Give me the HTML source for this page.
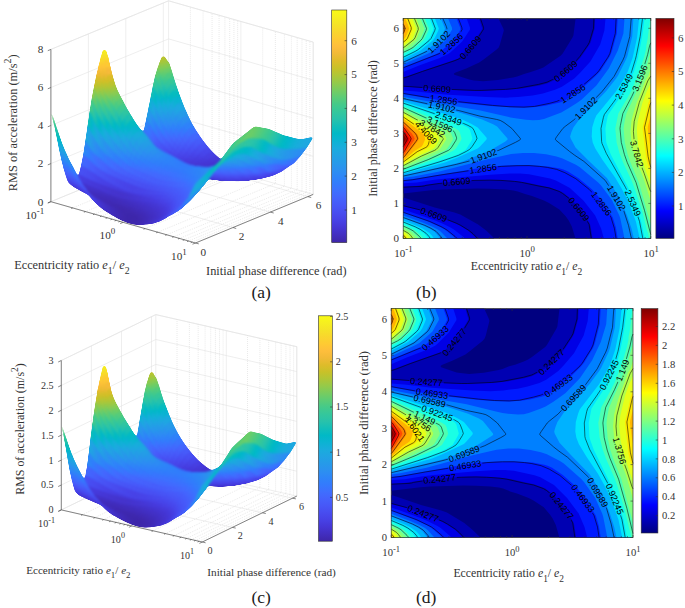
<!DOCTYPE html><html><head><meta charset="utf-8"><title>figure</title><style>html,body{margin:0;padding:0;background:#fff}svg{display:block}</style></head><body>
<svg width="685" height="608" viewBox="0 0 685 608" font-family="Liberation Serif">
<rect width="685" height="608" fill="#fff"/>
<defs><linearGradient id="gj" x1="0" y1="1" x2="0" y2="0"><stop offset="0.0000" stop-color="#000080"/><stop offset="0.0250" stop-color="#000099"/><stop offset="0.0500" stop-color="#0000b2"/><stop offset="0.0750" stop-color="#0000cc"/><stop offset="0.1000" stop-color="#0000e6"/><stop offset="0.1250" stop-color="#0000ff"/><stop offset="0.1500" stop-color="#001aff"/><stop offset="0.1750" stop-color="#0033ff"/><stop offset="0.2000" stop-color="#004dff"/><stop offset="0.2250" stop-color="#0066ff"/><stop offset="0.2500" stop-color="#0080ff"/><stop offset="0.2750" stop-color="#0099ff"/><stop offset="0.3000" stop-color="#00b2ff"/><stop offset="0.3250" stop-color="#00ccff"/><stop offset="0.3500" stop-color="#00e5ff"/><stop offset="0.3750" stop-color="#00ffff"/><stop offset="0.4000" stop-color="#1affe5"/><stop offset="0.4250" stop-color="#33ffcc"/><stop offset="0.4500" stop-color="#4dffb2"/><stop offset="0.4750" stop-color="#66ff99"/><stop offset="0.5000" stop-color="#80ff80"/><stop offset="0.5250" stop-color="#99ff66"/><stop offset="0.5500" stop-color="#b3ff4c"/><stop offset="0.5750" stop-color="#ccff33"/><stop offset="0.6000" stop-color="#e5ff1a"/><stop offset="0.6250" stop-color="#ffff00"/><stop offset="0.6500" stop-color="#ffe500"/><stop offset="0.6750" stop-color="#ffcc00"/><stop offset="0.7000" stop-color="#ffb300"/><stop offset="0.7250" stop-color="#ff9900"/><stop offset="0.7500" stop-color="#ff8000"/><stop offset="0.7750" stop-color="#ff6600"/><stop offset="0.8000" stop-color="#ff4c00"/><stop offset="0.8250" stop-color="#ff3300"/><stop offset="0.8500" stop-color="#ff1a00"/><stop offset="0.8750" stop-color="#ff0000"/><stop offset="0.9000" stop-color="#e50000"/><stop offset="0.9250" stop-color="#cc0000"/><stop offset="0.9500" stop-color="#b30000"/><stop offset="0.9750" stop-color="#990000"/><stop offset="1.0000" stop-color="#800000"/></linearGradient><linearGradient id="gp" x1="0" y1="1" x2="0" y2="0"><stop offset="0.0000" stop-color="#3e26a8"/><stop offset="0.0312" stop-color="#422ebf"/><stop offset="0.0625" stop-color="#4536d5"/><stop offset="0.0938" stop-color="#4741e5"/><stop offset="0.1250" stop-color="#484cef"/><stop offset="0.1562" stop-color="#4757f7"/><stop offset="0.1875" stop-color="#4562fc"/><stop offset="0.2188" stop-color="#3f6efe"/><stop offset="0.2500" stop-color="#347afd"/><stop offset="0.2812" stop-color="#2e85f8"/><stop offset="0.3125" stop-color="#2c90f0"/><stop offset="0.3438" stop-color="#269ae9"/><stop offset="0.3750" stop-color="#21a3e3"/><stop offset="0.4062" stop-color="#1aacdd"/><stop offset="0.4375" stop-color="#0cb3d3"/><stop offset="0.4688" stop-color="#01b9c6"/><stop offset="0.5000" stop-color="#12beb9"/><stop offset="0.5312" stop-color="#28c2ab"/><stop offset="0.5625" stop-color="#34c79c"/><stop offset="0.5938" stop-color="#44ca8a"/><stop offset="0.6250" stop-color="#5ccc76"/><stop offset="0.6562" stop-color="#77cc60"/><stop offset="0.6875" stop-color="#94ca4a"/><stop offset="0.7188" stop-color="#afc637"/><stop offset="0.7500" stop-color="#c8c129"/><stop offset="0.7812" stop-color="#debc2a"/><stop offset="0.8125" stop-color="#f1ba37"/><stop offset="0.8438" stop-color="#febe3c"/><stop offset="0.8750" stop-color="#feca33"/><stop offset="0.9062" stop-color="#f9d62d"/><stop offset="0.9375" stop-color="#f5e327"/><stop offset="0.9688" stop-color="#f6ef20"/><stop offset="1.0000" stop-color="#f9fb15"/></linearGradient><filter id="sm" x="-5%" y="-5%" width="110%" height="110%" color-interpolation-filters="sRGB"><feGaussianBlur stdDeviation="0.9"/><feComponentTransfer><feFuncA type="linear" slope="5" intercept="-2"/></feComponentTransfer></filter></defs>
<path d="M50.9,201.7L168.6,153.1L313.2,194.4M50.9,163.6L168.6,115L313.2,156.3M50.9,125.5L168.6,76.9L313.2,118.2M50.9,87.5L168.6,38.9L313.2,80.2M50.9,49.4L168.6,0.8L313.2,42.1M195.5,243L50.9,201.7L50.9,49.4M233,227.5L88.4,186.2L88.4,33.9M270.4,212.1L125.8,170.8L125.8,18.4M307.9,196.6L163.3,155.3L163.3,3M50.9,201.7L168.6,153.1L168.6,0.8M123.2,222.3L240.9,173.8L240.9,21.4M195.5,243L313.2,194.4L313.2,42.1M50.9,49.4L168.6,0.8L313.2,42.1M313.2,194.4L313.2,42.1" fill="none" stroke="#e2e2e2" stroke-width="0.6"/>
<path d="M72.7,207.9L190.4,159.3L190.4,7M85.4,211.6L203.1,163L203.1,10.6M94.4,214.1L212.1,165.5L212.1,13.2M101.4,216.1L219.1,167.5L219.1,15.2M107.2,217.8L224.9,169.2L224.9,16.8M112,219.2L229.7,170.6L229.7,18.2M116.2,220.3L233.9,171.7L233.9,19.4M119.9,221.4L237.6,172.8L237.6,20.5M145,228.6L262.7,180L262.7,27.6M157.7,232.2L275.4,183.6L275.4,31.3M166.7,234.8L284.4,186.2L284.4,33.9M173.7,236.8L291.4,188.2L291.4,35.9M179.5,238.4L297.2,189.8L297.2,37.5M184.3,239.8L302,191.2L302,38.9M188.5,241L306.2,192.4L306.2,40.1M192.2,242.1L309.9,193.5L309.9,41.1" fill="none" stroke="#d4d4d4" stroke-width="0.6" stroke-dasharray="0.8,1.2"/>
<g stroke-width="0.7" stroke-linejoin="round" fill="currentColor" stroke="currentColor" filter="url(#sm)">
<path d="M166.4,60l0.3,0.8l2.2,2.5l-0.3,-0.7Z" color="#9cc944"/>
<path d="M164.2,56.4l0.3,1.1l2.2,3.3l-0.3,-0.8Z" color="#b6c532"/>
<path d="M162.1,56.9l0.3,1.2l2.1,-0.6l-0.3,-1.1Z" color="#c5c22a"/>
<path d="M159.9,62.4l0.3,0.8l2.2,-5.1l-0.3,-1.2Z" color="#b8c431"/>
<path d="M157.7,68.7l0.3,0.6l2.2,-6.1l-0.3,-0.8Z" color="#98c947"/>
<path d="M155.5,75.8l0.3,0.7l2.2,-7.2l-0.3,-0.6Z" color="#70cd65"/>
<path d="M153.3,85.6l0.3,0.6l2.2,-9.7l-0.3,-0.7Z" color="#41ca8c"/>
<path d="M151.2,96.5l0.3,0.6l2.1,-10.9l-0.3,-0.6Z" color="#20c1b1"/>
<path d="M149,107.5l0.3,0.5l2.2,-10.9l-0.3,-0.6Z" color="#09b4d1"/>
<path d="M146.8,118.2l0.3,0.5l2.2,-10.7l-0.3,-0.5Z" color="#23a0e5"/>
<path d="M144.6,128.7l0.3,0.5l2.2,-10.5l-0.3,-0.5Z" color="#2d89f5"/>
<path d="M142.4,138.6l0.3,0.4l2.2,-9.8l-0.3,-0.5Z" color="#3f6fff"/>
<path d="M140.3,144.8l0.3,0.2l2.1,-6l-0.3,-0.4Z" color="#475bf9"/>
<path d="M138.1,150.3l0.3,0.3l2.2,-5.6l-0.3,-0.2Z" color="#484ef1"/>
<path d="M135.9,155.6l0.3,0.2l2.2,-5.2l-0.3,-0.3Z" color="#4741e5"/>
<path d="M133.7,157.9l0.3,0.1l2.2,-2.2l-0.3,-0.2Z" color="#463adb"/>
<path d="M131.5,153.6l0.3,0.1l2.2,4.3l-0.3,-0.1Z" color="#473fe2"/>
<path d="M129.4,147.7l0.3,0.1l2.1,5.9l-0.3,-0.1Z" color="#484ff2"/>
<path d="M127.2,140.4l0.3,0.3l2.2,7.1l-0.3,-0.1Z" color="#4563fd"/>
<path d="M125,131.4l0.3,0.3l2.2,9l-0.3,-0.3Z" color="#317efb"/>
<path d="M122.8,121.4l0.3,0.5l2.2,9.8l-0.3,-0.3Z" color="#2798ea"/>
<path d="M120.6,111.4l0.3,0.6l2.2,9.9l-0.3,-0.5Z" color="#15afd8"/>
<path d="M118.5,101.9l0.3,0.6l2.1,9.5l-0.3,-0.6Z" color="#14beb8"/>
<path d="M116.3,92.5l0.3,0.7l2.2,9.3l-0.3,-0.6Z" color="#3cc991"/>
<path d="M114.1,84.1l0.3,0.7l2.2,8.4l-0.3,-0.7Z" color="#77cc60"/>
<path d="M111.9,75.9l0.3,0.9l2.2,8l-0.3,-0.7Z" color="#b5c533"/>
<path d="M109.8,66.5l0.2,1.4l2.2,8.9l-0.3,-0.9Z" color="#e9bb30"/>
<path d="M107.6,56.7l0.3,1.7l2.1,9.5l-0.2,-1.4Z" color="#fdcb33"/>
<path d="M105.4,50.1l0.3,1.2l2.2,7.1l-0.3,-1.7Z" color="#f5e725"/>
<path d="M103.2,50.3l0.3,1.2l2.2,-0.2l-0.3,-1.2Z" color="#f7f31c"/>
<path d="M101,57.8l0.3,1.4l2.2,-7.7l-0.3,-1.2Z" color="#f5eb23"/>
<path d="M98.9,66.1l0.3,1.5l2.1,-8.4l-0.3,-1.4Z" color="#fad52d"/>
<path d="M96.7,75.2l0.3,1.6l2.2,-9.2l-0.3,-1.5Z" color="#febe3c"/>
<path d="M94.5,85.9l0.3,1.2l2.2,-10.3l-0.3,-1.6Z" color="#dabd28"/>
<path d="M92.3,97.4l0.3,0.9l2.2,-11.2l-0.3,-1.2Z" color="#9dc943"/>
<path d="M90.1,111.1l0.3,0.7l2.2,-13.5l-0.3,-0.9Z" color="#4fcc80"/>
<path d="M88,125.6l0.3,0.6l2.1,-14.4l-0.3,-0.7Z" color="#19bfb5"/>
<path d="M85.8,140.7l0.3,0.5l2.2,-15l-0.3,-0.6Z" color="#1babde"/>
<path d="M83.6,155.1l0.3,0.2l2.2,-14.1l-0.3,-0.5Z" color="#2d8bf4"/>
<path d="M81.4,166l0.3,0.1l2.2,-10.8l-0.3,-0.2Z" color="#426afe"/>
<path d="M79.2,174.8l0.3,0.1l2.2,-8.8l-0.3,-0.1Z" color="#4852f4"/>
<path d="M77.1,180.6l0.3,0.1l2.1,-5.8l-0.3,-0.1Z" color="#4740e4"/>
<path d="M74.9,185l0.3,0.1l2.2,-4.4l-0.3,-0.1Z" color="#4536d3"/>
<path d="M72.7,185.7l0.3,0.2l2.2,-0.8l-0.3,-0.1Z" color="#4332cb"/>
<path d="M70.5,183.9l0.3,0.2l2.2,1.8l-0.3,-0.2Z" color="#4535d2"/>
<path d="M68.3,181.8l0.3,0.2l2.2,2.1l-0.3,-0.2Z" color="#463cde"/>
<path d="M66.2,175.6l0.3,0.3l2.1,6.1l-0.3,-0.2Z" color="#484aed"/>
<path d="M64,168.2l0.3,0.4l2.2,7.3l-0.3,-0.3Z" color="#465efb"/>
<path d="M61.8,159.5l0.3,0.5l2.2,8.6l-0.3,-0.4Z" color="#3678fd"/>
<path d="M59.6,149.4l0.3,0.6l2.2,10l-0.3,-0.5Z" color="#2a93ed"/>
<path d="M57.4,138.2l0.3,0.6l2.2,11.2l-0.3,-0.6Z" color="#19addc"/>
<path d="M55.3,128.1l0.3,0.6l2.1,10.1l-0.3,-0.6Z" color="#11beb9"/>
<path d="M53.1,118.3l0.3,0.7l2.2,9.7l-0.3,-0.6Z" color="#3cc991"/>
<path d="M50.9,112.3l0.3,0.9l2.2,5.8l-0.3,-0.7Z" color="#70cd65"/>
<path d="M166.7,60.8l0.7,2l2.2,2.2l-0.7,-1.7Z" color="#95ca4a"/>
<path d="M164.5,57.5l0.7,2.7l2.2,2.6l-0.7,-2Z" color="#acc738"/>
<path d="M162.4,58.1l0.6,2.8l2.2,-0.7l-0.7,-2.7Z" color="#bac430"/>
<path d="M160.2,63.2l0.7,2.1l2.1,-4.4l-0.6,-2.8Z" color="#aec637"/>
<path d="M158,69.3l0.7,1.5l2.2,-5.5l-0.7,-2.1Z" color="#91ca4d"/>
<path d="M155.8,76.5l0.7,2l2.2,-7.7l-0.7,-1.5Z" color="#68cd6b"/>
<path d="M153.6,86.2l0.7,1.7l2.2,-9.4l-0.7,-2Z" color="#3cc991"/>
<path d="M151.5,97.1l0.6,1.5l2.2,-10.7l-0.7,-1.7Z" color="#1bc0b4"/>
<path d="M149.3,108l0.7,1.5l2.1,-10.9l-0.6,-1.5Z" color="#0db3d4"/>
<path d="M147.1,118.7l0.7,1.5l2.2,-10.7l-0.7,-1.5Z" color="#249ee6"/>
<path d="M144.9,129.2l0.7,1.3l2.2,-10.3l-0.7,-1.5Z" color="#2e87f7"/>
<path d="M142.7,139l0.7,0.9l2.2,-9.4l-0.7,-1.3Z" color="#406dfe"/>
<path d="M140.6,145l0.6,0.7l2.2,-5.8l-0.7,-0.9Z" color="#475af9"/>
<path d="M138.4,150.6l0.7,0.6l2.1,-5.5l-0.6,-0.7Z" color="#484df0"/>
<path d="M136.2,155.8l0.7,0.2l2.2,-4.8l-0.7,-0.6Z" color="#4741e5"/>
<path d="M134,158l0.7,0.2l2.2,-2.2l-0.7,-0.2Z" color="#463adb"/>
<path d="M131.8,153.7l0.7,0.3l2.2,4.2l-0.7,-0.2Z" color="#473fe2"/>
<path d="M129.7,147.8l0.6,0.4l2.2,5.8l-0.7,-0.3Z" color="#484ff2"/>
<path d="M127.5,140.7l0.7,0.6l2.1,6.9l-0.6,-0.4Z" color="#4563fc"/>
<path d="M125.3,131.7l0.7,0.8l2.2,8.8l-0.7,-0.6Z" color="#317dfc"/>
<path d="M123.1,121.9l0.7,1.1l2.2,9.5l-0.7,-0.8Z" color="#2797eb"/>
<path d="M120.9,112l0.7,1.3l2.2,9.7l-0.7,-1.1Z" color="#17aeda"/>
<path d="M118.8,102.5l0.6,1.6l2.2,9.2l-0.7,-1.3Z" color="#0ebebb"/>
<path d="M116.6,93.2l0.7,1.7l2.1,9.2l-0.6,-1.6Z" color="#38c896"/>
<path d="M114.4,84.8l0.7,1.9l2.2,8.2l-0.7,-1.7Z" color="#6fcd66"/>
<path d="M112.2,76.8l0.7,2.4l2.2,7.5l-0.7,-1.9Z" color="#adc638"/>
<path d="M110,67.9l0.7,3.3l2.2,8l-0.7,-2.4Z" color="#e1bc2b"/>
<path d="M107.9,58.4l0.6,4.3l2.2,8.5l-0.7,-3.3Z" color="#fec438"/>
<path d="M105.7,51.3l0.7,3.2l2.1,8.2l-0.6,-4.3Z" color="#f6df29"/>
<path d="M103.5,51.5l0.7,3.3l2.2,-0.3l-0.7,-3.2Z" color="#f5ed21"/>
<path d="M101.3,59.2l0.7,3.6l2.2,-8l-0.7,-3.3Z" color="#f5e427"/>
<path d="M99.2,67.6l0.6,3.7l2.2,-8.5l-0.7,-3.6Z" color="#fdce31"/>
<path d="M97,76.8l0.6,3.8l2.2,-9.3l-0.6,-3.7Z" color="#f7ba3c"/>
<path d="M94.8,87.1l0.7,2.8l2.1,-9.3l-0.6,-3.8Z" color="#cec028"/>
<path d="M92.6,98.3l0.7,2.4l2.2,-10.8l-0.7,-2.8Z" color="#92ca4c"/>
<path d="M90.4,111.8l0.7,1.9l2.2,-13l-0.7,-2.4Z" color="#47cb87"/>
<path d="M88.3,126.2l0.6,1.4l2.2,-13.9l-0.7,-1.9Z" color="#13beb8"/>
<path d="M86.1,141.2l0.6,1.4l2.2,-15l-0.6,-1.4Z" color="#1ca9df"/>
<path d="M83.9,155.3l0.7,0.5l2.1,-13.2l-0.6,-1.4Z" color="#2d8af5"/>
<path d="M81.7,166.1l0.7,0.3l2.2,-10.6l-0.7,-0.5Z" color="#426afe"/>
<path d="M79.5,174.9l0.7,0.3l2.2,-8.8l-0.7,-0.3Z" color="#4851f4"/>
<path d="M77.4,180.7l0.6,0.3l2.2,-5.8l-0.7,-0.3Z" color="#4740e4"/>
<path d="M75.2,185.1l0.6,0.3l2.2,-4.4l-0.6,-0.3Z" color="#4536d3"/>
<path d="M73,185.9l0.7,0.4l2.1,-0.9l-0.6,-0.3Z" color="#4332ca"/>
<path d="M70.8,184.1l0.7,0.4l2.2,1.8l-0.7,-0.4Z" color="#4435d1"/>
<path d="M68.6,182l0.7,0.5l2.2,2l-0.7,-0.4Z" color="#463bde"/>
<path d="M66.5,175.9l0.6,0.7l2.2,5.9l-0.7,-0.5Z" color="#4849ed"/>
<path d="M64.3,168.6l0.6,1l2.2,7l-0.6,-0.7Z" color="#465dfa"/>
<path d="M62.1,160l0.7,1.2l2.1,8.4l-0.6,-1Z" color="#3776fe"/>
<path d="M59.9,150l0.7,1.3l2.2,9.9l-0.7,-1.2Z" color="#2b91ef"/>
<path d="M57.7,138.8l0.7,1.6l2.2,10.9l-0.7,-1.3Z" color="#1aabdd"/>
<path d="M55.6,128.7l0.6,1.6l2.2,10.1l-0.7,-1.6Z" color="#0bbdbd"/>
<path d="M53.4,119l0.6,2l2.2,9.3l-0.6,-1.6Z" color="#38c896"/>
<path d="M51.2,113.2l0.7,2.2l2.1,5.6l-0.6,-2Z" color="#67cd6c"/>
<path d="M167.4,62.8l1,3.1l2.1,1.8l-0.9,-2.7Z" color="#86cb55"/>
<path d="M165.2,60.2l1,3.6l2.2,2.1l-1,-3.1Z" color="#9bc945"/>
<path d="M163,60.9l1,3.8l2.2,-0.9l-1,-3.6Z" color="#a6c73c"/>
<path d="M160.9,65.3l0.9,3.4l2.2,-4l-1,-3.8Z" color="#9bc944"/>
<path d="M158.7,70.8l0.9,2.5l2.2,-4.6l-0.9,-3.4Z" color="#81cc58"/>
<path d="M156.5,78.5l1,3.1l2.1,-8.3l-0.9,-2.5Z" color="#5bcc76"/>
<path d="M154.3,87.9l1,2.5l2.2,-8.8l-1,-3.1Z" color="#35c79a"/>
<path d="M152.1,98.6l1,2.3l2.2,-10.5l-1,-2.5Z" color="#10beba"/>
<path d="M150,109.5l0.9,2.3l2.2,-10.9l-1,-2.3Z" color="#14b0d8"/>
<path d="M147.8,120.2l0.9,2.1l2.2,-10.5l-0.9,-2.3Z" color="#259be8"/>
<path d="M145.6,130.5l1,1.9l2.1,-10.1l-0.9,-2.1Z" color="#2e83f9"/>
<path d="M143.4,139.9l1,1.2l2.2,-8.7l-1,-1.9Z" color="#426afe"/>
<path d="M141.2,145.7l1,1.1l2.2,-5.7l-1,-1.2Z" color="#4758f8"/>
<path d="M139.1,151.2l0.9,1l2.2,-5.4l-1,-1.1Z" color="#484bef"/>
<path d="M136.9,156l0.9,0.4l2.2,-4.2l-0.9,-1Z" color="#4740e3"/>
<path d="M134.7,158.2l1,0.3l2.1,-2.1l-0.9,-0.4Z" color="#463ada"/>
<path d="M132.5,154l1,0.5l2.2,4l-1,-0.3Z" color="#473ee1"/>
<path d="M130.3,148.2l1,0.5l2.2,5.8l-1,-0.5Z" color="#484ef1"/>
<path d="M128.2,141.3l0.9,1l2.2,6.4l-1,-0.5Z" color="#4562fc"/>
<path d="M126,132.5l0.9,1.2l2.2,8.6l-0.9,-1Z" color="#337bfd"/>
<path d="M123.8,123l1,1.6l2.1,9.1l-0.9,-1.2Z" color="#2995ec"/>
<path d="M121.6,113.3l1,2.1l2.2,9.2l-1,-1.6Z" color="#1aacdd"/>
<path d="M119.4,104.1l1,2.4l2.2,8.9l-1,-2.1Z" color="#06bcc0"/>
<path d="M117.3,94.9l0.9,2.7l2.2,8.9l-1,-2.4Z" color="#33c69d"/>
<path d="M115.1,86.7l0.9,2.8l2.2,8.1l-0.9,-2.7Z" color="#61cd71"/>
<path d="M112.9,79.2l1,3.3l2.1,7l-0.9,-2.8Z" color="#9dc943"/>
<path d="M110.7,71.2l1,4.4l2.2,6.9l-1,-3.3Z" color="#d0bf27"/>
<path d="M108.5,62.7l1,6.2l2.2,6.7l-1,-4.4Z" color="#f8ba3d"/>
<path d="M106.4,54.5l0.9,5.6l2.2,8.8l-1,-6.2Z" color="#fbd12f"/>
<path d="M104.2,54.8l0.9,5.3l2.2,0l-0.9,-5.6Z" color="#f5e128"/>
<path d="M102,62.8l1,5.7l2.1,-8.4l-0.9,-5.3Z" color="#f9d72c"/>
<path d="M99.8,71.3l1,5.7l2.2,-8.5l-1,-5.7Z" color="#fec13a"/>
<path d="M97.6,80.6l1,5.1l2.2,-8.7l-1,-5.7Z" color="#e4bb2c"/>
<path d="M95.5,89.9l0.9,3.9l2.2,-8.1l-1,-5.1Z" color="#b8c431"/>
<path d="M93.3,100.7l0.9,3.4l2.2,-10.3l-0.9,-3.9Z" color="#7dcc5b"/>
<path d="M91.1,113.7l1,2.8l2.1,-12.4l-0.9,-3.4Z" color="#3cc992"/>
<path d="M88.9,127.6l1,2.1l2.2,-13.2l-1,-2.8Z" color="#08bcbf"/>
<path d="M86.7,142.6l1,1.9l2.2,-14.8l-1,-2.1Z" color="#1fa6e2"/>
<path d="M84.6,155.8l0.9,0.8l2.2,-12.1l-1,-1.9Z" color="#2d87f6"/>
<path d="M82.4,166.4l0.9,0.5l2.2,-10.3l-0.9,-0.8Z" color="#4269fe"/>
<path d="M80.2,175.2l1,0.5l2.1,-8.8l-0.9,-0.5Z" color="#4851f3"/>
<path d="M78,181l1,0.4l2.2,-5.7l-1,-0.5Z" color="#4740e3"/>
<path d="M75.8,185.4l1,0.3l2.2,-4.3l-1,-0.4Z" color="#4535d2"/>
<path d="M73.7,186.3l0.9,0.5l2.2,-1.1l-1,-0.3Z" color="#4332c9"/>
<path d="M71.5,184.5l0.9,0.6l2.2,1.7l-0.9,-0.5Z" color="#4434d0"/>
<path d="M69.3,182.5l1,0.7l2.1,1.9l-0.9,-0.6Z" color="#463bdc"/>
<path d="M67.1,176.6l1,1.1l2.2,5.5l-1,-0.7Z" color="#4747eb"/>
<path d="M64.9,169.6l1,1.5l2.2,6.6l-1,-1.1Z" color="#475bf9"/>
<path d="M62.8,161.2l0.9,1.7l2.2,8.2l-1,-1.5Z" color="#3b73fe"/>
<path d="M60.6,151.3l0.9,2.1l2.2,9.5l-0.9,-1.7Z" color="#2c8ef1"/>
<path d="M58.4,140.4l1,2.4l2.1,10.6l-0.9,-2.1Z" color="#1da8e0"/>
<path d="M56.2,130.3l1,2.5l2.2,10l-1,-2.4Z" color="#03bbc2"/>
<path d="M54,121l1,3.1l2.2,8.7l-1,-2.5Z" color="#32c69e"/>
<path d="M51.9,115.4l0.9,3.3l2.2,5.4l-1,-3.1Z" color="#58cc79"/>
<path d="M168.4,65.9l1.2,3.9l2.1,1.7l-1.2,-3.8Z" color="#70cd65"/>
<path d="M166.2,63.8l1.2,4.1l2.2,1.9l-1.2,-3.9Z" color="#83cc57"/>
<path d="M164,64.7l1.2,4.2l2.2,-1l-1.2,-4.1Z" color="#8ecb4f"/>
<path d="M161.8,68.7l1.2,4l2.2,-3.8l-1.2,-4.2Z" color="#83cc57"/>
<path d="M159.6,73.3l1.2,3.5l2.2,-4.1l-1.2,-4Z" color="#6ccd68"/>
<path d="M157.5,81.6l1.2,3.8l2.1,-8.6l-1.2,-3.5Z" color="#4acb85"/>
<path d="M155.3,90.4l1.2,3.1l2.2,-8.1l-1.2,-3.8Z" color="#2ec4a5"/>
<path d="M153.1,100.9l1.2,2.9l2.2,-10.3l-1.2,-3.1Z" color="#04bbc2"/>
<path d="M150.9,111.8l1.2,2.8l2.2,-10.8l-1.2,-2.9Z" color="#1aabdd"/>
<path d="M148.7,122.3l1.3,2.6l2.1,-10.3l-1.2,-2.8Z" color="#2896ec"/>
<path d="M146.6,132.4l1.2,2.4l2.2,-9.9l-1.3,-2.6Z" color="#317efb"/>
<path d="M144.4,141.1l1.2,1.5l2.2,-7.8l-1.2,-2.4Z" color="#4466fd"/>
<path d="M142.2,146.8l1.2,1.3l2.2,-5.5l-1.2,-1.5Z" color="#4755f6"/>
<path d="M140,152.2l1.2,1.1l2.2,-5.2l-1.2,-1.3Z" color="#4849ed"/>
<path d="M137.8,156.4l1.3,0.5l2.1,-3.6l-1.2,-1.1Z" color="#473fe2"/>
<path d="M135.7,158.5l1.2,0.4l2.2,-2l-1.3,-0.5Z" color="#4639da"/>
<path d="M133.5,154.5l1.2,0.6l2.2,3.8l-1.2,-0.4Z" color="#463ee1"/>
<path d="M131.3,148.7l1.2,0.7l2.2,5.7l-1.2,-0.6Z" color="#484ef1"/>
<path d="M129.1,142.3l1.2,1.3l2.2,5.8l-1.2,-0.7Z" color="#4660fc"/>
<path d="M126.9,133.7l1.3,1.4l2.1,8.5l-1.2,-1.3Z" color="#3678fd"/>
<path d="M124.8,124.6l1.2,2l2.2,8.5l-1.3,-1.4Z" color="#2b92ef"/>
<path d="M122.6,115.4l1.2,2.4l2.2,8.8l-1.2,-2Z" color="#1da8e0"/>
<path d="M120.4,106.5l1.2,2.9l2.2,8.4l-1.2,-2.4Z" color="#01b9c7"/>
<path d="M118.2,97.6l1.2,3.2l2.2,8.6l-1.2,-2.9Z" color="#2cc4a7"/>
<path d="M116,89.5l1.3,3.3l2.1,8l-1.2,-3.2Z" color="#51cc7f"/>
<path d="M113.9,82.5l1.2,3.6l2.2,6.7l-1.3,-3.3Z" color="#89cb53"/>
<path d="M111.7,75.6l1.2,4.5l2.2,6l-1.2,-3.6Z" color="#bbc42f"/>
<path d="M109.5,68.9l1.2,5.8l2.2,5.4l-1.2,-4.5Z" color="#e3bc2c"/>
<path d="M107.3,60.1l1.2,7.6l2.2,7l-1.2,-5.8Z" color="#fec03b"/>
<path d="M105.1,60.1l1.3,7.3l2.1,0.3l-1.2,-7.6Z" color="#fdce31"/>
<path d="M103,68.5l1.2,6.9l2.2,-8l-1.3,-7.3Z" color="#fec537"/>
<path d="M100.8,77l1.2,6.2l2.2,-7.8l-1.2,-6.9Z" color="#eeba34"/>
<path d="M98.6,85.7l1.2,4.8l2.2,-7.3l-1.2,-6.2Z" color="#c9c129"/>
<path d="M96.4,93.8l1.2,4.3l2.2,-7.6l-1.2,-4.8Z" color="#9dc943"/>
<path d="M94.2,104.1l1.3,4l2.1,-10l-1.2,-4.3Z" color="#64cd6f"/>
<path d="M92.1,116.5l1.2,3.3l2.2,-11.7l-1.3,-4Z" color="#32c69e"/>
<path d="M89.9,129.7l1.2,2.6l2.2,-12.5l-1.2,-3.3Z" color="#01b9c6"/>
<path d="M87.7,144.5l1.2,2.3l2.2,-14.5l-1.2,-2.6Z" color="#22a2e4"/>
<path d="M85.5,156.6l1.2,1l2.2,-10.8l-1.2,-2.3Z" color="#2e84f8"/>
<path d="M83.3,166.9l1.3,0.7l2.1,-10l-1.2,-1Z" color="#4368fd"/>
<path d="M81.2,175.7l1.2,0.6l2.2,-8.7l-1.3,-0.7Z" color="#4850f3"/>
<path d="M79,181.4l1.2,0.6l2.2,-5.7l-1.2,-0.6Z" color="#473fe2"/>
<path d="M76.8,185.7l1.2,0.5l2.2,-4.2l-1.2,-0.6Z" color="#4435d1"/>
<path d="M74.6,186.8l1.2,0.7l2.2,-1.3l-1.2,-0.5Z" color="#4331c8"/>
<path d="M72.4,185.1l1.3,0.9l2.1,1.5l-1.2,-0.7Z" color="#4434ce"/>
<path d="M70.3,183.2l1.2,1l2.2,1.8l-1.3,-0.9Z" color="#4639da"/>
<path d="M68.1,177.7l1.2,1.3l2.2,5.2l-1.2,-1Z" color="#4745e9"/>
<path d="M65.9,171.1l1.2,1.9l2.2,6l-1.2,-1.3Z" color="#4758f8"/>
<path d="M63.7,162.9l1.2,2.2l2.2,7.9l-1.2,-1.9Z" color="#3f6eff"/>
<path d="M61.5,153.4l1.3,2.4l2.1,9.3l-1.2,-2.2Z" color="#2d89f5"/>
<path d="M59.4,142.8l1.2,3l2.2,10l-1.3,-2.4Z" color="#21a3e3"/>
<path d="M57.2,132.8l1.2,3.1l2.2,9.9l-1.2,-3Z" color="#01b8ca"/>
<path d="M55,124.1l1.2,3.8l2.2,8l-1.2,-3.1Z" color="#2ac3a9"/>
<path d="M52.8,118.7l1.2,4.3l2.2,4.9l-1.2,-3.8Z" color="#44cb89"/>
<path d="M169.6,69.8l1.4,4.8l2.2,1.9l-1.5,-5Z" color="#56cc7b"/>
<path d="M167.4,67.9l1.4,4.8l2.2,1.9l-1.4,-4.8Z" color="#67cd6c"/>
<path d="M165.2,68.9l1.5,4.7l2.1,-0.9l-1.4,-4.8Z" color="#71cd64"/>
<path d="M163,72.7l1.5,4.7l2.2,-3.8l-1.5,-4.7Z" color="#67cd6d"/>
<path d="M160.8,76.8l1.5,4.5l2.2,-3.9l-1.5,-4.7Z" color="#54cc7d"/>
<path d="M158.7,85.4l1.4,4.2l2.2,-8.3l-1.5,-4.5Z" color="#39c895"/>
<path d="M156.5,93.5l1.4,3.6l2.2,-7.5l-1.4,-4.2Z" color="#21c1b0"/>
<path d="M154.3,103.8l1.5,3.6l2.1,-10.3l-1.4,-3.6Z" color="#02b7cb"/>
<path d="M152.1,114.6l1.5,3.3l2.2,-10.5l-1.5,-3.6Z" color="#1fa6e2"/>
<path d="M150,124.9l1.4,2.9l2.2,-9.9l-1.5,-3.3Z" color="#2c8ff0"/>
<path d="M147.8,134.8l1.4,2.5l2.2,-9.5l-1.4,-2.9Z" color="#3677fe"/>
<path d="M145.6,142.6l1.4,1.6l2.2,-6.9l-1.4,-2.5Z" color="#4561fc"/>
<path d="M143.4,148.1l1.5,1.5l2.1,-5.4l-1.4,-1.6Z" color="#4852f4"/>
<path d="M141.2,153.3l1.5,1.1l2.2,-4.8l-1.5,-1.5Z" color="#4746eb"/>
<path d="M139.1,156.9l1.4,0.6l2.2,-3.1l-1.5,-1.1Z" color="#463ee0"/>
<path d="M136.9,158.9l1.4,0.4l2.2,-1.8l-1.4,-0.6Z" color="#4639da"/>
<path d="M134.7,155.1l1.4,0.8l2.2,3.4l-1.4,-0.4Z" color="#463ee1"/>
<path d="M132.5,149.4l1.5,0.8l2.1,5.7l-1.4,-0.8Z" color="#484df0"/>
<path d="M130.3,143.6l1.5,1.4l2.2,5.2l-1.5,-0.8Z" color="#465efb"/>
<path d="M128.2,135.1l1.4,1.7l2.2,8.2l-1.5,-1.4Z" color="#3975fe"/>
<path d="M126,126.6l1.4,2.1l2.2,8.1l-1.4,-1.7Z" color="#2c8ef1"/>
<path d="M123.8,117.8l1.4,2.7l2.2,8.2l-1.4,-2.1Z" color="#20a4e3"/>
<path d="M121.6,109.4l1.5,3.1l2.1,8l-1.4,-2.7Z" color="#06b5ce"/>
<path d="M119.4,100.8l1.5,3.6l2.2,8.1l-1.5,-3.1Z" color="#20c1b1"/>
<path d="M117.3,92.8l1.4,3.8l2.2,7.8l-1.5,-3.6Z" color="#3fca8e"/>
<path d="M115.1,86.1l1.4,3.8l2.2,6.7l-1.4,-3.8Z" color="#71cd64"/>
<path d="M112.9,80.1l1.5,4.3l2.1,5.5l-1.4,-3.8Z" color="#a3c83e"/>
<path d="M110.7,74.7l1.5,4.7l2.2,5l-1.5,-4.3Z" color="#cbc029"/>
<path d="M108.5,67.7l1.5,7.3l2.2,4.4l-1.5,-4.7Z" color="#ebba32"/>
<path d="M106.4,67.4l1.4,7.8l2.2,-0.2l-1.5,-7.3Z" color="#fabb3d"/>
<path d="M104.2,75.4l1.4,6.7l2.2,-6.9l-1.4,-7.8Z" color="#f0ba36"/>
<path d="M102,83.2l1.5,5.3l2.1,-6.4l-1.4,-6.7Z" color="#d0bf27"/>
<path d="M99.8,90.5l1.5,4.4l2.2,-6.4l-1.5,-5.3Z" color="#acc739"/>
<path d="M97.6,98.1l1.5,4.3l2.2,-7.5l-1.5,-4.4Z" color="#80cc59"/>
<path d="M95.5,108.1l1.4,4.2l2.2,-9.9l-1.5,-4.3Z" color="#4dcb82"/>
<path d="M93.3,119.8l1.4,3.4l2.2,-10.9l-1.4,-4.2Z" color="#28c3ab"/>
<path d="M91.1,132.3l1.5,2.8l2.1,-11.9l-1.4,-3.4Z" color="#06b6ce"/>
<path d="M88.9,146.8l1.5,2.3l2.2,-14l-1.5,-2.8Z" color="#249de7"/>
<path d="M86.7,157.6l1.5,1.2l2.2,-9.7l-1.5,-2.3Z" color="#2f81fa"/>
<path d="M84.6,167.6l1.4,0.8l2.2,-9.6l-1.5,-1.2Z" color="#4466fd"/>
<path d="M82.4,176.3l1.4,0.8l2.2,-8.7l-1.4,-0.8Z" color="#484ff2"/>
<path d="M80.2,182l1.5,0.6l2.1,-5.5l-1.4,-0.8Z" color="#473ee2"/>
<path d="M78,186.2l1.5,0.6l2.2,-4.2l-1.5,-0.6Z" color="#4435d1"/>
<path d="M75.8,187.5l1.5,0.8l2.2,-1.5l-1.5,-0.6Z" color="#4331c7"/>
<path d="M73.7,186l1.4,0.9l2.2,1.4l-1.5,-0.8Z" color="#4433cc"/>
<path d="M71.5,184.2l1.4,1l2.2,1.7l-1.4,-0.9Z" color="#4538d8"/>
<path d="M69.3,179l1.5,1.6l2.1,4.6l-1.4,-1Z" color="#4743e7"/>
<path d="M67.1,173l1.5,2l2.2,5.6l-1.5,-1.6Z" color="#4854f5"/>
<path d="M64.9,165.1l1.5,2.4l2.2,7.5l-1.5,-2Z" color="#4269fe"/>
<path d="M62.8,155.8l1.4,2.8l2.2,8.9l-1.5,-2.4Z" color="#2e84f8"/>
<path d="M60.6,145.8l1.4,3.4l2.2,9.4l-1.4,-2.8Z" color="#249de6"/>
<path d="M58.4,135.9l1.5,3.6l2.1,9.7l-1.4,-3.4Z" color="#0cb3d3"/>
<path d="M56.2,127.9l1.5,4.6l2.2,7l-1.5,-3.6Z" color="#1ac0b4"/>
<path d="M54,123l1.5,5l2.2,4.5l-1.5,-4.6Z" color="#34c79b"/>
<path d="M171,74.6l1.7,5.6l2.2,1.9l-1.7,-5.6Z" color="#3cc991"/>
<path d="M168.8,72.7l1.7,5.5l2.2,2l-1.7,-5.6Z" color="#4acb84"/>
<path d="M166.7,73.6l1.6,5.4l2.2,-0.8l-1.7,-5.5Z" color="#53cc7d"/>
<path d="M164.5,77.4l1.7,5.2l2.1,-3.6l-1.6,-5.4Z" color="#4acb84"/>
<path d="M162.3,81.3l1.7,5.2l2.2,-3.9l-1.7,-5.2Z" color="#3cc991"/>
<path d="M160.1,89.6l1.7,4.6l2.2,-7.7l-1.7,-5.2Z" color="#2dc4a6"/>
<path d="M157.9,97.1l1.7,4.3l2.2,-7.2l-1.7,-4.6Z" color="#0abdbd"/>
<path d="M155.8,107.4l1.6,4l2.2,-10l-1.7,-4.3Z" color="#10b2d5"/>
<path d="M153.6,117.9l1.7,3.6l2.1,-10.1l-1.6,-4Z" color="#249ee6"/>
<path d="M151.4,127.8l1.7,3.2l2.2,-9.5l-1.7,-3.6Z" color="#2d88f6"/>
<path d="M149.2,137.3l1.7,2.5l2.2,-8.8l-1.7,-3.2Z" color="#3d70ff"/>
<path d="M147,144.2l1.7,1.8l2.2,-6.2l-1.7,-2.5Z" color="#475dfa"/>
<path d="M144.9,149.6l1.6,1.7l2.2,-5.3l-1.7,-1.8Z" color="#484ff2"/>
<path d="M142.7,154.4l1.7,1.1l2.1,-4.2l-1.6,-1.7Z" color="#4744e8"/>
<path d="M140.5,157.5l1.7,0.6l2.2,-2.6l-1.7,-1.1Z" color="#463cdf"/>
<path d="M138.3,159.3l1.7,0.5l2.2,-1.7l-1.7,-0.6Z" color="#4639d9"/>
<path d="M136.1,155.9l1.7,0.8l2.2,3.1l-1.7,-0.5Z" color="#463de0"/>
<path d="M134,150.2l1.6,0.8l2.2,5.7l-1.7,-0.8Z" color="#484cef"/>
<path d="M131.8,145l1.7,1.5l2.1,4.5l-1.6,-0.8Z" color="#475cfa"/>
<path d="M129.6,136.8l1.7,1.7l2.2,8l-1.7,-1.5Z" color="#3c71ff"/>
<path d="M127.4,128.7l1.7,2.2l2.2,7.6l-1.7,-1.7Z" color="#2d8af4"/>
<path d="M125.2,120.5l1.7,2.8l2.2,7.6l-1.7,-2.2Z" color="#249fe5"/>
<path d="M123.1,112.5l1.6,3.3l2.2,7.5l-1.7,-2.8Z" color="#11b1d6"/>
<path d="M120.9,104.4l1.7,3.8l2.1,7.6l-1.6,-3.3Z" color="#0ebebb"/>
<path d="M118.7,96.6l1.7,4.1l2.2,7.5l-1.7,-3.8Z" color="#34c79c"/>
<path d="M116.5,89.9l1.7,4l2.2,6.8l-1.7,-4.1Z" color="#5bcc77"/>
<path d="M114.4,84.4l1.6,4.1l2.2,5.4l-1.7,-4Z" color="#8acb51"/>
<path d="M112.2,79.4l1.6,4.3l2.2,4.8l-1.6,-4.1Z" color="#b3c534"/>
<path d="M110,75l1.7,5.6l2.1,3.1l-1.6,-4.3Z" color="#d2bf27"/>
<path d="M107.8,75.2l1.7,6.6l2.2,-1.2l-1.7,-5.6Z" color="#dfbc2a"/>
<path d="M105.6,82.1l1.7,5.4l2.2,-5.7l-1.7,-6.6Z" color="#d2bf27"/>
<path d="M103.5,88.5l1.6,3.9l2.2,-4.9l-1.7,-5.4Z" color="#b3c534"/>
<path d="M101.3,94.9l1.6,4l2.2,-6.5l-1.6,-3.9Z" color="#91ca4c"/>
<path d="M99.1,102.4l1.7,4.4l2.1,-7.9l-1.6,-4Z" color="#66cd6d"/>
<path d="M96.9,112.3l1.7,4.1l2.2,-9.6l-1.7,-4.4Z" color="#3ac994"/>
<path d="M94.7,123.2l1.7,3.5l2.2,-10.3l-1.7,-4.1Z" color="#17bfb6"/>
<path d="M92.6,135.1l1.6,3.2l2.2,-11.6l-1.7,-3.5Z" color="#12b1d6"/>
<path d="M90.4,149.1l1.6,2.3l2.2,-13.1l-1.6,-3.2Z" color="#2798ea"/>
<path d="M88.2,158.8l1.7,1.6l2.1,-9l-1.6,-2.3Z" color="#317dfc"/>
<path d="M86,168.4l1.7,1l2.2,-9l-1.7,-1.6Z" color="#4464fd"/>
<path d="M83.8,177.1l1.7,0.8l2.2,-8.5l-1.7,-1Z" color="#484ef1"/>
<path d="M81.7,182.6l1.6,0.8l2.2,-5.5l-1.7,-0.8Z" color="#463ee0"/>
<path d="M79.5,186.8l1.6,0.6l2.2,-4l-1.6,-0.8Z" color="#4434d0"/>
<path d="M77.3,188.3l1.7,0.9l2.1,-1.8l-1.6,-0.6Z" color="#4330c5"/>
<path d="M75.1,186.9l1.7,1l2.2,1.3l-1.7,-0.9Z" color="#4332c9"/>
<path d="M72.9,185.2l1.7,1.2l2.2,1.5l-1.7,-1Z" color="#4537d5"/>
<path d="M70.8,180.6l1.6,1.7l2.2,4.1l-1.7,-1.2Z" color="#4741e4"/>
<path d="M68.6,175l1.6,2.2l2.2,5.1l-1.6,-1.7Z" color="#4850f3"/>
<path d="M66.4,167.5l1.7,2.8l2.1,6.9l-1.6,-2.2Z" color="#4564fd"/>
<path d="M64.2,158.6l1.7,3.1l2.2,8.6l-1.7,-2.8Z" color="#317efb"/>
<path d="M62,149.2l1.7,3.6l2.2,8.9l-1.7,-3.1Z" color="#2797eb"/>
<path d="M59.9,139.5l1.6,4.3l2.2,9l-1.7,-3.6Z" color="#18addb"/>
<path d="M57.7,132.5l1.7,5.2l2.1,6.1l-1.6,-4.3Z" color="#04bbc2"/>
<path d="M55.5,128l1.7,5.2l2.2,4.5l-1.7,-5.2Z" color="#27c2ac"/>
<path d="M172.7,80.2l1.9,5.9l2.2,1.6l-1.9,-5.6Z" color="#2dc4a6"/>
<path d="M170.5,78.2l1.9,6l2.2,1.9l-1.9,-5.9Z" color="#34c79c"/>
<path d="M168.3,79l1.9,5.9l2.2,-0.7l-1.9,-6Z" color="#39c895"/>
<path d="M166.2,82.6l1.8,5.7l2.2,-3.4l-1.9,-5.9Z" color="#35c79a"/>
<path d="M164,86.5l1.9,5.6l2.1,-3.8l-1.8,-5.7Z" color="#2dc4a5"/>
<path d="M161.8,94.2l1.9,5l2.2,-7.1l-1.9,-5.6Z" color="#18bfb6"/>
<path d="M159.6,101.4l1.9,5.5l2.2,-7.7l-1.9,-5Z" color="#02b7cb"/>
<path d="M157.4,111.4l1.9,4.4l2.2,-8.9l-1.9,-5.5Z" color="#1caadf"/>
<path d="M155.3,121.5l1.8,3.9l2.2,-9.6l-1.9,-4.4Z" color="#2796eb"/>
<path d="M153.1,131l1.9,3.3l2.1,-8.9l-1.8,-3.9Z" color="#2f80fa"/>
<path d="M150.9,139.8l1.9,2.4l2.2,-7.9l-1.9,-3.3Z" color="#4269fe"/>
<path d="M148.7,146l1.9,2l2.2,-5.8l-1.9,-2.4Z" color="#4758f8"/>
<path d="M146.5,151.3l1.9,1.7l2.2,-5l-1.9,-2Z" color="#484bef"/>
<path d="M144.4,155.5l1.8,1.1l2.2,-3.6l-1.9,-1.7Z" color="#4741e5"/>
<path d="M142.2,158.1l1.9,0.8l2.1,-2.3l-1.8,-1.1Z" color="#463bdd"/>
<path d="M140,159.8l1.9,0.5l2.2,-1.4l-1.9,-0.8Z" color="#4539d9"/>
<path d="M137.8,156.7l1.9,0.8l2.2,2.8l-1.9,-0.5Z" color="#463ddf"/>
<path d="M135.6,151l1.9,1l2.2,5.5l-1.9,-0.8Z" color="#484bee"/>
<path d="M133.5,146.5l1.8,1.4l2.2,4.1l-1.9,-1Z" color="#475bf9"/>
<path d="M131.3,138.5l1.9,1.9l2.1,7.5l-1.8,-1.4Z" color="#3f6eff"/>
<path d="M129.1,130.9l1.9,2.3l2.2,7.2l-1.9,-1.9Z" color="#2e86f7"/>
<path d="M126.9,123.3l1.9,3l2.2,6.9l-1.9,-2.3Z" color="#269be8"/>
<path d="M124.7,115.8l1.9,3.3l2.2,7.2l-1.9,-3Z" color="#19acdc"/>
<path d="M122.6,108.2l1.8,4l2.2,6.9l-1.9,-3.3Z" color="#02bac5"/>
<path d="M120.4,100.7l1.9,4.3l2.1,7.2l-1.8,-4Z" color="#29c3a9"/>
<path d="M118.2,93.9l1.9,4.4l2.2,6.7l-1.9,-4.3Z" color="#45cb89"/>
<path d="M116,88.5l1.9,4.1l2.2,5.7l-1.9,-4.4Z" color="#71cd64"/>
<path d="M113.8,83.7l1.9,4.4l2.2,4.5l-1.9,-4.1Z" color="#9bc945"/>
<path d="M111.7,80.6l1.8,5.2l2.2,2.3l-1.9,-4.4Z" color="#b9c431"/>
<path d="M109.5,81.8l1.9,5.5l2.1,-1.5l-1.8,-5.2Z" color="#c2c22c"/>
<path d="M107.3,87.5l1.9,3.8l2.2,-4l-1.9,-5.5Z" color="#b5c533"/>
<path d="M105.1,92.4l1.9,3.4l2.2,-4.5l-1.9,-3.8Z" color="#9bc944"/>
<path d="M102.9,98.9l1.9,4.1l2.2,-7.2l-1.9,-3.4Z" color="#79cc5e"/>
<path d="M100.8,106.8l1.8,4.5l2.2,-8.3l-1.9,-4.1Z" color="#4ecc81"/>
<path d="M98.6,116.4l1.9,3.9l2.1,-9l-1.8,-4.5Z" color="#2fc5a3"/>
<path d="M96.4,126.7l1.9,3.5l2.2,-9.9l-1.9,-3.9Z" color="#05bbc1"/>
<path d="M94.2,138.3l1.9,3.4l2.2,-11.5l-1.9,-3.5Z" color="#1aabdd"/>
<path d="M92,151.4l1.9,2.1l2.2,-11.8l-1.9,-3.4Z" color="#2a93ee"/>
<path d="M89.9,160.4l1.8,1.9l2.2,-8.8l-1.9,-2.1Z" color="#3579fd"/>
<path d="M87.7,169.4l1.9,1.1l2.1,-8.2l-1.8,-1.9Z" color="#4562fc"/>
<path d="M85.5,177.9l1.9,0.9l2.2,-8.3l-1.9,-1.1Z" color="#484df0"/>
<path d="M83.3,183.4l1.9,0.8l2.2,-5.4l-1.9,-0.9Z" color="#463ddf"/>
<path d="M81.1,187.4l1.9,0.7l2.2,-3.9l-1.9,-0.8Z" color="#4434cf"/>
<path d="M79,189.2l1.8,0.9l2.2,-2l-1.9,-0.7Z" color="#4230c4"/>
<path d="M76.8,187.9l1.9,1.1l2.1,1.1l-1.8,-0.9Z" color="#4331c7"/>
<path d="M74.6,186.4l1.9,1.3l2.2,1.3l-1.9,-1.1Z" color="#4535d2"/>
<path d="M72.4,182.3l1.9,1.7l2.2,3.7l-1.9,-1.3Z" color="#463ee1"/>
<path d="M70.2,177.2l1.9,2.3l2.2,4.5l-1.9,-1.7Z" color="#484cf0"/>
<path d="M68.1,170.3l1.8,2.8l2.2,6.4l-1.9,-2.3Z" color="#465efb"/>
<path d="M65.9,161.7l1.9,3.3l2.1,8.1l-1.8,-2.8Z" color="#3776fe"/>
<path d="M63.7,152.8l1.9,3.7l2.2,8.5l-1.9,-3.3Z" color="#2c90f0"/>
<path d="M61.5,143.8l1.9,4.7l2.2,8l-1.9,-3.7Z" color="#1fa6e2"/>
<path d="M59.4,137.7l1.8,5.3l2.2,5.5l-1.9,-4.7Z" color="#07b5cf"/>
<path d="M57.2,133.2l1.9,5.3l2.1,4.5l-1.8,-5.3Z" color="#0cbdbc"/>
<path d="M174.6,86.1l2,5.9l2.2,1.5l-2,-5.8Z" color="#13beb8"/>
<path d="M172.4,84.2l2.1,6l2.1,1.8l-2,-5.9Z" color="#22c1af"/>
<path d="M170.2,84.9l2.1,6.1l2.2,-0.8l-2.1,-6Z" color="#28c3aa"/>
<path d="M168,88.3l2.1,6.1l2.2,-3.4l-2.1,-6.1Z" color="#24c1ae"/>
<path d="M165.9,92.1l2,6.1l2.2,-3.8l-2.1,-6.1Z" color="#15bfb8"/>
<path d="M163.7,99.2l2.1,5.8l2.1,-6.8l-2,-6.1Z" color="#01b9c6"/>
<path d="M161.5,106.9l2.1,6l2.2,-7.9l-2.1,-5.8Z" color="#15afd9"/>
<path d="M159.3,115.8l2.1,4.5l2.2,-7.4l-2.1,-6Z" color="#23a0e5"/>
<path d="M157.1,125.4l2.1,3.8l2.2,-8.9l-2.1,-4.5Z" color="#2c8ef2"/>
<path d="M155,134.3l2,3.3l2.2,-8.4l-2.1,-3.8Z" color="#3678fd"/>
<path d="M152.8,142.2l2.1,2.3l2.1,-6.9l-2,-3.3Z" color="#4563fd"/>
<path d="M150.6,148l2.1,2l2.2,-5.5l-2.1,-2.3Z" color="#4854f5"/>
<path d="M148.4,153l2.1,1.6l2.2,-4.6l-2.1,-2Z" color="#4848ec"/>
<path d="M146.2,156.6l2.1,1.2l2.2,-3.2l-2.1,-1.6Z" color="#473fe3"/>
<path d="M144.1,158.9l2,0.8l2.2,-1.9l-2.1,-1.2Z" color="#463adc"/>
<path d="M141.9,160.3l2.1,0.6l2.1,-1.2l-2,-0.8Z" color="#4539d8"/>
<path d="M139.7,157.5l2.1,1l2.2,2.4l-2.1,-0.6Z" color="#463cdf"/>
<path d="M137.5,152l2.1,0.9l2.2,5.6l-2.1,-1Z" color="#484aee"/>
<path d="M135.3,147.9l2.1,1.4l2.2,3.6l-2.1,-0.9Z" color="#4759f8"/>
<path d="M133.2,140.4l2,2l2.2,6.9l-2.1,-1.4Z" color="#416bfe"/>
<path d="M131,133.2l2.1,2.3l2.1,6.9l-2,-2Z" color="#2f82f9"/>
<path d="M128.8,126.3l2.1,2.9l2.2,6.3l-2.1,-2.3Z" color="#2896eb"/>
<path d="M126.6,119.1l2.1,3.4l2.2,6.7l-2.1,-2.9Z" color="#1ea7e1"/>
<path d="M124.4,112.2l2.1,3.9l2.2,6.4l-2.1,-3.4Z" color="#06b5ce"/>
<path d="M122.3,105l2,4.3l2.2,6.8l-2.1,-3.9Z" color="#19bfb6"/>
<path d="M120.1,98.3l2.1,4.5l2.1,6.5l-2,-4.3Z" color="#35c799"/>
<path d="M117.9,92.6l2.1,4.3l2.2,5.9l-2.1,-4.5Z" color="#59cc79"/>
<path d="M115.7,88.1l2.1,4.2l2.2,4.6l-2.1,-4.3Z" color="#81cc58"/>
<path d="M113.5,85.8l2.1,4.7l2.2,1.8l-2.1,-4.2Z" color="#9ec942"/>
<path d="M111.4,87.3l2,4.4l2.2,-1.2l-2.1,-4.7Z" color="#a7c73c"/>
<path d="M109.2,91.3l2.1,3.3l2.1,-2.9l-2,-4.4Z" color="#9cc943"/>
<path d="M107,95.8l2.1,3.2l2.2,-4.4l-2.1,-3.3Z" color="#88cb54"/>
<path d="M104.8,103l2.1,4l2.2,-8l-2.1,-3.2Z" color="#64cd6f"/>
<path d="M102.6,111.3l2.1,4.2l2.2,-8.5l-2.1,-4Z" color="#3cc992"/>
<path d="M100.5,120.3l2,3.8l2.2,-8.6l-2.1,-4.2Z" color="#23c1af"/>
<path d="M98.3,130.2l2.1,3.6l2.1,-9.7l-2,-3.8Z" color="#02b7cb"/>
<path d="M96.1,141.7l2.1,3.6l2.2,-11.5l-2.1,-3.6Z" color="#1fa5e2"/>
<path d="M93.9,153.5l2.1,1.9l2.2,-10.1l-2.1,-3.6Z" color="#2d8df2"/>
<path d="M91.7,162.3l2.1,2.2l2.2,-9.1l-2.1,-1.9Z" color="#3974fe"/>
<path d="M89.6,170.5l2,1.4l2.2,-7.4l-2.1,-2.2Z" color="#465ffb"/>
<path d="M87.4,178.8l2.1,1l2.1,-7.9l-2,-1.4Z" color="#484cef"/>
<path d="M85.2,184.2l2.1,0.9l2.2,-5.3l-2.1,-1Z" color="#463cde"/>
<path d="M83,188.1l2.1,0.7l2.2,-3.7l-2.1,-0.9Z" color="#4433cd"/>
<path d="M80.8,190.1l2.1,0.9l2.2,-2.2l-2.1,-0.7Z" color="#422fc2"/>
<path d="M78.7,189l2,1.1l2.2,0.9l-2.1,-0.9Z" color="#4230c4"/>
<path d="M76.5,187.7l2.1,1.3l2.1,1.1l-2,-1.1Z" color="#4434cf"/>
<path d="M74.3,184l2.1,1.8l2.2,3.2l-2.1,-1.3Z" color="#463bdd"/>
<path d="M72.1,179.5l2.1,2.5l2.2,3.8l-2.1,-1.8Z" color="#4848ec"/>
<path d="M69.9,173.1l2.1,3l2.2,5.9l-2.1,-2.5Z" color="#4759f8"/>
<path d="M67.8,165l2,3.6l2.2,7.5l-2.1,-3Z" color="#3f6fff"/>
<path d="M65.6,156.5l2.1,3.8l2.1,8.3l-2,-3.6Z" color="#2d88f6"/>
<path d="M63.4,148.5l2.1,5l2.2,6.8l-2.1,-3.8Z" color="#249ee6"/>
<path d="M61.2,143l2.1,5.1l2.2,5.4l-2.1,-5Z" color="#18addb"/>
<path d="M59.1,138.5l2,5.4l2.2,4.2l-2.1,-5.1Z" color="#02b7cb"/>
<path d="M176.6,92l2.3,6.1l2.2,1.5l-2.3,-6.1Z" color="#01b8ca"/>
<path d="M174.5,90.2l2.2,6.2l2.2,1.7l-2.3,-6.1Z" color="#04bbc2"/>
<path d="M172.3,91l2.3,6.2l2.1,-0.8l-2.2,-6.2Z" color="#0abdbd"/>
<path d="M170.1,94.4l2.3,6.3l2.2,-3.5l-2.3,-6.2Z" color="#05bbc1"/>
<path d="M167.9,98.2l2.3,6.3l2.2,-3.8l-2.3,-6.3Z" color="#01b8ca"/>
<path d="M165.8,105l2.2,6.4l2.2,-6.9l-2.3,-6.3Z" color="#12b1d7"/>
<path d="M163.6,112.9l2.2,5.6l2.2,-7.1l-2.2,-6.4Z" color="#20a4e3"/>
<path d="M161.4,120.3l2.3,4.7l2.1,-6.5l-2.2,-5.6Z" color="#2896ec"/>
<path d="M159.2,129.2l2.3,3.7l2.2,-7.9l-2.3,-4.7Z" color="#2e84f8"/>
<path d="M157,137.6l2.3,3.1l2.2,-7.8l-2.3,-3.7Z" color="#3e6fff"/>
<path d="M154.9,144.5l2.2,2.4l2.2,-6.2l-2.3,-3.1Z" color="#465dfa"/>
<path d="M152.7,150l2.2,2l2.2,-5.1l-2.2,-2.4Z" color="#484ff2"/>
<path d="M150.5,154.6l2.3,1.6l2.1,-4.2l-2.2,-2Z" color="#4745e9"/>
<path d="M148.3,157.8l2.3,1.2l2.2,-2.8l-2.3,-1.6Z" color="#463de0"/>
<path d="M146.1,159.7l2.3,0.8l2.2,-1.5l-2.3,-1.2Z" color="#4639da"/>
<path d="M144,160.9l2.2,0.6l2.2,-1l-2.3,-0.8Z" color="#4538d8"/>
<path d="M141.8,158.5l2.2,1l2.2,2l-2.2,-0.6Z" color="#463cde"/>
<path d="M139.6,152.9l2.3,1.1l2.1,5.5l-2.2,-1Z" color="#4849ed"/>
<path d="M137.4,149.3l2.3,1.4l2.2,3.3l-2.3,-1.1Z" color="#4757f7"/>
<path d="M135.2,142.4l2.3,2.2l2.2,6.1l-2.3,-1.4Z" color="#4368fd"/>
<path d="M133.1,135.5l2.2,2.3l2.2,6.8l-2.3,-2.2Z" color="#317efb"/>
<path d="M130.9,129.2l2.2,2.7l2.2,5.9l-2.2,-2.3Z" color="#2b91ef"/>
<path d="M128.7,122.5l2.3,3.3l2.1,6.1l-2.2,-2.7Z" color="#22a2e4"/>
<path d="M126.5,116.1l2.3,3.7l2.2,6l-2.3,-3.3Z" color="#13b1d7"/>
<path d="M124.3,109.3l2.3,4.3l2.2,6.2l-2.3,-3.7Z" color="#05bbc1"/>
<path d="M122.2,102.8l2.2,4.5l2.2,6.3l-2.3,-4.3Z" color="#2bc3a8"/>
<path d="M120,96.9l2.2,4.6l2.2,5.8l-2.2,-4.5Z" color="#42ca8b"/>
<path d="M117.8,92.3l2.3,4.3l2.1,4.9l-2.2,-4.6Z" color="#67cd6c"/>
<path d="M115.6,90.5l2.3,4.5l2.2,1.6l-2.3,-4.3Z" color="#84cc56"/>
<path d="M113.4,91.7l2.3,4l2.2,-0.7l-2.3,-4.5Z" color="#8dcb4f"/>
<path d="M111.3,94.6l2.2,3.2l2.2,-2.1l-2.3,-4Z" color="#87cb54"/>
<path d="M109.1,99l2.2,3.7l2.2,-4.9l-2.2,-3.2Z" color="#74cc62"/>
<path d="M106.9,107l2.3,3.9l2.1,-8.2l-2.2,-3.7Z" color="#51cc7f"/>
<path d="M104.7,115.5l2.3,4.2l2.2,-8.8l-2.3,-3.9Z" color="#31c6a0"/>
<path d="M102.5,124.1l2.3,3.8l2.2,-8.2l-2.3,-4.2Z" color="#0fbebb"/>
<path d="M100.4,133.8l2.2,3.6l2.2,-9.5l-2.3,-3.8Z" color="#0eb2d4"/>
<path d="M98.2,145.3l2.2,3.4l2.2,-11.3l-2.2,-3.6Z" color="#249fe6"/>
<path d="M96,155.4l2.3,1.8l2.1,-8.5l-2.2,-3.4Z" color="#2d88f6"/>
<path d="M93.8,164.5l2.3,2.1l2.2,-9.4l-2.3,-1.8Z" color="#3d70ff"/>
<path d="M91.6,171.9l2.3,1.5l2.2,-6.8l-2.3,-2.1Z" color="#475cfa"/>
<path d="M89.5,179.8l2.2,1.1l2.2,-7.5l-2.3,-1.5Z" color="#484aee"/>
<path d="M87.3,185.1l2.3,1l2.1,-5.2l-2.2,-1.1Z" color="#463bdd"/>
<path d="M85.1,188.8l2.3,0.8l2.2,-3.5l-2.3,-1Z" color="#4433cc"/>
<path d="M82.9,191l2.3,1l2.2,-2.4l-2.3,-0.8Z" color="#422fc1"/>
<path d="M80.7,190.1l2.3,1.2l2.2,0.7l-2.3,-1Z" color="#422fc2"/>
<path d="M78.6,189l2.2,1.4l2.2,0.9l-2.3,-1.2Z" color="#4433cc"/>
<path d="M76.4,185.8l2.3,1.9l2.1,2.7l-2.2,-1.4Z" color="#4639d9"/>
<path d="M74.2,182l2.3,2.4l2.2,3.3l-2.3,-1.9Z" color="#4744e8"/>
<path d="M72,176.1l2.3,3l2.2,5.3l-2.3,-2.4Z" color="#4853f5"/>
<path d="M69.8,168.6l2.3,3.7l2.2,6.8l-2.3,-3Z" color="#4367fd"/>
<path d="M67.7,160.3l2.2,4l2.2,8l-2.3,-3.7Z" color="#3080fa"/>
<path d="M65.5,153.5l2.3,4.7l2.1,6.1l-2.2,-4Z" color="#2895ec"/>
<path d="M63.3,148.1l2.3,5.2l2.2,4.9l-2.3,-4.7Z" color="#20a4e3"/>
<path d="M61.1,143.9l2.3,5.9l2.2,3.5l-2.3,-5.2Z" color="#15afd9"/>
<path d="M178.9,98.1l2.5,6.5l2.1,1.2l-2.4,-6.2Z" color="#16afd9"/>
<path d="M176.7,96.4l2.5,6.6l2.2,1.6l-2.5,-6.5Z" color="#0cb3d3"/>
<path d="M174.6,97.2l2.4,6.7l2.2,-0.9l-2.5,-6.6Z" color="#07b5cf"/>
<path d="M172.4,100.7l2.4,6.7l2.2,-3.5l-2.4,-6.7Z" color="#0cb3d3"/>
<path d="M170.2,104.5l2.4,6.5l2.2,-3.6l-2.4,-6.7Z" color="#17aeda"/>
<path d="M168,111.4l2.5,6l2.1,-6.4l-2.4,-6.5Z" color="#1fa5e2"/>
<path d="M165.8,118.5l2.5,5.3l2.2,-6.4l-2.5,-6Z" color="#2698ea"/>
<path d="M163.7,125l2.4,4.5l2.2,-5.7l-2.5,-5.3Z" color="#2d8bf4"/>
<path d="M161.5,132.9l2.4,3.7l2.2,-7.1l-2.4,-4.5Z" color="#337bfc"/>
<path d="M159.3,140.7l2.5,2.9l2.1,-7l-2.4,-3.7Z" color="#4368fd"/>
<path d="M157.1,146.9l2.5,2.3l2.2,-5.6l-2.5,-2.9Z" color="#4758f8"/>
<path d="M154.9,152l2.5,2l2.2,-4.8l-2.5,-2.3Z" color="#484bef"/>
<path d="M152.8,156.2l2.4,1.6l2.2,-3.8l-2.5,-2Z" color="#4742e6"/>
<path d="M150.6,159l2.4,1.3l2.2,-2.5l-2.4,-1.6Z" color="#463bdd"/>
<path d="M148.4,160.5l2.5,1l2.1,-1.2l-2.4,-1.3Z" color="#4539d8"/>
<path d="M146.2,161.5l2.5,0.7l2.2,-0.7l-2.5,-1Z" color="#4538d8"/>
<path d="M144,159.5l2.5,1l2.2,1.7l-2.5,-0.7Z" color="#463bdd"/>
<path d="M141.9,154l2.4,1l2.2,5.5l-2.5,-1Z" color="#4848ec"/>
<path d="M139.7,150.7l2.4,1.3l2.2,3l-2.4,-1Z" color="#4756f7"/>
<path d="M137.5,144.6l2.5,2.3l2.1,5.1l-2.4,-1.3Z" color="#4464fd"/>
<path d="M135.3,137.8l2.5,2.3l2.2,6.8l-2.5,-2.3Z" color="#3479fd"/>
<path d="M133.1,131.9l2.5,2.6l2.2,5.6l-2.5,-2.3Z" color="#2d8df2"/>
<path d="M131,125.8l2.4,3.2l2.2,5.5l-2.5,-2.6Z" color="#259de7"/>
<path d="M128.8,119.8l2.4,3.6l2.2,5.6l-2.4,-3.2Z" color="#1aabdd"/>
<path d="M126.6,113.6l2.5,4.3l2.1,5.5l-2.4,-3.6Z" color="#03b7cb"/>
<path d="M124.4,107.3l2.5,4.6l2.2,6l-2.5,-4.3Z" color="#19bfb5"/>
<path d="M122.2,101.5l2.5,4.7l2.2,5.7l-2.5,-4.6Z" color="#33c79c"/>
<path d="M120.1,96.6l2.4,4.6l2.2,5l-2.5,-4.7Z" color="#4fcc80"/>
<path d="M117.9,95l2.4,4.5l2.2,1.7l-2.4,-4.6Z" color="#69cd6b"/>
<path d="M115.7,95.7l2.5,4.1l2.1,-0.3l-2.4,-4.5Z" color="#73cd62"/>
<path d="M113.5,97.8l2.5,4l2.2,-2l-2.5,-4.1Z" color="#71cd64"/>
<path d="M111.3,102.7l2.5,4.2l2.2,-5.1l-2.5,-4Z" color="#5fcd73"/>
<path d="M109.2,110.9l2.4,4.2l2.2,-8.2l-2.5,-4.2Z" color="#3eca8f"/>
<path d="M107,119.7l2.4,4.1l2.2,-8.7l-2.4,-4.2Z" color="#26c2ac"/>
<path d="M104.8,127.9l2.5,3.9l2.1,-8l-2.4,-4.1Z" color="#01bac6"/>
<path d="M102.6,137.4l2.5,3.7l2.2,-9.3l-2.5,-3.9Z" color="#19addc"/>
<path d="M100.4,148.7l2.5,3.1l2.2,-10.7l-2.5,-3.7Z" color="#2698ea"/>
<path d="M98.3,157.2l2.4,2.1l2.2,-7.5l-2.5,-3.1Z" color="#2e83f9"/>
<path d="M96.1,166.6l2.4,2l2.2,-9.3l-2.4,-2.1Z" color="#406cfe"/>
<path d="M93.9,173.4l2.5,1.7l2.1,-6.5l-2.4,-2Z" color="#4758f8"/>
<path d="M91.7,180.9l2.5,1l2.2,-6.8l-2.5,-1.7Z" color="#4848ec"/>
<path d="M89.6,186.1l2.4,1.1l2.2,-5.3l-2.5,-1Z" color="#463adb"/>
<path d="M87.4,189.6l2.4,0.9l2.2,-3.3l-2.4,-1.1Z" color="#4332cb"/>
<path d="M85.2,192l2.4,0.9l2.2,-2.4l-2.4,-0.9Z" color="#422ec0"/>
<path d="M83,191.3l2.5,1.2l2.1,0.4l-2.4,-0.9Z" color="#422ec0"/>
<path d="M80.8,190.4l2.5,1.3l2.2,0.8l-2.5,-1.2Z" color="#4332c8"/>
<path d="M78.7,187.7l2.4,1.9l2.2,2.1l-2.5,-1.3Z" color="#4537d5"/>
<path d="M76.5,184.4l2.4,2.4l2.2,2.8l-2.4,-1.9Z" color="#4740e3"/>
<path d="M74.3,179.1l2.4,3.2l2.2,4.5l-2.4,-2.4Z" color="#484df0"/>
<path d="M72.1,172.3l2.5,3.9l2.1,6.1l-2.4,-3.2Z" color="#465ffb"/>
<path d="M69.9,164.3l2.5,4.5l2.2,7.4l-2.5,-3.9Z" color="#3876fe"/>
<path d="M67.8,158.2l2.4,4.6l2.2,6l-2.5,-4.5Z" color="#2d8bf3"/>
<path d="M65.6,153.3l2.4,5.3l2.2,4.2l-2.4,-4.6Z" color="#269be8"/>
<path d="M63.4,149.8l2.4,6.1l2.2,2.7l-2.4,-5.3Z" color="#1fa5e2"/>
<path d="M181.4,104.6l2.6,6.5l2.2,0.9l-2.7,-6.2Z" color="#21a3e3"/>
<path d="M179.2,103l2.6,6.9l2.2,1.2l-2.6,-6.5Z" color="#1da8e0"/>
<path d="M177,103.9l2.6,6.9l2.2,-0.9l-2.6,-6.9Z" color="#1baadf"/>
<path d="M174.8,107.4l2.7,6.6l2.1,-3.2l-2.6,-6.9Z" color="#1ea8e1"/>
<path d="M172.6,111l2.7,6.3l2.2,-3.3l-2.7,-6.6Z" color="#22a2e4"/>
<path d="M170.5,117.4l2.6,5.7l2.2,-5.8l-2.7,-6.3Z" color="#2699e9"/>
<path d="M168.3,123.8l2.6,5l2.2,-5.7l-2.6,-5.7Z" color="#2d8df2"/>
<path d="M166.1,129.5l2.6,4.5l2.2,-5.2l-2.6,-5Z" color="#3080fa"/>
<path d="M163.9,136.6l2.7,3.5l2.1,-6.1l-2.6,-4.5Z" color="#3d71ff"/>
<path d="M161.8,143.6l2.6,2.7l2.2,-6.2l-2.7,-3.5Z" color="#4661fc"/>
<path d="M159.6,149.2l2.6,2.4l2.2,-5.3l-2.6,-2.7Z" color="#4853f5"/>
<path d="M157.4,154l2.6,2l2.2,-4.4l-2.6,-2.4Z" color="#4747ec"/>
<path d="M155.2,157.8l2.6,1.5l2.2,-3.3l-2.6,-2Z" color="#473fe2"/>
<path d="M153,160.3l2.7,1.2l2.1,-2.2l-2.6,-1.5Z" color="#463ada"/>
<path d="M150.9,161.5l2.6,1l2.2,-1l-2.7,-1.2Z" color="#4538d7"/>
<path d="M148.7,162.2l2.6,0.7l2.2,-0.4l-2.6,-1Z" color="#4538d7"/>
<path d="M146.5,160.5l2.6,1.2l2.2,1.2l-2.6,-0.7Z" color="#463bdd"/>
<path d="M144.3,155l2.6,1.2l2.2,5.5l-2.6,-1.2Z" color="#4747eb"/>
<path d="M142.1,152l2.7,1.2l2.1,3l-2.6,-1.2Z" color="#4755f6"/>
<path d="M140,146.9l2.6,2.2l2.2,4.1l-2.7,-1.2Z" color="#4562fc"/>
<path d="M137.8,140.1l2.6,2.3l2.2,6.7l-2.6,-2.2Z" color="#3975fe"/>
<path d="M135.6,134.5l2.6,2.5l2.2,5.4l-2.6,-2.3Z" color="#2d88f6"/>
<path d="M133.4,129l2.6,3.1l2.2,4.9l-2.6,-2.5Z" color="#2798ea"/>
<path d="M131.2,123.4l2.7,3.5l2.1,5.2l-2.6,-3.1Z" color="#1fa6e2"/>
<path d="M129.1,117.9l2.6,3.9l2.2,5.1l-2.7,-3.5Z" color="#0fb2d4"/>
<path d="M126.9,111.9l2.6,4.6l2.2,5.3l-2.6,-3.9Z" color="#05bbc1"/>
<path d="M124.7,106.2l2.6,4.7l2.2,5.6l-2.6,-4.6Z" color="#28c2ab"/>
<path d="M122.5,101.2l2.6,4.8l2.2,4.9l-2.6,-4.7Z" color="#3bc993"/>
<path d="M120.3,99.5l2.7,4.8l2.1,1.7l-2.6,-4.8Z" color="#50cc7f"/>
<path d="M118.2,99.8l2.6,4.9l2.2,-0.4l-2.7,-4.8Z" color="#5acc77"/>
<path d="M116,101.8l2.6,5.3l2.2,-2.4l-2.6,-4.9Z" color="#58cc79"/>
<path d="M113.8,106.9l2.6,4.7l2.2,-4.5l-2.6,-5.3Z" color="#48cb86"/>
<path d="M111.6,115.1l2.6,4.5l2.2,-8l-2.6,-4.7Z" color="#32c69e"/>
<path d="M109.4,123.8l2.7,4l2.1,-8.2l-2.6,-4.5Z" color="#13beb8"/>
<path d="M107.3,131.8l2.6,3.9l2.2,-7.9l-2.7,-4Z" color="#07b5d0"/>
<path d="M105.1,141.1l2.6,3.8l2.2,-9.2l-2.6,-3.9Z" color="#1fa6e1"/>
<path d="M102.9,151.8l2.6,2.6l2.2,-9.5l-2.6,-3.8Z" color="#2a92ee"/>
<path d="M100.7,159.3l2.6,2.4l2.2,-7.3l-2.6,-2.6Z" color="#317efb"/>
<path d="M98.5,168.6l2.7,1.8l2.1,-8.7l-2.6,-2.4Z" color="#4368fe"/>
<path d="M96.4,175.1l2.6,1.8l2.2,-6.5l-2.7,-1.8Z" color="#4755f6"/>
<path d="M94.2,181.9l2.6,1.2l2.2,-6.2l-2.6,-1.8Z" color="#4746ea"/>
<path d="M92,187.2l2.6,1.1l2.2,-5.2l-2.6,-1.2Z" color="#4639d9"/>
<path d="M89.8,190.5l2.7,1l2.1,-3.2l-2.6,-1.1Z" color="#4332c9"/>
<path d="M87.6,192.9l2.7,1l2.2,-2.4l-2.7,-1Z" color="#422ebf"/>
<path d="M85.5,192.5l2.6,1.4l2.2,0l-2.7,-1Z" color="#412ebe"/>
<path d="M83.3,191.7l2.6,1.4l2.2,0.8l-2.6,-1.4Z" color="#4330c5"/>
<path d="M81.1,189.6l2.6,1.9l2.2,1.6l-2.6,-1.4Z" color="#4435d1"/>
<path d="M78.9,186.8l2.7,2.3l2.1,2.4l-2.6,-1.9Z" color="#463cdf"/>
<path d="M76.7,182.3l2.7,3.1l2.2,3.7l-2.7,-2.3Z" color="#4848ec"/>
<path d="M74.6,176.2l2.6,3.8l2.2,5.4l-2.7,-3.1Z" color="#4758f8"/>
<path d="M72.4,168.8l2.6,5l2.2,6.2l-2.6,-3.8Z" color="#416cfe"/>
<path d="M70.2,162.8l2.6,4.7l2.2,6.3l-2.6,-5Z" color="#2f81fa"/>
<path d="M68,158.6l2.7,5.4l2.1,3.5l-2.6,-4.7Z" color="#2b90f0"/>
<path d="M65.8,155.9l2.7,5.8l2.2,2.3l-2.7,-5.4Z" color="#269ae8"/>
<path d="M184,111.1l2.8,6.1l2.2,0.8l-2.8,-6Z" color="#2797eb"/>
<path d="M181.8,109.9l2.8,6.3l2.2,1l-2.8,-6.1Z" color="#259be8"/>
<path d="M179.6,110.8l2.8,6.4l2.2,-1l-2.8,-6.3Z" color="#249de6"/>
<path d="M177.5,114l2.8,6.3l2.1,-3.1l-2.8,-6.4Z" color="#269be8"/>
<path d="M175.3,117.3l2.8,6.2l2.2,-3.2l-2.8,-6.3Z" color="#2895ec"/>
<path d="M173.1,123.1l2.8,5.4l2.2,-5l-2.8,-6.2Z" color="#2d8df2"/>
<path d="M170.9,128.8l2.8,4.9l2.2,-5.2l-2.8,-5.4Z" color="#2f81fa"/>
<path d="M168.7,134l2.8,4.4l2.2,-4.7l-2.8,-4.9Z" color="#3974fe"/>
<path d="M166.6,140.1l2.8,3.5l2.1,-5.2l-2.8,-4.4Z" color="#4368fd"/>
<path d="M164.4,146.3l2.8,2.7l2.2,-5.4l-2.8,-3.5Z" color="#475af9"/>
<path d="M162.2,151.6l2.8,2.2l2.2,-4.8l-2.8,-2.7Z" color="#484ef1"/>
<path d="M160,156l2.8,1.8l2.2,-4l-2.8,-2.2Z" color="#4744e8"/>
<path d="M157.8,159.3l2.8,1.5l2.2,-3l-2.8,-1.8Z" color="#463cdf"/>
<path d="M155.7,161.5l2.8,1.3l2.1,-2l-2.8,-1.5Z" color="#4538d8"/>
<path d="M153.5,162.5l2.8,1.1l2.2,-0.8l-2.8,-1.3Z" color="#4537d5"/>
<path d="M151.3,162.9l2.8,0.8l2.2,-0.1l-2.8,-1.1Z" color="#4537d7"/>
<path d="M149.1,161.7l2.8,1.1l2.2,0.9l-2.8,-0.8Z" color="#463bdc"/>
<path d="M146.9,156.2l2.8,1.2l2.2,5.4l-2.8,-1.1Z" color="#4746ea"/>
<path d="M144.8,153.2l2.8,1.3l2.1,2.9l-2.8,-1.2Z" color="#4854f5"/>
<path d="M142.6,149.1l2.8,2.1l2.2,3.3l-2.8,-1.3Z" color="#465ffb"/>
<path d="M140.4,142.4l2.8,2.4l2.2,6.4l-2.8,-2.1Z" color="#3d70ff"/>
<path d="M138.2,137l2.8,2.4l2.2,5.4l-2.8,-2.4Z" color="#2e84f8"/>
<path d="M136,132.1l2.8,3l2.2,4.3l-2.8,-2.4Z" color="#2a93ee"/>
<path d="M133.9,126.9l2.8,3.3l2.1,4.9l-2.8,-3Z" color="#23a0e5"/>
<path d="M131.7,121.8l2.8,3.6l2.2,4.8l-2.8,-3.3Z" color="#19addc"/>
<path d="M129.5,116.5l2.8,4.3l2.2,4.6l-2.8,-3.6Z" color="#03b7cc"/>
<path d="M127.3,110.9l2.8,4.7l2.2,5.2l-2.8,-4.3Z" color="#14beb8"/>
<path d="M125.1,106l2.8,4.9l2.2,4.7l-2.8,-4.7Z" color="#2fc5a3"/>
<path d="M123,104.3l2.8,4.9l2.1,1.7l-2.8,-4.9Z" color="#3bc992"/>
<path d="M120.8,104.7l2.8,5.2l2.2,-0.7l-2.8,-4.9Z" color="#42ca8c"/>
<path d="M118.6,107.1l2.8,6l2.2,-3.2l-2.8,-5.2Z" color="#3eca8f"/>
<path d="M116.4,111.6l2.8,5.1l2.2,-3.6l-2.8,-6Z" color="#35c79a"/>
<path d="M114.2,119.6l2.8,4.8l2.2,-7.7l-2.8,-5.1Z" color="#26c2ad"/>
<path d="M112.1,127.8l2.8,3.9l2.1,-7.3l-2.8,-4.8Z" color="#02bac4"/>
<path d="M109.9,135.7l2.8,3.8l2.2,-7.8l-2.8,-3.9Z" color="#14b0d8"/>
<path d="M107.7,144.9l2.8,3.7l2.2,-9.1l-2.8,-3.8Z" color="#23a0e5"/>
<path d="M105.5,154.4l2.8,2.4l2.2,-8.2l-2.8,-3.7Z" color="#2d8cf3"/>
<path d="M103.3,161.7l2.9,2.6l2.1,-7.5l-2.8,-2.4Z" color="#3579fd"/>
<path d="M101.2,170.4l2.8,1.7l2.2,-7.8l-2.9,-2.6Z" color="#4465fd"/>
<path d="M99,176.9l2.8,1.9l2.2,-6.7l-2.8,-1.7Z" color="#4853f4"/>
<path d="M96.8,183.1l2.8,1.1l2.2,-5.4l-2.8,-1.9Z" color="#4744e8"/>
<path d="M94.6,188.3l2.8,1.2l2.2,-5.3l-2.8,-1.1Z" color="#4538d8"/>
<path d="M92.5,191.5l2.8,1l2.1,-3l-2.8,-1.2Z" color="#4331c8"/>
<path d="M90.3,193.9l2.8,0.9l2.2,-2.3l-2.8,-1Z" color="#412ebe"/>
<path d="M88.1,193.9l2.8,1.3l2.2,-0.4l-2.8,-0.9Z" color="#412dbc"/>
<path d="M85.9,193.1l2.8,1.4l2.2,0.7l-2.8,-1.3Z" color="#422fc2"/>
<path d="M83.7,191.5l2.8,1.8l2.2,1.2l-2.8,-1.4Z" color="#4433cd"/>
<path d="M81.6,189.1l2.8,2.1l2.1,2.1l-2.8,-1.8Z" color="#4639da"/>
<path d="M79.4,185.4l2.8,3l2.2,2.8l-2.8,-2.1Z" color="#4743e7"/>
<path d="M77.2,180l2.8,3.7l2.2,4.7l-2.8,-3Z" color="#4850f3"/>
<path d="M75,173.8l2.8,5l2.2,4.9l-2.8,-3.7Z" color="#4561fc"/>
<path d="M72.8,167.5l2.8,5.4l2.2,5.9l-2.8,-5Z" color="#3975fe"/>
<path d="M70.7,164l2.8,5.5l2.1,3.4l-2.8,-5.4Z" color="#2e85f8"/>
<path d="M68.5,161.7l2.8,5.7l2.2,2.1l-2.8,-5.5Z" color="#2c8ef1"/>
<path d="M186.8,117.2l3,5.9l2.1,0.7l-2.9,-5.8Z" color="#2d8af4"/>
<path d="M184.6,116.2l3,6.1l2.2,0.8l-3,-5.9Z" color="#2c8ef1"/>
<path d="M182.4,117.2l3,6.1l2.2,-1l-3,-6.1Z" color="#2b90ef"/>
<path d="M180.3,120.3l2.9,6l2.2,-3l-3,-6.1Z" color="#2c8ef2"/>
<path d="M178.1,123.5l2.9,5.8l2.2,-3l-2.9,-6Z" color="#2d88f6"/>
<path d="M175.9,128.5l3,5.2l2.1,-4.4l-2.9,-5.8Z" color="#2f80fa"/>
<path d="M173.7,133.7l3,4.7l2.2,-4.7l-3,-5.2Z" color="#3975fe"/>
<path d="M171.5,138.4l3,4.2l2.2,-4.2l-3,-4.7Z" color="#426afe"/>
<path d="M169.4,143.6l2.9,3.4l2.2,-4.4l-3,-4.2Z" color="#465ffb"/>
<path d="M167.2,149l3,2.6l2.1,-4.6l-2.9,-3.4Z" color="#4854f5"/>
<path d="M165,153.8l3,2.3l2.2,-4.5l-3,-2.6Z" color="#484aed"/>
<path d="M162.8,157.8l3,1.8l2.2,-3.5l-3,-2.3Z" color="#4740e4"/>
<path d="M160.6,160.8l3,1.5l2.2,-2.7l-3,-1.8Z" color="#463adb"/>
<path d="M158.5,162.8l2.9,1.3l2.2,-1.8l-3,-1.5Z" color="#4537d5"/>
<path d="M156.3,163.6l3,1.1l2.1,-0.6l-2.9,-1.3Z" color="#4536d3"/>
<path d="M154.1,163.7l3,0.8l2.2,0.2l-3,-1.1Z" color="#4537d6"/>
<path d="M151.9,162.8l3,1.3l2.2,0.4l-3,-0.8Z" color="#463adb"/>
<path d="M149.7,157.4l3,1.2l2.2,5.5l-3,-1.3Z" color="#4745e9"/>
<path d="M147.6,154.5l2.9,1.3l2.2,2.8l-3,-1.2Z" color="#4852f4"/>
<path d="M145.4,151.2l3,1.8l2.1,2.8l-2.9,-1.3Z" color="#465dfa"/>
<path d="M143.2,144.8l3,2.4l2.2,5.8l-3,-1.8Z" color="#406cfe"/>
<path d="M141,139.4l3,2.5l2.2,5.3l-3,-2.4Z" color="#3080fb"/>
<path d="M138.8,135.1l3,2.7l2.2,4.1l-3,-2.5Z" color="#2c8ef1"/>
<path d="M136.7,130.2l2.9,3.3l2.2,4.3l-3,-2.7Z" color="#259be8"/>
<path d="M134.5,125.4l3,3.5l2.1,4.6l-2.9,-3.3Z" color="#1ea8e1"/>
<path d="M132.3,120.8l3,3.9l2.2,4.2l-3,-3.5Z" color="#0fb2d4"/>
<path d="M130.1,115.6l3,4.5l2.2,4.6l-3,-3.9Z" color="#02bac4"/>
<path d="M127.9,110.9l3,5l2.2,4.2l-3,-4.5Z" color="#20c1b1"/>
<path d="M125.8,109.2l2.9,5.2l2.2,1.5l-3,-5Z" color="#2fc5a3"/>
<path d="M123.6,109.9l3,5.4l2.1,-0.9l-2.9,-5.2Z" color="#32c69e"/>
<path d="M121.4,113.1l3,5.7l2.2,-3.5l-3,-5.4Z" color="#2fc5a3"/>
<path d="M119.2,116.7l3,5.6l2.2,-3.5l-3,-5.7Z" color="#27c2ac"/>
<path d="M117,124.4l3,4.7l2.2,-6.8l-3,-5.6Z" color="#0dbdbb"/>
<path d="M114.9,131.7l2.9,3.6l2.2,-6.2l-3,-4.7Z" color="#06b5cf"/>
<path d="M112.7,139.5l3,4l2.1,-8.2l-2.9,-3.6Z" color="#1caadf"/>
<path d="M110.5,148.6l3,3.3l2.2,-8.4l-3,-4Z" color="#2699e9"/>
<path d="M108.3,156.8l3,2.6l2.2,-7.5l-3,-3.3Z" color="#2e87f7"/>
<path d="M106.2,164.3l2.9,2.8l2.2,-7.7l-3,-2.6Z" color="#3a73fe"/>
<path d="M104,172.1l2.9,1.6l2.2,-6.6l-2.9,-2.8Z" color="#4561fc"/>
<path d="M101.8,178.8l3,1.9l2.1,-7l-2.9,-1.6Z" color="#4850f3"/>
<path d="M99.6,184.2l3,1.2l2.2,-4.7l-3,-1.9Z" color="#4742e6"/>
<path d="M97.4,189.5l3,1.3l2.2,-5.4l-3,-1.2Z" color="#4537d6"/>
<path d="M95.3,192.5l2.9,1l2.2,-2.7l-3,-1.3Z" color="#4331c6"/>
<path d="M93.1,194.8l2.9,0.9l2.2,-2.2l-2.9,-1Z" color="#412dbd"/>
<path d="M90.9,195.2l3,1.4l2.1,-0.9l-2.9,-0.9Z" color="#412cba"/>
<path d="M88.7,194.5l3,1.5l2.2,0.6l-3,-1.4Z" color="#422ebf"/>
<path d="M86.5,193.3l3,1.7l2.2,1l-3,-1.5Z" color="#4332c8"/>
<path d="M84.4,191.2l2.9,2l2.2,1.8l-3,-1.7Z" color="#4537d5"/>
<path d="M82.2,188.4l2.9,2.8l2.2,2l-2.9,-2Z" color="#473ee1"/>
<path d="M80,183.7l3,3.7l2.1,3.8l-2.9,-2.8Z" color="#484aed"/>
<path d="M77.8,178.8l3,4.4l2.2,4.2l-3,-3.7Z" color="#4758f8"/>
<path d="M75.6,172.9l3,5.8l2.2,4.5l-3,-4.4Z" color="#4368fe"/>
<path d="M73.5,169.5l2.9,5.7l2.2,3.5l-3,-5.8Z" color="#3677fe"/>
<path d="M71.3,167.4l2.9,5.5l2.2,2.3l-2.9,-5.7Z" color="#2f82f9"/>
<path d="M189.8,123.1l3.1,5.6l2.2,0.5l-3.2,-5.4Z" color="#317dfc"/>
<path d="M187.6,122.3l3.1,5.7l2.2,0.7l-3.1,-5.6Z" color="#2f82fa"/>
<path d="M185.4,123.3l3.1,5.8l2.2,-1.1l-3.1,-5.7Z" color="#2e84f9"/>
<path d="M183.2,126.3l3.2,5.6l2.1,-2.8l-3.1,-5.8Z" color="#2f81fa"/>
<path d="M181,129.3l3.2,5.5l2.2,-2.9l-3.2,-5.6Z" color="#337bfc"/>
<path d="M178.9,133.7l3.1,5l2.2,-3.9l-3.2,-5.5Z" color="#3b73fe"/>
<path d="M176.7,138.4l3.1,4.5l2.2,-4.2l-3.1,-5Z" color="#4269fe"/>
<path d="M174.5,142.6l3.1,4.1l2.2,-3.8l-3.1,-4.5Z" color="#4660fb"/>
<path d="M172.3,147l3.2,3.4l2.1,-3.7l-3.1,-4.1Z" color="#4757f7"/>
<path d="M170.2,151.6l3.1,2.6l2.2,-3.8l-3.2,-3.4Z" color="#484ef1"/>
<path d="M168,156.1l3.1,2.2l2.2,-4.1l-3.1,-2.6Z" color="#4745e9"/>
<path d="M165.8,159.6l3.1,1.8l2.2,-3.1l-3.1,-2.2Z" color="#463de0"/>
<path d="M163.6,162.3l3.1,1.6l2.2,-2.5l-3.1,-1.8Z" color="#4538d8"/>
<path d="M161.4,164.1l3.2,1.4l2.1,-1.6l-3.1,-1.6Z" color="#4535d2"/>
<path d="M159.3,164.7l3.1,1.2l2.2,-0.4l-3.2,-1.4Z" color="#4435d1"/>
<path d="M157.1,164.5l3.1,0.9l2.2,0.5l-3.1,-1.2Z" color="#4537d5"/>
<path d="M154.9,164.1l3.1,1.2l2.2,0.1l-3.1,-0.9Z" color="#463adb"/>
<path d="M152.7,158.6l3.1,1.3l2.2,5.4l-3.1,-1.2Z" color="#4744e8"/>
<path d="M150.5,155.8l3.2,1.3l2.1,2.8l-3.1,-1.3Z" color="#4851f4"/>
<path d="M148.4,153l3.1,1.6l2.2,2.5l-3.2,-1.3Z" color="#475bf9"/>
<path d="M146.2,147.2l3.1,2.4l2.2,5l-3.1,-1.6Z" color="#4369fe"/>
<path d="M144,141.9l3.1,2.6l2.2,5.1l-3.1,-2.4Z" color="#337bfc"/>
<path d="M141.8,137.8l3.2,2.6l2.1,4.1l-3.1,-2.6Z" color="#2d8af4"/>
<path d="M139.6,133.5l3.2,3.1l2.2,3.8l-3.2,-2.6Z" color="#2796eb"/>
<path d="M137.5,128.9l3.1,3.4l2.2,4.3l-3.2,-3.1Z" color="#22a2e4"/>
<path d="M135.3,124.7l3.1,3.4l2.2,4.2l-3.1,-3.4Z" color="#18addb"/>
<path d="M133.1,120.1l3.1,4.4l2.2,3.6l-3.1,-3.4Z" color="#05b6ce"/>
<path d="M130.9,115.9l3.2,5.3l2.1,3.3l-3.1,-4.4Z" color="#09bcbe"/>
<path d="M128.7,114.4l3.2,5.8l2.2,1l-3.2,-5.3Z" color="#1dc0b3"/>
<path d="M126.6,115.3l3.1,6l2.2,-1.1l-3.2,-5.8Z" color="#22c1af"/>
<path d="M124.4,118.8l3.1,5.9l2.2,-3.4l-3.1,-6Z" color="#1bc0b4"/>
<path d="M122.2,122.3l3.1,5.6l2.2,-3.2l-3.1,-5.9Z" color="#0cbdbc"/>
<path d="M120,129.1l3.2,4.2l2.1,-5.4l-3.1,-5.6Z" color="#01b8c9"/>
<path d="M117.8,135.3l3.2,3.7l2.2,-5.7l-3.2,-4.2Z" color="#13b0d7"/>
<path d="M115.7,143.5l3.1,4.1l2.2,-8.6l-3.2,-3.7Z" color="#21a3e3"/>
<path d="M113.5,151.9l3.1,3.1l2.2,-7.4l-3.1,-4.1Z" color="#2a92ee"/>
<path d="M111.3,159.4l3.1,2.7l2.2,-7.1l-3.1,-3.1Z" color="#2f81fa"/>
<path d="M109.1,167.1l3.2,2.5l2.1,-7.5l-3.1,-2.7Z" color="#3f6eff"/>
<path d="M106.9,173.7l3.2,1.5l2.2,-5.6l-3.2,-2.5Z" color="#465dfb"/>
<path d="M104.8,180.7l3.1,1.9l2.2,-7.4l-3.2,-1.5Z" color="#484ef1"/>
<path d="M102.6,185.4l3.1,1.2l2.2,-4l-3.1,-1.9Z" color="#4740e4"/>
<path d="M100.4,190.8l3.1,1.4l2.2,-5.6l-3.1,-1.2Z" color="#4536d4"/>
<path d="M98.2,193.5l3.2,1l2.1,-2.3l-3.1,-1.4Z" color="#4230c4"/>
<path d="M96,195.7l3.2,0.8l2.2,-2l-3.2,-1Z" color="#412dbd"/>
<path d="M93.9,196.6l3.1,1.4l2.2,-1.5l-3.2,-0.8Z" color="#412cb9"/>
<path d="M91.7,196l3.1,1.6l2.2,0.4l-3.1,-1.4Z" color="#412dbc"/>
<path d="M89.5,195l3.1,1.7l2.2,0.9l-3.1,-1.6Z" color="#4330c4"/>
<path d="M87.3,193.2l3.2,2l2.1,1.5l-3.1,-1.7Z" color="#4435d0"/>
<path d="M85.1,191.2l3.2,2.6l2.2,1.4l-3.2,-2Z" color="#463adc"/>
<path d="M83,187.4l3.1,3.5l2.2,2.9l-3.2,-2.6Z" color="#4743e7"/>
<path d="M80.8,183.2l3.1,4.2l2.2,3.5l-3.1,-3.5Z" color="#4850f2"/>
<path d="M78.6,178.7l3.1,5.2l2.2,3.5l-3.1,-4.2Z" color="#465dfa"/>
<path d="M76.4,175.2l3.2,5.7l2.1,3l-3.1,-5.2Z" color="#4269fe"/>
<path d="M74.2,172.9l3.2,5.5l2.2,2.5l-3.2,-5.7Z" color="#3974fe"/>
<path d="M192.9,128.7l3.3,5.4l2.2,0.2l-3.3,-5.1Z" color="#3e70ff"/>
<path d="M190.7,128l3.3,5.7l2.2,0.4l-3.3,-5.4Z" color="#3a74fe"/>
<path d="M188.5,129.1l3.3,5.5l2.2,-0.9l-3.3,-5.7Z" color="#3876fe"/>
<path d="M186.4,131.9l3.3,5.4l2.1,-2.7l-3.3,-5.5Z" color="#3b73fe"/>
<path d="M184.2,134.8l3.3,5.3l2.2,-2.8l-3.3,-5.4Z" color="#3f6dfe"/>
<path d="M182,138.7l3.3,4.7l2.2,-3.3l-3.3,-5.3Z" color="#4367fd"/>
<path d="M179.8,142.9l3.3,4.4l2.2,-3.9l-3.3,-4.7Z" color="#465ffb"/>
<path d="M177.6,146.7l3.3,4l2.2,-3.4l-3.3,-4.4Z" color="#4757f7"/>
<path d="M175.5,150.4l3.3,3.4l2.1,-3.1l-3.3,-4Z" color="#4850f2"/>
<path d="M173.3,154.2l3.3,2.6l2.2,-3l-3.3,-3.4Z" color="#4849ed"/>
<path d="M171.1,158.3l3.3,2.1l2.2,-3.6l-3.3,-2.6Z" color="#4741e5"/>
<path d="M168.9,161.4l3.3,1.8l2.2,-2.8l-3.3,-2.1Z" color="#463bdc"/>
<path d="M166.7,163.9l3.3,1.8l2.2,-2.5l-3.3,-1.8Z" color="#4536d5"/>
<path d="M164.6,165.5l3.3,1.6l2.1,-1.4l-3.3,-1.8Z" color="#4434cf"/>
<path d="M162.4,165.9l3.3,1.3l2.2,-0.1l-3.3,-1.6Z" color="#4434cf"/>
<path d="M160.2,165.4l3.3,0.9l2.2,0.9l-3.3,-1.3Z" color="#4537d5"/>
<path d="M158,165.3l3.3,1.3l2.2,-0.3l-3.3,-0.9Z" color="#4639da"/>
<path d="M155.8,159.9l3.3,1.4l2.2,5.3l-3.3,-1.3Z" color="#4742e7"/>
<path d="M153.7,157.1l3.3,1.3l2.1,2.9l-3.3,-1.4Z" color="#4850f3"/>
<path d="M151.5,154.6l3.3,1.5l2.2,2.3l-3.3,-1.3Z" color="#475af9"/>
<path d="M149.3,149.6l3.3,2.3l2.2,4.2l-3.3,-1.5Z" color="#4466fd"/>
<path d="M147.1,144.5l3.3,2.5l2.2,4.9l-3.3,-2.3Z" color="#3777fe"/>
<path d="M145,140.4l3.2,2.6l2.2,4l-3.3,-2.5Z" color="#2e86f7"/>
<path d="M142.8,136.6l3.3,3l2.1,3.4l-3.2,-2.6Z" color="#2b92ee"/>
<path d="M140.6,132.3l3.3,3.4l2.2,3.9l-3.3,-3Z" color="#249de7"/>
<path d="M138.4,128.1l3.3,3.3l2.2,4.3l-3.3,-3.4Z" color="#1da8e0"/>
<path d="M136.2,124.5l3.3,4l2.2,2.9l-3.3,-3.3Z" color="#11b1d6"/>
<path d="M134.1,121.2l3.2,5.1l2.2,2.2l-3.3,-4Z" color="#01b7ca"/>
<path d="M131.9,120.2l3.3,5.8l2.1,0.3l-3.2,-5.1Z" color="#03bbc2"/>
<path d="M129.7,121.3l3.3,5.9l2.2,-1.2l-3.3,-5.8Z" color="#06bcc0"/>
<path d="M127.5,124.7l3.3,5.3l2.2,-2.8l-3.3,-5.9Z" color="#02bac4"/>
<path d="M125.3,127.9l3.3,4.9l2.2,-2.8l-3.3,-5.3Z" color="#02b7cb"/>
<path d="M123.2,133.3l3.2,3.8l2.2,-4.3l-3.3,-4.9Z" color="#0db3d4"/>
<path d="M121,139l3.3,4.8l2.1,-6.7l-3.2,-3.8Z" color="#1caadf"/>
<path d="M118.8,147.6l3.3,3.8l2.2,-7.6l-3.3,-4.8Z" color="#259ce7"/>
<path d="M116.6,155l3.3,3l2.2,-6.6l-3.3,-3.8Z" color="#2d8cf3"/>
<path d="M114.4,162.1l3.3,2.7l2.2,-6.8l-3.3,-3Z" color="#327cfc"/>
<path d="M112.3,169.6l3.3,2l2.1,-6.8l-3.3,-2.7Z" color="#426afe"/>
<path d="M110.1,175.2l3.3,1.6l2.2,-5.2l-3.3,-2Z" color="#475bf9"/>
<path d="M107.9,182.6l3.3,1.8l2.2,-7.6l-3.3,-1.6Z" color="#484cef"/>
<path d="M105.7,186.6l3.3,1.3l2.2,-3.5l-3.3,-1.8Z" color="#473fe2"/>
<path d="M103.5,192.2l3.3,1.5l2.2,-5.8l-3.3,-1.3Z" color="#4535d2"/>
<path d="M101.4,194.5l3.3,1.1l2.1,-1.9l-3.3,-1.5Z" color="#422fc3"/>
<path d="M99.2,196.5l3.3,0.9l2.2,-1.8l-3.3,-1.1Z" color="#412dbc"/>
<path d="M97,198l3.3,1.3l2.2,-1.9l-3.3,-0.9Z" color="#402bb8"/>
<path d="M94.8,197.6l3.3,1.5l2.2,0.2l-3.3,-1.3Z" color="#412cb9"/>
<path d="M92.6,196.7l3.3,1.7l2.2,0.7l-3.3,-1.5Z" color="#422fc1"/>
<path d="M90.5,195.2l3.3,1.9l2.1,1.3l-3.3,-1.7Z" color="#4433cb"/>
<path d="M88.3,193.8l3.3,2.4l2.2,0.9l-3.3,-1.9Z" color="#4537d6"/>
<path d="M86.1,190.9l3.3,3.3l2.2,2l-3.3,-2.4Z" color="#463ee1"/>
<path d="M83.9,187.4l3.3,4l2.2,2.8l-3.3,-3.3Z" color="#4848ec"/>
<path d="M81.7,183.9l3.3,4.6l2.2,2.9l-3.3,-4Z" color="#4853f5"/>
<path d="M79.6,180.9l3.3,5.2l2.1,2.4l-3.3,-4.6Z" color="#465efb"/>
<path d="M77.4,178.4l3.3,5.3l2.2,2.4l-3.3,-5.2Z" color="#4367fd"/>
<path d="M196.2,134.1l3.5,5.1l2.1,0l-3.4,-4.9Z" color="#4564fd"/>
<path d="M194,133.7l3.5,5.3l2.2,0.2l-3.5,-5.1Z" color="#4367fd"/>
<path d="M191.8,134.6l3.5,5.2l2.2,-0.8l-3.5,-5.3Z" color="#4269fe"/>
<path d="M189.7,137.3l3.4,5.1l2.2,-2.6l-3.5,-5.2Z" color="#4466fd"/>
<path d="M187.5,140.1l3.4,5l2.2,-2.7l-3.4,-5.1Z" color="#4561fc"/>
<path d="M185.3,143.4l3.5,4.8l2.1,-3.1l-3.4,-5Z" color="#475cfa"/>
<path d="M183.1,147.3l3.5,4.4l2.2,-3.5l-3.5,-4.8Z" color="#4755f6"/>
<path d="M180.9,150.7l3.5,3.8l2.2,-2.8l-3.5,-4.4Z" color="#484ef1"/>
<path d="M178.8,153.8l3.4,3.2l2.2,-2.5l-3.5,-3.8Z" color="#4848ec"/>
<path d="M176.6,156.8l3.4,2.6l2.2,-2.4l-3.4,-3.2Z" color="#4743e7"/>
<path d="M174.4,160.4l3.5,2.1l2.1,-3.1l-3.4,-2.6Z" color="#463ee1"/>
<path d="M172.2,163.2l3.5,1.8l2.2,-2.5l-3.5,-2.1Z" color="#4538d8"/>
<path d="M170,165.7l3.5,1.9l2.2,-2.6l-3.5,-1.8Z" color="#4435d0"/>
<path d="M167.9,167.1l3.4,1.6l2.2,-1.1l-3.5,-1.9Z" color="#4433cb"/>
<path d="M165.7,167.2l3.4,1.3l2.2,0.2l-3.4,-1.6Z" color="#4433cd"/>
<path d="M163.5,166.3l3.5,0.9l2.1,1.3l-3.4,-1.3Z" color="#4536d4"/>
<path d="M161.3,166.6l3.5,1.3l2.2,-0.7l-3.5,-0.9Z" color="#4639d9"/>
<path d="M159.1,161.3l3.5,1.4l2.2,5.2l-3.5,-1.3Z" color="#4742e6"/>
<path d="M157,158.4l3.4,1.5l2.2,2.8l-3.5,-1.4Z" color="#484ff2"/>
<path d="M154.8,156.1l3.4,1.5l2.2,2.3l-3.4,-1.5Z" color="#4758f8"/>
<path d="M152.6,151.9l3.5,2.2l2.1,3.5l-3.4,-1.5Z" color="#4563fd"/>
<path d="M150.4,147l3.5,2.5l2.2,4.6l-3.5,-2.2Z" color="#3b72fe"/>
<path d="M148.2,143l3.5,2.6l2.2,3.9l-3.5,-2.5Z" color="#2f82fa"/>
<path d="M146.1,139.6l3.4,2.9l2.2,3.1l-3.5,-2.6Z" color="#2d8df2"/>
<path d="M143.9,135.7l3.4,3.6l2.2,3.2l-3.4,-2.9Z" color="#2798ea"/>
<path d="M141.7,131.4l3.5,3.5l2.1,4.4l-3.4,-3.6Z" color="#21a3e3"/>
<path d="M139.5,128.5l3.5,3.7l2.2,2.7l-3.5,-3.5Z" color="#19acdc"/>
<path d="M137.3,126.3l3.5,4.8l2.2,1.1l-3.5,-3.7Z" color="#0fb2d4"/>
<path d="M135.2,126l3.4,5.2l2.2,-0.1l-3.5,-4.8Z" color="#07b5cf"/>
<path d="M133,127.2l3.4,5.2l2.2,-1.2l-3.4,-5.2Z" color="#06b5ce"/>
<path d="M130.8,130l3.5,4.9l2.1,-2.5l-3.4,-5.2Z" color="#0ab4d1"/>
<path d="M128.6,132.8l3.5,4.4l2.2,-2.3l-3.5,-4.9Z" color="#12b1d6"/>
<path d="M126.4,137.1l3.5,4.4l2.2,-4.3l-3.5,-4.4Z" color="#19acdc"/>
<path d="M124.3,143.8l3.4,5.8l2.2,-8.1l-3.5,-4.4Z" color="#22a2e4"/>
<path d="M122.1,151.4l3.4,3.4l2.2,-5.2l-3.4,-5.8Z" color="#2994ed"/>
<path d="M119.9,158l3.5,3.5l2.1,-6.7l-3.4,-3.4Z" color="#2e86f8"/>
<path d="M117.7,164.8l3.5,2.8l2.2,-6.1l-3.5,-3.5Z" color="#3876fe"/>
<path d="M115.6,171.6l3.4,1.8l2.2,-5.8l-3.5,-2.8Z" color="#4466fd"/>
<path d="M113.4,176.8l3.4,1.5l2.2,-4.9l-3.4,-1.8Z" color="#4759f8"/>
<path d="M111.2,184.4l3.4,1.7l2.2,-7.8l-3.4,-1.5Z" color="#484aee"/>
<path d="M109,187.9l3.5,1.3l2.1,-3.1l-3.4,-1.7Z" color="#463de0"/>
<path d="M106.8,193.7l3.5,1.5l2.2,-6l-3.5,-1.3Z" color="#4435d0"/>
<path d="M104.7,195.6l3.4,1l2.2,-1.4l-3.5,-1.5Z" color="#422fc1"/>
<path d="M102.5,197.4l3.4,0.9l2.2,-1.7l-3.4,-1Z" color="#412dbc"/>
<path d="M100.3,199.3l3.4,1.2l2.2,-2.2l-3.4,-0.9Z" color="#402bb7"/>
<path d="M98.1,199.1l3.5,1.6l2.1,-0.2l-3.4,-1.2Z" color="#402bb7"/>
<path d="M95.9,198.4l3.5,1.8l2.2,0.5l-3.5,-1.6Z" color="#412dbd"/>
<path d="M93.8,197.1l3.4,1.9l2.2,1.2l-3.5,-1.8Z" color="#4331c7"/>
<path d="M91.6,196.2l3.4,2.3l2.2,0.5l-3.4,-1.9Z" color="#4435d0"/>
<path d="M89.4,194.2l3.4,3l2.2,1.3l-3.4,-2.3Z" color="#4639da"/>
<path d="M87.2,191.4l3.5,3.7l2.1,2.1l-3.4,-3Z" color="#4741e5"/>
<path d="M85,188.5l3.5,4.3l2.2,2.3l-3.5,-3.7Z" color="#484aee"/>
<path d="M82.9,186.1l3.4,4.7l2.2,2l-3.5,-4.3Z" color="#4853f5"/>
<path d="M80.7,183.7l3.4,5.1l2.2,2l-3.4,-4.7Z" color="#475cfa"/>
<path d="M199.7,139.2l3.6,4.9l2.1,-0.1l-3.6,-4.8Z" color="#4759f8"/>
<path d="M197.5,139l3.6,5l2.2,0.1l-3.6,-4.9Z" color="#475cfa"/>
<path d="M195.3,139.8l3.6,5.1l2.2,-0.9l-3.6,-5Z" color="#465dfa"/>
<path d="M193.1,142.4l3.6,5.1l2.2,-2.6l-3.6,-5.1Z" color="#475bf9"/>
<path d="M190.9,145.1l3.6,5l2.2,-2.6l-3.6,-5.1Z" color="#4756f7"/>
<path d="M188.8,148.2l3.6,4.7l2.1,-2.8l-3.6,-5Z" color="#4851f3"/>
<path d="M186.6,151.7l3.6,4l2.2,-2.8l-3.6,-4.7Z" color="#484bef"/>
<path d="M184.4,154.5l3.6,3.4l2.2,-2.2l-3.6,-4Z" color="#4746ea"/>
<path d="M182.2,157l3.6,2.8l2.2,-1.9l-3.6,-3.4Z" color="#4742e6"/>
<path d="M180,159.4l3.6,2.5l2.2,-2.1l-3.6,-2.8Z" color="#473fe2"/>
<path d="M177.9,162.5l3.6,2l2.1,-2.6l-3.6,-2.5Z" color="#463adc"/>
<path d="M175.7,165l3.6,2l2.2,-2.5l-3.6,-2Z" color="#4536d4"/>
<path d="M173.5,167.6l3.6,2.2l2.2,-2.8l-3.6,-2Z" color="#4433cb"/>
<path d="M171.3,168.7l3.6,1.7l2.2,-0.6l-3.6,-2.2Z" color="#4331c6"/>
<path d="M169.1,168.5l3.6,1.5l2.2,0.4l-3.6,-1.7Z" color="#4332ca"/>
<path d="M167,167.2l3.6,0.9l2.1,1.9l-3.6,-1.5Z" color="#4536d3"/>
<path d="M164.8,167.9l3.6,1.2l2.2,-1l-3.6,-0.9Z" color="#4539d9"/>
<path d="M162.6,162.7l3.6,1.4l2.2,5l-3.6,-1.2Z" color="#4741e5"/>
<path d="M160.4,159.9l3.6,1.5l2.2,2.7l-3.6,-1.4Z" color="#484ef1"/>
<path d="M158.2,157.6l3.6,1.4l2.2,2.4l-3.6,-1.5Z" color="#4757f7"/>
<path d="M156.1,154.1l3.6,2.1l2.1,2.8l-3.6,-1.4Z" color="#4561fc"/>
<path d="M153.9,149.5l3.6,2.2l2.2,4.5l-3.6,-2.1Z" color="#3f6fff"/>
<path d="M151.7,145.6l3.6,2.6l2.2,3.5l-3.6,-2.2Z" color="#317dfb"/>
<path d="M149.5,142.5l3.6,3l2.2,2.7l-3.6,-2.6Z" color="#2d89f5"/>
<path d="M147.3,139.3l3.6,3.5l2.2,2.7l-3.6,-3Z" color="#2a92ee"/>
<path d="M145.2,134.9l3.6,4.2l2.1,3.7l-3.6,-3.5Z" color="#259de7"/>
<path d="M143,132.2l3.6,3.9l2.2,3l-3.6,-4.2Z" color="#1ea7e1"/>
<path d="M140.8,131.1l3.6,4.7l2.2,0.3l-3.6,-3.9Z" color="#1aacdd"/>
<path d="M138.6,131.2l3.6,4.8l2.2,-0.2l-3.6,-4.7Z" color="#16aeda"/>
<path d="M136.4,132.4l3.6,4.8l2.2,-1.2l-3.6,-4.8Z" color="#16afd9"/>
<path d="M134.3,134.9l3.6,4.6l2.1,-2.3l-3.6,-4.8Z" color="#19addc"/>
<path d="M132.1,137.2l3.6,4.6l2.2,-2.3l-3.6,-4.6Z" color="#1baade"/>
<path d="M129.9,141.5l3.6,6l2.2,-5.7l-3.6,-4.6Z" color="#20a4e3"/>
<path d="M127.7,149.6l3.6,4.2l2.2,-6.3l-3.6,-6Z" color="#2698ea"/>
<path d="M125.5,154.8l3.7,3l2.1,-4l-3.6,-4.2Z" color="#2d8cf3"/>
<path d="M123.4,161.5l3.6,3.2l2.2,-6.9l-3.7,-3Z" color="#3080fb"/>
<path d="M121.2,167.6l3.6,2.6l2.2,-5.5l-3.6,-3.2Z" color="#3e70ff"/>
<path d="M119,173.4l3.6,1.7l2.2,-4.9l-3.6,-2.6Z" color="#4562fc"/>
<path d="M116.8,178.3l3.6,1.6l2.2,-4.8l-3.6,-1.7Z" color="#4757f7"/>
<path d="M114.6,186.1l3.7,1.8l2.1,-8l-3.6,-1.6Z" color="#4848ec"/>
<path d="M112.5,189.2l3.6,1.2l2.2,-2.5l-3.7,-1.8Z" color="#463cde"/>
<path d="M110.3,195.2l3.6,1.5l2.2,-6.3l-3.6,-1.2Z" color="#4434ce"/>
<path d="M108.1,196.6l3.6,1.1l2.2,-1l-3.6,-1.5Z" color="#422ebf"/>
<path d="M105.9,198.3l3.6,1l2.2,-1.6l-3.6,-1.1Z" color="#412dbd"/>
<path d="M103.7,200.5l3.7,1.1l2.1,-2.3l-3.6,-1Z" color="#402bb7"/>
<path d="M101.6,200.7l3.6,1.5l2.2,-0.6l-3.7,-1.1Z" color="#402ab5"/>
<path d="M99.4,200.2l3.6,1.7l2.2,0.3l-3.6,-1.5Z" color="#412cb9"/>
<path d="M97.2,199l3.6,2l2.2,0.9l-3.6,-1.7Z" color="#422fc2"/>
<path d="M95,198.5l3.6,2.2l2.2,0.3l-3.6,-2Z" color="#4433cb"/>
<path d="M92.8,197.2l3.7,2.8l2.1,0.7l-3.6,-2.2Z" color="#4536d3"/>
<path d="M90.7,195.1l3.6,3.4l2.2,1.5l-3.7,-2.8Z" color="#463bdd"/>
<path d="M88.5,192.8l3.6,4l2.2,1.7l-3.6,-3.4Z" color="#4743e7"/>
<path d="M86.3,190.8l3.6,4.5l2.2,1.5l-3.6,-4Z" color="#484aee"/>
<path d="M84.1,188.8l3.6,4.9l2.2,1.6l-3.6,-4.5Z" color="#4852f4"/>
<path d="M203.3,144.1l3.7,4.7l2.2,-0.2l-3.8,-4.6Z" color="#484ff2"/>
<path d="M201.1,144l3.7,4.9l2.2,-0.1l-3.7,-4.7Z" color="#4851f4"/>
<path d="M198.9,144.9l3.8,5.1l2.1,-1.1l-3.7,-4.9Z" color="#4852f4"/>
<path d="M196.7,147.5l3.8,4.9l2.2,-2.4l-3.8,-5.1Z" color="#4850f3"/>
<path d="M194.5,150.1l3.8,4.6l2.2,-2.3l-3.8,-4.9Z" color="#484cef"/>
<path d="M192.4,152.9l3.7,4l2.2,-2.2l-3.8,-4.6Z" color="#4848ec"/>
<path d="M190.2,155.7l3.7,3.2l2.2,-2l-3.7,-4Z" color="#4743e7"/>
<path d="M188,157.9l3.8,2.8l2.1,-1.8l-3.7,-3.2Z" color="#4740e3"/>
<path d="M185.8,159.8l3.8,2.7l2.2,-1.8l-3.8,-2.8Z" color="#463de0"/>
<path d="M183.6,161.9l3.8,2.5l2.2,-1.9l-3.8,-2.7Z" color="#463adc"/>
<path d="M181.5,164.5l3.7,2.2l2.2,-2.3l-3.8,-2.5Z" color="#4537d6"/>
<path d="M179.3,167l3.7,2.5l2.2,-2.8l-3.7,-2.2Z" color="#4434ce"/>
<path d="M177.1,169.8l3.8,1.8l2.1,-2.1l-3.7,-2.5Z" color="#4330c5"/>
<path d="M174.9,170.4l3.8,1.8l2.2,-0.6l-3.8,-1.8Z" color="#422fc2"/>
<path d="M172.7,170l3.8,1.6l2.2,0.6l-3.8,-1.8Z" color="#4331c7"/>
<path d="M170.6,168.1l3.7,1l2.2,2.5l-3.8,-1.6Z" color="#4536d2"/>
<path d="M168.4,169.1l3.7,1.2l2.2,-1.2l-3.7,-1Z" color="#4539d9"/>
<path d="M166.2,164.1l3.8,1.3l2.1,4.9l-3.7,-1.2Z" color="#4740e4"/>
<path d="M164,161.4l3.8,1.5l2.2,2.5l-3.8,-1.3Z" color="#484df0"/>
<path d="M161.8,159l3.8,1.5l2.2,2.4l-3.8,-1.5Z" color="#4756f7"/>
<path d="M159.7,156.2l3.7,2.1l2.2,2.2l-3.8,-1.5Z" color="#465ffb"/>
<path d="M157.5,151.7l3.7,2.1l2.2,4.5l-3.7,-2.1Z" color="#416bfe"/>
<path d="M155.3,148.2l3.8,2.6l2.1,3l-3.7,-2.1Z" color="#347afd"/>
<path d="M153.1,145.5l3.8,2.8l2.2,2.5l-3.8,-2.6Z" color="#2e84f8"/>
<path d="M150.9,142.8l3.8,3.4l2.2,2.1l-3.8,-2.8Z" color="#2d8df2"/>
<path d="M148.8,139.1l3.7,5l2.2,2.1l-3.8,-3.4Z" color="#2896ec"/>
<path d="M146.6,136.1l3.7,4.5l2.2,3.5l-3.7,-5Z" color="#249fe5"/>
<path d="M144.4,135.8l3.8,4.6l2.1,0.2l-3.7,-4.5Z" color="#20a5e2"/>
<path d="M142.2,136l3.8,4.6l2.2,-0.2l-3.8,-4.6Z" color="#1ea7e1"/>
<path d="M140,137.2l3.8,4.6l2.2,-1.2l-3.8,-4.6Z" color="#1ea7e1"/>
<path d="M137.9,139.5l3.7,4.5l2.2,-2.2l-3.8,-4.6Z" color="#1fa6e2"/>
<path d="M135.7,141.8l3.7,5l2.2,-2.8l-3.7,-4.5Z" color="#22a2e4"/>
<path d="M133.5,147.5l3.8,5.1l2.1,-5.8l-3.7,-5Z" color="#259be8"/>
<path d="M131.3,153.8l3.8,3.1l2.2,-4.3l-3.8,-5.1Z" color="#2c90f0"/>
<path d="M129.2,157.8l3.7,3.7l2.2,-4.6l-3.8,-3.1Z" color="#2e86f7"/>
<path d="M127,164.7l3.7,2.3l2.2,-5.5l-3.7,-3.7Z" color="#347afd"/>
<path d="M124.8,170.2l3.8,2.3l2.1,-5.5l-3.7,-2.3Z" color="#416bfe"/>
<path d="M122.6,175.1l3.8,1.7l2.2,-4.3l-3.8,-2.3Z" color="#4660fb"/>
<path d="M120.4,179.9l3.8,1.7l2.2,-4.8l-3.8,-1.7Z" color="#4755f6"/>
<path d="M118.3,187.9l3.7,1.8l2.2,-8.1l-3.8,-1.7Z" color="#4746ea"/>
<path d="M116.1,190.4l3.7,1.3l2.2,-2l-3.7,-1.8Z" color="#463bdc"/>
<path d="M113.9,196.7l3.8,1.3l2.1,-6.3l-3.7,-1.3Z" color="#4433cd"/>
<path d="M111.7,197.7l3.8,1l2.2,-0.7l-3.8,-1.3Z" color="#422ebf"/>
<path d="M109.5,199.3l3.8,0.9l2.2,-1.5l-3.8,-1Z" color="#412dbd"/>
<path d="M107.4,201.6l3.7,1.1l2.2,-2.5l-3.8,-0.9Z" color="#402bb7"/>
<path d="M105.2,202.2l3.7,1.5l2.2,-1l-3.7,-1.1Z" color="#402ab3"/>
<path d="M103,201.9l3.8,1.8l2.1,0l-3.7,-1.5Z" color="#402bb6"/>
<path d="M100.8,201l3.8,2l2.2,0.7l-3.8,-1.8Z" color="#412ebe"/>
<path d="M98.6,200.7l3.8,2.1l2.2,0.2l-3.8,-2Z" color="#4331c6"/>
<path d="M96.5,200l3.7,2.5l2.2,0.3l-3.8,-2.1Z" color="#4433cc"/>
<path d="M94.3,198.5l3.7,3.3l2.2,0.7l-3.7,-2.5Z" color="#4537d5"/>
<path d="M92.1,196.8l3.8,3.7l2.1,1.3l-3.7,-3.3Z" color="#463cde"/>
<path d="M89.9,195.3l3.8,4.1l2.2,1.1l-3.8,-3.7Z" color="#4742e6"/>
<path d="M87.7,193.7l3.8,4.7l2.2,1l-3.8,-4.1Z" color="#4848ec"/>
<path d="M207,148.8l3.9,4.4l2.2,-0.4l-3.9,-4.2Z" color="#4746ea"/>
<path d="M204.8,148.9l3.9,4.5l2.2,-0.2l-3.9,-4.4Z" color="#4848ec"/>
<path d="M202.7,150l3.9,4.6l2.1,-1.2l-3.9,-4.5Z" color="#4848ec"/>
<path d="M200.5,152.4l3.9,4.2l2.2,-2l-3.9,-4.6Z" color="#4746eb"/>
<path d="M198.3,154.7l3.9,3.7l2.2,-1.8l-3.9,-4.2Z" color="#4743e7"/>
<path d="M196.1,156.9l3.9,3.2l2.2,-1.7l-3.9,-3.7Z" color="#4740e4"/>
<path d="M193.9,158.9l3.9,2.8l2.2,-1.6l-3.9,-3.2Z" color="#463de0"/>
<path d="M191.8,160.7l3.9,2.6l2.1,-1.6l-3.9,-2.8Z" color="#463bdd"/>
<path d="M189.6,162.5l3.9,2.5l2.2,-1.7l-3.9,-2.6Z" color="#4639da"/>
<path d="M187.4,164.4l3.9,2.5l2.2,-1.9l-3.9,-2.5Z" color="#4537d6"/>
<path d="M185.2,166.7l3.9,2.5l2.2,-2.3l-3.9,-2.5Z" color="#4434d0"/>
<path d="M183,169.5l4,2.8l2.1,-3.1l-3.9,-2.5Z" color="#4331c7"/>
<path d="M180.9,171.6l3.9,1.2l2.2,-0.5l-4,-2.8Z" color="#422fc0"/>
<path d="M178.7,172.2l3.9,1.8l2.2,-1.2l-3.9,-1.2Z" color="#422ebf"/>
<path d="M176.5,171.6l3.9,2l2.2,0.4l-3.9,-1.8Z" color="#4230c3"/>
<path d="M174.3,169.1l3.9,1l2.2,3.5l-3.9,-2Z" color="#4435d1"/>
<path d="M172.1,170.3l4,1l2.1,-1.2l-3.9,-1Z" color="#4639d9"/>
<path d="M170,165.4l3.9,1.3l2.2,4.6l-4,-1Z" color="#4740e3"/>
<path d="M167.8,162.9l3.9,1.7l2.2,2.1l-3.9,-1.3Z" color="#484cef"/>
<path d="M165.6,160.5l3.9,1.4l2.2,2.7l-3.9,-1.7Z" color="#4755f6"/>
<path d="M163.4,158.3l3.9,2l2.2,1.6l-3.9,-1.4Z" color="#465dfb"/>
<path d="M161.2,153.8l4,1.9l2.1,4.6l-3.9,-2Z" color="#4269fe"/>
<path d="M159.1,150.8l3.9,2.5l2.2,2.4l-4,-1.9Z" color="#3776fe"/>
<path d="M156.9,148.3l3.9,2.6l2.2,2.4l-3.9,-2.5Z" color="#2f80fa"/>
<path d="M154.7,146.2l3.9,3.1l2.2,1.6l-3.9,-2.6Z" color="#2d88f6"/>
<path d="M152.5,144.1l3.9,3.7l2.2,1.5l-3.9,-3.1Z" color="#2c8ff0"/>
<path d="M150.3,140.6l4,5.5l2.1,1.7l-3.9,-3.7Z" color="#2797eb"/>
<path d="M148.2,140.4l3.9,4.9l2.2,0.8l-4,-5.5Z" color="#259ce7"/>
<path d="M146,140.6l3.9,4.4l2.2,0.3l-3.9,-4.9Z" color="#249fe5"/>
<path d="M143.8,141.8l3.9,4.3l2.2,-1.1l-3.9,-4.4Z" color="#23a0e5"/>
<path d="M141.6,144l3.9,4.5l2.2,-2.4l-3.9,-4.3Z" color="#249ee6"/>
<path d="M139.4,146.8l4,4.7l2.1,-3l-3.9,-4.5Z" color="#269ae8"/>
<path d="M137.3,152.6l3.9,3.5l2.2,-4.6l-4,-4.7Z" color="#2a93ee"/>
<path d="M135.1,156.9l3.9,2.8l2.2,-3.6l-3.9,-3.5Z" color="#2d8af5"/>
<path d="M132.9,161.5l3.9,3.8l2.2,-5.6l-3.9,-2.8Z" color="#3080fa"/>
<path d="M130.7,167l3.9,2.1l2.2,-3.8l-3.9,-3.8Z" color="#3974fe"/>
<path d="M128.6,172.5l3.9,2.1l2.1,-5.5l-3.9,-2.1Z" color="#4368fe"/>
<path d="M126.4,176.8l3.9,1.6l2.2,-3.8l-3.9,-2.1Z" color="#465dfa"/>
<path d="M124.2,181.6l3.9,1.7l2.2,-4.9l-3.9,-1.6Z" color="#4854f5"/>
<path d="M122,189.7l3.9,1.7l2.2,-8.1l-3.9,-1.7Z" color="#4744e9"/>
<path d="M119.8,191.7l3.9,1.1l2.2,-1.4l-3.9,-1.7Z" color="#463adb"/>
<path d="M117.7,198l3.9,1l2.1,-6.2l-3.9,-1.1Z" color="#4433cc"/>
<path d="M115.5,198.7l3.9,1l2.2,-0.7l-3.9,-1Z" color="#422ebf"/>
<path d="M113.3,200.2l3.9,0.9l2.2,-1.4l-3.9,-1Z" color="#412ebe"/>
<path d="M111.1,202.7l3.9,1l2.2,-2.6l-3.9,-0.9Z" color="#402bb8"/>
<path d="M108.9,203.7l3.9,1.5l2.2,-1.5l-3.9,-1Z" color="#3f29b2"/>
<path d="M106.8,203.7l3.9,1.8l2.1,-0.3l-3.9,-1.5Z" color="#402ab3"/>
<path d="M104.6,203l3.9,2l2.2,0.5l-3.9,-1.8Z" color="#412cb9"/>
<path d="M102.4,202.8l3.9,2.1l2.2,0.1l-3.9,-2Z" color="#422fc0"/>
<path d="M100.2,202.5l3.9,2.3l2.2,0.1l-3.9,-2.1Z" color="#4331c6"/>
<path d="M98,201.8l3.9,2.8l2.2,0.2l-3.9,-2.3Z" color="#4433cd"/>
<path d="M95.9,200.5l3.9,3.6l2.1,0.5l-3.9,-2.8Z" color="#4536d5"/>
<path d="M93.7,199.4l3.9,3.9l2.2,0.8l-3.9,-3.6Z" color="#463bdc"/>
<path d="M91.5,198.4l3.9,4.2l2.2,0.7l-3.9,-3.9Z" color="#473fe3"/>
<path d="M210.9,153.2l4.1,3.8l2.2,-0.4l-4.1,-3.8Z" color="#463ee1"/>
<path d="M208.7,153.4l4.1,3.9l2.2,-0.3l-4.1,-3.8Z" color="#4740e3"/>
<path d="M206.6,154.6l4,3.7l2.2,-1l-4.1,-3.9Z" color="#4740e4"/>
<path d="M204.4,156.6l4,3.3l2.2,-1.6l-4,-3.7Z" color="#473fe2"/>
<path d="M202.2,158.4l4.1,3l2.1,-1.5l-4,-3.3Z" color="#463ddf"/>
<path d="M200,160.1l4.1,2.7l2.2,-1.4l-4.1,-3Z" color="#463bdc"/>
<path d="M197.8,161.7l4.1,2.4l2.2,-1.3l-4.1,-2.7Z" color="#4639da"/>
<path d="M195.7,163.3l4,2.4l2.2,-1.6l-4.1,-2.4Z" color="#4538d7"/>
<path d="M193.5,165l4,2.6l2.2,-1.9l-4,-2.4Z" color="#4536d3"/>
<path d="M191.3,166.9l4.1,2.7l2.1,-2l-4,-2.6Z" color="#4434cf"/>
<path d="M189.1,169.2l4.1,3.2l2.2,-2.8l-4.1,-2.7Z" color="#4331c7"/>
<path d="M187,172.3l4,1.8l2.2,-1.7l-4.1,-3.2Z" color="#422ebf"/>
<path d="M184.8,172.8l4,1l2.2,0.3l-4,-1.8Z" color="#412dbd"/>
<path d="M182.6,174l4,1.5l2.2,-1.7l-4,-1Z" color="#412ebe"/>
<path d="M180.4,173.6l4.1,1.7l2.1,0.2l-4,-1.5Z" color="#422ebf"/>
<path d="M178.2,170.1l4.1,1l2.2,4.2l-4.1,-1.7Z" color="#4434cf"/>
<path d="M176.1,171.3l4,1l2.2,-1.2l-4.1,-1Z" color="#4639da"/>
<path d="M173.9,166.7l4,1.1l2.2,4.5l-4,-1Z" color="#4740e3"/>
<path d="M171.7,164.6l4,1.8l2.2,1.4l-4,-1.1Z" color="#484bef"/>
<path d="M169.5,161.9l4.1,1.4l2.1,3.1l-4,-1.8Z" color="#4854f5"/>
<path d="M167.3,160.3l4.1,1.9l2.2,1.1l-4.1,-1.4Z" color="#475cfa"/>
<path d="M165.2,155.7l4,1.9l2.2,4.6l-4.1,-1.9Z" color="#4367fd"/>
<path d="M163,153.3l4,2.3l2.2,2l-4,-1.9Z" color="#3a73fe"/>
<path d="M160.8,150.9l4,2.5l2.2,2.2l-4,-2.3Z" color="#327cfc"/>
<path d="M158.6,149.3l4.1,2.4l2.1,1.7l-4,-2.5Z" color="#2e84f8"/>
<path d="M156.4,147.8l4.1,3.1l2.2,0.8l-4.1,-2.4Z" color="#2d8af4"/>
<path d="M154.3,146.1l4,3.9l2.2,0.9l-4.1,-3.1Z" color="#2c90f0"/>
<path d="M152.1,145.3l4,4.2l2.2,0.5l-4,-3.9Z" color="#2994ed"/>
<path d="M149.9,145l4.1,4l2.1,0.5l-4,-4.2Z" color="#2798ea"/>
<path d="M147.7,146.1l4.1,3.9l2.2,-1l-4.1,-4Z" color="#2699e9"/>
<path d="M145.5,148.5l4.1,4l2.2,-2.5l-4.1,-3.9Z" color="#2797eb"/>
<path d="M143.4,151.5l4,4.1l2.2,-3.1l-4.1,-4Z" color="#2a93ee"/>
<path d="M141.2,156.1l4,3l2.2,-3.5l-4,-4.1Z" color="#2d8cf3"/>
<path d="M139,159.7l4.1,3.3l2.1,-3.9l-4,-3Z" color="#2e84f8"/>
<path d="M136.8,165.3l4.1,2.3l2.2,-4.6l-4.1,-3.3Z" color="#337afd"/>
<path d="M134.6,169.1l4.1,1.9l2.2,-3.4l-4.1,-2.3Z" color="#3d70ff"/>
<path d="M132.5,174.6l4,2l2.2,-5.6l-4.1,-1.9Z" color="#4465fd"/>
<path d="M130.3,178.4l4,1.7l2.2,-3.5l-4,-2Z" color="#475bfa"/>
<path d="M128.1,183.3l4.1,1.7l2.1,-4.9l-4,-1.7Z" color="#4852f4"/>
<path d="M125.9,191.4l4.1,1.4l2.2,-7.8l-4.1,-1.7Z" color="#4743e7"/>
<path d="M123.7,192.8l4.1,1.2l2.2,-1.2l-4.1,-1.4Z" color="#4639da"/>
<path d="M121.6,199l4,0.8l2.2,-5.8l-4.1,-1.2Z" color="#4433cd"/>
<path d="M119.4,199.7l4,0.9l2.2,-0.8l-4,-0.8Z" color="#422ec0"/>
<path d="M117.2,201.1l4.1,1l2.1,-1.5l-4,-0.9Z" color="#422ebf"/>
<path d="M115,203.7l4.1,1l2.2,-2.6l-4.1,-1Z" color="#412cb9"/>
<path d="M112.8,205.2l4.1,1.3l2.2,-1.8l-4.1,-1Z" color="#3f29b2"/>
<path d="M110.7,205.5l4,1.7l2.2,-0.7l-4.1,-1.3Z" color="#3f29b1"/>
<path d="M108.5,205l4,2.1l2.2,0.1l-4,-1.7Z" color="#402ab5"/>
<path d="M106.3,204.9l4.1,2.2l2.1,0l-4,-2.1Z" color="#412dbb"/>
<path d="M104.1,204.8l4.1,2.2l2.2,0.1l-4.1,-2.2Z" color="#422fc0"/>
<path d="M101.9,204.6l4.1,2.4l2.2,0l-4.1,-2.2Z" color="#4331c6"/>
<path d="M99.8,204.1l4,2.9l2.2,0l-4.1,-2.4Z" color="#4433cc"/>
<path d="M97.6,203.3l4,3.5l2.2,0.2l-4,-2.9Z" color="#4535d2"/>
<path d="M95.4,202.6l4.1,3.8l2.1,0.4l-4,-3.5Z" color="#4539d9"/>
<path d="M215,157l4.2,3.5l2.2,-0.4l-4.2,-3.5Z" color="#4538d7"/>
<path d="M212.8,157.3l4.2,3.6l2.2,-0.4l-4.2,-3.5Z" color="#4639da"/>
<path d="M210.6,158.3l4.2,3.3l2.2,-0.7l-4.2,-3.6Z" color="#463adb"/>
<path d="M208.4,159.9l4.2,3.1l2.2,-1.4l-4.2,-3.3Z" color="#4639da"/>
<path d="M206.3,161.4l4.2,2.8l2.1,-1.2l-4.2,-3.1Z" color="#4538d7"/>
<path d="M204.1,162.8l4.2,2.6l2.2,-1.2l-4.2,-2.8Z" color="#4537d6"/>
<path d="M201.9,164.1l4.2,2.5l2.2,-1.2l-4.2,-2.6Z" color="#4536d4"/>
<path d="M199.7,165.7l4.2,2.6l2.2,-1.7l-4.2,-2.5Z" color="#4435d1"/>
<path d="M197.5,167.6l4.2,2.8l2.2,-2.1l-4.2,-2.6Z" color="#4433cc"/>
<path d="M195.4,169.6l4.2,3.3l2.1,-2.5l-4.2,-2.8Z" color="#4331c6"/>
<path d="M193.2,172.4l4.2,2.7l2.2,-2.2l-4.2,-3.3Z" color="#412ebe"/>
<path d="M191,174.1l4.2,1.2l2.2,-0.2l-4.2,-2.7Z" color="#412cb9"/>
<path d="M188.8,173.8l4.2,1.1l2.2,0.4l-4.2,-1.2Z" color="#412dbd"/>
<path d="M186.6,175.5l4.2,1.1l2.2,-1.7l-4.2,-1.1Z" color="#412ebe"/>
<path d="M184.5,175.3l4.2,0.6l2.1,0.7l-4.2,-1.1Z" color="#422ebf"/>
<path d="M182.3,171.1l4.2,0.9l2.2,3.9l-4.2,-0.6Z" color="#4435d0"/>
<path d="M180.1,172.3l4.2,0.8l2.2,-1.1l-4.2,-0.9Z" color="#463adb"/>
<path d="M177.9,167.8l4.2,0.9l2.2,4.4l-4.2,-0.8Z" color="#4740e4"/>
<path d="M175.7,166.4l4.2,1.7l2.2,0.6l-4.2,-0.9Z" color="#484aee"/>
<path d="M173.6,163.3l4.2,1.4l2.1,3.4l-4.2,-1.7Z" color="#4853f4"/>
<path d="M171.4,162.2l4.2,2l2.2,0.5l-4.2,-1.4Z" color="#475af9"/>
<path d="M169.2,157.6l4.2,2l2.2,4.6l-4.2,-2Z" color="#4464fd"/>
<path d="M167,155.6l4.2,2.1l2.2,1.9l-4.2,-2Z" color="#3d70ff"/>
<path d="M164.8,153.4l4.2,2.5l2.2,1.8l-4.2,-2.1Z" color="#3579fd"/>
<path d="M162.7,151.7l4.2,2l2.1,2.2l-4.2,-2.5Z" color="#2f81fa"/>
<path d="M160.5,150.9l4.2,2.6l2.2,0.2l-4.2,-2Z" color="#2e87f7"/>
<path d="M158.3,150l4.2,3.2l2.2,0.3l-4.2,-2.6Z" color="#2d8bf4"/>
<path d="M156.1,149.5l4.2,3.6l2.2,0.1l-4.2,-3.2Z" color="#2c8ef1"/>
<path d="M154,149l4.2,3.8l2.1,0.3l-4.2,-3.6Z" color="#2b91ef"/>
<path d="M151.8,150l4.2,3.7l2.2,-0.9l-4.2,-3.8Z" color="#2a93ee"/>
<path d="M149.6,152.5l4.2,3.8l2.2,-2.6l-4.2,-3.7Z" color="#2b91ef"/>
<path d="M147.4,155.6l4.2,3.4l2.2,-2.7l-4.2,-3.8Z" color="#2d8cf3"/>
<path d="M145.2,159.1l4.2,2.8l2.2,-2.9l-4.2,-3.4Z" color="#2e86f7"/>
<path d="M143.1,163l4.2,3.2l2.1,-4.3l-4.2,-2.8Z" color="#307ffb"/>
<path d="M140.9,167.6l4.2,2l2.2,-3.4l-4.2,-3.2Z" color="#3876fe"/>
<path d="M138.7,171l4.2,1.9l2.2,-3.3l-4.2,-2Z" color="#3f6efe"/>
<path d="M136.5,176.6l4.2,2l2.2,-5.7l-4.2,-1.9Z" color="#4563fd"/>
<path d="M134.3,180.1l4.2,1.6l2.2,-3.1l-4.2,-2Z" color="#475af9"/>
<path d="M132.2,185l4.2,1.6l2.1,-4.9l-4.2,-1.6Z" color="#4851f3"/>
<path d="M130,192.8l4.2,1l2.2,-7.2l-4.2,-1.6Z" color="#4742e6"/>
<path d="M127.8,194l4.2,1l2.2,-1.2l-4.2,-1Z" color="#4639da"/>
<path d="M125.6,199.8l4.2,0.5l2.2,-5.3l-4.2,-1Z" color="#4434cf"/>
<path d="M123.4,200.6l4.2,0.9l2.2,-1.2l-4.2,-0.5Z" color="#422fc2"/>
<path d="M121.3,202.1l4.2,0.9l2.1,-1.5l-4.2,-0.9Z" color="#422ec0"/>
<path d="M119.1,204.7l4.2,0.9l2.2,-2.6l-4.2,-0.9Z" color="#412cba"/>
<path d="M116.9,206.5l4.2,1.1l2.2,-2l-4.2,-0.9Z" color="#4029b2"/>
<path d="M114.7,207.2l4.2,1.6l2.2,-1.2l-4.2,-1.1Z" color="#3f29af"/>
<path d="M112.5,207.1l4.2,2l2.2,-0.3l-4.2,-1.6Z" color="#3f29b2"/>
<path d="M110.4,207.1l4.2,2.1l2.1,-0.1l-4.2,-2Z" color="#402bb6"/>
<path d="M108.2,207l4.2,2.3l2.2,-0.1l-4.2,-2.1Z" color="#412dbb"/>
<path d="M106,207l4.2,2.4l2.2,-0.1l-4.2,-2.3Z" color="#422ebf"/>
<path d="M103.8,207l4.2,2.5l2.2,-0.1l-4.2,-2.4Z" color="#4230c4"/>
<path d="M101.6,206.8l4.2,2.8l2.2,-0.1l-4.2,-2.5Z" color="#4332c9"/>
<path d="M99.5,206.4l4.2,3.3l2.1,-0.1l-4.2,-2.8Z" color="#4434ce"/>
<path d="M219.2,160.5l4.3,3l2.2,-0.5l-4.3,-2.9Z" color="#4434cd"/>
<path d="M217,160.9l4.3,3.1l2.2,-0.5l-4.3,-3Z" color="#4434d0"/>
<path d="M214.8,161.6l4.4,3l2.1,-0.6l-4.3,-3.1Z" color="#4435d2"/>
<path d="M212.6,163l4.4,2.7l2.2,-1.1l-4.4,-3Z" color="#4435d1"/>
<path d="M210.5,164.2l4.3,2.7l2.2,-1.2l-4.4,-2.7Z" color="#4434d0"/>
<path d="M208.3,165.4l4.3,2.6l2.2,-1.1l-4.3,-2.7Z" color="#4434ce"/>
<path d="M206.1,166.6l4.3,2.6l2.2,-1.2l-4.3,-2.6Z" color="#4433cd"/>
<path d="M203.9,168.3l4.4,2.9l2.1,-2l-4.3,-2.6Z" color="#4332ca"/>
<path d="M201.7,170.4l4.4,3.2l2.2,-2.4l-4.4,-2.9Z" color="#4230c4"/>
<path d="M199.6,172.9l4.3,2.9l2.2,-2.2l-4.4,-3.2Z" color="#412dbc"/>
<path d="M197.4,175.1l4.3,1.5l2.2,-0.8l-4.3,-2.9Z" color="#402bb6"/>
<path d="M195.2,175.3l4.3,1l2.2,0.3l-4.3,-1.5Z" color="#402bb7"/>
<path d="M193,174.9l4.4,1l2.1,0.4l-4.3,-1Z" color="#412ebe"/>
<path d="M190.8,176.6l4.4,0.7l2.2,-1.4l-4.4,-1Z" color="#422ebf"/>
<path d="M188.7,175.9l4.3,0.3l2.2,1.1l-4.4,-0.7Z" color="#422fc2"/>
<path d="M186.5,172l4.3,1.1l2.2,3.1l-4.3,-0.3Z" color="#4536d2"/>
<path d="M184.3,173.1l4.3,0.7l2.2,-0.7l-4.3,-1.1Z" color="#463bdc"/>
<path d="M182.1,168.7l4.4,1l2.1,4.1l-4.3,-0.7Z" color="#4741e5"/>
<path d="M179.9,168.1l4.4,1.5l2.2,0.1l-4.4,-1Z" color="#484aee"/>
<path d="M177.8,164.7l4.3,1.4l2.2,3.5l-4.4,-1.5Z" color="#4852f4"/>
<path d="M175.6,164.2l4.3,2l2.2,-0.1l-4.3,-1.4Z" color="#4759f8"/>
<path d="M173.4,159.6l4.4,1.9l2.1,4.7l-4.3,-2Z" color="#4562fc"/>
<path d="M171.2,157.7l4.4,2.1l2.2,1.7l-4.4,-1.9Z" color="#3f6eff"/>
<path d="M169,155.9l4.4,2.6l2.2,1.3l-4.4,-2.1Z" color="#3876fe"/>
<path d="M166.9,153.7l4.3,2l2.2,2.8l-4.4,-2.6Z" color="#317efb"/>
<path d="M164.7,153.5l4.3,2.3l2.2,-0.1l-4.3,-2Z" color="#2e84f8"/>
<path d="M162.5,153.2l4.4,2.8l2.1,-0.2l-4.3,-2.3Z" color="#2e87f7"/>
<path d="M160.3,153.1l4.4,3.1l2.2,-0.2l-4.4,-2.8Z" color="#2d89f5"/>
<path d="M158.2,152.8l4.3,3.5l2.2,-0.1l-4.4,-3.1Z" color="#2d8bf3"/>
<path d="M156,153.7l4.3,3.4l2.2,-0.8l-4.3,-3.5Z" color="#2d8df2"/>
<path d="M153.8,156.3l4.3,3.2l2.2,-2.4l-4.3,-3.4Z" color="#2d8bf4"/>
<path d="M151.6,159l4.4,2.6l2.1,-2.1l-4.3,-3.2Z" color="#2e87f7"/>
<path d="M149.4,161.9l4.4,2.5l2.2,-2.8l-4.4,-2.6Z" color="#2f82f9"/>
<path d="M147.3,166.2l4.3,2.6l2.2,-4.4l-4.4,-2.5Z" color="#337bfd"/>
<path d="M145.1,169.6l4.3,1.8l2.2,-2.6l-4.3,-2.6Z" color="#3b72fe"/>
<path d="M142.9,172.9l4.3,1.9l2.2,-3.4l-4.3,-1.8Z" color="#416cfe"/>
<path d="M140.7,178.6l4.4,1.9l2.1,-5.7l-4.3,-1.9Z" color="#4561fc"/>
<path d="M138.5,181.7l4.4,1.7l2.2,-2.9l-4.4,-1.9Z" color="#4758f8"/>
<path d="M136.4,186.6l4.3,1.5l2.2,-4.7l-4.4,-1.7Z" color="#4850f2"/>
<path d="M134.2,193.8l4.3,0.6l2.2,-6.3l-4.3,-1.5Z" color="#4743e7"/>
<path d="M132,195l4.3,1l2.2,-1.6l-4.3,-0.6Z" color="#463adb"/>
<path d="M129.8,200.3l4.4,0.5l2.1,-4.8l-4.3,-1Z" color="#4435d1"/>
<path d="M127.6,201.5l4.4,0.9l2.2,-1.6l-4.4,-0.5Z" color="#4330c5"/>
<path d="M125.5,203l4.3,1l2.2,-1.6l-4.4,-0.9Z" color="#422fc1"/>
<path d="M123.3,205.6l4.3,0.9l2.2,-2.5l-4.3,-1Z" color="#412dbb"/>
<path d="M121.1,207.6l4.3,1.1l2.2,-2.2l-4.3,-0.9Z" color="#402ab4"/>
<path d="M118.9,208.8l4.4,1.4l2.1,-1.5l-4.3,-1.1Z" color="#3f28af"/>
<path d="M116.7,209.1l4.4,1.8l2.2,-0.7l-4.4,-1.4Z" color="#3f28af"/>
<path d="M114.6,209.2l4.3,2.1l2.2,-0.4l-4.4,-1.8Z" color="#3f29b2"/>
<path d="M112.4,209.3l4.3,2.2l2.2,-0.2l-4.3,-2.1Z" color="#402bb6"/>
<path d="M110.2,209.4l4.3,2.4l2.2,-0.3l-4.3,-2.2Z" color="#412cba"/>
<path d="M108,209.5l4.4,2.6l2.1,-0.3l-4.3,-2.4Z" color="#412ebd"/>
<path d="M105.8,209.6l4.4,2.7l2.2,-0.2l-4.4,-2.6Z" color="#422fc1"/>
<path d="M103.7,209.7l4.3,2.7l2.2,-0.1l-4.4,-2.7Z" color="#4331c5"/>
<path d="M223.5,163.5l4.5,2.8l2.2,-0.6l-4.5,-2.7Z" color="#4330c5"/>
<path d="M221.3,164l4.5,2.8l2.2,-0.5l-4.5,-2.8Z" color="#4331c7"/>
<path d="M219.2,164.6l4.4,2.8l2.2,-0.6l-4.5,-2.8Z" color="#4332c9"/>
<path d="M217,165.7l4.5,2.9l2.1,-1.2l-4.4,-2.8Z" color="#4332c9"/>
<path d="M214.8,166.9l4.5,2.8l2.2,-1.1l-4.5,-2.9Z" color="#4331c8"/>
<path d="M212.6,168l4.5,2.9l2.2,-1.2l-4.5,-2.8Z" color="#4331c7"/>
<path d="M210.4,169.2l4.5,3l2.2,-1.3l-4.5,-2.9Z" color="#4330c5"/>
<path d="M208.3,171.2l4.4,3.2l2.2,-2.2l-4.5,-3Z" color="#422fc1"/>
<path d="M206.1,173.6l4.5,2.9l2.1,-2.1l-4.4,-3.2Z" color="#412cba"/>
<path d="M203.9,175.8l4.5,1.8l2.2,-1.1l-4.5,-2.9Z" color="#402ab4"/>
<path d="M201.7,176.6l4.5,1.1l2.2,-0.1l-4.5,-1.8Z" color="#402ab3"/>
<path d="M199.5,176.3l4.5,0.9l2.2,0.5l-4.5,-1.1Z" color="#402bb8"/>
<path d="M197.4,175.9l4.4,0.9l2.2,0.4l-4.5,-0.9Z" color="#422ebf"/>
<path d="M195.2,177.3l4.5,0.4l2.1,-0.9l-4.4,-0.9Z" color="#422fc2"/>
<path d="M193,176.2l4.5,0.4l2.2,1.1l-4.5,-0.4Z" color="#4331c7"/>
<path d="M190.8,173.1l4.5,1l2.2,2.5l-4.5,-0.4Z" color="#4537d5"/>
<path d="M188.6,173.8l4.5,0.7l2.2,-0.4l-4.5,-1Z" color="#463cde"/>
<path d="M186.5,169.7l4.5,0.9l2.1,3.9l-4.5,-0.7Z" color="#4743e7"/>
<path d="M184.3,169.6l4.5,1l2.2,0l-4.5,-0.9Z" color="#484bee"/>
<path d="M182.1,166.1l4.5,1.2l2.2,3.3l-4.5,-1Z" color="#4852f4"/>
<path d="M179.9,166.2l4.5,1.7l2.2,-0.6l-4.5,-1.2Z" color="#4758f8"/>
<path d="M177.8,161.5l4.4,1.8l2.2,4.6l-4.5,-1.7Z" color="#4661fc"/>
<path d="M175.6,159.8l4.5,2l2.1,1.5l-4.4,-1.8Z" color="#406cfe"/>
<path d="M173.4,158.5l4.5,2.5l2.2,0.8l-4.5,-2Z" color="#3b73fe"/>
<path d="M171.2,155.7l4.5,2.5l2.2,2.8l-4.5,-2.5Z" color="#337bfc"/>
<path d="M169,155.8l4.5,2.2l2.2,0.2l-4.5,-2.5Z" color="#2f82fa"/>
<path d="M166.9,156l4.4,2.2l2.2,-0.2l-4.5,-2.2Z" color="#2e84f9"/>
<path d="M164.7,156.2l4.5,2.5l2.1,-0.5l-4.4,-2.2Z" color="#2e85f8"/>
<path d="M162.5,156.3l4.5,2.8l2.2,-0.4l-4.5,-2.5Z" color="#2e87f7"/>
<path d="M160.3,157.1l4.5,2.9l2.2,-0.9l-4.5,-2.8Z" color="#2d88f6"/>
<path d="M158.1,159.5l4.5,2.4l2.2,-1.9l-4.5,-2.9Z" color="#2e86f7"/>
<path d="M156,161.6l4.4,2.4l2.2,-2.1l-4.5,-2.4Z" color="#2e83f9"/>
<path d="M153.8,164.4l4.5,2.5l2.1,-2.9l-4.4,-2.4Z" color="#307ffb"/>
<path d="M151.6,168.8l4.5,2.3l2.2,-4.2l-4.5,-2.5Z" color="#3777fe"/>
<path d="M149.4,171.4l4.5,1.7l2.2,-2l-4.5,-2.3Z" color="#3d70ff"/>
<path d="M147.2,174.8l4.5,1.9l2.2,-3.6l-4.5,-1.7Z" color="#426afe"/>
<path d="M145.1,180.5l4.4,1.8l2.2,-5.6l-4.5,-1.9Z" color="#4660fb"/>
<path d="M142.9,183.4l4.5,1.6l2.1,-2.7l-4.4,-1.8Z" color="#4757f7"/>
<path d="M140.7,188.1l4.5,1.2l2.2,-4.3l-4.5,-1.6Z" color="#484ff2"/>
<path d="M138.5,194.4l4.5,0.4l2.2,-5.5l-4.5,-1.2Z" color="#4743e8"/>
<path d="M136.3,196l4.5,1l2.2,-2.2l-4.5,-0.4Z" color="#463bde"/>
<path d="M134.2,200.8l4.4,0.5l2.2,-4.3l-4.5,-1Z" color="#4536d3"/>
<path d="M132,202.4l4.5,0.9l2.1,-2l-4.4,-0.5Z" color="#4331c8"/>
<path d="M129.8,204l4.5,0.9l2.2,-1.6l-4.5,-0.9Z" color="#4230c3"/>
<path d="M127.6,206.5l4.5,0.9l2.2,-2.5l-4.5,-0.9Z" color="#412dbd"/>
<path d="M125.4,208.7l4.5,0.9l2.2,-2.2l-4.5,-0.9Z" color="#402ab5"/>
<path d="M123.3,210.2l4.4,1.3l2.2,-1.9l-4.5,-0.9Z" color="#3f29af"/>
<path d="M121.1,210.9l4.5,1.6l2.1,-1l-4.4,-1.3Z" color="#3f28ad"/>
<path d="M118.9,211.3l4.5,1.9l2.2,-0.7l-4.5,-1.6Z" color="#3f28ae"/>
<path d="M116.7,211.5l4.5,2.1l2.2,-0.4l-4.5,-1.9Z" color="#3f29b1"/>
<path d="M114.5,211.8l4.5,2.3l2.2,-0.5l-4.5,-2.1Z" color="#402ab4"/>
<path d="M112.4,212.1l4.4,2.4l2.2,-0.4l-4.5,-2.3Z" color="#402bb7"/>
<path d="M110.2,212.3l4.5,2.6l2.1,-0.4l-4.4,-2.4Z" color="#412cba"/>
<path d="M108,212.4l4.5,2.8l2.2,-0.3l-4.5,-2.6Z" color="#412ebe"/>
<path d="M228,166.3l4.6,2.8l2.2,-0.7l-4.6,-2.7Z" color="#412dbd"/>
<path d="M225.8,166.8l4.6,2.9l2.2,-0.6l-4.6,-2.8Z" color="#422ebf"/>
<path d="M223.6,167.4l4.7,3l2.1,-0.7l-4.6,-2.9Z" color="#422fc0"/>
<path d="M221.5,168.6l4.6,2.9l2.2,-1.1l-4.7,-3Z" color="#422fc1"/>
<path d="M219.3,169.7l4.6,3l2.2,-1.2l-4.6,-2.9Z" color="#422ebf"/>
<path d="M217.1,170.9l4.6,3l2.2,-1.2l-4.6,-3Z" color="#412ebe"/>
<path d="M214.9,172.2l4.6,3.1l2.2,-1.4l-4.6,-3Z" color="#412dbc"/>
<path d="M212.7,174.4l4.7,2.8l2.1,-1.9l-4.6,-3.1Z" color="#402bb8"/>
<path d="M210.6,176.5l4.6,1.8l2.2,-1.1l-4.7,-2.8Z" color="#4029b3"/>
<path d="M208.4,177.6l4.6,1l2.2,-0.3l-4.6,-1.8Z" color="#3f29b1"/>
<path d="M206.2,177.7l4.6,0.8l2.2,0.1l-4.6,-1Z" color="#402ab4"/>
<path d="M204,177.2l4.7,0.9l2.1,0.4l-4.6,-0.8Z" color="#412cba"/>
<path d="M201.8,176.8l4.7,1l2.2,0.3l-4.7,-0.9Z" color="#422fc1"/>
<path d="M199.7,177.7l4.6,0.4l2.2,-0.3l-4.7,-1Z" color="#4330c5"/>
<path d="M197.5,176.6l4.6,0.5l2.2,1l-4.6,-0.4Z" color="#4433cb"/>
<path d="M195.3,174.1l4.6,1l2.2,2l-4.6,-0.5Z" color="#4538d8"/>
<path d="M193.1,174.5l4.7,0.6l2.1,0l-4.6,-1Z" color="#463de0"/>
<path d="M191,170.6l4.6,0.8l2.2,3.7l-4.7,-0.6Z" color="#4744e8"/>
<path d="M188.8,170.6l4.6,0.5l2.2,0.3l-4.6,-0.8Z" color="#484cf0"/>
<path d="M186.6,167.3l4.6,1.2l2.2,2.6l-4.6,-0.5Z" color="#4853f5"/>
<path d="M184.4,167.9l4.6,1.5l2.2,-0.9l-4.6,-1.2Z" color="#4758f8"/>
<path d="M182.2,163.3l4.7,1.8l2.1,4.3l-4.6,-1.5Z" color="#465ffb"/>
<path d="M180.1,161.8l4.6,1.9l2.2,1.4l-4.7,-1.8Z" color="#426afe"/>
<path d="M177.9,161l4.6,2.5l2.2,0.2l-4.6,-1.9Z" color="#3e70ff"/>
<path d="M175.7,158.2l4.6,2.6l2.2,2.7l-4.6,-2.5Z" color="#3677fe"/>
<path d="M173.5,158l4.6,2.3l2.2,0.5l-4.6,-2.6Z" color="#307ffb"/>
<path d="M171.3,158.2l4.7,2.4l2.1,-0.3l-4.6,-2.3Z" color="#2f81fa"/>
<path d="M169.2,158.7l4.6,2.3l2.2,-0.4l-4.7,-2.4Z" color="#2e83f9"/>
<path d="M167,159.1l4.6,2.4l2.2,-0.5l-4.6,-2.3Z" color="#2e84f9"/>
<path d="M164.8,160l4.6,2.4l2.2,-0.9l-4.6,-2.4Z" color="#2e84f8"/>
<path d="M162.6,161.9l4.6,2.5l2.2,-2l-4.6,-2.4Z" color="#2e83f9"/>
<path d="M160.4,164l4.7,2.3l2.1,-1.9l-4.6,-2.5Z" color="#2f80fa"/>
<path d="M158.3,166.9l4.6,2.3l2.2,-2.9l-4.7,-2.3Z" color="#327cfc"/>
<path d="M156.1,171.1l4.6,2.2l2.2,-4.1l-4.6,-2.3Z" color="#3a74fe"/>
<path d="M153.9,173.1l4.6,1.5l2.2,-1.3l-4.6,-2.2Z" color="#3f6eff"/>
<path d="M151.7,176.7l4.6,1.9l2.2,-4l-4.6,-1.5Z" color="#4369fe"/>
<path d="M149.5,182.3l4.7,1.6l2.1,-5.3l-4.6,-1.9Z" color="#465efb"/>
<path d="M147.4,185l4.6,1.5l2.2,-2.6l-4.7,-1.6Z" color="#4756f6"/>
<path d="M145.2,189.3l4.6,1l2.2,-3.8l-4.6,-1.5Z" color="#484ff2"/>
<path d="M143,194.8l4.6,0.4l2.2,-4.9l-4.6,-1Z" color="#4745e9"/>
<path d="M140.8,197l4.6,0.8l2.2,-2.6l-4.6,-0.4Z" color="#463de0"/>
<path d="M138.6,201.3l4.7,0.6l2.1,-4.1l-4.6,-0.8Z" color="#4537d6"/>
<path d="M136.5,203.3l4.6,0.9l2.2,-2.3l-4.7,-0.6Z" color="#4332cb"/>
<path d="M134.3,204.9l4.6,0.9l2.2,-1.6l-4.6,-0.9Z" color="#4331c5"/>
<path d="M132.1,207.4l4.6,0.8l2.2,-2.4l-4.6,-0.9Z" color="#422ebf"/>
<path d="M129.9,209.6l4.6,0.8l2.2,-2.2l-4.6,-0.8Z" color="#402bb8"/>
<path d="M127.7,211.5l4.7,1l2.1,-2.1l-4.6,-0.8Z" color="#3f29b1"/>
<path d="M125.6,212.5l4.6,1.4l2.2,-1.4l-4.7,-1Z" color="#3f28ad"/>
<path d="M123.4,213.2l4.6,1.7l2.2,-1l-4.6,-1.4Z" color="#3e28ac"/>
<path d="M121.2,213.6l4.6,2l2.2,-0.7l-4.6,-1.7Z" color="#3f28ad"/>
<path d="M119,214.1l4.6,2.1l2.2,-0.6l-4.6,-2Z" color="#3f29af"/>
<path d="M116.8,214.5l4.7,2.3l2.1,-0.6l-4.6,-2.1Z" color="#3f29b2"/>
<path d="M114.7,214.9l4.6,2.4l2.2,-0.5l-4.7,-2.3Z" color="#402ab4"/>
<path d="M112.5,215.2l4.6,2.6l2.2,-0.5l-4.6,-2.4Z" color="#402bb7"/>
<path d="M232.6,169.1l4.8,2.6l2.2,-0.7l-4.8,-2.6Z" color="#402bb6"/>
<path d="M230.4,169.7l4.8,2.8l2.2,-0.8l-4.8,-2.6Z" color="#402bb7"/>
<path d="M228.3,170.4l4.7,2.8l2.2,-0.7l-4.8,-2.8Z" color="#412cb8"/>
<path d="M226.1,171.5l4.7,2.9l2.2,-1.2l-4.7,-2.8Z" color="#412cb8"/>
<path d="M223.9,172.7l4.8,2.8l2.1,-1.1l-4.7,-2.9Z" color="#402bb7"/>
<path d="M221.7,173.9l4.8,2.8l2.2,-1.2l-4.8,-2.8Z" color="#402ab5"/>
<path d="M219.5,175.3l4.8,2.7l2.2,-1.3l-4.8,-2.8Z" color="#402ab3"/>
<path d="M217.4,177.2l4.7,1.8l2.2,-1l-4.8,-2.7Z" color="#3f29b0"/>
<path d="M215.2,178.3l4.7,1l2.2,-0.3l-4.7,-1.8Z" color="#3f29af"/>
<path d="M213,178.6l4.8,0.8l2.1,-0.1l-4.7,-1Z" color="#3f29b2"/>
<path d="M210.8,178.5l4.8,0.7l2.2,0.2l-4.8,-0.8Z" color="#402bb7"/>
<path d="M208.7,178.1l4.7,0.8l2.2,0.3l-4.8,-0.7Z" color="#412dbd"/>
<path d="M206.5,177.8l4.7,0.9l2.2,0.2l-4.7,-0.8Z" color="#4230c4"/>
<path d="M204.3,178.1l4.7,0.5l2.2,0.1l-4.7,-0.9Z" color="#4332c9"/>
<path d="M202.1,177.1l4.8,0.7l2.1,0.8l-4.7,-0.5Z" color="#4434cf"/>
<path d="M199.9,175.1l4.8,1l2.2,1.7l-4.8,-0.7Z" color="#4639da"/>
<path d="M197.8,175.1l4.7,0.6l2.2,0.4l-4.8,-1Z" color="#473ee1"/>
<path d="M195.6,171.4l4.7,0.9l2.2,3.4l-4.7,-0.6Z" color="#4746ea"/>
<path d="M193.4,171.1l4.8,0.4l2.1,0.8l-4.7,-0.9Z" color="#484ef1"/>
<path d="M191.2,168.5l4.8,1l2.2,2l-4.8,-0.4Z" color="#4854f5"/>
<path d="M189,169.4l4.8,0.9l2.2,-0.8l-4.8,-1Z" color="#4759f8"/>
<path d="M186.9,165.1l4.7,1.6l2.2,3.6l-4.8,-0.9Z" color="#465ffb"/>
<path d="M184.7,163.7l4.7,1.6l2.2,1.4l-4.7,-1.6Z" color="#4269fe"/>
<path d="M182.5,163.5l4.8,2.2l2.1,-0.4l-4.7,-1.6Z" color="#3f6efe"/>
<path d="M180.3,160.8l4.8,2.6l2.2,2.3l-4.8,-2.2Z" color="#3a74fe"/>
<path d="M178.1,160.3l4.8,2.4l2.2,0.7l-4.8,-2.6Z" color="#327bfc"/>
<path d="M176,160.6l4.7,2.6l2.2,-0.5l-4.8,-2.4Z" color="#317efb"/>
<path d="M173.8,161l4.7,2.6l2.2,-0.4l-4.7,-2.6Z" color="#3080fb"/>
<path d="M171.6,161.5l4.8,2.4l2.1,-0.3l-4.7,-2.6Z" color="#2f81fa"/>
<path d="M169.4,162.4l4.8,2.3l2.2,-0.8l-4.8,-2.4Z" color="#2f82fa"/>
<path d="M167.2,164.4l4.8,2.6l2.2,-2.3l-4.8,-2.3Z" color="#3080fa"/>
<path d="M165.1,166.3l4.7,2.1l2.2,-1.4l-4.8,-2.6Z" color="#317dfc"/>
<path d="M162.9,169.2l4.7,2.1l2.2,-2.9l-4.7,-2.1Z" color="#3479fd"/>
<path d="M160.7,173.3l4.8,1.8l2.1,-3.8l-4.7,-2.1Z" color="#3c72ff"/>
<path d="M158.5,174.6l4.8,1.5l2.2,-1l-4.8,-1.8Z" color="#406dfe"/>
<path d="M156.3,178.6l4.8,1.6l2.2,-4.1l-4.8,-1.5Z" color="#4368fe"/>
<path d="M154.2,183.9l4.7,1.2l2.2,-4.9l-4.8,-1.6Z" color="#465efb"/>
<path d="M152,186.5l4.7,1.1l2.2,-2.5l-4.7,-1.2Z" color="#4756f6"/>
<path d="M149.8,190.3l4.8,0.7l2.1,-3.4l-4.7,-1.1Z" color="#4850f2"/>
<path d="M147.6,195.2l4.8,0.3l2.2,-4.5l-4.8,-0.7Z" color="#4747eb"/>
<path d="M145.4,197.8l4.8,0.8l2.2,-3.1l-4.8,-0.3Z" color="#473fe2"/>
<path d="M143.3,201.9l4.7,0.7l2.2,-4l-4.8,-0.8Z" color="#4539d9"/>
<path d="M141.1,204.2l4.7,0.9l2.2,-2.5l-4.7,-0.7Z" color="#4434ce"/>
<path d="M138.9,205.8l4.8,1l2.1,-1.7l-4.7,-0.9Z" color="#4331c8"/>
<path d="M136.7,208.2l4.8,0.7l2.2,-2.1l-4.8,-1Z" color="#422fc2"/>
<path d="M134.5,210.4l4.8,0.7l2.2,-2.2l-4.8,-0.7Z" color="#412dbb"/>
<path d="M132.4,212.5l4.7,0.8l2.2,-2.2l-4.8,-0.7Z" color="#402ab4"/>
<path d="M130.2,213.9l4.7,1l2.2,-1.6l-4.7,-0.8Z" color="#3f28af"/>
<path d="M128,214.9l4.8,1.4l2.1,-1.4l-4.7,-1Z" color="#3e28ac"/>
<path d="M125.8,215.6l4.8,1.7l2.2,-1l-4.8,-1.4Z" color="#3e27ab"/>
<path d="M123.6,216.2l4.8,1.9l2.2,-0.8l-4.8,-1.7Z" color="#3e27ac"/>
<path d="M121.5,216.8l4.7,2.1l2.2,-0.8l-4.8,-1.9Z" color="#3f28ad"/>
<path d="M119.3,217.3l4.7,2.2l2.2,-0.6l-4.7,-2.1Z" color="#3f28af"/>
<path d="M117.1,217.8l4.8,2.4l2.1,-0.7l-4.7,-2.2Z" color="#3f29b1"/>
<path d="M237.4,171.7l4.9,2.4l2.2,-0.8l-4.9,-2.3Z" color="#3f29b0"/>
<path d="M235.2,172.5l4.9,2.5l2.2,-0.9l-4.9,-2.4Z" color="#3f29b1"/>
<path d="M233,173.2l4.9,2.6l2.2,-0.8l-4.9,-2.5Z" color="#3f29b1"/>
<path d="M230.8,174.4l4.9,2.5l2.2,-1.1l-4.9,-2.6Z" color="#3f29b1"/>
<path d="M228.7,175.5l4.9,2.4l2.1,-1l-4.9,-2.5Z" color="#3f29b0"/>
<path d="M226.5,176.7l4.9,2.3l2.2,-1.1l-4.9,-2.4Z" color="#3f28ae"/>
<path d="M224.3,178l4.9,1.7l2.2,-0.7l-4.9,-2.3Z" color="#3f28ae"/>
<path d="M222.1,179l4.9,0.9l2.2,-0.2l-4.9,-1.7Z" color="#3f28ae"/>
<path d="M219.9,179.3l4.9,0.7l2.2,-0.1l-4.9,-0.9Z" color="#3f29b1"/>
<path d="M217.8,179.4l4.9,0.5l2.1,0.1l-4.9,-0.7Z" color="#402ab5"/>
<path d="M215.6,179.2l4.9,0.6l2.2,0.1l-4.9,-0.5Z" color="#412cbb"/>
<path d="M213.4,178.9l4.9,0.7l2.2,0.2l-4.9,-0.6Z" color="#422fc1"/>
<path d="M211.2,178.7l4.9,0.8l2.2,0.1l-4.9,-0.7Z" color="#4331c7"/>
<path d="M209,178.6l4.9,0.4l2.2,0.5l-4.9,-0.8Z" color="#4433cd"/>
<path d="M206.9,177.8l4.9,0.6l2.1,0.6l-4.9,-0.4Z" color="#4536d4"/>
<path d="M204.7,176.1l4.9,1l2.2,1.3l-4.9,-0.6Z" color="#463bdc"/>
<path d="M202.5,175.7l4.9,0.4l2.2,1l-4.9,-1Z" color="#4740e4"/>
<path d="M200.3,172.3l4.9,0.7l2.2,3.1l-4.9,-0.4Z" color="#4848ec"/>
<path d="M198.2,171.5l4.8,0.6l2.2,0.9l-4.9,-0.7Z" color="#4850f2"/>
<path d="M196,169.5l4.9,1l2.1,1.6l-4.8,-0.6Z" color="#4756f6"/>
<path d="M193.8,170.3l4.9,0.6l2.2,-0.4l-4.9,-1Z" color="#475af9"/>
<path d="M191.6,166.7l4.9,0.8l2.2,3.4l-4.9,-0.6Z" color="#4660fc"/>
<path d="M189.4,165.3l4.9,1.2l2.2,1l-4.9,-0.8Z" color="#426afe"/>
<path d="M187.3,165.7l4.8,1.3l2.2,-0.5l-4.9,-1.2Z" color="#406dfe"/>
<path d="M185.1,163.4l4.9,2l2.1,1.6l-4.8,-1.3Z" color="#3b72ff"/>
<path d="M182.9,162.7l4.9,2l2.2,0.7l-4.9,-2Z" color="#3579fd"/>
<path d="M180.7,163.2l4.9,2.4l2.2,-0.9l-4.9,-2Z" color="#327bfc"/>
<path d="M178.5,163.6l4.9,2.5l2.2,-0.5l-4.9,-2.4Z" color="#327cfc"/>
<path d="M176.4,163.9l4.8,2.5l2.2,-0.3l-4.9,-2.5Z" color="#317efb"/>
<path d="M174.2,164.7l4.9,2.1l2.1,-0.4l-4.8,-2.5Z" color="#307ffb"/>
<path d="M172,167l4.9,2.2l2.2,-2.4l-4.9,-2.1Z" color="#317efb"/>
<path d="M169.8,168.4l4.9,1.8l2.2,-1l-4.9,-2.2Z" color="#337bfc"/>
<path d="M167.6,171.3l4.9,1.4l2.2,-2.5l-4.9,-1.8Z" color="#3678fd"/>
<path d="M165.5,175.1l4.8,1.3l2.2,-3.7l-4.9,-1.4Z" color="#3d71ff"/>
<path d="M163.3,176.1l4.9,1.2l2.1,-0.9l-4.8,-1.3Z" color="#406dfe"/>
<path d="M161.1,180.2l4.9,0.9l2.2,-3.8l-4.9,-1.2Z" color="#4368fe"/>
<path d="M158.9,185.1l4.9,0.9l2.2,-4.9l-4.9,-0.9Z" color="#465efb"/>
<path d="M156.7,187.6l4.9,0.8l2.2,-2.4l-4.9,-0.9Z" color="#4757f7"/>
<path d="M154.6,191l4.9,0.6l2.1,-3.2l-4.9,-0.8Z" color="#4852f4"/>
<path d="M152.4,195.5l4.9,0.3l2.2,-4.2l-4.9,-0.6Z" color="#4849ed"/>
<path d="M150.2,198.6l4.9,0.8l2.2,-3.6l-4.9,-0.3Z" color="#4741e5"/>
<path d="M148,202.6l4.9,0.5l2.2,-3.7l-4.9,-0.8Z" color="#463adc"/>
<path d="M145.8,205.1l4.9,0.8l2.2,-2.8l-4.9,-0.5Z" color="#4435d1"/>
<path d="M143.7,206.8l4.9,0.9l2.1,-1.8l-4.9,-0.8Z" color="#4332ca"/>
<path d="M141.5,208.9l4.9,0.7l2.2,-1.9l-4.9,-0.9Z" color="#4330c5"/>
<path d="M139.3,211.1l4.9,0.6l2.2,-2.1l-4.9,-0.7Z" color="#422ebf"/>
<path d="M137.1,213.3l4.9,0.6l2.2,-2.2l-4.9,-0.6Z" color="#402bb8"/>
<path d="M134.9,214.9l4.9,0.7l2.2,-1.7l-4.9,-0.6Z" color="#4029b2"/>
<path d="M132.8,216.3l4.9,0.9l2.1,-1.6l-4.9,-0.7Z" color="#3f28ae"/>
<path d="M130.6,217.3l4.9,1.4l2.2,-1.5l-4.9,-0.9Z" color="#3e27ab"/>
<path d="M128.4,218.1l4.9,1.6l2.2,-1l-4.9,-1.4Z" color="#3e27aa"/>
<path d="M126.2,218.9l4.9,1.7l2.2,-0.9l-4.9,-1.6Z" color="#3e27ab"/>
<path d="M124,219.5l4.9,1.9l2.2,-0.8l-4.9,-1.7Z" color="#3e27ab"/>
<path d="M121.9,220.2l4.9,2l2.1,-0.8l-4.9,-1.9Z" color="#3e28ac"/>
<path d="M242.3,174.1l5,2l2.2,-0.9l-5,-1.9Z" color="#3e27ac"/>
<path d="M240.1,175l5,2l2.2,-0.9l-5,-2Z" color="#3e27ac"/>
<path d="M237.9,175.8l5,2.1l2.2,-0.9l-5,-2Z" color="#3e27ac"/>
<path d="M235.7,176.9l5.1,1.9l2.1,-0.9l-5,-2.1Z" color="#3e27ac"/>
<path d="M233.6,177.9l5,1.7l2.2,-0.8l-5.1,-1.9Z" color="#3e27ac"/>
<path d="M231.4,179l5,1.2l2.2,-0.6l-5,-1.7Z" color="#3e27ac"/>
<path d="M229.2,179.7l5,0.8l2.2,-0.3l-5,-1.2Z" color="#3f28ad"/>
<path d="M227,179.9l5,0.5l2.2,0.1l-5,-0.8Z" color="#3f29b1"/>
<path d="M224.8,180l5.1,0.4l2.1,0l-5,-0.5Z" color="#402ab5"/>
<path d="M222.7,179.9l5,0.4l2.2,0.1l-5.1,-0.4Z" color="#412cba"/>
<path d="M220.5,179.8l5,0.4l2.2,0.1l-5,-0.4Z" color="#422ec0"/>
<path d="M218.3,179.6l5,0.7l2.2,-0.1l-5,-0.4Z" color="#4330c5"/>
<path d="M216.1,179.5l5,0.6l2.2,0.2l-5,-0.7Z" color="#4332ca"/>
<path d="M213.9,179l5.1,0.4l2.1,0.7l-5,-0.6Z" color="#4435d1"/>
<path d="M211.8,178.4l5,0.4l2.2,0.6l-5.1,-0.4Z" color="#4538d8"/>
<path d="M209.6,177.1l5,0.9l2.2,0.8l-5,-0.4Z" color="#463cdf"/>
<path d="M207.4,176.1l5,0l2.2,1.9l-5,-0.9Z" color="#4742e6"/>
<path d="M205.2,173l5,0.7l2.2,2.4l-5,0Z" color="#484aee"/>
<path d="M203,172.1l5.1,0.6l2.1,1l-5,-0.7Z" color="#4852f4"/>
<path d="M200.9,170.5l5,0.9l2.2,1.3l-5.1,-0.6Z" color="#4758f8"/>
<path d="M198.7,170.9l5,0.4l2.2,0.1l-5,-0.9Z" color="#475cfa"/>
<path d="M196.5,167.5l5,0.6l2.2,3.2l-5,-0.4Z" color="#4563fc"/>
<path d="M194.3,166.5l5.1,0.8l2.1,0.8l-5,-0.6Z" color="#416bfe"/>
<path d="M192.1,167l5.1,0.4l2.2,-0.1l-5.1,-0.8Z" color="#3f6fff"/>
<path d="M190,165.4l5,1.1l2.2,0.9l-5.1,-0.4Z" color="#3b73fe"/>
<path d="M187.8,164.7l5,1.5l2.2,0.3l-5,-1.1Z" color="#3678fd"/>
<path d="M185.6,165.6l5,1.4l2.2,-0.8l-5,-1.5Z" color="#337afd"/>
<path d="M183.4,166.1l5.1,1.5l2.1,-0.6l-5,-1.4Z" color="#337bfc"/>
<path d="M181.2,166.4l5.1,1.6l2.2,-0.4l-5.1,-1.5Z" color="#327cfc"/>
<path d="M179.1,166.8l5,1.4l2.2,-0.2l-5.1,-1.6Z" color="#317efb"/>
<path d="M176.9,169.2l5,1.2l2.2,-2.2l-5,-1.4Z" color="#327dfc"/>
<path d="M174.7,170.2l5,1.2l2.2,-1l-5,-1.2Z" color="#337afd"/>
<path d="M172.5,172.7l5.1,0.7l2.1,-2l-5,-1.2Z" color="#3578fd"/>
<path d="M170.3,176.4l5.1,0.7l2.2,-3.7l-5.1,-0.7Z" color="#3b72ff"/>
<path d="M168.2,177.3l5,1l2.2,-1.2l-5.1,-0.7Z" color="#3f6efe"/>
<path d="M166,181.1l5,0.6l2.2,-3.4l-5,-1Z" color="#426afe"/>
<path d="M163.8,186l5,0.6l2.2,-4.9l-5,-0.6Z" color="#4660fc"/>
<path d="M161.6,188.4l5.1,0.7l2.1,-2.5l-5,-0.6Z" color="#4759f8"/>
<path d="M159.5,191.6l5,0.5l2.2,-3l-5.1,-0.7Z" color="#4854f5"/>
<path d="M157.3,195.8l5,0l2.2,-3.7l-5,-0.5Z" color="#484cf0"/>
<path d="M155.1,199.4l5,0.5l2.2,-4.1l-5,0Z" color="#4744e8"/>
<path d="M152.9,203.1l5,0.4l2.2,-3.6l-5,-0.5Z" color="#463cdf"/>
<path d="M150.7,205.9l5.1,0.5l2.1,-2.9l-5,-0.4Z" color="#4537d5"/>
<path d="M148.6,207.7l5,0.8l2.2,-2.1l-5.1,-0.5Z" color="#4434ce"/>
<path d="M146.4,209.6l5,0.7l2.2,-1.8l-5,-0.8Z" color="#4332c9"/>
<path d="M144.2,211.7l5,0.5l2.2,-1.9l-5,-0.7Z" color="#4230c3"/>
<path d="M142,213.9l5,0.4l2.2,-2.1l-5,-0.5Z" color="#412dbd"/>
<path d="M139.8,215.6l5.1,0.4l2.1,-1.7l-5,-0.4Z" color="#402bb7"/>
<path d="M137.7,217.2l5,0.5l2.2,-1.7l-5.1,-0.4Z" color="#402ab3"/>
<path d="M135.5,218.7l5,0.7l2.2,-1.7l-5,-0.5Z" color="#3f28af"/>
<path d="M133.3,219.7l5,1l2.2,-1.3l-5,-0.7Z" color="#3e27ac"/>
<path d="M131.1,220.6l5,1.2l2.2,-1.1l-5,-1Z" color="#3e27ab"/>
<path d="M128.9,221.4l5.1,1.4l2.1,-1l-5,-1.2Z" color="#3e27ab"/>
<path d="M126.8,222.2l5,1.6l2.2,-1l-5.1,-1.4Z" color="#3e27aa"/>
<path d="M247.3,176.1l5.2,1.2l2.1,-0.9l-5.1,-1.2Z" color="#3e27ab"/>
<path d="M245.1,177l5.2,1.2l2.2,-0.9l-5.2,-1.2Z" color="#3e27ab"/>
<path d="M242.9,177.9l5.2,1.1l2.2,-0.8l-5.2,-1.2Z" color="#3e27ab"/>
<path d="M240.8,178.8l5.1,0.8l2.2,-0.6l-5.2,-1.1Z" color="#3e27ac"/>
<path d="M238.6,179.6l5.1,0.4l2.2,-0.4l-5.1,-0.8Z" color="#3f28ad"/>
<path d="M236.4,180.2l5.2,0.2l2.1,-0.4l-5.1,-0.4Z" color="#3f28af"/>
<path d="M234.2,180.5l5.2,0l2.2,-0.1l-5.2,-0.2Z" color="#3f29b2"/>
<path d="M232,180.4l5.2,0.1l2.2,0l-5.2,0Z" color="#402bb7"/>
<path d="M229.9,180.4l5.1,0.2l2.2,-0.1l-5.2,-0.1Z" color="#412dbc"/>
<path d="M227.7,180.3l5.1,0.2l2.2,0.1l-5.1,-0.2Z" color="#422fc1"/>
<path d="M225.5,180.2l5.2,0.3l2.1,0l-5.1,-0.2Z" color="#4331c6"/>
<path d="M223.3,180.3l5.2,0.3l2.2,-0.1l-5.2,-0.3Z" color="#4332cb"/>
<path d="M221.1,180.1l5.2,0.1l2.2,0.4l-5.2,-0.3Z" color="#4434d0"/>
<path d="M219,179.4l5.1,0.1l2.2,0.7l-5.2,-0.1Z" color="#4538d7"/>
<path d="M216.8,178.8l5.1,0.2l2.2,0.5l-5.1,-0.1Z" color="#463bdd"/>
<path d="M214.6,178l5.2,0l2.1,1l-5.1,-0.2Z" color="#473fe3"/>
<path d="M212.4,176.1l5.2,-0.3l2.2,2.2l-5.2,0Z" color="#4746ea"/>
<path d="M210.2,173.7l5.2,0.6l2.2,1.5l-5.2,0.3Z" color="#484ef1"/>
<path d="M208.1,172.7l5.1,0.6l2.2,1l-5.2,-0.6Z" color="#4854f5"/>
<path d="M205.9,171.4l5.1,0.8l2.2,1.1l-5.1,-0.6Z" color="#475af9"/>
<path d="M203.7,171.3l5.2,0.2l2.1,0.7l-5.1,-0.8Z" color="#465efb"/>
<path d="M201.5,168.1l5.2,0.4l2.2,3l-5.2,-0.2Z" color="#4466fd"/>
<path d="M199.4,167.3l5.1,0.6l2.2,0.6l-5.2,-0.4Z" color="#3f6efe"/>
<path d="M197.2,167.4l5.1,0.2l2.2,0.3l-5.1,-0.6Z" color="#3c71ff"/>
<path d="M195,166.5l5.2,0.7l2.1,0.4l-5.1,-0.2Z" color="#3875fe"/>
<path d="M192.8,166.2l5.2,0.8l2.2,0.2l-5.2,-0.7Z" color="#3479fd"/>
<path d="M190.6,167l5.2,0.5l2.2,-0.5l-5.2,-0.8Z" color="#327bfc"/>
<path d="M188.5,167.6l5.1,0.3l2.2,-0.4l-5.2,-0.5Z" color="#327cfc"/>
<path d="M186.3,168l5.1,0.3l2.2,-0.4l-5.1,-0.3Z" color="#317efb"/>
<path d="M184.1,168.2l5.2,0.7l2.1,-0.6l-5.1,-0.3Z" color="#307ffb"/>
<path d="M181.9,170.4l5.2,0.4l2.2,-1.9l-5.2,-0.7Z" color="#317efb"/>
<path d="M179.7,171.4l5.2,0.7l2.2,-1.3l-5.2,-0.4Z" color="#327cfc"/>
<path d="M177.6,173.4l5.1,0.5l2.2,-1.8l-5.2,-0.7Z" color="#337afd"/>
<path d="M175.4,177.1l5.1,0.4l2.2,-3.6l-5.1,-0.5Z" color="#3975fe"/>
<path d="M173.2,178.3l5.2,0.9l2.1,-1.7l-5.1,-0.4Z" color="#3e70ff"/>
<path d="M171,181.7l5.2,0.5l2.2,-3l-5.2,-0.9Z" color="#416cfe"/>
<path d="M168.8,186.6l5.2,0.5l2.2,-4.9l-5.2,-0.5Z" color="#4563fc"/>
<path d="M166.7,189.1l5.1,0.5l2.2,-2.5l-5.2,-0.5Z" color="#475bf9"/>
<path d="M164.5,192.1l5.1,0.5l2.2,-3l-5.1,-0.5Z" color="#4756f7"/>
<path d="M162.3,195.8l5.2,-0.1l2.1,-3.1l-5.1,-0.5Z" color="#4850f2"/>
<path d="M160.1,199.9l5.2,-0.4l2.2,-3.8l-5.2,0.1Z" color="#4848ec"/>
<path d="M157.9,203.5l5.2,0.1l2.2,-4.1l-5.2,0.4Z" color="#4740e4"/>
<path d="M155.8,206.4l5.1,0.1l2.2,-2.9l-5.2,-0.1Z" color="#463ada"/>
<path d="M153.6,208.5l5.1,0.2l2.2,-2.2l-5.1,-0.1Z" color="#4536d3"/>
<path d="M151.4,210.3l5.2,0.5l2.1,-2.1l-5.1,-0.2Z" color="#4433cd"/>
<path d="M149.2,212.2l5.2,0.4l2.2,-1.8l-5.2,-0.5Z" color="#4331c8"/>
<path d="M147,214.3l5.2,0.2l2.2,-1.9l-5.2,-0.4Z" color="#422fc3"/>
<path d="M144.9,216l5.1,0.2l2.2,-1.7l-5.2,-0.2Z" color="#412ebd"/>
<path d="M142.7,217.7l5.1,0.2l2.2,-1.7l-5.1,-0.2Z" color="#412cb9"/>
<path d="M140.5,219.4l5.2,0.2l2.1,-1.7l-5.1,-0.2Z" color="#402ab5"/>
<path d="M138.3,220.7l5.2,0.3l2.2,-1.4l-5.2,-0.2Z" color="#3f29b1"/>
<path d="M136.1,221.8l5.2,0.4l2.2,-1.2l-5.2,-0.3Z" color="#3f29af"/>
<path d="M134,222.8l5.1,0.6l2.2,-1.2l-5.2,-0.4Z" color="#3f28ae"/>
<path d="M131.8,223.8l5.1,0.8l2.2,-1.2l-5.1,-0.6Z" color="#3f28ad"/>
<path d="M252.5,177.3l5.3,-0.1l2.1,-0.9l-5.3,0.1Z" color="#3f29b0"/>
<path d="M250.3,178.2l5.3,-0.2l2.2,-0.8l-5.3,0.1Z" color="#3f29b1"/>
<path d="M248.1,179l5.3,-0.2l2.2,-0.8l-5.3,0.2Z" color="#3f29b1"/>
<path d="M245.9,179.6l5.3,-0.3l2.2,-0.5l-5.3,0.2Z" color="#3f29b2"/>
<path d="M243.7,180l5.3,-0.3l2.2,-0.4l-5.3,0.3Z" color="#402ab5"/>
<path d="M241.6,180.4l5.3,-0.5l2.1,-0.2l-5.3,0.3Z" color="#402bb8"/>
<path d="M239.4,180.5l5.3,-0.4l2.2,-0.2l-5.3,0.5Z" color="#412dbb"/>
<path d="M237.2,180.5l5.3,-0.2l2.2,-0.2l-5.3,0.4Z" color="#422ebf"/>
<path d="M235,180.6l5.3,0l2.2,-0.3l-5.3,0.2Z" color="#4230c3"/>
<path d="M232.8,180.5l5.3,0.1l2.2,0l-5.3,0Z" color="#4331c8"/>
<path d="M230.7,180.5l5.3,-0.1l2.1,0.2l-5.3,-0.1Z" color="#4433cd"/>
<path d="M228.5,180.6l5.3,-0.4l2.2,0.2l-5.3,0.1Z" color="#4535d2"/>
<path d="M226.3,180.2l5.3,-0.4l2.2,0.4l-5.3,0.4Z" color="#4538d7"/>
<path d="M224.1,179.5l5.3,-0.4l2.2,0.7l-5.3,0.4Z" color="#463bde"/>
<path d="M221.9,179l5.3,-0.8l2.2,0.9l-5.3,0.4Z" color="#4740e3"/>
<path d="M219.8,178l5.3,-1.5l2.1,1.7l-5.3,0.8Z" color="#4745e9"/>
<path d="M217.6,175.8l5.3,-0.5l2.2,1.2l-5.3,1.5Z" color="#484cef"/>
<path d="M215.4,174.3l5.3,0.2l2.2,0.8l-5.3,0.5Z" color="#4852f4"/>
<path d="M213.2,173.3l5.3,0.2l2.2,1l-5.3,-0.2Z" color="#4757f7"/>
<path d="M211,172.2l5.3,0.6l2.2,0.7l-5.3,-0.2Z" color="#475cfa"/>
<path d="M208.9,171.5l5.3,-0.5l2.1,1.8l-5.3,-0.6Z" color="#4562fc"/>
<path d="M206.7,168.5l5.3,0.2l2.2,2.3l-5.3,0.5Z" color="#426afe"/>
<path d="M204.5,167.9l5.3,0.4l2.2,0.4l-5.3,-0.2Z" color="#3d71ff"/>
<path d="M202.3,167.6l5.3,0.3l2.2,0.4l-5.3,-0.4Z" color="#3975fe"/>
<path d="M200.2,167.2l5.2,0.5l2.2,0.2l-5.3,-0.3Z" color="#3579fd"/>
<path d="M198,167l5.3,0.4l2.1,0.3l-5.2,-0.5Z" color="#327cfc"/>
<path d="M195.8,167.5l5.3,0.1l2.2,-0.2l-5.3,-0.4Z" color="#317efb"/>
<path d="M193.6,167.9l5.3,0.1l2.2,-0.4l-5.3,-0.1Z" color="#3080fb"/>
<path d="M191.4,168.3l5.3,0.3l2.2,-0.6l-5.3,-0.1Z" color="#2f81fa"/>
<path d="M189.3,168.9l5.2,0.6l2.2,-0.9l-5.3,-0.3Z" color="#2f82fa"/>
<path d="M187.1,170.8l5.3,0.1l2.1,-1.4l-5.2,-0.6Z" color="#2f81fa"/>
<path d="M184.9,172.1l5.3,0.4l2.2,-1.6l-5.3,-0.1Z" color="#307ffb"/>
<path d="M182.7,173.9l5.3,0.3l2.2,-1.7l-5.3,-0.4Z" color="#317dfc"/>
<path d="M180.5,177.5l5.3,0.2l2.2,-3.5l-5.3,-0.3Z" color="#3678fd"/>
<path d="M178.4,179.2l5.2,0.6l2.2,-2.1l-5.3,-0.2Z" color="#3b73fe"/>
<path d="M176.2,182.2l5.3,0.4l2.1,-2.8l-5.2,-0.6Z" color="#3f6eff"/>
<path d="M174,187.1l5.3,0.3l2.2,-4.8l-5.3,-0.4Z" color="#4466fd"/>
<path d="M171.8,189.6l5.3,0.3l2.2,-2.5l-5.3,-0.3Z" color="#465efb"/>
<path d="M169.6,192.6l5.3,0.2l2.2,-2.9l-5.3,-0.3Z" color="#4759f8"/>
<path d="M167.5,195.7l5.2,-0.3l2.2,-2.6l-5.3,-0.2Z" color="#4854f5"/>
<path d="M165.3,199.5l5.3,-1.1l2.1,-3l-5.2,0.3Z" color="#484ef1"/>
<path d="M163.1,203.6l5.3,-0.9l2.2,-4.3l-5.3,1.1Z" color="#4746ea"/>
<path d="M160.9,206.5l5.3,-0.4l2.2,-3.4l-5.3,0.9Z" color="#473ee1"/>
<path d="M158.7,208.7l5.3,-0.2l2.2,-2.4l-5.3,0.4Z" color="#4639da"/>
<path d="M156.6,210.8l5.2,-0.1l2.2,-2.2l-5.3,0.2Z" color="#4536d4"/>
<path d="M154.4,212.6l5.3,0.1l2.1,-2l-5.2,0.1Z" color="#4434cf"/>
<path d="M152.2,214.5l5.3,0.1l2.2,-1.9l-5.3,-0.1Z" color="#4332c9"/>
<path d="M150,216.2l5.3,0l2.2,-1.6l-5.3,-0.1Z" color="#4330c5"/>
<path d="M147.8,217.9l5.3,-0.1l2.2,-1.6l-5.3,0Z" color="#422fc1"/>
<path d="M145.7,219.6l5.2,-0.2l2.2,-1.6l-5.3,0.1Z" color="#412dbd"/>
<path d="M143.5,221l5.3,-0.2l2.1,-1.4l-5.2,0.2Z" color="#412cb9"/>
<path d="M141.3,222.2l5.3,-0.2l2.2,-1.2l-5.3,0.2Z" color="#402bb7"/>
<path d="M139.1,223.4l5.3,-0.1l2.2,-1.3l-5.3,0.2Z" color="#402ab5"/>
<path d="M136.9,224.6l5.3,-0.1l2.2,-1.2l-5.3,0.1Z" color="#402ab4"/>
<path d="M257.8,177.2l5.4,-0.9l2.1,-0.8l-5.4,0.8Z" color="#412dbb"/>
<path d="M255.6,178l5.4,-0.9l2.2,-0.8l-5.4,0.9Z" color="#412dbc"/>
<path d="M253.4,178.8l5.4,-0.9l2.2,-0.8l-5.4,0.9Z" color="#412dbd"/>
<path d="M251.2,179.3l5.4,-0.7l2.2,-0.7l-5.4,0.9Z" color="#412ebe"/>
<path d="M249,179.7l5.4,-0.7l2.2,-0.4l-5.4,0.7Z" color="#422ec0"/>
<path d="M246.9,179.9l5.4,-0.6l2.1,-0.3l-5.4,0.7Z" color="#4230c3"/>
<path d="M244.7,180.1l5.4,-0.5l2.2,-0.3l-5.4,0.6Z" color="#4331c6"/>
<path d="M242.5,180.3l5.4,-0.3l2.2,-0.4l-5.4,0.5Z" color="#4332ca"/>
<path d="M240.3,180.6l5.4,-0.4l2.2,-0.2l-5.4,0.3Z" color="#4433cd"/>
<path d="M238.1,180.6l5.5,-0.7l2.1,0.3l-5.4,0.4Z" color="#4435d1"/>
<path d="M236,180.4l5.4,-0.9l2.2,0.4l-5.5,0.7Z" color="#4537d7"/>
<path d="M233.8,180.2l5.4,-1l2.2,0.3l-5.4,0.9Z" color="#463adc"/>
<path d="M231.6,179.8l5.4,-1.1l2.2,0.5l-5.4,1Z" color="#463ee0"/>
<path d="M229.4,179.1l5.4,-1.7l2.2,1.3l-5.4,1.1Z" color="#4742e6"/>
<path d="M227.2,178.2l5.5,-2l2.1,1.2l-5.4,1.7Z" color="#4747eb"/>
<path d="M225.1,176.5l5.4,-1.3l2.2,1l-5.5,2Z" color="#484df0"/>
<path d="M222.9,175.3l5.4,-0.5l2.2,0.4l-5.4,1.3Z" color="#4852f4"/>
<path d="M220.7,174.5l5.4,-0.3l2.2,0.6l-5.4,0.5Z" color="#4757f7"/>
<path d="M218.5,173.5l5.4,-0.2l2.2,0.9l-5.4,0.3Z" color="#475bfa"/>
<path d="M216.3,172.8l5.5,-0.8l2.1,1.3l-5.4,0.2Z" color="#4660fc"/>
<path d="M214.2,171l5.4,-1.2l2.2,2.2l-5.5,0.8Z" color="#4367fd"/>
<path d="M212,168.7l5.4,0l2.2,1.1l-5.4,1.2Z" color="#3e6fff"/>
<path d="M209.8,168.3l5.4,0.2l2.2,0.2l-5.4,0Z" color="#3975fe"/>
<path d="M207.6,167.9l5.4,0.1l2.2,0.5l-5.4,-0.2Z" color="#3579fd"/>
<path d="M205.4,167.7l5.5,0.1l2.1,0.2l-5.4,-0.1Z" color="#327cfc"/>
<path d="M203.3,167.4l5.4,0.2l2.2,0.2l-5.5,-0.1Z" color="#307ffb"/>
<path d="M201.1,167.6l5.4,0.1l2.2,-0.1l-5.4,-0.2Z" color="#2f82fa"/>
<path d="M198.9,168l5.4,0.3l2.2,-0.6l-5.4,-0.1Z" color="#2e83f9"/>
<path d="M196.7,168.6l5.4,0.4l2.2,-0.7l-5.4,-0.3Z" color="#2e84f8"/>
<path d="M194.5,169.5l5.5,0.6l2.1,-1.1l-5.4,-0.4Z" color="#2e85f8"/>
<path d="M192.4,170.9l5.4,0.4l2.2,-1.2l-5.5,-0.6Z" color="#2e84f8"/>
<path d="M190.2,172.5l5.4,0.3l2.2,-1.5l-5.4,-0.4Z" color="#2f83f9"/>
<path d="M188,174.2l5.4,0.3l2.2,-1.7l-5.4,-0.3Z" color="#2f81fa"/>
<path d="M185.8,177.7l5.4,-0.5l2.2,-2.7l-5.4,-0.3Z" color="#327cfc"/>
<path d="M183.6,179.8l5.5,0.4l2.1,-3l-5.4,0.5Z" color="#3777fe"/>
<path d="M181.5,182.6l5.4,0.2l2.2,-2.6l-5.5,-0.4Z" color="#3c71ff"/>
<path d="M179.3,187.4l5.4,-0.6l2.2,-4l-5.4,-0.2Z" color="#426afe"/>
<path d="M177.1,189.9l5.4,-0.1l2.2,-3l-5.4,0.6Z" color="#4562fc"/>
<path d="M174.9,192.8l5.4,-0.3l2.2,-2.7l-5.4,0.1Z" color="#465dfa"/>
<path d="M172.7,195.4l5.5,-0.4l2.1,-2.5l-5.4,0.3Z" color="#4758f8"/>
<path d="M170.6,198.4l5.4,-1l2.2,-2.4l-5.5,0.4Z" color="#4854f5"/>
<path d="M168.4,202.7l5.4,-2.4l2.2,-2.9l-5.4,1Z" color="#484ef1"/>
<path d="M166.2,206.1l5.4,-2.1l2.2,-3.7l-5.4,2.4Z" color="#4746ea"/>
<path d="M164,208.5l5.4,-1l2.2,-3.5l-5.4,2.1Z" color="#4740e3"/>
<path d="M161.8,210.7l5.5,-0.9l2.1,-2.3l-5.4,1Z" color="#463bdd"/>
<path d="M159.7,212.7l5.4,-0.7l2.2,-2.2l-5.5,0.9Z" color="#4538d8"/>
<path d="M157.5,214.6l5.4,-0.4l2.2,-2.2l-5.4,0.7Z" color="#4536d2"/>
<path d="M155.3,216.2l5.4,-0.3l2.2,-1.7l-5.4,0.4Z" color="#4434ce"/>
<path d="M153.1,217.8l5.4,-0.2l2.2,-1.7l-5.4,0.3Z" color="#4332ca"/>
<path d="M150.9,219.4l5.5,-0.4l2.1,-1.4l-5.4,0.2Z" color="#4331c6"/>
<path d="M148.8,220.8l5.4,-0.5l2.2,-1.3l-5.5,0.4Z" color="#4230c3"/>
<path d="M146.6,222l5.4,-0.4l2.2,-1.3l-5.4,0.5Z" color="#422fc1"/>
<path d="M144.4,223.3l5.4,-0.5l2.2,-1.2l-5.4,0.4Z" color="#422ebf"/>
<path d="M142.2,224.5l5.4,-0.5l2.2,-1.2l-5.4,0.5Z" color="#412ebd"/>
<path d="M263.2,176.3l5.5,-0.8l2.2,-0.8l-5.6,0.8Z" color="#4332c8"/>
<path d="M261,177.1l5.5,-0.8l2.2,-0.8l-5.5,0.8Z" color="#4332c9"/>
<path d="M258.8,177.9l5.6,-0.9l2.1,-0.7l-5.5,0.8Z" color="#4332ca"/>
<path d="M256.6,178.6l5.6,-0.8l2.2,-0.8l-5.6,0.9Z" color="#4332ca"/>
<path d="M254.4,179l5.6,-0.8l2.2,-0.4l-5.6,0.8Z" color="#4433cc"/>
<path d="M252.3,179.3l5.5,-0.7l2.2,-0.4l-5.6,0.8Z" color="#4434cf"/>
<path d="M250.1,179.6l5.5,-0.8l2.2,-0.2l-5.5,0.7Z" color="#4435d2"/>
<path d="M247.9,180l5.6,-1.1l2.1,-0.1l-5.5,0.8Z" color="#4537d5"/>
<path d="M245.7,180.2l5.6,-1.4l2.2,0.1l-5.6,1.1Z" color="#4538d8"/>
<path d="M243.6,179.9l5.5,-1.4l2.2,0.3l-5.6,1.4Z" color="#463bdd"/>
<path d="M241.4,179.5l5.5,-1.8l2.2,0.8l-5.5,1.4Z" color="#473ee2"/>
<path d="M239.2,179.2l5.5,-2.4l2.2,0.9l-5.5,1.8Z" color="#4742e6"/>
<path d="M237,178.7l5.6,-2.9l2.1,1l-5.5,2.4Z" color="#4747eb"/>
<path d="M234.8,177.4l5.6,-2.2l2.2,0.6l-5.6,2.9Z" color="#484bef"/>
<path d="M232.7,176.2l5.5,-1.3l2.2,0.3l-5.6,2.2Z" color="#4850f3"/>
<path d="M230.5,175.2l5.5,-0.8l2.2,0.5l-5.5,1.3Z" color="#4755f6"/>
<path d="M228.3,174.8l5.5,-1l2.2,0.6l-5.5,0.8Z" color="#4759f8"/>
<path d="M226.1,174.2l5.6,-1.3l2.1,0.9l-5.5,1Z" color="#465dfa"/>
<path d="M223.9,173.3l5.6,-2.3l2.2,1.9l-5.6,1.3Z" color="#4563fc"/>
<path d="M221.8,172l5.5,-2.4l2.2,1.4l-5.6,2.3Z" color="#4269fe"/>
<path d="M219.6,169.8l5.5,-1.3l2.2,1.1l-5.5,2.4Z" color="#3e70ff"/>
<path d="M217.4,168.7l5.5,-0.6l2.2,0.4l-5.5,1.3Z" color="#3876fe"/>
<path d="M215.2,168.5l5.6,-0.8l2.1,0.4l-5.5,0.6Z" color="#337afd"/>
<path d="M213,168l5.6,-0.7l2.2,0.4l-5.6,0.8Z" color="#317efb"/>
<path d="M210.9,167.8l5.5,-0.9l2.2,0.4l-5.6,0.7Z" color="#2f82fa"/>
<path d="M208.7,167.6l5.5,-0.8l2.2,0.1l-5.5,0.9Z" color="#2e85f8"/>
<path d="M206.5,167.7l5.5,-0.6l2.2,-0.3l-5.5,0.8Z" color="#2e87f7"/>
<path d="M204.3,168.3l5.6,-0.5l2.1,-0.7l-5.5,0.6Z" color="#2d88f6"/>
<path d="M202.1,169l5.6,-0.5l2.2,-0.7l-5.6,0.5Z" color="#2d89f5"/>
<path d="M200,170.1l5.5,-0.2l2.2,-1.4l-5.6,0.5Z" color="#2d89f6"/>
<path d="M197.8,171.3l5.5,-0.2l2.2,-1.2l-5.5,0.2Z" color="#2d88f6"/>
<path d="M195.6,172.8l5.5,-0.1l2.2,-1.6l-5.5,0.2Z" color="#2e86f7"/>
<path d="M193.4,174.5l5.6,0l2.1,-1.8l-5.5,0.1Z" color="#2e84f8"/>
<path d="M191.2,177.2l5.6,-0.9l2.2,-1.8l-5.6,0Z" color="#2f82fa"/>
<path d="M189.1,180.2l5.5,-1.1l2.2,-2.8l-5.6,0.9Z" color="#317dfc"/>
<path d="M186.9,182.8l5.5,-0.5l2.2,-3.2l-5.5,1.1Z" color="#3777fe"/>
<path d="M184.7,186.8l5.5,-1.5l2.2,-3l-5.5,0.5Z" color="#3d70ff"/>
<path d="M182.5,189.8l5.6,-1.5l2.1,-3l-5.5,1.5Z" color="#4269fe"/>
<path d="M180.3,192.5l5.6,-1.1l2.2,-3.1l-5.6,1.5Z" color="#4563fd"/>
<path d="M178.2,195l5.5,-0.9l2.2,-2.7l-5.6,1.1Z" color="#465efb"/>
<path d="M176,197.4l5.5,-0.9l2.2,-2.4l-5.5,0.9Z" color="#475af9"/>
<path d="M173.8,200.3l5.5,-1.5l2.2,-2.3l-5.5,0.9Z" color="#4756f6"/>
<path d="M171.6,204l5.6,-3.1l2.1,-2.1l-5.5,1.5Z" color="#4851f3"/>
<path d="M169.4,207.5l5.6,-3.9l2.2,-2.7l-5.6,3.1Z" color="#484bef"/>
<path d="M167.3,209.8l5.5,-2.9l2.2,-3.3l-5.6,3.9Z" color="#4745e9"/>
<path d="M165.1,212l5.5,-2l2.2,-3.1l-5.5,2.9Z" color="#4740e4"/>
<path d="M162.9,214.2l5.6,-1.6l2.1,-2.6l-5.5,2Z" color="#463cdf"/>
<path d="M160.7,215.9l5.6,-1.3l2.2,-2l-5.6,1.6Z" color="#4639d9"/>
<path d="M158.5,217.6l5.6,-1.1l2.2,-1.9l-5.6,1.3Z" color="#4537d5"/>
<path d="M156.4,219l5.5,-0.8l2.2,-1.7l-5.6,1.1Z" color="#4435d2"/>
<path d="M154.2,220.3l5.5,-0.7l2.2,-1.4l-5.5,0.8Z" color="#4434cf"/>
<path d="M152,221.6l5.6,-0.8l2.1,-1.2l-5.5,0.7Z" color="#4433cd"/>
<path d="M149.8,222.8l5.6,-0.8l2.2,-1.2l-5.6,0.8Z" color="#4433cb"/>
<path d="M147.6,224l5.6,-0.8l2.2,-1.2l-5.6,0.8Z" color="#4332c9"/>
<path d="M268.7,175.5l5.7,-1.1l2.2,-0.9l-5.7,1.2Z" color="#4537d6"/>
<path d="M266.5,176.3l5.7,-1.1l2.2,-0.8l-5.7,1.1Z" color="#4537d6"/>
<path d="M264.4,177l5.6,-1.1l2.2,-0.7l-5.7,1.1Z" color="#4537d7"/>
<path d="M262.2,177.8l5.6,-1.4l2.2,-0.5l-5.6,1.1Z" color="#4538d7"/>
<path d="M260,178.2l5.7,-1.4l2.1,-0.4l-5.6,1.4Z" color="#4539d9"/>
<path d="M257.8,178.6l5.7,-1.4l2.2,-0.4l-5.7,1.4Z" color="#463adb"/>
<path d="M255.6,178.8l5.7,-1.8l2.2,0.2l-5.7,1.4Z" color="#463cde"/>
<path d="M253.5,178.9l5.6,-2.5l2.2,0.6l-5.7,1.8Z" color="#473ee2"/>
<path d="M251.3,178.8l5.7,-3l2.1,0.6l-5.6,2.5Z" color="#4742e6"/>
<path d="M249.1,178.5l5.7,-3.2l2.2,0.5l-5.7,3Z" color="#4745e9"/>
<path d="M246.9,177.7l5.7,-2.9l2.2,0.5l-5.7,3.2Z" color="#4849ed"/>
<path d="M244.7,176.8l5.7,-2.4l2.2,0.4l-5.7,2.9Z" color="#484df1"/>
<path d="M242.6,175.8l5.6,-1.4l2.2,0l-5.7,2.4Z" color="#4851f4"/>
<path d="M240.4,175.2l5.7,-0.9l2.1,0.1l-5.6,1.4Z" color="#4755f6"/>
<path d="M238.2,174.9l5.7,-1.3l2.2,0.7l-5.7,0.9Z" color="#4758f8"/>
<path d="M236,174.4l5.7,-2l2.2,1.2l-5.7,1.3Z" color="#475dfa"/>
<path d="M233.8,173.8l5.7,-3l2.2,1.6l-5.7,2Z" color="#4562fc"/>
<path d="M231.7,172.9l5.6,-3.7l2.2,1.6l-5.7,3Z" color="#4368fe"/>
<path d="M229.5,171l5.7,-2.7l2.1,0.9l-5.6,3.7Z" color="#3f6eff"/>
<path d="M227.3,169.6l5.7,-1.9l2.2,0.6l-5.7,2.7Z" color="#3974fe"/>
<path d="M225.1,168.5l5.7,-1.4l2.2,0.6l-5.7,1.9Z" color="#347afd"/>
<path d="M222.9,168.1l5.7,-1.6l2.2,0.6l-5.7,1.4Z" color="#307efb"/>
<path d="M220.8,167.7l5.6,-2.1l2.2,0.9l-5.7,1.6Z" color="#2f82f9"/>
<path d="M218.6,167.3l5.7,-2.5l2.1,0.8l-5.6,2.1Z" color="#2e87f7"/>
<path d="M216.4,166.9l5.7,-2.1l2.2,0l-5.7,2.5Z" color="#2d8af5"/>
<path d="M214.2,166.8l5.7,-1.7l2.2,-0.3l-5.7,2.1Z" color="#2d8cf3"/>
<path d="M212,167.1l5.7,-1.6l2.2,-0.4l-5.7,1.7Z" color="#2c8ef1"/>
<path d="M209.9,167.8l5.6,-1.6l2.2,-0.7l-5.7,1.6Z" color="#2c8ff1"/>
<path d="M207.7,168.5l5.7,-1.4l2.1,-0.9l-5.6,1.6Z" color="#2c8ff0"/>
<path d="M205.5,169.9l5.7,-1.6l2.2,-1.2l-5.7,1.4Z" color="#2c8ff1"/>
<path d="M203.3,171.1l5.7,-1.4l2.2,-1.4l-5.7,1.6Z" color="#2c8ef1"/>
<path d="M201.1,172.7l5.7,-1.3l2.2,-1.7l-5.7,1.4Z" color="#2d8cf3"/>
<path d="M199,174.5l5.6,-1.1l2.2,-2l-5.7,1.3Z" color="#2d8af4"/>
<path d="M196.8,176.3l5.7,-0.8l2.1,-2.1l-5.6,1.1Z" color="#2d88f6"/>
<path d="M194.6,179.1l5.7,-1.4l2.2,-2.2l-5.7,0.8Z" color="#2e84f8"/>
<path d="M192.4,182.3l5.7,-2.3l2.2,-2.3l-5.7,1.4Z" color="#307ffb"/>
<path d="M190.2,185.3l5.7,-2.4l2.2,-2.9l-5.7,2.3Z" color="#347afd"/>
<path d="M188.1,188.3l5.6,-2.3l2.2,-3.1l-5.7,2.4Z" color="#3a74fe"/>
<path d="M185.9,191.4l5.7,-2.4l2.1,-3l-5.6,2.3Z" color="#406dfe"/>
<path d="M183.7,194.1l5.7,-2l2.2,-3.1l-5.7,2.4Z" color="#4367fd"/>
<path d="M181.5,196.5l5.7,-1.5l2.2,-2.9l-5.7,2Z" color="#4562fc"/>
<path d="M179.3,198.8l5.7,-1.1l2.2,-2.7l-5.7,1.5Z" color="#465dfb"/>
<path d="M177.2,200.9l5.6,-1.1l2.2,-2.1l-5.7,1.1Z" color="#475af9"/>
<path d="M175,203.6l5.7,-1.8l2.1,-2l-5.6,1.1Z" color="#4756f7"/>
<path d="M172.8,206.9l5.7,-3.1l2.2,-2l-5.7,1.8Z" color="#4852f4"/>
<path d="M170.6,210l5.7,-4.2l2.2,-2l-5.7,3.1Z" color="#484df0"/>
<path d="M168.5,212.6l5.6,-4.1l2.2,-2.7l-5.7,4.2Z" color="#4848ec"/>
<path d="M166.3,214.6l5.6,-3.2l2.2,-2.9l-5.6,4.1Z" color="#4744e8"/>
<path d="M164.1,216.5l5.7,-2.6l2.1,-2.5l-5.6,3.2Z" color="#4740e4"/>
<path d="M161.9,218.2l5.7,-1.9l2.2,-2.4l-5.7,2.6Z" color="#463ddf"/>
<path d="M159.7,219.6l5.7,-1.7l2.2,-1.6l-5.7,1.9Z" color="#463bdc"/>
<path d="M157.6,220.8l5.6,-1.8l2.2,-1.1l-5.7,1.7Z" color="#4639da"/>
<path d="M155.4,222l5.6,-1.8l2.2,-1.2l-5.6,1.8Z" color="#4539d9"/>
<path d="M153.2,223.2l5.7,-1.9l2.1,-1.1l-5.6,1.8Z" color="#4538d8"/>
<path d="M274.4,174.4l5.8,-2.8l2.2,-0.8l-5.8,2.7Z" color="#4740e4"/>
<path d="M272.2,175.2l5.8,-2.8l2.2,-0.8l-5.8,2.8Z" color="#4740e4"/>
<path d="M270,175.9l5.8,-3l2.2,-0.5l-5.8,2.8Z" color="#4741e5"/>
<path d="M267.8,176.4l5.8,-3.5l2.2,0l-5.8,3Z" color="#4742e6"/>
<path d="M265.7,176.8l5.8,-3.8l2.1,-0.1l-5.8,3.5Z" color="#4744e8"/>
<path d="M263.5,177.2l5.8,-4.1l2.2,-0.1l-5.8,3.8Z" color="#4745ea"/>
<path d="M261.3,177l5.8,-4l2.2,0.1l-5.8,4.1Z" color="#4848ec"/>
<path d="M259.1,176.4l5.8,-3.6l2.2,0.2l-5.8,4Z" color="#484bef"/>
<path d="M257,175.8l5.7,-2.8l2.2,-0.2l-5.8,3.6Z" color="#484ef1"/>
<path d="M254.8,175.3l5.8,-2l2.1,-0.3l-5.7,2.8Z" color="#4851f3"/>
<path d="M252.6,174.8l5.8,-1.4l2.2,-0.1l-5.8,2Z" color="#4854f5"/>
<path d="M250.4,174.4l5.8,-1.1l2.2,0.1l-5.8,1.4Z" color="#4757f7"/>
<path d="M248.2,174.4l5.8,-1.3l2.2,0.2l-5.8,1.1Z" color="#475af9"/>
<path d="M246.1,174.3l5.8,-3.2l2.1,2l-5.8,1.3Z" color="#465efb"/>
<path d="M243.9,173.6l5.8,-4.6l2.2,2.1l-5.8,3.2Z" color="#4564fd"/>
<path d="M241.7,172.4l5.8,-4.3l2.2,0.9l-5.8,4.6Z" color="#426afe"/>
<path d="M239.5,170.8l5.8,-3.3l2.2,0.6l-5.8,4.3Z" color="#3e70ff"/>
<path d="M237.3,169.2l5.8,-2.3l2.2,0.6l-5.8,3.3Z" color="#3876fe"/>
<path d="M235.2,168.3l5.8,-2l2.1,0.6l-5.8,2.3Z" color="#337bfc"/>
<path d="M233,167.7l5.8,-2.3l2.2,0.9l-5.8,2Z" color="#3080fb"/>
<path d="M230.8,167.1l5.8,-2.7l2.2,1l-5.8,2.3Z" color="#2e84f8"/>
<path d="M228.6,166.5l5.8,-3.1l2.2,1l-5.8,2.7Z" color="#2d89f6"/>
<path d="M226.4,165.6l5.8,-3.2l2.2,1l-5.8,3.1Z" color="#2d8df2"/>
<path d="M224.3,164.8l5.8,-2.9l2.1,0.5l-5.8,3.2Z" color="#2b92ef"/>
<path d="M222.1,164.8l5.8,-2.7l2.2,-0.2l-5.8,2.9Z" color="#2994ed"/>
<path d="M219.9,165.1l5.8,-2.6l2.2,-0.4l-5.8,2.7Z" color="#2896eb"/>
<path d="M217.7,165.5l5.8,-2.5l2.2,-0.5l-5.8,2.6Z" color="#2797eb"/>
<path d="M215.5,166.2l5.8,-2.3l2.2,-0.9l-5.8,2.5Z" color="#2798ea"/>
<path d="M213.4,167.1l5.8,-2.2l2.1,-1l-5.8,2.3Z" color="#2798ea"/>
<path d="M211.2,168.3l5.8,-2.4l2.2,-1l-5.8,2.2Z" color="#2798ea"/>
<path d="M209,169.7l5.8,-2.4l2.2,-1.4l-5.8,2.4Z" color="#2797eb"/>
<path d="M206.8,171.4l5.8,-2.4l2.2,-1.7l-5.8,2.4Z" color="#2895ec"/>
<path d="M204.6,173.4l5.8,-2.4l2.2,-2l-5.8,2.4Z" color="#2a93ee"/>
<path d="M202.5,175.5l5.8,-2.3l2.1,-2.2l-5.8,2.4Z" color="#2c90f0"/>
<path d="M200.3,177.7l5.8,-2.3l2.2,-2.2l-5.8,2.3Z" color="#2d8df2"/>
<path d="M198.1,180l5.8,-2l2.2,-2.6l-5.8,2.3Z" color="#2d89f5"/>
<path d="M195.9,182.9l5.8,-2.2l2.2,-2.7l-5.8,2Z" color="#2e85f8"/>
<path d="M193.7,186l5.8,-2.8l2.2,-2.5l-5.8,2.2Z" color="#3080fb"/>
<path d="M191.6,189l5.8,-2.9l2.1,-2.9l-5.8,2.8Z" color="#347afd"/>
<path d="M189.4,192.1l5.8,-2.9l2.2,-3.1l-5.8,2.9Z" color="#3a73fe"/>
<path d="M187.2,195l5.8,-2.8l2.2,-3l-5.8,2.9Z" color="#406dfe"/>
<path d="M185,197.7l5.8,-2.7l2.2,-2.8l-5.8,2.8Z" color="#4368fd"/>
<path d="M182.8,199.8l5.8,-2.1l2.2,-2.7l-5.8,2.7Z" color="#4563fc"/>
<path d="M180.7,201.8l5.8,-1.5l2.1,-2.6l-5.8,2.1Z" color="#465ffb"/>
<path d="M178.5,203.8l5.8,-1.3l2.2,-2.2l-5.8,1.5Z" color="#475bfa"/>
<path d="M176.3,205.8l5.8,-1.4l2.2,-1.9l-5.8,1.3Z" color="#4758f8"/>
<path d="M174.1,208.5l5.8,-2.3l2.2,-1.8l-5.8,1.4Z" color="#4755f6"/>
<path d="M171.9,211.4l5.8,-3.4l2.2,-1.8l-5.8,2.3Z" color="#4851f4"/>
<path d="M169.8,213.9l5.8,-4.2l2.1,-1.7l-5.8,3.4Z" color="#484ef1"/>
<path d="M167.6,216.3l5.8,-4.9l2.2,-1.7l-5.8,4.2Z" color="#484aee"/>
<path d="M165.4,217.9l5.8,-4.5l2.2,-2l-5.8,4.9Z" color="#4848ec"/>
<path d="M163.2,219l5.8,-3.9l2.2,-1.7l-5.8,4.5Z" color="#4746ea"/>
<path d="M161,220.2l5.8,-3.6l2.2,-1.5l-5.8,3.9Z" color="#4744e8"/>
<path d="M158.9,221.3l5.8,-3.3l2.1,-1.4l-5.8,3.6Z" color="#4743e7"/>
<path d="M280.2,171.6l5.9,-4.2l2.2,-0.8l-5.9,4.2Z" color="#484ef1"/>
<path d="M278,172.4l5.9,-4.2l2.2,-0.8l-5.9,4.2Z" color="#484ef1"/>
<path d="M275.8,172.9l5.9,-4l2.2,-0.7l-5.9,4.2Z" color="#484ff2"/>
<path d="M273.6,172.9l6,-3.5l2.1,-0.5l-5.9,4Z" color="#4850f3"/>
<path d="M271.5,173l5.9,-3.1l2.2,-0.5l-6,3.5Z" color="#4852f4"/>
<path d="M269.3,173.1l5.9,-2.7l2.2,-0.5l-5.9,3.1Z" color="#4853f5"/>
<path d="M267.1,173l5.9,-2.2l2.2,-0.4l-5.9,2.7Z" color="#4755f6"/>
<path d="M264.9,172.8l6,-1.6l2.1,-0.4l-5.9,2.2Z" color="#4757f7"/>
<path d="M262.7,173l6,-1.5l2.2,-0.3l-6,1.6Z" color="#4759f8"/>
<path d="M260.6,173.3l5.9,-2.8l2.2,1l-6,1.5Z" color="#475cfa"/>
<path d="M258.4,173.4l5.9,-4.7l2.2,1.8l-5.9,2.8Z" color="#4660fb"/>
<path d="M256.2,173.3l5.9,-6.1l2.2,1.5l-5.9,4.7Z" color="#4465fd"/>
<path d="M254,173.1l6,-6.8l2.1,0.9l-5.9,6.1Z" color="#4269fe"/>
<path d="M251.9,171.1l5.9,-5.1l2.2,0.3l-6,6.8Z" color="#3f6eff"/>
<path d="M249.7,169l5.9,-3.1l2.2,0.1l-5.9,5.1Z" color="#3974fe"/>
<path d="M247.5,168.1l5.9,-2.6l2.2,0.4l-5.9,3.1Z" color="#347afd"/>
<path d="M245.3,167.5l5.9,-2.6l2.2,0.6l-5.9,2.6Z" color="#317efb"/>
<path d="M243.1,166.9l6,-2.9l2.1,0.9l-5.9,2.6Z" color="#2f82f9"/>
<path d="M241,166.3l5.9,-3.5l2.2,1.2l-6,2.9Z" color="#2e87f7"/>
<path d="M238.8,165.4l5.9,-3.8l2.2,1.2l-5.9,3.5Z" color="#2d8cf3"/>
<path d="M236.6,164.4l5.9,-3.9l2.2,1.1l-5.9,3.8Z" color="#2b91ef"/>
<path d="M234.4,163.4l5.9,-4l2.2,1.1l-5.9,3.9Z" color="#2895ec"/>
<path d="M232.2,162.4l6,-4l2.1,1l-5.9,4Z" color="#269ae9"/>
<path d="M230.1,161.9l5.9,-3.8l2.2,0.3l-6,4Z" color="#249ee6"/>
<path d="M227.9,162.1l5.9,-3.6l2.2,-0.4l-5.9,3.8Z" color="#23a0e5"/>
<path d="M225.7,162.5l5.9,-3.6l2.2,-0.4l-5.9,3.6Z" color="#23a1e4"/>
<path d="M223.5,163l5.9,-3.5l2.2,-0.6l-5.9,3.6Z" color="#22a2e4"/>
<path d="M221.3,163.9l6,-3.3l2.1,-1.1l-5.9,3.5Z" color="#22a2e4"/>
<path d="M219.2,164.9l5.9,-3.3l2.2,-1l-6,3.3Z" color="#22a2e4"/>
<path d="M217,165.9l5.9,-3.2l2.2,-1.1l-5.9,3.3Z" color="#22a2e4"/>
<path d="M214.8,167.3l5.9,-3.2l2.2,-1.4l-5.9,3.2Z" color="#22a1e4"/>
<path d="M212.6,169l5.9,-3.2l2.2,-1.7l-5.9,3.2Z" color="#23a0e5"/>
<path d="M210.4,171l6,-3.4l2.1,-1.8l-5.9,3.2Z" color="#249ee6"/>
<path d="M208.3,173.2l5.9,-3.5l2.2,-2.1l-6,3.4Z" color="#259be8"/>
<path d="M206.1,175.4l5.9,-3.5l2.2,-2.2l-5.9,3.5Z" color="#2798ea"/>
<path d="M203.9,178l5.9,-3.7l2.2,-2.4l-5.9,3.5Z" color="#2995ec"/>
<path d="M201.7,180.7l5.9,-3.8l2.2,-2.6l-5.9,3.7Z" color="#2b90ef"/>
<path d="M199.5,183.2l6,-3.3l2.1,-3l-5.9,3.8Z" color="#2d8cf3"/>
<path d="M197.4,186.1l5.9,-2.9l2.2,-3.3l-6,3.3Z" color="#2e87f7"/>
<path d="M195.2,189.2l5.9,-3.5l2.2,-2.5l-5.9,2.9Z" color="#2f81fa"/>
<path d="M193,192.2l5.9,-4.1l2.2,-2.4l-5.9,3.5Z" color="#327cfc"/>
<path d="M190.8,195l5.9,-4.3l2.2,-2.6l-5.9,4.1Z" color="#3777fe"/>
<path d="M188.6,197.7l6,-4.2l2.1,-2.8l-5.9,4.3Z" color="#3c71ff"/>
<path d="M186.5,200.3l5.9,-3.9l2.2,-2.9l-6,4.2Z" color="#406cfe"/>
<path d="M184.3,202.5l5.9,-3.4l2.2,-2.7l-5.9,3.9Z" color="#4367fd"/>
<path d="M182.1,204.4l5.9,-2.9l2.2,-2.4l-5.9,3.4Z" color="#4563fd"/>
<path d="M179.9,206.2l5.9,-2.2l2.2,-2.5l-5.9,2.9Z" color="#4660fb"/>
<path d="M177.7,208l6,-1.7l2.1,-2.3l-5.9,2.2Z" color="#475cfa"/>
<path d="M175.6,209.7l5.9,-1.5l2.2,-1.9l-6,1.7Z" color="#4759f9"/>
<path d="M173.4,211.4l5.9,-1.8l2.2,-1.4l-5.9,1.5Z" color="#4757f7"/>
<path d="M171.2,213.4l5.9,-2.4l2.2,-1.4l-5.9,1.8Z" color="#4755f6"/>
<path d="M169,215.1l5.9,-2.8l2.2,-1.3l-5.9,2.4Z" color="#4854f5"/>
<path d="M166.8,216.6l6,-3l2.1,-1.3l-5.9,2.8Z" color="#4852f4"/>
<path d="M164.7,218l5.9,-3.2l2.2,-1.2l-6,3Z" color="#4851f3"/>
<path d="M286.1,167.4l6.1,-4l2.1,-0.7l-6,3.9Z" color="#465efb"/>
<path d="M283.9,168.2l6.1,-4.1l2.2,-0.7l-6.1,4Z" color="#465efb"/>
<path d="M281.7,168.9l6.1,-4.1l2.2,-0.7l-6.1,4.1Z" color="#465efb"/>
<path d="M279.6,169.4l6,-4.3l2.2,-0.3l-6.1,4.1Z" color="#465ffb"/>
<path d="M277.4,169.9l6,-5.2l2.2,0.4l-6,4.3Z" color="#4561fc"/>
<path d="M275.2,170.4l6.1,-6.1l2.1,0.4l-6,5.2Z" color="#4564fd"/>
<path d="M273,170.8l6.1,-6.9l2.2,0.4l-6.1,6.1Z" color="#4466fd"/>
<path d="M270.9,171.2l6,-7.5l2.2,0.2l-6.1,6.9Z" color="#4368fe"/>
<path d="M268.7,171.5l6,-7.9l2.2,0.1l-6,7.5Z" color="#416bfe"/>
<path d="M266.5,170.5l6,-6.8l2.2,-0.1l-6,7.9Z" color="#3f6eff"/>
<path d="M264.3,168.7l6.1,-4.9l2.1,-0.1l-6,6.8Z" color="#3b73fe"/>
<path d="M262.1,167.2l6.1,-3.5l2.2,0.1l-6.1,4.9Z" color="#3678fe"/>
<path d="M260,166.3l6,-2.7l2.2,0.1l-6.1,3.5Z" color="#327cfc"/>
<path d="M257.8,166l6,-2.7l2.2,0.3l-6,2.7Z" color="#3080fa"/>
<path d="M255.6,165.9l6,-3.6l2.2,1l-6,2.7Z" color="#2e84f9"/>
<path d="M253.4,165.5l6.1,-4.5l2.1,1.3l-6,3.6Z" color="#2d88f6"/>
<path d="M251.2,164.9l6.1,-5l2.2,1.1l-6.1,4.5Z" color="#2d8cf3"/>
<path d="M249.1,164l6,-5.1l2.2,1l-6.1,5Z" color="#2b91ef"/>
<path d="M246.9,162.8l6,-5.2l2.2,1.3l-6,5.1Z" color="#2896ec"/>
<path d="M244.7,161.6l6,-5.2l2.2,1.2l-6,5.2Z" color="#269be8"/>
<path d="M242.5,160.5l6.1,-5.2l2.1,1.1l-6,5.2Z" color="#249fe5"/>
<path d="M240.3,159.4l6.1,-5.2l2.2,1.1l-6.1,5.2Z" color="#20a4e3"/>
<path d="M238.2,158.4l6,-5.1l2.2,0.9l-6.1,5.2Z" color="#1da8e0"/>
<path d="M236,158.1l6,-4.9l2.2,0.1l-6,5.1Z" color="#1babde"/>
<path d="M233.8,158.5l6,-5l2.2,-0.3l-6,4.9Z" color="#19addc"/>
<path d="M231.6,158.9l6.1,-5.1l2.1,-0.3l-6,5Z" color="#18aedb"/>
<path d="M229.4,159.5l6.1,-5.2l2.2,-0.5l-6.1,5.1Z" color="#16afd9"/>
<path d="M227.3,160.6l6,-5.2l2.2,-1.1l-6.1,5.2Z" color="#16afd9"/>
<path d="M225.1,161.6l6,-5l2.2,-1.2l-6,5.2Z" color="#16aeda"/>
<path d="M222.9,162.7l6,-4.9l2.2,-1.2l-6,5Z" color="#17aeda"/>
<path d="M220.7,164.1l6.1,-4.9l2.1,-1.4l-6,4.9Z" color="#18addb"/>
<path d="M218.5,165.8l6.1,-4.9l2.2,-1.7l-6.1,4.9Z" color="#1aacdd"/>
<path d="M216.4,167.6l6,-4.9l2.2,-1.8l-6.1,4.9Z" color="#1baade"/>
<path d="M214.2,169.7l6,-5l2.2,-2l-6,4.9Z" color="#1da8e0"/>
<path d="M212,171.9l6,-5l2.2,-2.2l-6,5Z" color="#1fa6e2"/>
<path d="M209.8,174.3l6.1,-5.1l2.1,-2.3l-6,5Z" color="#21a2e4"/>
<path d="M207.6,176.9l6.1,-5.2l2.2,-2.5l-6.1,5.1Z" color="#249fe5"/>
<path d="M205.5,179.9l6,-5.7l2.2,-2.5l-6.1,5.2Z" color="#259be8"/>
<path d="M203.3,183.2l6,-6.3l2.2,-2.7l-6,5.7Z" color="#2796eb"/>
<path d="M201.1,185.7l6,-5.9l2.2,-2.9l-6,6.3Z" color="#2b92ef"/>
<path d="M198.9,188.1l6.1,-5.3l2.1,-3l-6,5.9Z" color="#2d8df2"/>
<path d="M196.7,190.7l6.1,-5l2.2,-2.9l-6.1,5.3Z" color="#2d89f6"/>
<path d="M194.6,193.5l6,-5l2.2,-2.8l-6.1,5Z" color="#2e84f9"/>
<path d="M192.4,196.4l6,-5.4l2.2,-2.5l-6,5Z" color="#307efb"/>
<path d="M190.2,199.1l6.1,-5.7l2.1,-2.4l-6,5.4Z" color="#347afd"/>
<path d="M188,201.5l6.1,-5.5l2.2,-2.6l-6.1,5.7Z" color="#3975fe"/>
<path d="M185.8,204l6.1,-5.6l2.2,-2.4l-6.1,5.5Z" color="#3d70ff"/>
<path d="M183.7,206.3l6,-5.8l2.2,-2.1l-6.1,5.6Z" color="#416cfe"/>
<path d="M181.5,208.2l6,-5.5l2.2,-2.2l-6,5.8Z" color="#4368fe"/>
<path d="M179.3,209.6l6.1,-5.1l2.1,-1.8l-6,5.5Z" color="#4466fd"/>
<path d="M177.1,211l6.1,-4.6l2.2,-1.9l-6.1,5.1Z" color="#4564fd"/>
<path d="M174.9,212.3l6.1,-4.1l2.2,-1.8l-6.1,4.6Z" color="#4562fc"/>
<path d="M172.8,213.6l6,-3.8l2.2,-1.6l-6.1,4.1Z" color="#4660fb"/>
<path d="M170.6,214.8l6,-3.5l2.2,-1.5l-6,3.8Z" color="#465ffb"/>
<path d="M292.2,163.4l6.1,-6.9l2.2,-0.7l-6.2,6.9Z" color="#3b72ff"/>
<path d="M290,164.1l6.1,-6.8l2.2,-0.8l-6.1,6.9Z" color="#3b73fe"/>
<path d="M287.8,164.8l6.2,-6.8l2.1,-0.7l-6.1,6.8Z" color="#3a73fe"/>
<path d="M285.6,165.1l6.2,-6.5l2.2,-0.6l-6.2,6.8Z" color="#3a74fe"/>
<path d="M283.4,164.7l6.2,-5.7l2.2,-0.4l-6.2,6.5Z" color="#3876fe"/>
<path d="M281.3,164.3l6.1,-5.1l2.2,-0.2l-6.2,5.7Z" color="#3579fd"/>
<path d="M279.1,163.9l6.1,-4.5l2.2,-0.2l-6.1,5.1Z" color="#327cfc"/>
<path d="M276.9,163.7l6.2,-4.1l2.1,-0.2l-6.1,4.5Z" color="#307ffb"/>
<path d="M274.7,163.6l6.2,-4.1l2.2,0.1l-6.2,4.1Z" color="#2f81fa"/>
<path d="M272.5,163.7l6.2,-4.6l2.2,0.4l-6.2,4.1Z" color="#2e84f8"/>
<path d="M270.4,163.8l6.1,-5.6l2.2,0.9l-6.2,4.6Z" color="#2e87f7"/>
<path d="M268.2,163.7l6.1,-6.2l2.2,0.7l-6.1,5.6Z" color="#2d8af4"/>
<path d="M266,163.6l6.2,-6.7l2.1,0.6l-6.1,6.2Z" color="#2c8ef2"/>
<path d="M263.8,163.3l6.2,-7.4l2.2,1l-6.2,6.7Z" color="#2b91ef"/>
<path d="M261.6,162.3l6.2,-7.6l2.2,1.2l-6.2,7.4Z" color="#2895ec"/>
<path d="M259.5,161l6.1,-7.2l2.2,0.9l-6.2,7.6Z" color="#269ae8"/>
<path d="M257.3,159.9l6.1,-7l2.2,0.9l-6.1,7.2Z" color="#249fe6"/>
<path d="M255.1,158.9l6.2,-7l2.1,1l-6.1,7Z" color="#21a3e3"/>
<path d="M252.9,157.6l6.2,-6.9l2.2,1.2l-6.2,7Z" color="#1ea7e1"/>
<path d="M250.7,156.4l6.2,-6.9l2.2,1.2l-6.2,6.9Z" color="#1aacdd"/>
<path d="M248.6,155.3l6.1,-7l2.2,1.2l-6.2,6.9Z" color="#14b0d8"/>
<path d="M246.4,154.2l6.1,-6.9l2.2,1l-6.1,7Z" color="#0cb3d3"/>
<path d="M244.2,153.3l6.2,-6.8l2.1,0.8l-6.1,6.9Z" color="#04b6cd"/>
<path d="M242,153.2l6.2,-6.8l2.2,0.1l-6.2,6.8Z" color="#01b8c9"/>
<path d="M239.8,153.5l6.2,-7.1l2.2,0l-6.2,6.8Z" color="#01b9c6"/>
<path d="M237.7,153.8l6.1,-7.1l2.2,-0.3l-6.2,7.1Z" color="#02bac4"/>
<path d="M235.5,154.3l6.2,-7l2.1,-0.6l-6.1,7.1Z" color="#03bbc3"/>
<path d="M233.3,155.4l6.2,-7.3l2.2,-0.8l-6.2,7Z" color="#03bbc2"/>
<path d="M231.1,156.6l6.2,-7.2l2.2,-1.3l-6.2,7.3Z" color="#03bbc3"/>
<path d="M228.9,157.8l6.2,-7.2l2.2,-1.2l-6.2,7.2Z" color="#02bac4"/>
<path d="M226.8,159.2l6.1,-7.1l2.2,-1.5l-6.2,7.2Z" color="#01bac5"/>
<path d="M224.6,160.9l6.2,-6.9l2.1,-1.9l-6.1,7.1Z" color="#01b9c7"/>
<path d="M222.4,162.7l6.2,-6.8l2.2,-1.9l-6.2,6.9Z" color="#01b7ca"/>
<path d="M220.2,164.7l6.2,-6.8l2.2,-2l-6.2,6.8Z" color="#05b6cd"/>
<path d="M218,166.9l6.2,-6.8l2.2,-2.2l-6.2,6.8Z" color="#09b4d1"/>
<path d="M215.9,169.2l6.1,-6.8l2.2,-2.3l-6.2,6.8Z" color="#0fb2d5"/>
<path d="M213.7,171.7l6.2,-6.8l2.1,-2.5l-6.1,6.8Z" color="#15afd9"/>
<path d="M211.5,174.2l6.2,-6.8l2.2,-2.5l-6.2,6.8Z" color="#19acdc"/>
<path d="M209.3,176.9l6.2,-6.9l2.2,-2.6l-6.2,6.8Z" color="#1da9e0"/>
<path d="M207.1,179.8l6.2,-7.2l2.2,-2.6l-6.2,6.9Z" color="#20a5e2"/>
<path d="M205,182.8l6.1,-7.6l2.2,-2.6l-6.2,7.2Z" color="#23a1e4"/>
<path d="M202.8,185.7l6.2,-7.8l2.1,-2.7l-6.1,7.6Z" color="#259ce7"/>
<path d="M200.6,188.5l6.2,-7.8l2.2,-2.8l-6.2,7.8Z" color="#2798ea"/>
<path d="M198.4,191l6.2,-7.4l2.2,-2.9l-6.2,7.8Z" color="#2994ed"/>
<path d="M196.3,193.4l6.1,-7l2.2,-2.8l-6.2,7.4Z" color="#2c8ff0"/>
<path d="M194.1,196l6.1,-7.2l2.2,-2.4l-6.1,7Z" color="#2d8bf4"/>
<path d="M191.9,198.4l6.2,-7.6l2.1,-2l-6.1,7.2Z" color="#2d87f7"/>
<path d="M189.7,200.5l6.2,-7.1l2.2,-2.6l-6.2,7.6Z" color="#2e84f9"/>
<path d="M187.5,202.7l6.2,-6.9l2.2,-2.4l-6.2,7.1Z" color="#3080fa"/>
<path d="M185.4,204.5l6.1,-6.4l2.2,-2.3l-6.2,6.9Z" color="#327cfc"/>
<path d="M183.2,206.4l6.1,-6.4l2.2,-1.9l-6.1,6.4Z" color="#3479fd"/>
<path d="M181,208.2l6.2,-6.6l2.1,-1.6l-6.1,6.4Z" color="#3776fe"/>
<path d="M178.8,209.8l6.2,-6.7l2.2,-1.5l-6.2,6.6Z" color="#3974fe"/>
<path d="M176.6,211.3l6.2,-6.8l2.2,-1.4l-6.2,6.7Z" color="#3b72fe"/>
<path d="M298.3,156.5l6.3,-8.7l2.2,-0.4l-6.3,8.4Z" color="#2d8cf3"/>
<path d="M296.1,157.3l6.3,-9.2l2.2,-0.3l-6.3,8.7Z" color="#2d8df2"/>
<path d="M294,158l6.3,-9.6l2.1,-0.3l-6.3,9.2Z" color="#2c8ef1"/>
<path d="M291.8,158.6l6.3,-9.9l2.2,-0.3l-6.3,9.6Z" color="#2c8ff0"/>
<path d="M289.6,159l6.3,-10.3l2.2,0l-6.3,9.9Z" color="#2b91ef"/>
<path d="M287.4,159.2l6.3,-10.5l2.2,0l-6.3,10.3Z" color="#2a93ee"/>
<path d="M285.2,159.4l6.3,-10.7l2.2,0l-6.3,10.5Z" color="#2995ec"/>
<path d="M283.1,159.6l6.3,-10.8l2.1,-0.1l-6.3,10.7Z" color="#2796eb"/>
<path d="M280.9,159.5l6.3,-10.7l2.2,0l-6.3,10.8Z" color="#2698ea"/>
<path d="M278.7,159.1l6.3,-10.4l2.2,0.1l-6.3,10.7Z" color="#259be8"/>
<path d="M276.5,158.2l6.3,-9.9l2.2,0.4l-6.3,10.4Z" color="#249ee6"/>
<path d="M274.3,157.5l6.3,-9.6l2.2,0.4l-6.3,9.9Z" color="#22a1e4"/>
<path d="M272.2,156.9l6.3,-9.7l2.1,0.7l-6.3,9.6Z" color="#20a5e2"/>
<path d="M270,155.9l6.3,-9.7l2.2,1l-6.3,9.7Z" color="#1da8e0"/>
<path d="M267.8,154.7l6.3,-9.5l2.2,1l-6.3,9.7Z" color="#19acdc"/>
<path d="M265.6,153.8l6.3,-9.7l2.2,1.1l-6.3,9.5Z" color="#14b0d8"/>
<path d="M263.4,152.9l6.3,-10.1l2.2,1.3l-6.3,9.7Z" color="#0bb3d2"/>
<path d="M261.3,151.9l6.3,-10.7l2.1,1.6l-6.3,10.1Z" color="#03b7cc"/>
<path d="M259.1,150.7l6.3,-10.8l2.2,1.3l-6.3,10.7Z" color="#01bac5"/>
<path d="M256.9,149.5l6.3,-10.6l2.2,1l-6.3,10.8Z" color="#08bcbf"/>
<path d="M254.7,148.3l6.3,-9.9l2.2,0.5l-6.3,10.6Z" color="#13beb8"/>
<path d="M252.5,147.3l6.3,-9l2.2,0.1l-6.3,9.9Z" color="#1dc0b3"/>
<path d="M250.4,146.5l6.3,-8.3l2.1,0.1l-6.3,9Z" color="#24c2ae"/>
<path d="M248.2,146.4l6.3,-8.3l2.2,0.1l-6.3,8.3Z" color="#29c3aa"/>
<path d="M246,146.4l6.3,-8.4l2.2,0.1l-6.3,8.3Z" color="#2cc4a6"/>
<path d="M243.8,146.7l6.3,-8.7l2.2,0l-6.3,8.4Z" color="#2fc5a3"/>
<path d="M241.7,147.3l6.2,-9l2.2,-0.3l-6.3,8.7Z" color="#30c5a1"/>
<path d="M239.5,148.1l6.3,-8.7l2.1,-1.1l-6.2,9Z" color="#31c6a0"/>
<path d="M237.3,149.4l6.3,-8.6l2.2,-1.4l-6.3,8.7Z" color="#30c5a1"/>
<path d="M235.1,150.6l6.3,-8.5l2.2,-1.3l-6.3,8.6Z" color="#2fc5a3"/>
<path d="M232.9,152.1l6.3,-8.7l2.2,-1.3l-6.3,8.5Z" color="#2ec4a4"/>
<path d="M230.8,154l6.2,-9l2.2,-1.6l-6.3,8.7Z" color="#2cc4a7"/>
<path d="M228.6,155.9l6.3,-9.1l2.1,-1.8l-6.2,9Z" color="#29c3aa"/>
<path d="M226.4,157.9l6.3,-9.1l2.2,-2l-6.3,9.1Z" color="#25c2ae"/>
<path d="M224.2,160.1l6.3,-8.8l2.2,-2.5l-6.3,9.1Z" color="#1ec0b2"/>
<path d="M222,162.4l6.3,-8.3l2.2,-2.8l-6.3,8.8Z" color="#15bfb7"/>
<path d="M219.9,164.9l6.2,-8.1l2.2,-2.7l-6.3,8.3Z" color="#0bbdbd"/>
<path d="M217.7,167.4l6.3,-8l2.1,-2.6l-6.2,8.1Z" color="#03bbc2"/>
<path d="M215.5,170l6.3,-8.1l2.2,-2.5l-6.3,8Z" color="#01b9c8"/>
<path d="M213.3,172.6l6.3,-8.2l2.2,-2.5l-6.3,8.1Z" color="#04b6cd"/>
<path d="M211.1,175.2l6.3,-8.7l2.2,-2.1l-6.3,8.2Z" color="#09b4d1"/>
<path d="M209,177.9l6.2,-9.3l2.2,-2.1l-6.3,8.7Z" color="#11b2d5"/>
<path d="M206.8,180.7l6.3,-10l2.1,-2.1l-6.2,9.3Z" color="#16afd9"/>
<path d="M204.6,183.6l6.3,-10.6l2.2,-2.3l-6.3,10Z" color="#1aacdd"/>
<path d="M202.4,186.4l6.3,-10.9l2.2,-2.5l-6.3,10.6Z" color="#1da8e0"/>
<path d="M200.2,188.8l6.3,-10.6l2.2,-2.7l-6.3,10.9Z" color="#20a4e3"/>
<path d="M198.1,190.8l6.2,-9.8l2.2,-2.8l-6.3,10.6Z" color="#23a1e4"/>
<path d="M195.9,193.4l6.3,-9.6l2.1,-2.8l-6.2,9.8Z" color="#249de6"/>
<path d="M193.7,195.8l6.3,-9.2l2.2,-2.8l-6.3,9.6Z" color="#2699e9"/>
<path d="M191.5,198.1l6.3,-9l2.2,-2.5l-6.3,9.2Z" color="#2895ec"/>
<path d="M189.3,200l6.3,-8.9l2.2,-2l-6.3,9Z" color="#2a92ee"/>
<path d="M187.2,201.6l6.3,-8.6l2.1,-1.9l-6.3,8.9Z" color="#2c90f0"/>
<path d="M185,203.1l6.3,-8.2l2.2,-1.9l-6.3,8.6Z" color="#2c8ef1"/>
<path d="M182.8,204.5l6.3,-7.8l2.2,-1.8l-6.3,8.2Z" color="#2d8cf3"/>
<path d="M304.6,147.8l6.4,-10.2l2.2,-0.5l-6.4,10.3Z" color="#1ea7e1"/>
<path d="M302.4,148.1l6.4,-10.1l2.2,-0.4l-6.4,10.2Z" color="#1da8e0"/>
<path d="M300.3,148.4l6.4,-9.9l2.1,-0.5l-6.4,10.1Z" color="#1da9e0"/>
<path d="M298.1,148.7l6.4,-9.8l2.2,-0.4l-6.4,9.9Z" color="#1caadf"/>
<path d="M295.9,148.7l6.4,-9.3l2.2,-0.5l-6.4,9.8Z" color="#1aabdd"/>
<path d="M293.7,148.7l6.4,-9.1l2.2,-0.2l-6.4,9.3Z" color="#19addc"/>
<path d="M291.5,148.7l6.4,-9.5l2.2,0.4l-6.4,9.1Z" color="#16aeda"/>
<path d="M289.4,148.8l6.4,-10.1l2.1,0.5l-6.4,9.5Z" color="#13b0d7"/>
<path d="M287.2,148.8l6.4,-10.6l2.2,0.5l-6.4,10.1Z" color="#0eb2d4"/>
<path d="M285,148.7l6.4,-11.1l2.2,0.6l-6.4,10.6Z" color="#08b4d0"/>
<path d="M282.8,148.3l6.4,-11.3l2.2,0.6l-6.4,11.1Z" color="#04b6cd"/>
<path d="M280.6,147.9l6.4,-11.5l2.2,0.6l-6.4,11.3Z" color="#01b8c8"/>
<path d="M278.5,147.2l6.4,-11.3l2.1,0.5l-6.4,11.5Z" color="#02bac4"/>
<path d="M276.3,146.2l6.4,-10.9l2.2,0.6l-6.4,11.3Z" color="#08bcbe"/>
<path d="M274.1,145.2l6.4,-11l2.2,1.1l-6.4,10.9Z" color="#13beb8"/>
<path d="M271.9,144.1l6.4,-10.8l2.2,0.9l-6.4,11Z" color="#1ec0b2"/>
<path d="M269.7,142.8l6.4,-10.4l2.2,0.9l-6.4,10.8Z" color="#28c2ab"/>
<path d="M267.6,141.2l6.4,-9.7l2.1,0.9l-6.4,10.4Z" color="#2ec5a3"/>
<path d="M265.4,139.9l6.4,-9.4l2.2,1l-6.4,9.7Z" color="#34c79b"/>
<path d="M263.2,138.9l6.4,-9.3l2.2,0.9l-6.4,9.4Z" color="#3ac993"/>
<path d="M261,138.4l6.4,-9.5l2.2,0.7l-6.4,9.3Z" color="#41ca8c"/>
<path d="M258.8,138.3l6.4,-9.7l2.2,0.3l-6.4,9.5Z" color="#48cb86"/>
<path d="M256.7,138.2l6.4,-10l2.1,0.4l-6.4,9.7Z" color="#4fcc80"/>
<path d="M254.5,138.1l6.4,-10.3l2.2,0.4l-6.4,10Z" color="#56cc7b"/>
<path d="M252.3,138l6.4,-10.7l2.2,0.5l-6.4,10.3Z" color="#5dcc74"/>
<path d="M250.1,138l6.4,-11.1l2.2,0.4l-6.4,10.7Z" color="#64cd6e"/>
<path d="M247.9,138.3l6.5,-11.4l2.1,0l-6.4,11.1Z" color="#6bcd69"/>
<path d="M245.8,139.4l6.4,-10.9l2.2,-1.6l-6.5,11.4Z" color="#6ccd69"/>
<path d="M243.6,140.8l6.4,-10.6l2.2,-1.7l-6.4,10.9Z" color="#68cd6c"/>
<path d="M241.4,142.1l6.4,-10.1l2.2,-1.8l-6.4,10.6Z" color="#64cd6f"/>
<path d="M239.2,143.4l6.4,-9.7l2.2,-1.7l-6.4,10.1Z" color="#60cd72"/>
<path d="M237,145l6.5,-9.6l2.1,-1.7l-6.4,9.7Z" color="#5ccc76"/>
<path d="M234.9,146.8l6.4,-9.7l2.2,-1.7l-6.5,9.6Z" color="#57cc7a"/>
<path d="M232.7,148.8l6.4,-10l2.2,-1.7l-6.4,9.7Z" color="#51cc7f"/>
<path d="M230.5,151.3l6.4,-10.8l2.2,-1.7l-6.4,10Z" color="#4bcb84"/>
<path d="M228.3,154.1l6.4,-11.8l2.2,-1.8l-6.4,10.8Z" color="#44ca8a"/>
<path d="M226.1,156.8l6.5,-12.5l2.1,-2l-6.4,11.8Z" color="#3dc990"/>
<path d="M224,159.4l6.4,-12.2l2.2,-2.9l-6.5,12.5Z" color="#37c898"/>
<path d="M221.8,161.9l6.4,-11.7l2.2,-3l-6.4,12.2Z" color="#32c69f"/>
<path d="M219.6,164.4l6.4,-11.2l2.2,-3l-6.4,11.7Z" color="#2dc4a6"/>
<path d="M217.4,166.5l6.4,-10.3l2.2,-3l-6.4,11.2Z" color="#26c2ac"/>
<path d="M215.2,168.6l6.5,-9.5l2.1,-2.9l-6.4,10.3Z" color="#1fc0b2"/>
<path d="M213.1,170.7l6.4,-9l2.2,-2.6l-6.5,9.5Z" color="#16bfb7"/>
<path d="M210.9,173l6.4,-9.3l2.2,-2l-6.4,9Z" color="#0dbdbc"/>
<path d="M208.7,175.5l6.4,-9.8l2.2,-2l-6.4,9.3Z" color="#07bcc0"/>
<path d="M206.5,178.2l6.4,-10.5l2.2,-2l-6.4,9.8Z" color="#02bac4"/>
<path d="M204.3,181l6.5,-11.3l2.1,-2l-6.4,10.5Z" color="#01b8c9"/>
<path d="M202.2,183.8l6.4,-12.1l2.2,-2l-6.5,11.3Z" color="#05b6ce"/>
<path d="M200,186.6l6.4,-12.9l2.2,-2l-6.4,12.1Z" color="#0bb4d2"/>
<path d="M197.8,189.1l6.4,-13.4l2.2,-2l-6.4,12.9Z" color="#12b1d6"/>
<path d="M195.6,191.1l6.4,-13.4l2.2,-2l-6.4,13.4Z" color="#16afd9"/>
<path d="M193.5,193l6.4,-13.3l2.1,-2l-6.4,13.4Z" color="#19addc"/>
<path d="M191.3,194.9l6.4,-13.1l2.2,-2.1l-6.4,13.3Z" color="#1babde"/>
<path d="M189.1,196.7l6.4,-12.9l2.2,-2l-6.4,13.1Z" color="#1da9e0"/>
</g>
<path d="M50.9,201.7L50.9,49.4M50.9,201.7L195.5,243M195.5,243L313.2,194.4M50.9,201.7L47.8,203M50.9,163.6L47.8,164.9M50.9,125.5L47.8,126.8M50.9,87.5L47.8,88.8M50.9,49.4L47.8,50.7M50.9,201.7L47.9,202.9M72.7,207.9L71.2,208.5M85.4,211.6L83.9,212.2M94.4,214.1L93,214.7M101.4,216.1L100,216.7M107.2,217.8L105.7,218.4M112,219.2L110.5,219.8M116.2,220.3L114.7,221M119.9,221.4L118.4,222M123.2,222.3L120.2,223.6M145,228.6L143.5,229.2M157.7,232.2L156.2,232.8M166.7,234.8L165.3,235.4M173.7,236.8L172.3,237.4M179.5,238.4L178,239M184.3,239.8L182.8,240.4M188.5,241L187,241.6M192.2,242.1L190.7,242.7M195.5,243L192.5,244.2M195.5,243L198.8,243.9M233,227.5L236.2,228.5M270.4,212.1L273.7,213M307.9,196.6L311.2,197.5" fill="none" stroke="#555555" stroke-width="0.7"/>
<g font-size="11.2" fill="#333333">
<text x="43.3" y="205.5" text-anchor="end">0</text>
<text x="43.3" y="167.4" text-anchor="end">2</text>
<text x="43.3" y="129.3" text-anchor="end">4</text>
<text x="43.3" y="91.2" text-anchor="end">6</text>
<text x="43.3" y="53.2" text-anchor="end">8</text>
<text x="25.5" y="218.7">10<tspan font-size="9.0" dy="-5.0">-1</tspan></text>
<text x="99.6" y="239.1">10<tspan font-size="9.0" dy="-5.0">0</tspan></text>
<text x="171.1" y="260">10<tspan font-size="9.0" dy="-5.0">1</tspan></text>
<text x="203.2" y="256" text-anchor="middle">0</text>
<text x="241.5" y="239.6" text-anchor="middle">2</text>
<text x="280.8" y="224.5" text-anchor="middle">4</text>
<text x="318.5" y="208.8" text-anchor="middle">6</text>
<text x="351.2" y="213.8">1</text>
<text x="351.2" y="179.9">2</text>
<text x="351.2" y="146.1">3</text>
<text x="351.2" y="112.2">4</text>
<text x="351.2" y="78.4">5</text>
<text x="351.2" y="44.5">6</text>
</g>
<text x="14.2" y="269.4" font-size="12.3" fill="#333333">Eccentricity ratio <tspan font-style="italic">e</tspan><tspan font-size="9.8" dy="4.7">1</tspan><tspan dy="-4.7">/ </tspan><tspan font-style="italic">e</tspan><tspan font-size="9.8" dy="4.7">2</tspan></text>
<text x="206.1" y="274.7" font-size="12.34" fill="#333333">Initial phase difference (rad)</text>
<text x="16.6" y="122.8" font-size="12.4" fill="#333333" text-anchor="middle" transform="rotate(-90 16.6 122.8)">RMS of acceleration (m/s<tspan font-size="9.9" dy="-5.6">2</tspan><tspan dy="5.6">)</tspan></text>
<text x="261.1" y="297.9" font-size="17.5" fill="#1a1a1a" text-anchor="middle">(a)</text>
<rect x="331.7" y="10" width="15.1" height="232.6" fill="url(#gp)" stroke="#303030" stroke-width="0.6"/>
<path d="M346.8,210h-2.2M346.8,176.1h-2.2M346.8,142.3h-2.2M346.8,108.4h-2.2M346.8,74.6h-2.2M346.8,40.7h-2.2" stroke="#303030" stroke-width="0.6" fill="none"/>
<rect x="403.2" y="18.4" width="247.6" height="220" fill="#000080"/>
<path d="M403.2,18.4L498.4,18.4L503.3,28.4L503.8,30.4L499.9,44.4L498.7,47.4L496.6,49.4L483.6,59.4L479.2,62.4L466.3,68.4L455.6,72.4L453.9,73.4L454,74.4L455.1,75L470.1,79.7L473.8,80.4L483.1,81.2L498,80.1L513.2,77.4L517.2,76.4L524,73.9L530,72.3L539,69.2L543.4,67.4L547,65.1L560.9,55.4L562.7,53.4L572.5,37.4L573.4,35.4L575.6,18.4L650.8,18.4L650.8,238.4L575.5,238.4L571.8,226.4L568.7,220.4L565.9,216.5L559.4,209.4L549,202.9L544,200.4L532,196L525,194.1L517.8,191.4L513.5,190.4L505,189.4L490.1,188.7L477.1,188.5L442.7,189.4L433.2,190.1L403.2,193.5ZM403.2,198.4L403.2,197.6L406.6,198.4L434.6,207.4L454.4,212.4L460.3,214.4L478.1,224.5L486.1,230.6L492.5,236.4L494.2,238.4L403.2,238.4Z" fill="#0000b2" fill-rule="evenodd"/>
<path d="M403.2,18.4L479,18.4L482.2,28.4L481.4,30.4L474,41.4L461.1,55.9L458.2,58.4L452.1,60.8L403.2,77.5ZM595.1,18.4L650.8,18.4L650.8,238.4L592.5,238.4L590.7,226.4L589.8,223.4L581.3,210.4L570.4,198.4L564.2,193.4L561,191.4L550.2,187.4L526.4,182.4L517,181.2L500,180.1L483.1,180L454.3,181.4L436,183.4L416.2,186L403.2,186.8L403.2,86.6L444.6,89.4L467.1,90.4L481.1,90.7L508,89.6L522.1,88.4L539.6,85.4L547,83.4L553.7,80.4L566,72.4L576.9,61.5L580.9,57L588.9,45.4L590.6,42.4L594.7,28.4ZM403.2,206.4L403.2,206.2L420.5,210.4L444.1,218.9L455.1,223.3L460.1,225.8L468.1,230.8L474.6,236.4L476.3,238.4L403.2,238.4Z" fill="#0000e6" fill-rule="evenodd"/>
<path d="M403.2,18.4L466.7,18.4L469.9,27.4L470,29.4L462.2,41.4L450.3,52.4L448.1,54L439.1,58.3L419.1,65.4L403.2,71.9ZM605.5,18.4L650.8,18.4L650.8,238.4L603.9,238.4L601.1,228.4L595.2,215.4L583.4,200.4L569.9,188.1L555.9,180.4L550,178.6L529,174.2L520,173.5L510,173.5L490.1,174.7L444.1,178.7L434.1,179.7L417,182.4L403.2,183.3L403.2,90.4L416.6,91.4L444.8,94.4L486.1,97L505,97.8L518,97L532.6,95.4L542.9,93.4L555,89.8L561.9,86.7L574.3,78.4L579.9,72.9L590.4,61.4L600.2,44.4L604.4,30.4ZM403.2,210.4L403.2,209.7L409.4,211.4L435.1,220.4L442.4,223.4L450.5,227.4L453.9,229.4L462.8,236.4L464.9,238.4L403.2,238.4Z" fill="#001aff" fill-rule="evenodd"/>
<path d="M403.2,18.4L456.6,18.4L460.1,27.4L460.4,29.4L458.8,32.4L453.1,41L439.4,52.4L435.1,54.6L403.2,67.1ZM617.7,18.4L650.8,18.4L650.8,238.4L617.7,238.4L615.9,227.6L612.8,217.4L601.9,200.4L592.1,189.4L578.9,178.4L568,171.4L563.4,169.4L559.9,168.4L548,166.4L528,165.1L511,165.3L493.1,166.3L476.5,168.4L415.2,178.8L403.2,180.2L403.2,93.9L428.5,98.4L456.3,102.4L490.1,106L506,107.1L524,107.7L536,107L545,105.8L559.7,102.4L562.5,101.4L566.5,99.4L577.5,92.4L596.9,74.8L600.9,70.3L609.9,56.2L611.9,51.3L616.8,33.4ZM403.2,213.4L403.2,212.8L426.2,220.8L440.1,226.9L445.1,229.7L453.4,236.4L455.4,238.4L403.2,238.4Z" fill="#004dff" fill-rule="evenodd"/>
<path d="M403.2,18.4L448.1,18.4L451.9,27.4L452.1,29.4L445.5,40.4L432.1,51.4L427.2,54L403.2,64.3ZM624.5,18.4L650.8,18.4L650.8,238.4L624.5,238.4L620.3,218.4L619.3,215.4L611.9,200L600.9,185.2L597.9,182.2L579.9,167.2L575.9,164.8L562.6,158.4L556.5,156.4L546,154.2L534,152.9L523,152.9L511,154L486.4,159.4L439.4,171.4L413.5,176.4L403.2,177.8L403.2,96.7L448.1,105.1L480.4,110.4L510.4,117.4L517,118.6L526,119.8L533,120.3L539,120L544,118.9L561.3,112.4L568.9,108.1L576.9,103L581.8,99.4L596.4,85.4L608.8,68.4L617.8,50.4L623.4,33.4ZM403.2,216.4L403.2,215.6L423.2,222.7L432,226.4L437.8,229.4L440.6,231.4L447.4,238.4L403.2,238.4Z" fill="#0080ff" fill-rule="evenodd"/>
<path d="M403.2,18.4L440.9,18.4L445,28.4L444.4,30.4L439.5,39.4L437.5,41.4L427.6,49.4L422.9,52.4L403.2,61.6ZM633.4,18.4L650.8,18.4L650.8,238.4L633.9,238.4L631.5,228.4L627.1,215.4L619.8,199L617.9,195.3L606.9,178.1L588.4,160.4L575.5,147.4L570.7,138.4L570.1,136.4L571.3,132.4L573.4,127.4L580,118.4L605.9,91.4L615.9,78.8L618.1,75.4L625.8,60L627.3,56.4L632.2,36.4ZM403.2,99.4L456,111.4L482.1,119.4L493.1,124.2L497.1,126.4L507.5,138.4L507.6,139.4L505.4,141.4L490,150.4L462.7,161.4L455.9,163.4L403.2,175.6ZM403.2,218.4L404.2,218.5L423,225.4L429.2,228.4L432.8,230.4L435.1,232.2L440.3,238.4L403.2,238.4Z" fill="#00b2ff" fill-rule="evenodd"/>
<path d="M403.2,18.4L434.9,18.4L438.8,28.4L438.3,30.4L435,37.4L432.7,40.4L420.4,50.4L403.2,59ZM639.1,18.4L650.8,18.4L650.8,238.4L639.7,238.4L635.9,221.4L630,205.4L626.9,198.4L621.6,188.4L615.1,177.4L602.9,160.4L595.3,148.4L592.7,142.4L591.7,136.4L592.2,127.4L594.6,119.4L596.3,115.4L615.9,91.4L624.7,77.4L627.8,71.4L632.7,57.4L637.1,37.4ZM403.2,102.4L403.2,101.6L456.3,117.4L462.1,119.5L471.1,123.8L477.7,127.4L486.4,137.4L486.8,138.4L486.5,139.4L480,146.4L477.6,148.4L457.1,157.7L444.9,162.4L403.2,173.8ZM403.2,221.4L403.2,220.5L417.2,225.9L422.5,228.4L429.2,232.7L431.8,235.4L433.9,238.4L403.2,238.4Z" fill="#00e5ff" fill-rule="evenodd"/>
<path d="M403.2,18.4L429.6,18.4L433.4,28.4L433,30.4L429.9,37.4L427.5,40.4L416.8,49.4L403.2,56.4ZM644.5,18.4L650.8,18.4L650.8,238.4L644.6,238.4L641.2,221.4L635.8,205L627.8,187.1L610.8,154.4L606.6,143.4L606.2,141.4L605.4,128.4L607.6,116.4L608.3,114.4L624.1,91.4L634,71.4L637.8,58.4L639.9,48.4L642.3,35.4ZM403.2,104.4L403.2,103.9L443.1,118.2L458.9,123.4L463.9,125.4L467.6,127.4L468.9,128.4L470.1,130.4L472.4,138.4L471.6,140.4L466,149.4L463.2,151.4L457.6,154.4L452.9,156.4L403.2,172.1ZM403.2,223.4L403.2,222.7L414.4,227.4L418.3,229.4L424.1,233.4L428.4,238.4L403.2,238.4Z" fill="#1affe5" fill-rule="evenodd"/>
<path d="M403.2,18.4L424.8,18.4L428.9,28.4L428.5,30.4L425.3,37.4L423.1,40.4L414,48.4L403.2,53.8ZM650.2,18.4L650.8,18.4L650.8,238.4L649,238.4L648.1,233.4L647,230.4L642.3,211.4L634.6,188.4L632,181.4L623.1,162.4L619.6,153.4L616.6,142.4L615.3,128.4L618.3,113.4L627.7,97.4L632,89.4L640.6,68.4L644.5,55.4L646.2,48.4L646.3,45.4L647.7,38.4ZM403.2,106.4L406.3,107.4L448.1,124.9L455.1,128.2L458.7,130.4L459.9,132.4L461.6,138.4L460.9,140.4L455.9,148.4L453.1,150.8L443.8,155.4L430.9,160.4L403.2,170.3ZM403.2,225.4L403.2,224.8L415.1,230.4L419.8,234.4L423.6,238.4L403.2,238.4Z" fill="#4dffb2" fill-rule="evenodd"/>
<path d="M403.2,18.4L420.4,18.4L424.5,28.4L423.7,31.4L421,37.4L419.8,39.4L411,47.4L403.2,51.3ZM650.8,51.4L650.8,224.6L638.9,182.4L630.5,162.4L627.7,154.4L624.8,142.4L623.6,128.4L624.6,121.4L626.4,113.4L637.8,88.8L643.3,75.4L645.8,68.4ZM403.2,109.4L403.2,108.6L448.6,130.4L450.7,132.4L453.1,138.4L452.4,140.4L447.2,148.4L444.8,150.4L425,159.4L403.2,168.5ZM403.2,227.4L403.2,227L411.8,231.4L417.3,236.4L419,238.4L403.2,238.4Z" fill="#80ff80" fill-rule="evenodd"/>
<path d="M403.2,18.4L416.2,18.4L420.2,28.4L419.8,30.4L417.4,36.4L415.8,39.4L406.1,47.4L403.2,48.9ZM650.5,69.4L650.8,68.6L650.8,201.6L643.8,179.1L641.7,173.4L635.8,159.4L634.5,155.4L631.6,144.4L630.5,131.4L631.5,120.4L633.3,113.4L636.4,103.4L645.5,80.4L648.5,75.4ZM403.2,111.4L403.2,111L441.6,131.4L443.8,133.4L446.4,138.4L445.7,140.4L440.4,148.4L439.4,149.4L435.6,151.4L423.7,156.4L403.2,166.6ZM403.2,229.4L406.2,230.7L410.2,233.3L414.6,238.4L403.2,238.4Z" fill="#b3ff4c" fill-rule="evenodd"/>
<path d="M403.2,18.4L412.4,18.4L416.3,28.4L415.9,30.4L412.7,38.4L410.8,40.4L403.2,46.2ZM650.1,84.4L650.8,83.5L650.8,184.8L640.9,157.4L638.2,145.4L636.9,131.4L637,127.4L637.8,121.4L642.5,102.4L646.8,91.2ZM403.2,114.4L403.2,113.5L433.9,131.4L436.5,133.4L439.3,138.4L438.9,140.4L436.1,145.4L434.7,147.4L433.2,148.8L430.2,150.4L419.2,155.4L403.2,164.8ZM403.2,232.4L403.2,231.6L406.4,233.4L408.6,235.4L410.8,238.4L403.2,238.4Z" fill="#e5ff1a" fill-rule="evenodd"/>
<path d="M403.2,18.4L409.1,18.4L412.6,28.4L412.2,30.4L408.9,38.4L407.1,40.4L403.2,43.4ZM650.2,98.4L650.8,97.4L650.8,172.7L647.6,163.4L646.1,157.4L642.6,128.4L642.8,126.4L647.3,108.4L648.1,103.4ZM403.2,116.4L403.2,116L405.7,117.4L428.4,132.4L429.4,133.4L430.6,135.4L432.1,138.4L432.2,139.4L430.3,145.4L429.2,146.9L426.7,148.4L418.2,152.5L403.2,162.9ZM403.2,234.4L403.2,234L405.1,235.4L407.5,238.4L403.2,238.4Z" fill="#ffe500" fill-rule="evenodd"/>
<path d="M403.2,18.4L405.2,18.4L407.8,24.4L409.1,28.4L408.6,30.4L406.5,35.4L404.6,38.4L403.2,39.5ZM650.7,115.4L650.8,148.3L649.8,143.4L647.7,128.4L647.9,126.4ZM403.2,119.4L403.2,118.6L404.5,119.4L421.7,132.4L422.7,133.4L424,135.4L424.8,137.4L425.1,139.4L423,144.4L421.7,146.4L413.7,151.4L406.2,158.4L403.2,160.7ZM403.2,237.4L404.2,238.4L403.2,238.4Z" fill="#ffb300" fill-rule="evenodd"/>
<path d="M403.2,23.4L403.2,22.7L404.4,24.4L405.8,28.4L404.7,32.4L403.2,34.8ZM403.2,122.4L403.2,121.4L404.6,122.4L416.7,133.4L418,135.4L418.9,138.4L418.1,140.4L414.4,145.4L404.4,157.4L403.2,158.4Z" fill="#ff8000" fill-rule="evenodd"/>
<path d="M403.2,124.4L404.2,125L411.8,133.4L413.8,136.4L414.6,138.4L413.9,140.4L403.2,155.9Z" fill="#ff4c00" fill-rule="evenodd"/>
<path d="M403.2,127.4L403.2,126.8L404.8,128.4L410.5,136.4L411.5,138.4L411.5,139.4L410.5,141.4L403.2,153.3Z" fill="#ff1a00" fill-rule="evenodd"/>
<path d="M403.2,129.4L403.2,129.1L404.2,130.3L409.4,138.4L408.9,140.4L403.2,150.3Z" fill="#e50000" fill-rule="evenodd"/>
<path d="M403.2,131.4L406.2,135.8L407.5,138.4L407.1,140.4L403.2,147Z" fill="#b30000" fill-rule="evenodd"/>
<path d="M403.2,134.4L404.7,136.4L405.6,138.4L405.1,140.4L403.2,143.4Z" fill="#800000" fill-rule="evenodd"/>
<mask id="m403" maskUnits="userSpaceOnUse" x="0" y="0" width="685" height="608"><rect x="0" y="0" width="685" height="608" fill="#fff"/><g fill="#000"><rect x="423.9" y="38.4" width="29.5" height="7" transform="rotate(-44.6 438.7 41.9)"/><rect x="436.7" y="40.5" width="29.5" height="7" transform="rotate(-42 451.4 44)"/><rect x="455.6" y="44" width="29.5" height="7" transform="rotate(-48.7 470.4 47.5)"/><rect x="422.3" y="85.1" width="29.5" height="7" transform="rotate(3.4 437.1 88.6)"/><rect x="428.9" y="96.2" width="29.5" height="7" transform="rotate(7.9 443.7 99.7)"/><rect x="427" y="103.4" width="29.5" height="7" transform="rotate(12 441.8 106.9)"/><rect x="433.9" y="114.8" width="29.5" height="7" transform="rotate(18.4 448.6 118.3)"/><rect x="425.2" y="120.7" width="29.5" height="7" transform="rotate(24.5 439.9 124.2)"/><rect x="417.7" y="124.8" width="29.5" height="7" transform="rotate(29.1 432.5 128.3)"/><rect x="411.4" y="129.1" width="29.5" height="7" transform="rotate(46.8 426.1 132.6)"/><rect x="468.7" y="152.4" width="29.5" height="7" transform="rotate(-19.9 483.5 155.9)"/><rect x="468.4" y="165.1" width="29.5" height="7" transform="rotate(-8.1 483.1 168.6)"/><rect x="442" y="178.1" width="29.5" height="7" transform="rotate(-5 456.8 181.6)"/><rect x="419.1" y="211" width="29.5" height="7" transform="rotate(19.9 433.9 214.5)"/><rect x="551" y="67.6" width="29.5" height="7" transform="rotate(-39.7 565.7 71.1)"/><rect x="558" y="90" width="29.5" height="7" transform="rotate(-32.5 572.8 93.5)"/><rect x="571.1" y="104.6" width="29.5" height="7" transform="rotate(-45 585.9 108.1)"/><rect x="609.3" y="82.8" width="29.5" height="7" transform="rotate(-61.4 624 86.3)"/><rect x="625.1" y="74.6" width="29.5" height="7" transform="rotate(-68.6 639.8 78.1)"/><rect x="622.1" y="150.3" width="29.5" height="7" transform="rotate(74 636.9 153.8)"/><rect x="564.3" y="205.6" width="29.5" height="7" transform="rotate(50.8 579.1 209.1)"/><rect x="586.9" y="200" width="29.5" height="7" transform="rotate(53.5 601.7 203.5)"/><rect x="601.9" y="194.4" width="29.5" height="7" transform="rotate(58.8 616.6 197.9)"/><rect x="618.2" y="199.4" width="29.5" height="7" transform="rotate(66.5 633 202.9)"/></g></mask>
<path d="M480.4,18.4L483.5,27.4L483.6,28.4L483.4,29.4L475.7,41.4L461.6,57.4L459.1,58.9L454.1,60.9L422.5,71.4L407.2,76.9L403.2,78M403.2,86.2L449.9,89.4L474.9,90.4L481.1,90.4L505.6,89.4L516.7,88.4L538.5,84.4L547,82.2L552.8,79.4L562.6,73.4L565.4,71.4L576.9,59.9L579.9,56.4L587.9,45L589.3,42.4L593.5,28.4L593.9,18.4M403.2,205.7L422.1,210.4L445.1,218.7L456.1,223.1L460.8,225.4L468.9,230.4L473.1,233.8L477.6,238.4M591.3,238.4L589.1,224.4L586.9,220.6L579.3,209.4L569,198.4L562.5,193.4L559.1,191.4L549,187.9L539,186.1L521.7,182.4L514.7,181.4L500.9,180.4L490.1,180.1L475,180.4L458.5,181.4L439.8,183.4L426,185.4L424.2,186L421.4,186.4L403.2,187.2M458.4,18.4L461.8,27.4L462.1,29.4L461.1,31.4L456,39.4L453.3,42.4L442.1,51.7L439.1,53.7L403.2,67.8M403.2,93.4L427.2,97.4L455.8,101.4L492.6,105.4L509,106.7L524,107.1L534.6,106.4L549.3,103.4L556.7,101.4L564.9,97.7L574.5,92.4L589.9,79.4L596.6,73.4L598.9,70.8L607.9,57.3L609.9,53.4L615.3,33.4L616.1,18.4M403.2,212.3L429.6,221.4L442.1,227.1L447.1,230.1L455,236.4L457,238.4M616.1,238.4L614.4,228.4L611,217.4L607.9,212.5L599.4,200.4L589.2,189.4L575.9,178.8L564.9,172.7L556.7,169.4L547.3,167.4L539.7,166.4L529,165.6L517,165.7L501.2,166.4L484.2,168.4L438,175.4L412.2,179.8L403.2,180.7M442.8,18.4L446.3,26.4L446.9,28.4L446.7,29.4L441.9,38.4L440.4,40.4L426.7,51.4L403.2,62.3M403.2,98.6L458.2,110.4L480.1,116.2L496.5,119.4L500.2,120.4L504,122.5L511.8,128.4L520.3,138.4L520.4,139.4L519.1,140.4L515.4,142.4L499,150.2L468,161.4L456.2,164.4L403.2,176.1M403.2,217.5L424.9,225.4L431.1,228.4L436.1,231.4L440.7,236.4L442.2,238.4M631.4,238.4L628.5,225.4L623.8,210.8L616.3,197.4L605.2,180.4L583.9,161.4L574.9,155.4L569.5,151.4L556.1,140.4L555.4,139.4L555.6,138.4L556.9,136.4L562.9,128.4L565.2,126.4L573.9,119.9L590.9,103L602.2,91.4L614.1,76.4L622.8,60.3L624.5,56.4L629.8,36.4L631.2,18.4M431.5,18.4L435.3,28.4L434.8,30.4L431.1,38.4L429.3,40.4L418.2,49.6L415.2,51.4L403.2,57.3M403.2,103.1L463.4,123.4L468,125.4L471.7,127.4L472.9,128.4L474,130.4L476.1,135.4L477,138.4L476.1,140.4L472.2,146.4L469.6,149.4L466.3,151.4L458.3,155.4L440.1,161.7L403.2,172.8M403.2,222L415.2,226.8L420.3,229.4L426.2,233.4L428.9,236.4L430.3,238.4M642.8,238.4L639.5,221.4L633.7,204.4L625.5,187.4L606.3,153.4L602,143.4L601.6,141.4L601,128.4L603.4,117.4L604.4,114.4L613.4,102.4L621.2,91.4L631.4,72.4L635.4,59.4L636.4,55.4L640.2,36.4L642.5,18.4M422.4,18.4L426.5,28.4L426.1,30.4L422.4,38.4L420.8,40.4L413.1,47.4L409.7,49.4L403.2,52.4M403.2,107.5L452.1,129.9L454,131.4L454.6,132.4L456.5,137.4L456.6,138.4L455.9,140.4L451.5,147.4L449.8,149.4L448.4,150.4L428.8,159.4L403.2,169.3M403.2,226L410.2,229.2L413.2,230.9L419.4,236.4L421.1,238.4M650.8,234.7L644.5,210.4L636,182.4L627.2,162.4L624.4,154.4L621.3,142.4L620,128.4L620.4,125.4L622.9,113.4L631.8,96.4L636.8,85.8L643.5,68.4L647.7,54.4L649.7,45.4L650.8,42.9M414.4,18.4L418.1,27.4L418.3,29.4L415.2,37.4L414,39.4L405.2,46.5L403.2,47.7M403.2,112.2L438,131.4L440.5,133.4L442.4,136.4L443.3,138.4L443.1,139.4L438.1,147.4L436.2,149.4L434.5,150.4L421.2,156.2L403.2,165.8M650.8,191.7L649.8,189.7L644.2,173.4L637.6,156.4L634.5,144.4L633.4,131.4L634.2,121.4L639.3,102.4L647.8,80.9L650.8,76.1M403.2,230.3L408.6,233.4L410.6,235.4L412.8,238.4M407.7,18.4L411.2,27.4L411.2,29.4L407.4,38.4L405.6,40.4L403.2,42.2M403.2,116.9L425.9,132.4L427.7,134.4L429.2,137.4L429.7,139.4L428.4,144.4L427.3,146.4L425.9,147.4L417.2,151.7L403.2,162.1M650.8,167.4L649.4,162.4L648.1,156.4L644.5,127.4L649.8,105.4L650.8,102.7M403.2,235L404.8,236.4L406.3,238.4M403.2,24.3L404.2,25.8L405,28.4L404.3,31.4L403.2,33.5M403.2,122.2L404.8,123.4L415.3,133.4L416.6,135.4L417.6,138.4L417.3,139.4L416,141.4L404.6,156.4L403.2,157.7M403.2,127.3L404.4,128.4L410.1,136.4L411.1,138.4L410.6,140.4L404.9,150.4L403.2,152.8M403.2,131.6L406.2,136L407.4,138.4L406.9,140.4L403.2,146.7" fill="none" stroke="#000" stroke-width="0.55" mask="url(#m403)"/>
<g font-family="Liberation Sans" font-size="9.0" text-anchor="middle" fill="#000"><text x="438.7" y="45.2" transform="rotate(-44.6 438.7 41.9)">1.9102</text><text x="451.4" y="47.3" transform="rotate(-42 451.4 44)">1.2856</text><text x="470.4" y="50.8" transform="rotate(-48.7 470.4 47.5)">0.6609</text><text x="437.1" y="91.9" transform="rotate(3.4 437.1 88.6)">0.6609</text><text x="443.7" y="103" transform="rotate(7.9 443.7 99.7)">1.2856</text><text x="441.8" y="110.2" transform="rotate(12 441.8 106.9)">1.9102</text><text x="448.6" y="121.6" transform="rotate(18.4 448.6 118.3)">2.5349</text><text x="439.9" y="127.5" transform="rotate(24.5 439.9 124.2)">3.1596</text><text x="432.5" y="131.6" transform="rotate(29.1 432.5 128.3)">3.7842</text><text x="426.1" y="135.9" transform="rotate(46.8 426.1 132.6)">4.4089</text><text x="483.5" y="159.2" transform="rotate(-19.9 483.5 155.9)">1.9102</text><text x="483.1" y="171.9" transform="rotate(-8.1 483.1 168.6)">1.2856</text><text x="456.8" y="184.9" transform="rotate(-5 456.8 181.6)">0.6609</text><text x="433.9" y="217.8" transform="rotate(19.9 433.9 214.5)">0.6609</text><text x="565.7" y="74.4" transform="rotate(-39.7 565.7 71.1)">0.6609</text><text x="572.8" y="96.8" transform="rotate(-32.5 572.8 93.5)">1.2856</text><text x="585.9" y="111.4" transform="rotate(-45 585.9 108.1)">1.9102</text><text x="624" y="89.6" transform="rotate(-61.4 624 86.3)">2.5349</text><text x="639.8" y="81.4" transform="rotate(-68.6 639.8 78.1)">3.1596</text><text x="636.9" y="157.1" transform="rotate(74 636.9 153.8)">3.7842</text><text x="579.1" y="212.4" transform="rotate(50.8 579.1 209.1)">0.6609</text><text x="601.7" y="206.8" transform="rotate(53.5 601.7 203.5)">1.2856</text><text x="616.6" y="201.2" transform="rotate(58.8 616.6 197.9)">1.9102</text><text x="633" y="206.2" transform="rotate(66.5 633 202.9)">2.5349</text></g>
<rect x="403.2" y="18.4" width="247.6" height="220" fill="none" stroke="#303030" stroke-width="0.7"/>
<g font-size="11" fill="#333333">
<text x="399" y="242.1" text-anchor="end">0</text>
<text x="399" y="207.1" text-anchor="end">1</text>
<text x="399" y="172.1" text-anchor="end">2</text>
<text x="399" y="137.1" text-anchor="end">3</text>
<text x="399" y="102.1" text-anchor="end">4</text>
<text x="399" y="67" text-anchor="end">5</text>
<text x="399" y="32" text-anchor="end">6</text>
<text x="403.5" y="257" text-anchor="middle">10<tspan font-size="8.8" dy="-5.0">-1</tspan></text>
<text x="527.3" y="257" text-anchor="middle">10<tspan font-size="8.8" dy="-5.0">0</tspan></text>
<text x="651.1" y="257" text-anchor="middle">10<tspan font-size="8.8" dy="-5.0">1</tspan></text>
<text x="678" y="209.7">1</text>
<text x="678" y="176.1">2</text>
<text x="678" y="142.5">3</text>
<text x="678" y="108.9">4</text>
<text x="678" y="75.2">5</text>
<text x="678" y="41.6">6</text>
</g>
<path d="M403.2,238.4h2.5M650.8,238.4h-2.5M403.2,203.4h2.5M650.8,203.4h-2.5M403.2,168.4h2.5M650.8,168.4h-2.5M403.2,133.4h2.5M650.8,133.4h-2.5M403.2,98.3h2.5M650.8,98.3h-2.5M403.2,63.3h2.5M650.8,63.3h-2.5M403.2,28.3h2.5M650.8,28.3h-2.5M403.2,238.4v-2.5M403.2,18.4v2.5M440.5,238.4v-1.3M440.5,18.4v1.3M462.3,238.4v-1.3M462.3,18.4v1.3M477.7,238.4v-1.3M477.7,18.4v1.3M489.7,238.4v-1.3M489.7,18.4v1.3M499.5,238.4v-1.3M499.5,18.4v1.3M507.8,238.4v-1.3M507.8,18.4v1.3M515,238.4v-1.3M515,18.4v1.3M521.3,238.4v-1.3M521.3,18.4v1.3M527,238.4v-2.5M527,18.4v2.5M564.3,238.4v-1.3M564.3,18.4v1.3M586.1,238.4v-1.3M586.1,18.4v1.3M601.5,238.4v-1.3M601.5,18.4v1.3M613.5,238.4v-1.3M613.5,18.4v1.3M623.3,238.4v-1.3M623.3,18.4v1.3M631.6,238.4v-1.3M631.6,18.4v1.3M638.8,238.4v-1.3M638.8,18.4v1.3M645.1,238.4v-1.3M645.1,18.4v1.3M650.8,238.4v-2.5M650.8,18.4v2.5" stroke="#303030" stroke-width="0.6" fill="none"/>
<text x="377.2" y="128.5" font-size="12" fill="#333333" text-anchor="middle" transform="rotate(-90 377.2 128.5)">Initial phase difference (rad)</text>
<text x="470.7" y="270.4" font-size="11.9" fill="#333333">Eccentricity ratio <tspan font-style="italic">e</tspan><tspan font-size="9.5" dy="4.5">1</tspan><tspan dy="-4.5">/ </tspan><tspan font-style="italic">e</tspan><tspan font-size="9.5" dy="4.5">2</tspan></text>
<text x="426.3" y="298.3" font-size="17.5" fill="#1a1a1a" text-anchor="middle">(b)</text>
<rect x="655.9" y="18.4" width="18.1" height="220" fill="url(#gj)" stroke="#303030" stroke-width="0.6"/>
<path d="M674,206h-2.2M674,172.4h-2.2M674,138.8h-2.2M674,105.1h-2.2M674,71.5h-2.2M674,37.9h-2.2" stroke="#303030" stroke-width="0.6" fill="none"/>
<path d="M61.3,509.9L155.8,464L296.8,496.1M61.3,485L155.8,439.1L296.8,471.2M61.3,460.1L155.8,414.2L296.8,446.3M61.3,435.2L155.8,389.3L296.8,421.4M61.3,410.3L155.8,364.4L296.8,396.5M61.3,385.4L155.8,339.5L296.8,371.6M61.3,360.5L155.8,314.6L296.8,346.7M202.3,542L61.3,509.9L61.3,360.5M232.4,527.4L91.4,495.3L91.4,345.9M262.5,512.8L121.5,480.7L121.5,331.3M292.5,498.2L151.5,466.1L151.5,316.7M61.3,509.9L155.8,464L155.8,314.6M131.8,525.9L226.3,480L226.3,330.6M202.3,542L296.8,496.1L296.8,346.7M61.3,360.5L155.8,314.6L296.8,346.7M296.8,496.1L296.8,346.7" fill="none" stroke="#e2e2e2" stroke-width="0.6"/>
<path d="M82.5,514.7L177,468.8L177,319.4M94.9,517.6L189.4,471.7L189.4,322.3M103.7,519.6L198.2,473.7L198.2,324.3M110.6,521.1L205.1,475.2L205.1,325.8M116.2,522.4L210.7,476.5L210.7,327.1M120.9,523.5L215.4,477.6L215.4,328.2M125,524.4L219.5,478.5L219.5,329.1M128.6,525.2L223.1,479.3L223.1,329.9M153,530.8L247.5,484.9L247.5,335.5M165.4,533.6L259.9,487.7L259.9,338.3M174.2,535.6L268.7,489.7L268.7,340.3M181.1,537.2L275.6,491.3L275.6,341.9M186.7,538.4L281.2,492.5L281.2,343.1M191.4,539.5L285.9,493.6L285.9,344.2M195.5,540.4L290,494.5L290,345.1M199.1,541.3L293.6,495.4L293.6,346" fill="none" stroke="#d4d4d4" stroke-width="0.6" stroke-dasharray="0.8,1.2"/>
<g stroke-width="0.7" stroke-linejoin="round" fill="currentColor" stroke="currentColor" filter="url(#sm)">
<path d="M154,375.6l0.3,0.7l1.8,2.3l-0.3,-0.6Z" color="#9cc944"/>
<path d="M152.3,372.1l0.3,1l1.7,3.2l-0.3,-0.7Z" color="#b6c532"/>
<path d="M150.6,372.6l0.2,1.1l1.8,-0.6l-0.3,-1Z" color="#c5c22a"/>
<path d="M148.8,377.8l0.3,0.8l1.7,-4.9l-0.2,-1.1Z" color="#b8c431"/>
<path d="M147,383.7l0.3,0.6l1.8,-5.7l-0.3,-0.8Z" color="#98c947"/>
<path d="M145.3,390.5l0.3,0.7l1.7,-6.9l-0.3,-0.6Z" color="#70cd65"/>
<path d="M143.6,399.8l0.2,0.6l1.8,-9.2l-0.3,-0.7Z" color="#41ca8c"/>
<path d="M141.8,410.2l0.3,0.5l1.7,-10.3l-0.2,-0.6Z" color="#20c1b1"/>
<path d="M140,420.5l0.3,0.6l1.8,-10.4l-0.3,-0.5Z" color="#09b4d1"/>
<path d="M138.3,430.7l0.3,0.5l1.7,-10.1l-0.3,-0.6Z" color="#23a0e5"/>
<path d="M136.6,440.7l0.2,0.5l1.8,-10l-0.3,-0.5Z" color="#2d89f5"/>
<path d="M134.8,450.1l0.3,0.3l1.7,-9.2l-0.2,-0.5Z" color="#3f6fff"/>
<path d="M133,455.9l0.3,0.2l1.8,-5.7l-0.3,-0.3Z" color="#475bf9"/>
<path d="M131.3,461.1l0.3,0.3l1.7,-5.3l-0.3,-0.2Z" color="#484ef1"/>
<path d="M129.6,466.2l0.2,0.1l1.8,-4.9l-0.3,-0.3Z" color="#4741e5"/>
<path d="M127.8,468.4l0.3,0l1.7,-2.1l-0.2,-0.1Z" color="#463adb"/>
<path d="M126,464.2l0.3,0.1l1.8,4.1l-0.3,0Z" color="#473fe2"/>
<path d="M124.3,458.7l0.3,0.1l1.7,5.5l-0.3,-0.1Z" color="#484ff2"/>
<path d="M122.6,451.7l0.2,0.3l1.8,6.8l-0.3,-0.1Z" color="#4563fd"/>
<path d="M120.8,443.2l0.3,0.3l1.7,8.5l-0.2,-0.3Z" color="#317efb"/>
<path d="M119,433.7l0.3,0.4l1.8,9.4l-0.3,-0.3Z" color="#2798ea"/>
<path d="M117.3,424.2l0.3,0.5l1.7,9.4l-0.3,-0.4Z" color="#15afd8"/>
<path d="M115.6,415.2l0.2,0.6l1.8,8.9l-0.3,-0.5Z" color="#14beb8"/>
<path d="M113.8,406.3l0.3,0.6l1.7,8.9l-0.2,-0.6Z" color="#3cc991"/>
<path d="M112,398.3l0.3,0.7l1.8,7.9l-0.3,-0.6Z" color="#77cc60"/>
<path d="M110.3,390.5l0.3,0.9l1.7,7.6l-0.3,-0.7Z" color="#b5c533"/>
<path d="M108.6,381.6l0.2,1.3l1.8,8.5l-0.3,-0.9Z" color="#e9bb30"/>
<path d="M106.8,372.4l0.3,1.6l1.7,8.9l-0.2,-1.3Z" color="#fdcb33"/>
<path d="M105,366l0.3,1.2l1.8,6.8l-0.3,-1.6Z" color="#f5e725"/>
<path d="M103.3,366.2l0.3,1.2l1.7,-0.2l-0.3,-1.2Z" color="#f7f31c"/>
<path d="M101.6,373.4l0.2,1.3l1.8,-7.3l-0.3,-1.2Z" color="#f5eb23"/>
<path d="M99.8,381.2l0.3,1.4l1.7,-7.9l-0.2,-1.3Z" color="#fad52d"/>
<path d="M98,389.8l0.3,1.5l1.8,-8.7l-0.3,-1.4Z" color="#febe3c"/>
<path d="M96.3,400l0.3,1.1l1.7,-9.8l-0.3,-1.5Z" color="#dabd28"/>
<path d="M94.6,410.9l0.2,0.8l1.8,-10.6l-0.3,-1.1Z" color="#9dc943"/>
<path d="M92.8,423.8l0.3,0.7l1.7,-12.8l-0.2,-0.8Z" color="#4fcc80"/>
<path d="M91,437.7l0.3,0.5l1.8,-13.7l-0.3,-0.7Z" color="#19bfb5"/>
<path d="M89.3,451.9l0.3,0.5l1.7,-14.2l-0.3,-0.5Z" color="#1babde"/>
<path d="M87.6,465.6l0.2,0.2l1.8,-13.4l-0.3,-0.5Z" color="#2d8bf4"/>
<path d="M85.8,475.9l0.3,0.1l1.7,-10.2l-0.2,-0.2Z" color="#426afe"/>
<path d="M84,484.2l0.3,0.2l1.8,-8.4l-0.3,-0.1Z" color="#4852f4"/>
<path d="M82.3,489.8l0.3,0.1l1.7,-5.5l-0.3,-0.2Z" color="#4740e4"/>
<path d="M80.6,493.9l0.2,0.1l1.8,-4.1l-0.3,-0.1Z" color="#4536d3"/>
<path d="M78.8,494.6l0.3,0.2l1.7,-0.8l-0.2,-0.1Z" color="#4332cb"/>
<path d="M77,492.9l0.3,0.1l1.8,1.8l-0.3,-0.2Z" color="#4535d2"/>
<path d="M75.3,490.9l0.3,0.2l1.7,1.9l-0.3,-0.1Z" color="#463cde"/>
<path d="M73.6,485l0.2,0.3l1.8,5.8l-0.3,-0.2Z" color="#484aed"/>
<path d="M71.8,478l0.3,0.3l1.7,7l-0.2,-0.3Z" color="#465efb"/>
<path d="M70,469.8l0.3,0.4l1.8,8.1l-0.3,-0.3Z" color="#3678fd"/>
<path d="M68.3,460.2l0.3,0.5l1.7,9.5l-0.3,-0.4Z" color="#2a93ed"/>
<path d="M66.6,449.6l0.2,0.5l1.8,10.6l-0.3,-0.5Z" color="#19addc"/>
<path d="M64.8,439.9l0.3,0.6l1.7,9.6l-0.2,-0.5Z" color="#11beb9"/>
<path d="M63,430.6l0.3,0.7l1.8,9.2l-0.3,-0.6Z" color="#3cc991"/>
<path d="M61.3,425l0.3,0.8l1.7,5.5l-0.3,-0.7Z" color="#70cd65"/>
<path d="M154.3,376.3l0.7,1.8l1.7,2.1l-0.6,-1.6Z" color="#95ca4a"/>
<path d="M152.6,373.1l0.6,2.5l1.8,2.5l-0.7,-1.8Z" color="#acc738"/>
<path d="M150.8,373.7l0.7,2.6l1.7,-0.7l-0.6,-2.5Z" color="#bac430"/>
<path d="M149.1,378.6l0.6,2l1.8,-4.3l-0.7,-2.6Z" color="#aec637"/>
<path d="M147.3,384.3l0.7,1.4l1.7,-5.1l-0.6,-2Z" color="#91ca4d"/>
<path d="M145.6,391.2l0.6,1.8l1.8,-7.3l-0.7,-1.4Z" color="#68cd6b"/>
<path d="M143.8,400.4l0.7,1.5l1.7,-8.9l-0.6,-1.8Z" color="#3cc991"/>
<path d="M142.1,410.7l0.6,1.4l1.8,-10.2l-0.7,-1.5Z" color="#1bc0b4"/>
<path d="M140.3,421.1l0.7,1.3l1.7,-10.3l-0.6,-1.4Z" color="#0db3d4"/>
<path d="M138.6,431.2l0.6,1.3l1.8,-10.1l-0.7,-1.3Z" color="#249ee6"/>
<path d="M136.8,441.2l0.7,1.1l1.7,-9.8l-0.6,-1.3Z" color="#2e87f7"/>
<path d="M135.1,450.4l0.6,0.8l1.8,-8.9l-0.7,-1.1Z" color="#406dfe"/>
<path d="M133.3,456.1l0.7,0.6l1.7,-5.5l-0.6,-0.8Z" color="#475af9"/>
<path d="M131.6,461.4l0.6,0.6l1.8,-5.3l-0.7,-0.6Z" color="#484df0"/>
<path d="M129.8,466.3l0.7,0.2l1.7,-4.5l-0.6,-0.6Z" color="#4741e5"/>
<path d="M128.1,468.4l0.6,0.2l1.8,-2.1l-0.7,-0.2Z" color="#463adb"/>
<path d="M126.3,464.3l0.7,0.3l1.7,4l-0.6,-0.2Z" color="#473fe2"/>
<path d="M124.6,458.8l0.6,0.3l1.8,5.5l-0.7,-0.3Z" color="#484ff2"/>
<path d="M122.8,452l0.7,0.6l1.7,6.5l-0.6,-0.3Z" color="#4563fc"/>
<path d="M121.1,443.5l0.6,0.7l1.8,8.4l-0.7,-0.6Z" color="#317dfc"/>
<path d="M119.3,434.1l0.7,1.1l1.7,9l-0.6,-0.7Z" color="#2797eb"/>
<path d="M117.6,424.7l0.6,1.3l1.8,9.2l-0.7,-1.1Z" color="#17aeda"/>
<path d="M115.8,415.8l0.7,1.4l1.7,8.8l-0.6,-1.3Z" color="#0ebebb"/>
<path d="M114.1,406.9l0.6,1.6l1.8,8.7l-0.7,-1.4Z" color="#38c896"/>
<path d="M112.3,399l0.7,1.7l1.7,7.8l-0.6,-1.6Z" color="#6fcd66"/>
<path d="M110.6,391.4l0.6,2.2l1.8,7.1l-0.7,-1.7Z" color="#adc638"/>
<path d="M108.8,382.9l0.7,3.1l1.7,7.6l-0.6,-2.2Z" color="#e1bc2b"/>
<path d="M107.1,374l0.6,4l1.8,8l-0.7,-3.1Z" color="#fec438"/>
<path d="M105.3,367.2l0.7,3l1.7,7.8l-0.6,-4Z" color="#f6df29"/>
<path d="M103.6,367.4l0.6,3l1.8,-0.2l-0.7,-3Z" color="#f5ed21"/>
<path d="M101.8,374.7l0.7,3.3l1.7,-7.6l-0.6,-3Z" color="#f5e427"/>
<path d="M100.1,382.6l0.6,3.5l1.8,-8.1l-0.7,-3.3Z" color="#fdce31"/>
<path d="M98.3,391.3l0.7,3.6l1.7,-8.8l-0.6,-3.5Z" color="#f7ba3c"/>
<path d="M96.6,401.1l0.6,2.7l1.8,-8.9l-0.7,-3.6Z" color="#cec028"/>
<path d="M94.8,411.7l0.7,2.2l1.7,-10.1l-0.6,-2.7Z" color="#92ca4c"/>
<path d="M93.1,424.5l0.6,1.8l1.8,-12.4l-0.7,-2.2Z" color="#47cb87"/>
<path d="M91.3,438.2l0.7,1.3l1.7,-13.2l-0.6,-1.8Z" color="#13beb8"/>
<path d="M89.6,452.4l0.6,1.3l1.8,-14.2l-0.7,-1.3Z" color="#1ca9df"/>
<path d="M87.8,465.8l0.7,0.5l1.7,-12.6l-0.6,-1.3Z" color="#2d8af5"/>
<path d="M86.1,476l0.6,0.3l1.8,-10l-0.7,-0.5Z" color="#426afe"/>
<path d="M84.3,484.4l0.7,0.2l1.7,-8.3l-0.6,-0.3Z" color="#4851f4"/>
<path d="M82.6,489.9l0.6,0.2l1.8,-5.5l-0.7,-0.2Z" color="#4740e4"/>
<path d="M80.8,494l0.7,0.2l1.7,-4.1l-0.6,-0.2Z" color="#4536d3"/>
<path d="M79.1,494.8l0.6,0.3l1.8,-0.9l-0.7,-0.2Z" color="#4332ca"/>
<path d="M77.3,493l0.7,0.4l1.7,1.7l-0.6,-0.3Z" color="#4435d1"/>
<path d="M75.6,491.1l0.6,0.4l1.8,1.9l-0.7,-0.4Z" color="#463bde"/>
<path d="M73.8,485.3l0.7,0.6l1.7,5.6l-0.6,-0.4Z" color="#4849ed"/>
<path d="M72.1,478.3l0.6,1l1.8,6.6l-0.7,-0.6Z" color="#465dfa"/>
<path d="M70.3,470.2l0.7,1.1l1.7,8l-0.6,-1Z" color="#3776fe"/>
<path d="M68.6,460.7l0.6,1.2l1.8,9.4l-0.7,-1.1Z" color="#2b91ef"/>
<path d="M66.8,450.1l0.7,1.5l1.7,10.3l-0.6,-1.2Z" color="#1aabdd"/>
<path d="M65.1,440.5l0.6,1.5l1.8,9.6l-0.7,-1.5Z" color="#0bbdbd"/>
<path d="M63.3,431.3l0.7,1.9l1.7,8.8l-0.6,-1.5Z" color="#38c896"/>
<path d="M61.6,425.8l0.6,2l1.8,5.4l-0.7,-1.9Z" color="#67cd6c"/>
<path d="M155,378.1l0.9,2.9l1.8,1.8l-1,-2.6Z" color="#86cb55"/>
<path d="M153.2,375.6l1,3.5l1.7,1.9l-0.9,-2.9Z" color="#9bc945"/>
<path d="M151.5,376.3l0.9,3.6l1.8,-0.8l-1,-3.5Z" color="#a6c73c"/>
<path d="M149.7,380.6l1,3.1l1.7,-3.8l-0.9,-3.6Z" color="#9bc944"/>
<path d="M148,385.7l0.9,2.4l1.8,-4.4l-1,-3.1Z" color="#81cc58"/>
<path d="M146.2,393l1,2.9l1.7,-7.8l-0.9,-2.4Z" color="#5bcc76"/>
<path d="M144.5,401.9l0.9,2.4l1.8,-8.4l-1,-2.9Z" color="#35c79a"/>
<path d="M142.7,412.1l1,2.1l1.7,-9.9l-0.9,-2.4Z" color="#10beba"/>
<path d="M141,422.4l0.9,2.1l1.8,-10.3l-1,-2.1Z" color="#14b0d8"/>
<path d="M139.2,432.5l1,2l1.7,-10l-0.9,-2.1Z" color="#259be8"/>
<path d="M137.5,442.3l0.9,1.8l1.8,-9.6l-1,-2Z" color="#2e83f9"/>
<path d="M135.7,451.2l1,1.1l1.7,-8.2l-0.9,-1.8Z" color="#426afe"/>
<path d="M134,456.7l0.9,1l1.8,-5.4l-1,-1.1Z" color="#4758f8"/>
<path d="M132.2,462l1,0.8l1.7,-5.1l-0.9,-1Z" color="#484bef"/>
<path d="M130.5,466.5l0.9,0.3l1.8,-4l-1,-0.8Z" color="#4740e3"/>
<path d="M128.7,468.6l1,0.2l1.7,-2l-0.9,-0.3Z" color="#463ada"/>
<path d="M127,464.6l0.9,0.4l1.8,3.8l-1,-0.2Z" color="#473ee1"/>
<path d="M125.2,459.1l1,0.4l1.7,5.5l-0.9,-0.4Z" color="#484ef1"/>
<path d="M123.5,452.6l0.9,0.9l1.8,6l-1,-0.4Z" color="#4562fc"/>
<path d="M121.7,444.2l1,1.1l1.7,8.2l-0.9,-0.9Z" color="#337bfd"/>
<path d="M120,435.2l0.9,1.5l1.8,8.6l-1,-1.1Z" color="#2995ec"/>
<path d="M118.2,426l1,1.9l1.7,8.8l-0.9,-1.5Z" color="#1aacdd"/>
<path d="M116.5,417.2l0.9,2.2l1.8,8.5l-1,-1.9Z" color="#06bcc0"/>
<path d="M114.7,408.5l1,2.5l1.7,8.4l-0.9,-2.2Z" color="#33c69d"/>
<path d="M113,400.7l0.9,2.6l1.8,7.7l-1,-2.5Z" color="#61cd71"/>
<path d="M111.2,393.6l1,3.1l1.7,6.6l-0.9,-2.6Z" color="#9dc943"/>
<path d="M109.5,386l0.9,4.1l1.8,6.6l-1,-3.1Z" color="#d0bf27"/>
<path d="M107.7,378l1,5.8l1.7,6.3l-0.9,-4.1Z" color="#f8ba3d"/>
<path d="M106,370.2l0.9,5.2l1.8,8.4l-1,-5.8Z" color="#fbd12f"/>
<path d="M104.2,370.4l1,5l1.7,0l-0.9,-5.2Z" color="#f5e128"/>
<path d="M102.5,378l0.9,5.4l1.8,-8l-1,-5Z" color="#f9d72c"/>
<path d="M100.7,386.1l1,5.3l1.7,-8l-0.9,-5.4Z" color="#fec13a"/>
<path d="M99,394.9l0.9,4.8l1.8,-8.3l-1,-5.3Z" color="#e4bb2c"/>
<path d="M97.2,403.8l1,3.6l1.7,-7.7l-0.9,-4.8Z" color="#b8c431"/>
<path d="M95.5,413.9l0.9,3.3l1.8,-9.8l-1,-3.6Z" color="#7dcc5b"/>
<path d="M93.7,426.3l1,2.7l1.7,-11.8l-0.9,-3.3Z" color="#3cc992"/>
<path d="M92,439.5l0.9,1.9l1.8,-12.4l-1,-2.7Z" color="#08bcbf"/>
<path d="M90.2,453.7l1,1.8l1.7,-14.1l-0.9,-1.9Z" color="#1fa6e2"/>
<path d="M88.5,466.3l0.9,0.6l1.8,-11.4l-1,-1.8Z" color="#2d87f6"/>
<path d="M86.7,476.3l1,0.4l1.7,-9.8l-0.9,-0.6Z" color="#4269fe"/>
<path d="M85,484.6l0.9,0.4l1.8,-8.3l-1,-0.4Z" color="#4851f3"/>
<path d="M83.2,490.1l1,0.4l1.7,-5.5l-0.9,-0.4Z" color="#4740e3"/>
<path d="M81.5,494.2l0.9,0.3l1.8,-4l-1,-0.4Z" color="#4535d2"/>
<path d="M79.7,495.1l1,0.5l1.7,-1.1l-0.9,-0.3Z" color="#4332c9"/>
<path d="M78,493.4l0.9,0.6l1.8,1.6l-1,-0.5Z" color="#4434d0"/>
<path d="M76.2,491.5l1,0.7l1.7,1.8l-0.9,-0.6Z" color="#463bdc"/>
<path d="M74.5,485.9l0.9,1l1.8,5.3l-1,-0.7Z" color="#4747eb"/>
<path d="M72.7,479.3l1,1.4l1.7,6.2l-0.9,-1Z" color="#475bf9"/>
<path d="M71,471.3l0.9,1.6l1.8,7.8l-1,-1.4Z" color="#3b73fe"/>
<path d="M69.2,461.9l1,1.9l1.7,9.1l-0.9,-1.6Z" color="#2c8ef1"/>
<path d="M67.5,451.6l0.9,2.2l1.8,10l-1,-1.9Z" color="#1da8e0"/>
<path d="M65.7,442l1,2.3l1.7,9.5l-0.9,-2.2Z" color="#03bbc2"/>
<path d="M64,433.2l0.9,2.8l1.8,8.3l-1,-2.3Z" color="#32c69e"/>
<path d="M62.2,427.8l1,3.2l1.7,5l-0.9,-2.8Z" color="#58cc79"/>
<path d="M155.9,381l1.2,3.7l1.8,1.6l-1.2,-3.5Z" color="#70cd65"/>
<path d="M154.2,379.1l1.2,3.8l1.7,1.8l-1.2,-3.7Z" color="#83cc57"/>
<path d="M152.4,379.9l1.2,3.9l1.8,-0.9l-1.2,-3.8Z" color="#8ecb4f"/>
<path d="M150.7,383.7l1.2,3.8l1.7,-3.7l-1.2,-3.9Z" color="#83cc57"/>
<path d="M148.9,388.1l1.2,3.2l1.8,-3.8l-1.2,-3.8Z" color="#6ccd68"/>
<path d="M147.2,395.9l1.2,3.5l1.7,-8.1l-1.2,-3.2Z" color="#4acb85"/>
<path d="M145.4,404.3l1.2,2.8l1.8,-7.7l-1.2,-3.5Z" color="#2ec4a5"/>
<path d="M143.7,414.2l1.2,2.7l1.7,-9.8l-1.2,-2.8Z" color="#04bbc2"/>
<path d="M141.9,424.5l1.2,2.6l1.8,-10.2l-1.2,-2.7Z" color="#1aabdd"/>
<path d="M140.2,434.5l1.2,2.5l1.7,-9.9l-1.2,-2.6Z" color="#2896ec"/>
<path d="M138.4,444.1l1.2,2.2l1.8,-9.3l-1.2,-2.5Z" color="#317efb"/>
<path d="M136.7,452.3l1.2,1.4l1.7,-7.4l-1.2,-2.2Z" color="#4466fd"/>
<path d="M134.9,457.7l1.2,1.2l1.8,-5.2l-1.2,-1.4Z" color="#4755f6"/>
<path d="M133.2,462.8l1.2,1l1.7,-4.9l-1.2,-1.2Z" color="#4849ed"/>
<path d="M131.4,466.8l1.2,0.4l1.8,-3.4l-1.2,-1Z" color="#473fe2"/>
<path d="M129.7,468.8l1.2,0.3l1.7,-1.9l-1.2,-0.4Z" color="#4639da"/>
<path d="M127.9,465l1.2,0.6l1.8,3.5l-1.2,-0.3Z" color="#463ee1"/>
<path d="M126.2,459.5l1.2,0.6l1.7,5.5l-1.2,-0.6Z" color="#484ef1"/>
<path d="M124.4,453.5l1.2,1.1l1.8,5.5l-1.2,-0.6Z" color="#4660fc"/>
<path d="M122.7,445.3l1.2,1.3l1.7,8l-1.2,-1.1Z" color="#3678fd"/>
<path d="M120.9,436.7l1.2,1.8l1.8,8.1l-1.2,-1.3Z" color="#2b92ef"/>
<path d="M119.2,427.9l1.2,2.2l1.7,8.4l-1.2,-1.8Z" color="#1da8e0"/>
<path d="M117.4,419.4l1.2,2.7l1.8,8l-1.2,-2.2Z" color="#01b9c7"/>
<path d="M115.7,411l1.2,3l1.7,8.1l-1.2,-2.7Z" color="#2cc4a7"/>
<path d="M113.9,403.3l1.2,3.1l1.8,7.6l-1.2,-3Z" color="#51cc7f"/>
<path d="M112.2,396.7l1.2,3.4l1.7,6.3l-1.2,-3.1Z" color="#89cb53"/>
<path d="M110.4,390.1l1.2,4.2l1.8,5.8l-1.2,-3.4Z" color="#bbc42f"/>
<path d="M108.7,383.8l1.2,5.4l1.7,5.1l-1.2,-4.2Z" color="#e3bc2c"/>
<path d="M106.9,375.4l1.2,7.2l1.8,6.6l-1.2,-5.4Z" color="#fec03b"/>
<path d="M105.2,375.4l1.2,6.9l1.7,0.3l-1.2,-7.2Z" color="#fdce31"/>
<path d="M103.4,383.4l1.2,6.5l1.8,-7.6l-1.2,-6.9Z" color="#fec537"/>
<path d="M101.7,391.4l1.2,5.9l1.7,-7.4l-1.2,-6.5Z" color="#eeba34"/>
<path d="M99.9,399.7l1.2,4.5l1.8,-6.9l-1.2,-5.9Z" color="#c9c129"/>
<path d="M98.2,407.4l1.2,4l1.7,-7.2l-1.2,-4.5Z" color="#9dc943"/>
<path d="M96.4,417.2l1.2,3.7l1.8,-9.5l-1.2,-4Z" color="#64cd6f"/>
<path d="M94.7,429l1.2,3l1.7,-11.1l-1.2,-3.7Z" color="#32c69e"/>
<path d="M92.9,441.4l1.2,2.4l1.8,-11.8l-1.2,-3Z" color="#01b9c6"/>
<path d="M91.2,455.5l1.2,2.1l1.7,-13.8l-1.2,-2.4Z" color="#22a2e4"/>
<path d="M89.4,466.9l1.2,0.9l1.8,-10.2l-1.2,-2.1Z" color="#2e84f8"/>
<path d="M87.7,476.7l1.2,0.6l1.7,-9.5l-1.2,-0.9Z" color="#4368fd"/>
<path d="M85.9,485l1.2,0.6l1.8,-8.3l-1.2,-0.6Z" color="#4850f3"/>
<path d="M84.2,490.5l1.2,0.4l1.7,-5.3l-1.2,-0.6Z" color="#473fe2"/>
<path d="M82.4,494.5l1.2,0.4l1.8,-4l-1.2,-0.4Z" color="#4435d1"/>
<path d="M80.7,495.6l1.2,0.6l1.7,-1.3l-1.2,-0.4Z" color="#4331c8"/>
<path d="M78.9,494l1.2,0.7l1.8,1.5l-1.2,-0.6Z" color="#4434ce"/>
<path d="M77.2,492.2l1.2,0.8l1.7,1.7l-1.2,-0.7Z" color="#4639da"/>
<path d="M75.4,486.9l1.2,1.2l1.8,4.9l-1.2,-0.8Z" color="#4745e9"/>
<path d="M73.7,480.7l1.2,1.7l1.7,5.7l-1.2,-1.2Z" color="#4758f8"/>
<path d="M71.9,472.9l1.2,2l1.8,7.5l-1.2,-1.7Z" color="#3f6eff"/>
<path d="M70.2,463.8l1.2,2.3l1.7,8.8l-1.2,-2Z" color="#2d89f5"/>
<path d="M68.4,453.8l1.2,2.8l1.8,9.5l-1.2,-2.3Z" color="#21a3e3"/>
<path d="M66.7,444.3l1.2,2.9l1.7,9.4l-1.2,-2.8Z" color="#01b8ca"/>
<path d="M64.9,436l1.2,3.6l1.8,7.6l-1.2,-2.9Z" color="#2ac3a9"/>
<path d="M63.2,431l1.2,4l1.7,4.6l-1.2,-3.6Z" color="#44cb89"/>
<path d="M157.1,384.7l1.4,4.5l1.8,1.7l-1.4,-4.6Z" color="#56cc7b"/>
<path d="M155.4,382.9l1.4,4.4l1.7,1.9l-1.4,-4.5Z" color="#67cd6c"/>
<path d="M153.6,383.8l1.4,4.4l1.8,-0.9l-1.4,-4.4Z" color="#71cd64"/>
<path d="M151.9,387.5l1.4,4.3l1.7,-3.6l-1.4,-4.4Z" color="#67cd6d"/>
<path d="M150.1,391.3l1.4,4.2l1.8,-3.7l-1.4,-4.3Z" color="#54cc7d"/>
<path d="M148.4,399.4l1.4,4l1.7,-7.9l-1.4,-4.2Z" color="#39c895"/>
<path d="M146.6,407.1l1.4,3.4l1.8,-7.1l-1.4,-4Z" color="#21c1b0"/>
<path d="M144.9,416.9l1.4,3.3l1.7,-9.7l-1.4,-3.4Z" color="#02b7cb"/>
<path d="M143.1,427.1l1.4,3.1l1.8,-10l-1.4,-3.3Z" color="#1fa6e2"/>
<path d="M141.4,437l1.4,2.6l1.7,-9.4l-1.4,-3.1Z" color="#2c8ff0"/>
<path d="M139.6,446.3l1.4,2.3l1.8,-9l-1.4,-2.6Z" color="#3677fe"/>
<path d="M137.9,453.7l1.4,1.5l1.7,-6.6l-1.4,-2.3Z" color="#4561fc"/>
<path d="M136.1,458.9l1.4,1.3l1.8,-5l-1.4,-1.5Z" color="#4852f4"/>
<path d="M134.4,463.8l1.4,1l1.7,-4.6l-1.4,-1.3Z" color="#4746eb"/>
<path d="M132.6,467.2l1.4,0.5l1.8,-2.9l-1.4,-1Z" color="#463ee0"/>
<path d="M130.9,469.1l1.4,0.3l1.7,-1.7l-1.4,-0.5Z" color="#4639da"/>
<path d="M129.1,465.6l1.4,0.6l1.8,3.2l-1.4,-0.3Z" color="#463ee1"/>
<path d="M127.4,460.1l1.4,0.7l1.7,5.4l-1.4,-0.6Z" color="#484df0"/>
<path d="M125.6,454.6l1.4,1.3l1.8,4.9l-1.4,-0.7Z" color="#465efb"/>
<path d="M123.9,446.6l1.4,1.5l1.7,7.8l-1.4,-1.3Z" color="#3975fe"/>
<path d="M122.1,438.5l1.4,1.9l1.8,7.7l-1.4,-1.5Z" color="#2c8ef1"/>
<path d="M120.4,430.1l1.4,2.5l1.7,7.8l-1.4,-1.9Z" color="#20a4e3"/>
<path d="M118.6,422.1l1.4,3l1.8,7.5l-1.4,-2.5Z" color="#06b5ce"/>
<path d="M116.9,414l1.4,3.3l1.7,7.8l-1.4,-3Z" color="#20c1b1"/>
<path d="M115.1,406.4l1.4,3.6l1.8,7.3l-1.4,-3.3Z" color="#3fca8e"/>
<path d="M113.4,400.1l1.4,3.5l1.7,6.4l-1.4,-3.6Z" color="#71cd64"/>
<path d="M111.6,394.3l1.4,4.1l1.8,5.2l-1.4,-3.5Z" color="#a3c83e"/>
<path d="M109.9,389.2l1.4,4.4l1.7,4.8l-1.4,-4.1Z" color="#cbc029"/>
<path d="M108.1,382.6l1.4,6.8l1.8,4.2l-1.4,-4.4Z" color="#ebba32"/>
<path d="M106.4,382.3l1.4,7.3l1.7,-0.2l-1.4,-6.8Z" color="#fabb3d"/>
<path d="M104.6,389.9l1.4,6.3l1.8,-6.6l-1.4,-7.3Z" color="#f0ba36"/>
<path d="M102.9,397.3l1.4,4.9l1.7,-6l-1.4,-6.3Z" color="#d0bf27"/>
<path d="M101.1,404.2l1.4,4.1l1.8,-6.1l-1.4,-4.9Z" color="#acc739"/>
<path d="M99.4,411.4l1.4,4l1.7,-7.1l-1.4,-4.1Z" color="#80cc59"/>
<path d="M97.6,420.9l1.4,3.9l1.8,-9.4l-1.4,-4Z" color="#4dcb82"/>
<path d="M95.9,432l1.4,3.2l1.7,-10.4l-1.4,-3.9Z" color="#28c3ab"/>
<path d="M94.1,443.8l1.4,2.7l1.8,-11.3l-1.4,-3.2Z" color="#06b6ce"/>
<path d="M92.4,457.6l1.4,2.1l1.7,-13.2l-1.4,-2.7Z" color="#249de7"/>
<path d="M90.6,467.8l1.4,1.1l1.8,-9.2l-1.4,-2.1Z" color="#2f81fa"/>
<path d="M88.9,477.3l1.4,0.7l1.7,-9.1l-1.4,-1.1Z" color="#4466fd"/>
<path d="M87.1,485.6l1.4,0.6l1.8,-8.2l-1.4,-0.7Z" color="#484ff2"/>
<path d="M85.4,490.9l1.4,0.6l1.7,-5.3l-1.4,-0.6Z" color="#473ee2"/>
<path d="M83.6,494.9l1.4,0.5l1.8,-3.9l-1.4,-0.6Z" color="#4435d1"/>
<path d="M81.9,496.2l1.4,0.6l1.7,-1.4l-1.4,-0.5Z" color="#4331c7"/>
<path d="M80.1,494.7l1.4,0.8l1.8,1.3l-1.4,-0.6Z" color="#4433cc"/>
<path d="M78.4,493l1.4,0.9l1.7,1.6l-1.4,-0.8Z" color="#4538d8"/>
<path d="M76.6,488.1l1.4,1.4l1.8,4.4l-1.4,-0.9Z" color="#4743e7"/>
<path d="M74.9,482.4l1.4,1.8l1.7,5.3l-1.4,-1.4Z" color="#4854f5"/>
<path d="M73.1,474.9l1.4,2.2l1.8,7.1l-1.4,-1.8Z" color="#4269fe"/>
<path d="M71.4,466.1l1.4,2.6l1.7,8.4l-1.4,-2.2Z" color="#2e84f8"/>
<path d="M69.6,456.6l1.4,3.1l1.8,9l-1.4,-2.6Z" color="#249de6"/>
<path d="M67.9,447.2l1.4,3.4l1.7,9.1l-1.4,-3.1Z" color="#0cb3d3"/>
<path d="M66.1,439.6l1.4,4.3l1.8,6.7l-1.4,-3.4Z" color="#1ac0b4"/>
<path d="M64.4,435l1.4,4.6l1.7,4.3l-1.4,-4.3Z" color="#34c79b"/>
<path d="M158.5,389.2l1.7,5.2l1.7,1.8l-1.6,-5.3Z" color="#3cc991"/>
<path d="M156.8,387.3l1.6,5.2l1.8,1.9l-1.7,-5.2Z" color="#4acb84"/>
<path d="M155,388.2l1.7,5.1l1.7,-0.8l-1.6,-5.2Z" color="#53cc7d"/>
<path d="M153.3,391.8l1.6,4.9l1.8,-3.4l-1.7,-5.1Z" color="#4acb84"/>
<path d="M151.5,395.5l1.7,4.9l1.7,-3.7l-1.6,-4.9Z" color="#3cc991"/>
<path d="M149.8,403.4l1.6,4.2l1.8,-7.2l-1.7,-4.9Z" color="#2dc4a6"/>
<path d="M148,410.5l1.7,4l1.7,-6.9l-1.6,-4.2Z" color="#0abdbd"/>
<path d="M146.3,420.2l1.6,3.8l1.8,-9.5l-1.7,-4Z" color="#10b2d5"/>
<path d="M144.5,430.2l1.7,3.4l1.7,-9.6l-1.6,-3.8Z" color="#249ee6"/>
<path d="M142.8,439.6l1.6,2.9l1.8,-8.9l-1.7,-3.4Z" color="#2d88f6"/>
<path d="M141,448.6l1.7,2.3l1.7,-8.4l-1.6,-2.9Z" color="#3d70ff"/>
<path d="M139.3,455.2l1.6,1.6l1.8,-5.9l-1.7,-2.3Z" color="#475dfa"/>
<path d="M137.5,460.2l1.7,1.5l1.7,-4.9l-1.6,-1.6Z" color="#484ff2"/>
<path d="M135.8,464.8l1.6,1l1.8,-4.1l-1.7,-1.5Z" color="#4744e8"/>
<path d="M134,467.7l1.7,0.5l1.7,-2.4l-1.6,-1Z" color="#463cdf"/>
<path d="M132.3,469.4l1.6,0.4l1.8,-1.6l-1.7,-0.5Z" color="#4639d9"/>
<path d="M130.5,466.2l1.7,0.7l1.7,2.9l-1.6,-0.4Z" color="#463de0"/>
<path d="M128.8,460.8l1.6,0.7l1.8,5.4l-1.7,-0.7Z" color="#484cef"/>
<path d="M127,455.9l1.7,1.3l1.7,4.3l-1.6,-0.7Z" color="#475cfa"/>
<path d="M125.3,448.1l1.6,1.5l1.8,7.6l-1.7,-1.3Z" color="#3c71ff"/>
<path d="M123.5,440.4l1.7,2.1l1.7,7.1l-1.6,-1.5Z" color="#2d8af4"/>
<path d="M121.8,432.6l1.6,2.6l1.8,7.3l-1.7,-2.1Z" color="#249fe5"/>
<path d="M120,425.1l1.7,3l1.7,7.1l-1.6,-2.6Z" color="#11b1d6"/>
<path d="M118.3,417.3l1.6,3.6l1.8,7.2l-1.7,-3Z" color="#0ebebb"/>
<path d="M116.5,410l1.7,3.8l1.7,7.1l-1.6,-3.6Z" color="#34c79c"/>
<path d="M114.8,403.6l1.6,3.7l1.8,6.5l-1.7,-3.8Z" color="#5bcc77"/>
<path d="M113,398.4l1.7,3.8l1.7,5.1l-1.6,-3.7Z" color="#8acb51"/>
<path d="M111.3,393.6l1.6,4.1l1.8,4.5l-1.7,-3.8Z" color="#b3c534"/>
<path d="M109.5,389.4l1.7,5.3l1.7,3l-1.6,-4.1Z" color="#d2bf27"/>
<path d="M107.8,389.6l1.6,6.3l1.8,-1.2l-1.7,-5.3Z" color="#dfbc2a"/>
<path d="M106,396.2l1.7,5l1.7,-5.3l-1.6,-6.3Z" color="#d2bf27"/>
<path d="M104.3,402.2l1.6,3.6l1.8,-4.6l-1.7,-5Z" color="#b3c534"/>
<path d="M102.5,408.3l1.7,3.7l1.7,-6.2l-1.6,-3.6Z" color="#91ca4c"/>
<path d="M100.8,415.4l1.6,4.2l1.8,-7.6l-1.7,-3.7Z" color="#66cd6d"/>
<path d="M99,424.8l1.7,3.8l1.7,-9l-1.6,-4.2Z" color="#3ac994"/>
<path d="M97.3,435.2l1.6,3.2l1.8,-9.8l-1.7,-3.8Z" color="#17bfb6"/>
<path d="M95.5,446.5l1.7,2.9l1.7,-11l-1.6,-3.2Z" color="#12b1d6"/>
<path d="M93.8,459.7l1.6,2.1l1.8,-12.4l-1.7,-2.9Z" color="#2798ea"/>
<path d="M92,468.9l1.7,1.4l1.7,-8.5l-1.6,-2.1Z" color="#317dfc"/>
<path d="M90.3,478l1.6,0.8l1.8,-8.5l-1.7,-1.4Z" color="#4464fd"/>
<path d="M88.5,486.2l1.7,0.7l1.7,-8.1l-1.6,-0.8Z" color="#484ef1"/>
<path d="M86.8,491.5l1.6,0.6l1.8,-5.2l-1.7,-0.7Z" color="#463ee0"/>
<path d="M85,495.4l1.7,0.5l1.7,-3.8l-1.6,-0.6Z" color="#4434d0"/>
<path d="M83.3,496.8l1.6,0.8l1.8,-1.7l-1.7,-0.5Z" color="#4330c5"/>
<path d="M81.5,495.5l1.7,0.9l1.7,1.2l-1.6,-0.8Z" color="#4332c9"/>
<path d="M79.8,493.9l1.6,1.1l1.8,1.4l-1.7,-0.9Z" color="#4537d5"/>
<path d="M78,489.5l1.7,1.5l1.7,4l-1.6,-1.1Z" color="#4741e4"/>
<path d="M76.3,484.2l1.6,2l1.8,4.8l-1.7,-1.5Z" color="#4850f3"/>
<path d="M74.5,477.1l1.7,2.5l1.7,6.6l-1.6,-2Z" color="#4564fd"/>
<path d="M72.8,468.7l1.6,2.8l1.8,8.1l-1.7,-2.5Z" color="#317efb"/>
<path d="M71,459.7l1.7,3.4l1.7,8.4l-1.6,-2.8Z" color="#2797eb"/>
<path d="M69.3,450.6l1.6,3.9l1.8,8.6l-1.7,-3.4Z" color="#18addb"/>
<path d="M67.5,443.9l1.7,4.8l1.7,5.8l-1.6,-3.9Z" color="#04bbc2"/>
<path d="M65.8,439.6l1.6,4.9l1.8,4.2l-1.7,-4.8Z" color="#27c2ac"/>
<path d="M160.2,394.4l1.8,5.5l1.7,1.6l-1.8,-5.3Z" color="#2dc4a6"/>
<path d="M158.4,392.5l1.8,5.5l1.8,1.9l-1.8,-5.5Z" color="#34c79c"/>
<path d="M156.7,393.3l1.8,5.4l1.7,-0.7l-1.8,-5.5Z" color="#39c895"/>
<path d="M154.9,396.7l1.8,5.3l1.8,-3.3l-1.8,-5.4Z" color="#35c79a"/>
<path d="M153.2,400.4l1.8,5.2l1.7,-3.6l-1.8,-5.3Z" color="#2dc4a5"/>
<path d="M151.4,407.6l1.8,4.7l1.8,-6.7l-1.8,-5.2Z" color="#18bfb6"/>
<path d="M149.7,414.5l1.8,5.1l1.7,-7.3l-1.8,-4.7Z" color="#02b7cb"/>
<path d="M147.9,424l1.8,4l1.8,-8.4l-1.8,-5.1Z" color="#1caadf"/>
<path d="M146.2,433.6l1.8,3.5l1.7,-9.1l-1.8,-4Z" color="#2796eb"/>
<path d="M144.4,442.5l1.8,3.1l1.8,-8.5l-1.8,-3.5Z" color="#2f80fa"/>
<path d="M142.7,450.9l1.8,2.2l1.7,-7.5l-1.8,-3.1Z" color="#4269fe"/>
<path d="M140.9,456.8l1.8,1.7l1.8,-5.4l-1.8,-2.2Z" color="#4758f8"/>
<path d="M139.2,461.7l1.8,1.6l1.7,-4.8l-1.8,-1.7Z" color="#484bef"/>
<path d="M137.4,465.8l1.8,1l1.8,-3.5l-1.8,-1.6Z" color="#4741e5"/>
<path d="M135.7,468.2l1.8,0.7l1.7,-2.1l-1.8,-1Z" color="#463bdd"/>
<path d="M133.9,469.8l1.8,0.4l1.8,-1.3l-1.8,-0.7Z" color="#4539d9"/>
<path d="M132.2,466.9l1.8,0.7l1.7,2.6l-1.8,-0.4Z" color="#463ddf"/>
<path d="M130.4,461.5l1.8,0.8l1.8,5.3l-1.8,-0.7Z" color="#484bee"/>
<path d="M128.7,457.2l1.8,1.3l1.7,3.8l-1.8,-0.8Z" color="#475bf9"/>
<path d="M126.9,449.6l1.8,1.7l1.8,7.2l-1.8,-1.3Z" color="#3f6eff"/>
<path d="M125.2,442.5l1.8,2l1.7,6.8l-1.8,-1.7Z" color="#2e86f7"/>
<path d="M123.4,435.2l1.8,2.7l1.8,6.6l-1.8,-2Z" color="#269be8"/>
<path d="M121.7,428.1l1.8,3.1l1.7,6.7l-1.8,-2.7Z" color="#19acdc"/>
<path d="M119.9,420.9l1.8,3.6l1.8,6.7l-1.8,-3.1Z" color="#02bac5"/>
<path d="M118.2,413.8l1.8,3.9l1.7,6.8l-1.8,-3.6Z" color="#29c3a9"/>
<path d="M116.4,407.3l1.8,4l1.8,6.4l-1.8,-3.9Z" color="#45cb89"/>
<path d="M114.7,402.2l1.8,3.8l1.7,5.3l-1.8,-4Z" color="#71cd64"/>
<path d="M112.9,397.7l1.8,4l1.8,4.3l-1.8,-3.8Z" color="#9bc945"/>
<path d="M111.2,394.7l1.8,4.8l1.7,2.2l-1.8,-4Z" color="#b9c431"/>
<path d="M109.4,395.9l1.8,5.1l1.8,-1.5l-1.8,-4.8Z" color="#c2c22c"/>
<path d="M107.7,401.2l1.8,3.6l1.7,-3.8l-1.8,-5.1Z" color="#b5c533"/>
<path d="M105.9,405.8l1.8,3.1l1.8,-4.1l-1.8,-3.6Z" color="#9bc944"/>
<path d="M104.2,412l1.8,3.8l1.7,-6.9l-1.8,-3.1Z" color="#79cc5e"/>
<path d="M102.4,419.6l1.8,4.1l1.8,-7.9l-1.8,-3.8Z" color="#4ecc81"/>
<path d="M100.7,428.6l1.8,3.6l1.7,-8.5l-1.8,-4.1Z" color="#2fc5a3"/>
<path d="M98.9,438.4l1.8,3.2l1.8,-9.4l-1.8,-3.6Z" color="#05bbc1"/>
<path d="M97.2,449.4l1.8,3.1l1.7,-10.9l-1.8,-3.2Z" color="#1aabdd"/>
<path d="M95.4,461.8l1.8,1.9l1.8,-11.2l-1.8,-3.1Z" color="#2a93ee"/>
<path d="M93.7,470.3l1.8,1.7l1.7,-8.3l-1.8,-1.9Z" color="#3579fd"/>
<path d="M91.9,478.8l1.8,1l1.8,-7.8l-1.8,-1.7Z" color="#4562fc"/>
<path d="M90.2,486.9l1.8,0.8l1.7,-7.9l-1.8,-1Z" color="#484df0"/>
<path d="M88.4,492.1l1.8,0.7l1.8,-5.1l-1.8,-0.8Z" color="#463ddf"/>
<path d="M86.7,495.9l1.8,0.6l1.7,-3.7l-1.8,-0.7Z" color="#4434cf"/>
<path d="M84.9,497.6l1.8,0.8l1.8,-1.9l-1.8,-0.6Z" color="#4230c4"/>
<path d="M83.2,496.4l1.8,0.9l1.7,1.1l-1.8,-0.8Z" color="#4331c7"/>
<path d="M81.4,495l1.8,1.1l1.8,1.2l-1.8,-0.9Z" color="#4535d2"/>
<path d="M79.7,491l1.8,1.6l1.7,3.5l-1.8,-1.1Z" color="#463ee1"/>
<path d="M77.9,486.2l1.8,2.1l1.8,4.3l-1.8,-1.6Z" color="#484cf0"/>
<path d="M76.2,479.6l1.8,2.7l1.7,6l-1.8,-2.1Z" color="#465efb"/>
<path d="M74.4,471.5l1.8,3.1l1.8,7.7l-1.8,-2.7Z" color="#3776fe"/>
<path d="M72.7,463.1l1.8,3.4l1.7,8.1l-1.8,-3.1Z" color="#2c90f0"/>
<path d="M70.9,454.5l1.8,4.4l1.8,7.6l-1.8,-3.4Z" color="#1fa6e2"/>
<path d="M69.2,448.7l1.8,5l1.7,5.2l-1.8,-4.4Z" color="#07b5cf"/>
<path d="M67.4,444.5l1.8,4.9l1.8,4.3l-1.8,-5Z" color="#0cbdbc"/>
<path d="M162,399.9l2,5.5l1.8,1.4l-2.1,-5.3Z" color="#13beb8"/>
<path d="M160.2,398l2.1,5.7l1.7,1.7l-2,-5.5Z" color="#22c1af"/>
<path d="M158.5,398.7l2,5.7l1.8,-0.7l-2.1,-5.7Z" color="#28c3aa"/>
<path d="M156.7,402l2.1,5.6l1.7,-3.2l-2,-5.7Z" color="#24c1ae"/>
<path d="M155,405.6l2,5.7l1.8,-3.7l-2.1,-5.6Z" color="#15bfb8"/>
<path d="M153.2,412.3l2.1,5.4l1.7,-6.4l-2,-5.7Z" color="#01b9c6"/>
<path d="M151.5,419.6l2,5.6l1.8,-7.5l-2.1,-5.4Z" color="#15afd9"/>
<path d="M149.7,428l2.1,4.2l1.7,-7l-2,-5.6Z" color="#23a0e5"/>
<path d="M148,437.1l2,3.5l1.8,-8.4l-2.1,-4.2Z" color="#2c8ef2"/>
<path d="M146.2,445.6l2.1,3l1.7,-8l-2,-3.5Z" color="#3678fd"/>
<path d="M144.5,453.1l2,2.1l1.8,-6.6l-2.1,-3Z" color="#4563fd"/>
<path d="M142.7,458.5l2.1,1.8l1.7,-5.1l-2,-2.1Z" color="#4854f5"/>
<path d="M141,463.3l2,1.5l1.8,-4.5l-2.1,-1.8Z" color="#4848ec"/>
<path d="M139.2,466.8l2.1,1l1.7,-3l-2,-1.5Z" color="#473fe3"/>
<path d="M137.5,468.9l2,0.6l1.8,-1.7l-2.1,-1Z" color="#463adc"/>
<path d="M135.7,470.2l2.1,0.5l1.7,-1.2l-2,-0.6Z" color="#4539d8"/>
<path d="M134,467.6l2,0.8l1.8,2.3l-2.1,-0.5Z" color="#463cdf"/>
<path d="M132.2,462.3l2.1,0.8l1.7,5.3l-2,-0.8Z" color="#484aee"/>
<path d="M130.5,458.5l2,1.2l1.8,3.4l-2.1,-0.8Z" color="#4759f8"/>
<path d="M128.7,451.3l2.1,1.8l1.7,6.6l-2,-1.2Z" color="#416bfe"/>
<path d="M127,444.5l2,2l1.8,6.6l-2.1,-1.8Z" color="#2f82f9"/>
<path d="M125.2,437.9l2.1,2.7l1.7,5.9l-2,-2Z" color="#2896eb"/>
<path d="M123.5,431.2l2,3l1.8,6.4l-2.1,-2.7Z" color="#1ea7e1"/>
<path d="M121.7,424.5l2.1,3.6l1.7,6.1l-2,-3Z" color="#06b5ce"/>
<path d="M120,417.7l2,4l1.8,6.4l-2.1,-3.6Z" color="#19bfb6"/>
<path d="M118.2,411.3l2.1,4.2l1.7,6.2l-2,-4Z" color="#35c799"/>
<path d="M116.5,406l2,3.9l1.8,5.6l-2.1,-4.2Z" color="#59cc79"/>
<path d="M114.7,401.7l2.1,3.9l1.7,4.3l-2,-3.9Z" color="#81cc58"/>
<path d="M113,399.5l2,4.4l1.8,1.7l-2.1,-3.9Z" color="#9ec942"/>
<path d="M111.2,401l2.1,4l1.7,-1.1l-2,-4.4Z" color="#a7c73c"/>
<path d="M109.5,404.8l2,2.9l1.8,-2.7l-2.1,-4Z" color="#9cc943"/>
<path d="M107.7,408.9l2.1,3.1l1.7,-4.3l-2,-2.9Z" color="#88cb54"/>
<path d="M106,415.8l2,3.7l1.8,-7.5l-2.1,-3.1Z" color="#64cd6f"/>
<path d="M104.2,423.7l2.1,3.9l1.7,-8.1l-2,-3.7Z" color="#3cc992"/>
<path d="M102.5,432.2l2,3.5l1.8,-8.1l-2.1,-3.9Z" color="#23c1af"/>
<path d="M100.7,441.6l2.1,3.3l1.7,-9.2l-2,-3.5Z" color="#02b7cb"/>
<path d="M99,452.5l2,3.3l1.8,-10.9l-2.1,-3.3Z" color="#1fa5e2"/>
<path d="M97.2,463.7l2.1,1.7l1.7,-9.6l-2,-3.3Z" color="#2d8df2"/>
<path d="M95.5,472l2,2l1.8,-8.6l-2.1,-1.7Z" color="#3974fe"/>
<path d="M93.7,479.8l2.1,1.2l1.7,-7l-2,-2Z" color="#465ffb"/>
<path d="M92,487.7l2,0.8l1.8,-7.5l-2.1,-1.2Z" color="#484cef"/>
<path d="M90.2,492.8l2.1,0.8l1.7,-5.1l-2,-0.8Z" color="#463cde"/>
<path d="M88.5,496.5l2,0.6l1.8,-3.5l-2.1,-0.8Z" color="#4433cd"/>
<path d="M86.7,498.4l2.1,0.8l1.7,-2.1l-2,-0.6Z" color="#422fc2"/>
<path d="M85,497.3l2,1l1.8,0.9l-2.1,-0.8Z" color="#4230c4"/>
<path d="M83.2,496.1l2.1,1.2l1.7,1l-2,-1Z" color="#4434cf"/>
<path d="M81.5,492.6l2,1.6l1.8,3.1l-2.1,-1.2Z" color="#463bdd"/>
<path d="M79.7,488.3l2.1,2.3l1.7,3.6l-2,-1.6Z" color="#4848ec"/>
<path d="M78,482.3l2,2.7l1.8,5.6l-2.1,-2.3Z" color="#4759f8"/>
<path d="M76.2,474.6l2.1,3.2l1.7,7.2l-2,-2.7Z" color="#3f6fff"/>
<path d="M74.5,466.5l2,3.5l1.8,7.8l-2.1,-3.2Z" color="#2d88f6"/>
<path d="M72.7,458.9l2.1,4.6l1.7,6.5l-2,-3.5Z" color="#249ee6"/>
<path d="M71,453.7l2,4.8l1.8,5l-2.1,-4.6Z" color="#18addb"/>
<path d="M69.2,449.4l2.1,5.1l1.7,4l-2,-4.8Z" color="#02b7cb"/>
<path d="M164,405.4l2.2,5.7l1.8,1.4l-2.2,-5.7Z" color="#01b8ca"/>
<path d="M162.3,403.7l2.2,5.8l1.7,1.6l-2.2,-5.7Z" color="#04bbc2"/>
<path d="M160.5,404.4l2.2,5.8l1.8,-0.7l-2.2,-5.8Z" color="#0abdbd"/>
<path d="M158.8,407.6l2.2,5.9l1.7,-3.3l-2.2,-5.8Z" color="#05bbc1"/>
<path d="M157,411.3l2.2,5.9l1.8,-3.7l-2.2,-5.9Z" color="#01b8ca"/>
<path d="M155.3,417.7l2.2,6l1.7,-6.5l-2.2,-5.9Z" color="#12b1d7"/>
<path d="M153.5,425.2l2.2,5.2l1.8,-6.7l-2.2,-6Z" color="#20a4e3"/>
<path d="M151.8,432.2l2.2,4.3l1.7,-6.1l-2.2,-5.2Z" color="#2896ec"/>
<path d="M150,440.6l2.2,3.5l1.8,-7.6l-2.2,-4.3Z" color="#2e84f8"/>
<path d="M148.3,448.6l2.2,2.8l1.7,-7.3l-2.2,-3.5Z" color="#3e6fff"/>
<path d="M146.5,455.2l2.2,2.1l1.8,-5.9l-2.2,-2.8Z" color="#465dfa"/>
<path d="M144.8,460.3l2.2,1.9l1.7,-4.9l-2.2,-2.1Z" color="#484ff2"/>
<path d="M143,464.8l2.2,1.4l1.8,-4l-2.2,-1.9Z" color="#4745e9"/>
<path d="M141.3,467.8l2.2,1l1.7,-2.6l-2.2,-1.4Z" color="#463de0"/>
<path d="M139.5,469.5l2.2,0.7l1.8,-1.4l-2.2,-1Z" color="#4639da"/>
<path d="M137.8,470.7l2.2,0.5l1.7,-1l-2.2,-0.7Z" color="#4538d8"/>
<path d="M136,468.4l2.2,0.8l1.8,2l-2.2,-0.5Z" color="#463cde"/>
<path d="M134.3,463.1l2.2,0.9l1.7,5.2l-2.2,-0.8Z" color="#4849ed"/>
<path d="M132.5,459.7l2.2,1.2l1.8,3.1l-2.2,-0.9Z" color="#4757f7"/>
<path d="M130.8,453.1l2.2,2l1.7,5.8l-2.2,-1.2Z" color="#4368fd"/>
<path d="M129,446.5l2.2,2.1l1.8,6.5l-2.2,-2Z" color="#317efb"/>
<path d="M127.3,440.6l2.2,2.5l1.7,5.5l-2.2,-2.1Z" color="#2b91ef"/>
<path d="M125.5,434.2l2.2,3l1.8,5.9l-2.2,-2.5Z" color="#22a2e4"/>
<path d="M123.8,428.1l2.2,3.5l1.7,5.6l-2.2,-3Z" color="#13b1d7"/>
<path d="M122,421.7l2.2,4l1.8,5.9l-2.2,-3.5Z" color="#05bbc1"/>
<path d="M120.3,415.5l2.2,4.2l1.7,6l-2.2,-4Z" color="#2bc3a8"/>
<path d="M118.5,409.9l2.2,4.3l1.8,5.5l-2.2,-4.2Z" color="#42ca8b"/>
<path d="M116.8,405.6l2.2,3.9l1.7,4.7l-2.2,-4.3Z" color="#67cd6c"/>
<path d="M115,403.9l2.2,4.1l1.8,1.5l-2.2,-3.9Z" color="#84cc56"/>
<path d="M113.3,405l2.2,3.6l1.7,-0.6l-2.2,-4.1Z" color="#8dcb4f"/>
<path d="M111.5,407.7l2.2,3l1.8,-2.1l-2.2,-3.6Z" color="#87cb54"/>
<path d="M109.8,412l2.2,3.3l1.7,-4.6l-2.2,-3Z" color="#74cc62"/>
<path d="M108,419.5l2.2,3.6l1.8,-7.8l-2.2,-3.3Z" color="#51cc7f"/>
<path d="M106.3,427.6l2.2,3.8l1.7,-8.3l-2.2,-3.6Z" color="#31c6a0"/>
<path d="M104.5,435.7l2.2,3.5l1.8,-7.8l-2.2,-3.8Z" color="#0fbebb"/>
<path d="M102.8,444.9l2.2,3.3l1.7,-9l-2.2,-3.5Z" color="#0eb2d4"/>
<path d="M101,455.8l2.2,3.2l1.8,-10.8l-2.2,-3.3Z" color="#249fe6"/>
<path d="M99.3,465.4l2.2,1.6l1.7,-8l-2.2,-3.2Z" color="#2d88f6"/>
<path d="M97.5,474l2.2,1.9l1.8,-8.9l-2.2,-1.6Z" color="#3d70ff"/>
<path d="M95.8,481l2.2,1.4l1.7,-6.5l-2.2,-1.9Z" color="#475cfa"/>
<path d="M94,488.5l2.2,0.9l1.8,-7l-2.2,-1.4Z" color="#484aee"/>
<path d="M92.3,493.6l2.2,0.8l1.7,-5l-2.2,-0.9Z" color="#463bdd"/>
<path d="M90.5,497.1l2.2,0.6l1.8,-3.3l-2.2,-0.8Z" color="#4433cc"/>
<path d="M88.8,499.2l2.2,0.8l1.7,-2.3l-2.2,-0.6Z" color="#422fc1"/>
<path d="M87,498.3l2.2,1l1.8,0.7l-2.2,-0.8Z" color="#422fc2"/>
<path d="M85.3,497.3l2.2,1.1l1.7,0.9l-2.2,-1Z" color="#4433cc"/>
<path d="M83.5,494.2l2.2,1.7l1.8,2.5l-2.2,-1.1Z" color="#4639d9"/>
<path d="M81.8,490.6l2.2,2.2l1.7,3.1l-2.2,-1.7Z" color="#4744e8"/>
<path d="M80,485l2.2,2.8l1.8,5l-2.2,-2.2Z" color="#4853f5"/>
<path d="M78.3,477.8l2.2,3.5l1.7,6.5l-2.2,-2.8Z" color="#4367fd"/>
<path d="M76.5,470l2.2,3.7l1.8,7.6l-2.2,-3.5Z" color="#3080fa"/>
<path d="M74.8,463.5l2.2,4.4l1.7,5.8l-2.2,-3.7Z" color="#2895ec"/>
<path d="M73,458.5l2.2,4.7l1.8,4.7l-2.2,-4.4Z" color="#20a4e3"/>
<path d="M71.3,454.5l2.2,5.4l1.7,3.3l-2.2,-4.7Z" color="#15afd9"/>
<path d="M166.2,411.1l2.4,6l1.8,1.2l-2.4,-5.8Z" color="#16afd9"/>
<path d="M164.5,409.5l2.4,6.1l1.7,1.5l-2.4,-6Z" color="#0cb3d3"/>
<path d="M162.7,410.2l2.4,6.3l1.8,-0.9l-2.4,-6.1Z" color="#07b5cf"/>
<path d="M161,413.5l2.4,6.2l1.7,-3.2l-2.4,-6.3Z" color="#0cb3d3"/>
<path d="M159.2,417.2l2.4,6l1.8,-3.5l-2.4,-6.2Z" color="#17aeda"/>
<path d="M157.5,423.7l2.4,5.5l1.7,-6l-2.4,-6Z" color="#1fa5e2"/>
<path d="M155.7,430.4l2.4,4.9l1.8,-6.1l-2.4,-5.5Z" color="#2698ea"/>
<path d="M154,436.5l2.4,4.2l1.7,-5.4l-2.4,-4.9Z" color="#2d8bf4"/>
<path d="M152.2,444.1l2.4,3.3l1.8,-6.7l-2.4,-4.2Z" color="#337bfc"/>
<path d="M150.5,451.4l2.4,2.6l1.7,-6.6l-2.4,-3.3Z" color="#4368fd"/>
<path d="M148.7,457.3l2.4,2.1l1.8,-5.4l-2.4,-2.6Z" color="#4758f8"/>
<path d="M147,462.2l2.4,1.7l1.7,-4.5l-2.4,-2.1Z" color="#484bef"/>
<path d="M145.2,466.2l2.4,1.3l1.8,-3.6l-2.4,-1.7Z" color="#4742e6"/>
<path d="M143.5,468.8l2.4,1.1l1.7,-2.4l-2.4,-1.3Z" color="#463bdd"/>
<path d="M141.7,470.2l2.4,0.8l1.8,-1.1l-2.4,-1.1Z" color="#4539d8"/>
<path d="M140,471.2l2.4,0.5l1.7,-0.7l-2.4,-0.8Z" color="#4538d8"/>
<path d="M138.2,469.2l2.4,0.9l1.8,1.6l-2.4,-0.5Z" color="#463bdd"/>
<path d="M136.5,464l2.4,0.9l1.7,5.2l-2.4,-0.9Z" color="#4848ec"/>
<path d="M134.7,460.9l2.4,1.1l1.8,2.9l-2.4,-0.9Z" color="#4756f7"/>
<path d="M133,455.1l2.4,2l1.7,4.9l-2.4,-1.1Z" color="#4464fd"/>
<path d="M131.2,448.6l2.4,2.1l1.8,6.4l-2.4,-2Z" color="#3479fd"/>
<path d="M129.5,443.1l2.4,2.3l1.7,5.3l-2.4,-2.1Z" color="#2d8df2"/>
<path d="M127.7,437.2l2.4,3l1.8,5.2l-2.4,-2.3Z" color="#259de7"/>
<path d="M126,431.6l2.4,3.2l1.7,5.4l-2.4,-3Z" color="#1aabdd"/>
<path d="M124.2,425.7l2.4,3.9l1.8,5.2l-2.4,-3.2Z" color="#03b7cb"/>
<path d="M122.5,419.7l2.4,4.2l1.7,5.7l-2.4,-3.9Z" color="#19bfb5"/>
<path d="M120.7,414.2l2.4,4.4l1.8,5.3l-2.4,-4.2Z" color="#33c79c"/>
<path d="M119,409.5l2.4,4.3l1.7,4.8l-2.4,-4.4Z" color="#4fcc80"/>
<path d="M117.2,408l2.4,4.2l1.8,1.6l-2.4,-4.3Z" color="#69cd6b"/>
<path d="M115.5,408.6l2.4,3.9l1.7,-0.3l-2.4,-4.2Z" color="#73cd62"/>
<path d="M113.7,410.7l2.4,3.7l1.8,-1.9l-2.4,-3.9Z" color="#71cd64"/>
<path d="M112,415.3l2.4,3.9l1.7,-4.8l-2.4,-3.7Z" color="#5fcd73"/>
<path d="M110.2,423.1l2.4,3.8l1.8,-7.7l-2.4,-3.9Z" color="#3eca8f"/>
<path d="M108.5,431.4l2.4,3.8l1.7,-8.3l-2.4,-3.8Z" color="#26c2ac"/>
<path d="M106.7,439.2l2.4,3.6l1.8,-7.6l-2.4,-3.8Z" color="#01bac6"/>
<path d="M105,448.2l2.4,3.4l1.7,-8.8l-2.4,-3.6Z" color="#19addc"/>
<path d="M103.2,459l2.4,2.8l1.8,-10.2l-2.4,-3.4Z" color="#2698ea"/>
<path d="M101.5,467l2.4,1.9l1.7,-7.1l-2.4,-2.8Z" color="#2e83f9"/>
<path d="M99.7,475.9l2.4,1.8l1.8,-8.8l-2.4,-1.9Z" color="#406cfe"/>
<path d="M98,482.4l2.4,1.5l1.7,-6.2l-2.4,-1.8Z" color="#4758f8"/>
<path d="M96.2,489.4l2.4,0.9l1.8,-6.4l-2.4,-1.5Z" color="#4848ec"/>
<path d="M94.5,494.4l2.4,0.9l1.7,-5l-2.4,-0.9Z" color="#463adb"/>
<path d="M92.7,497.7l2.4,0.8l1.8,-3.2l-2.4,-0.9Z" color="#4332cb"/>
<path d="M91,500l2.4,0.7l1.7,-2.2l-2.4,-0.8Z" color="#422ec0"/>
<path d="M89.2,499.3l2.4,1.1l1.8,0.3l-2.4,-0.7Z" color="#422ec0"/>
<path d="M87.5,498.4l2.4,1.2l1.7,0.8l-2.4,-1.1Z" color="#4332c8"/>
<path d="M85.7,495.9l2.4,1.6l1.8,2.1l-2.4,-1.2Z" color="#4537d5"/>
<path d="M84,492.8l2.4,2.1l1.7,2.6l-2.4,-1.6Z" color="#4740e3"/>
<path d="M82.2,487.8l2.4,2.8l1.8,4.3l-2.4,-2.1Z" color="#484df0"/>
<path d="M80.5,481.3l2.4,3.5l1.7,5.8l-2.4,-2.8Z" color="#465ffb"/>
<path d="M78.7,473.7l2.4,4.1l1.8,7l-2.4,-3.5Z" color="#3876fe"/>
<path d="M77,467.9l2.4,4.2l1.7,5.7l-2.4,-4.1Z" color="#2d8bf3"/>
<path d="M75.2,463.2l2.4,5l1.8,3.9l-2.4,-4.2Z" color="#269be8"/>
<path d="M73.5,459.9l2.4,5.7l1.7,2.6l-2.4,-5Z" color="#1fa5e2"/>
<path d="M168.6,417.1l2.6,6l1.7,0.9l-2.5,-5.7Z" color="#21a3e3"/>
<path d="M166.9,415.6l2.5,6.4l1.8,1.1l-2.6,-6Z" color="#1da8e0"/>
<path d="M165.1,416.5l2.6,6.4l1.7,-0.9l-2.5,-6.4Z" color="#1baadf"/>
<path d="M163.4,419.7l2.5,6.1l1.8,-2.9l-2.6,-6.4Z" color="#1ea8e1"/>
<path d="M161.6,423.2l2.6,5.8l1.7,-3.2l-2.5,-6.1Z" color="#22a2e4"/>
<path d="M159.9,429.2l2.5,5.3l1.8,-5.5l-2.6,-5.8Z" color="#2699e9"/>
<path d="M158.1,435.3l2.6,4.6l1.7,-5.4l-2.5,-5.3Z" color="#2d8df2"/>
<path d="M156.4,440.7l2.5,4.2l1.8,-5l-2.6,-4.6Z" color="#3080fa"/>
<path d="M154.6,447.4l2.6,3.3l1.7,-5.8l-2.5,-4.2Z" color="#3d71ff"/>
<path d="M152.9,454l2.5,2.5l1.8,-5.8l-2.6,-3.3Z" color="#4661fc"/>
<path d="M151.1,459.4l2.6,2.1l1.7,-5l-2.5,-2.5Z" color="#4853f5"/>
<path d="M149.4,463.9l2.5,1.8l1.8,-4.2l-2.6,-2.1Z" color="#4747ec"/>
<path d="M147.6,467.5l2.6,1.3l1.7,-3.1l-2.5,-1.8Z" color="#473fe2"/>
<path d="M145.9,469.9l2.5,1l1.8,-2.1l-2.6,-1.3Z" color="#463ada"/>
<path d="M144.1,471l2.6,0.9l1.7,-1l-2.5,-1Z" color="#4538d7"/>
<path d="M142.4,471.7l2.5,0.6l1.8,-0.4l-2.6,-0.9Z" color="#4538d7"/>
<path d="M140.6,470.1l2.6,0.9l1.7,1.3l-2.5,-0.6Z" color="#463bdd"/>
<path d="M138.9,464.9l2.5,0.9l1.8,5.2l-2.6,-0.9Z" color="#4747eb"/>
<path d="M137.1,462l2.6,1l1.7,2.8l-2.5,-0.9Z" color="#4755f6"/>
<path d="M135.4,457.1l2.5,2l1.8,3.9l-2.6,-1Z" color="#4562fc"/>
<path d="M133.6,450.7l2.6,2.1l1.7,6.3l-2.5,-2Z" color="#3975fe"/>
<path d="M131.9,445.4l2.5,2.2l1.8,5.2l-2.6,-2.1Z" color="#2d88f6"/>
<path d="M130.1,440.2l2.6,2.8l1.7,4.6l-2.5,-2.2Z" color="#2798ea"/>
<path d="M128.4,434.8l2.5,3.2l1.8,5l-2.6,-2.8Z" color="#1fa6e2"/>
<path d="M126.6,429.6l2.6,3.6l1.7,4.8l-2.5,-3.2Z" color="#0fb2d4"/>
<path d="M124.9,423.9l2.5,4.3l1.8,5l-2.6,-3.6Z" color="#05bbc1"/>
<path d="M123.1,418.6l2.6,4.3l1.7,5.3l-2.5,-4.3Z" color="#28c2ab"/>
<path d="M121.4,413.8l2.5,4.4l1.8,4.7l-2.6,-4.3Z" color="#3bc993"/>
<path d="M119.6,412.2l2.6,4.4l1.7,1.6l-2.5,-4.4Z" color="#50cc7f"/>
<path d="M117.9,412.5l2.5,4.4l1.8,-0.3l-2.6,-4.4Z" color="#5acc77"/>
<path d="M116.1,414.4l2.6,4.9l1.7,-2.4l-2.5,-4.4Z" color="#58cc79"/>
<path d="M114.4,419.2l2.5,4.3l1.8,-4.2l-2.6,-4.9Z" color="#48cb86"/>
<path d="M112.6,426.9l2.6,4.2l1.7,-7.6l-2.5,-4.3Z" color="#32c69e"/>
<path d="M110.9,435.2l2.5,3.7l1.8,-7.8l-2.6,-4.2Z" color="#13beb8"/>
<path d="M109.1,442.8l2.6,3.5l1.7,-7.4l-2.5,-3.7Z" color="#07b5d0"/>
<path d="M107.4,451.6l2.5,3.5l1.8,-8.8l-2.6,-3.5Z" color="#1fa6e1"/>
<path d="M105.6,461.8l2.6,2.3l1.7,-9l-2.5,-3.5Z" color="#2a92ee"/>
<path d="M103.9,468.9l2.5,2.1l1.8,-6.9l-2.6,-2.3Z" color="#317efb"/>
<path d="M102.1,477.7l2.6,1.5l1.7,-8.2l-2.5,-2.1Z" color="#4368fe"/>
<path d="M100.4,483.9l2.5,1.6l1.8,-6.3l-2.6,-1.5Z" color="#4755f6"/>
<path d="M98.6,490.3l2.6,1l1.7,-5.8l-2.5,-1.6Z" color="#4746ea"/>
<path d="M96.9,495.3l2.5,0.9l1.8,-4.9l-2.6,-1Z" color="#4639d9"/>
<path d="M95.1,498.5l2.6,0.7l1.7,-3l-2.5,-0.9Z" color="#4332c9"/>
<path d="M93.4,500.7l2.5,0.8l1.8,-2.3l-2.6,-0.7Z" color="#422ebf"/>
<path d="M91.6,500.4l2.6,1.1l1.7,0l-2.5,-0.8Z" color="#412ebe"/>
<path d="M89.9,499.6l2.5,1.2l1.8,0.7l-2.6,-1.1Z" color="#4330c5"/>
<path d="M88.1,497.5l2.6,1.7l1.7,1.6l-2.5,-1.2Z" color="#4435d1"/>
<path d="M86.4,494.9l2.5,2l1.8,2.3l-2.6,-1.7Z" color="#463cdf"/>
<path d="M84.6,490.6l2.6,2.9l1.7,3.4l-2.5,-2Z" color="#4848ec"/>
<path d="M82.9,484.8l2.5,3.5l1.8,5.2l-2.6,-2.9Z" color="#4758f8"/>
<path d="M81.1,477.8l2.6,4.6l1.7,5.9l-2.5,-3.5Z" color="#416cfe"/>
<path d="M79.4,472.1l2.5,4.4l1.8,5.9l-2.6,-4.6Z" color="#2f81fa"/>
<path d="M77.6,468.2l2.6,4.9l1.7,3.4l-2.5,-4.4Z" color="#2b90f0"/>
<path d="M75.9,465.6l2.5,5.4l1.8,2.1l-2.6,-4.9Z" color="#269ae8"/>
<path d="M171.2,423.1l2.7,5.7l1.8,0.8l-2.8,-5.6Z" color="#2797eb"/>
<path d="M169.4,422l2.8,5.9l1.7,0.9l-2.7,-5.7Z" color="#259be8"/>
<path d="M167.7,422.9l2.7,5.9l1.8,-0.9l-2.8,-5.9Z" color="#249de6"/>
<path d="M165.9,425.8l2.8,5.9l1.7,-2.9l-2.7,-5.9Z" color="#269be8"/>
<path d="M164.2,429l2.7,5.8l1.8,-3.1l-2.8,-5.9Z" color="#2895ec"/>
<path d="M162.4,434.5l2.8,5l1.7,-4.7l-2.7,-5.8Z" color="#2d8df2"/>
<path d="M160.7,439.9l2.7,4.5l1.8,-4.9l-2.8,-5Z" color="#2f81fa"/>
<path d="M158.9,444.9l2.8,4l1.7,-4.5l-2.7,-4.5Z" color="#3974fe"/>
<path d="M157.2,450.7l2.7,3.1l1.8,-4.9l-2.8,-4Z" color="#4368fd"/>
<path d="M155.4,456.5l2.8,2.4l1.7,-5.1l-2.7,-3.1Z" color="#475af9"/>
<path d="M153.7,461.5l2.7,2l1.8,-4.6l-2.8,-2.4Z" color="#484ef1"/>
<path d="M151.9,465.7l2.8,1.6l1.7,-3.8l-2.7,-2Z" color="#4744e8"/>
<path d="M150.2,468.8l2.7,1.3l1.8,-2.8l-2.8,-1.6Z" color="#463cdf"/>
<path d="M148.4,470.9l2.8,1.1l1.7,-1.9l-2.7,-1.3Z" color="#4538d8"/>
<path d="M146.7,471.9l2.7,0.8l1.8,-0.7l-2.8,-1.1Z" color="#4537d5"/>
<path d="M144.9,472.3l2.8,0.6l1.7,-0.2l-2.7,-0.8Z" color="#4537d7"/>
<path d="M143.2,471l2.7,1l1.8,0.9l-2.8,-0.6Z" color="#463bdc"/>
<path d="M141.4,465.8l2.8,1l1.7,5.2l-2.7,-1Z" color="#4746ea"/>
<path d="M139.7,463l2.7,1.1l1.8,2.7l-2.8,-1Z" color="#4854f5"/>
<path d="M137.9,459.1l2.8,1.9l1.7,3.1l-2.7,-1.1Z" color="#465ffb"/>
<path d="M136.2,452.8l2.7,2.1l1.8,6.1l-2.8,-1.9Z" color="#3d70ff"/>
<path d="M134.4,447.6l2.8,2.2l1.7,5.1l-2.7,-2.1Z" color="#2e84f8"/>
<path d="M132.7,443l2.7,2.7l1.8,4.1l-2.8,-2.2Z" color="#2a93ee"/>
<path d="M130.9,438l2.8,3.1l1.7,4.6l-2.7,-2.7Z" color="#23a0e5"/>
<path d="M129.2,433.2l2.7,3.3l1.8,4.6l-2.8,-3.1Z" color="#19addc"/>
<path d="M127.4,428.2l2.8,3.9l1.7,4.4l-2.7,-3.3Z" color="#03b7cc"/>
<path d="M125.7,422.9l2.7,4.3l1.8,4.9l-2.8,-3.9Z" color="#14beb8"/>
<path d="M123.9,418.2l2.8,4.5l1.7,4.5l-2.7,-4.3Z" color="#2fc5a3"/>
<path d="M122.2,416.6l2.7,4.5l1.8,1.6l-2.8,-4.5Z" color="#3bc992"/>
<path d="M120.4,416.9l2.8,4.8l1.7,-0.6l-2.7,-4.5Z" color="#42ca8c"/>
<path d="M118.7,419.3l2.7,5.5l1.8,-3.1l-2.8,-4.8Z" color="#3eca8f"/>
<path d="M116.9,423.5l2.8,4.7l1.7,-3.4l-2.7,-5.5Z" color="#35c79a"/>
<path d="M115.2,431.1l2.7,4.5l1.8,-7.4l-2.8,-4.7Z" color="#26c2ad"/>
<path d="M113.4,438.9l2.8,3.5l1.7,-6.8l-2.7,-4.5Z" color="#02bac4"/>
<path d="M111.7,446.3l2.7,3.6l1.8,-7.5l-2.8,-3.5Z" color="#14b0d8"/>
<path d="M109.9,455.1l2.8,3.3l1.7,-8.5l-2.7,-3.6Z" color="#23a0e5"/>
<path d="M108.2,464.1l2.7,2.2l1.8,-7.9l-2.8,-3.3Z" color="#2d8cf3"/>
<path d="M106.4,471l2.8,2.4l1.7,-7.1l-2.7,-2.2Z" color="#3579fd"/>
<path d="M104.7,479.2l2.7,1.5l1.8,-7.3l-2.8,-2.4Z" color="#4465fd"/>
<path d="M102.9,485.5l2.8,1.6l1.7,-6.4l-2.7,-1.5Z" color="#4853f4"/>
<path d="M101.2,491.3l2.7,0.9l1.8,-5.1l-2.8,-1.6Z" color="#4744e8"/>
<path d="M99.4,496.2l2.8,1l1.7,-5l-2.7,-0.9Z" color="#4538d8"/>
<path d="M97.7,499.2l2.7,0.8l1.8,-2.8l-2.8,-1Z" color="#4331c8"/>
<path d="M95.9,501.5l2.8,0.7l1.7,-2.2l-2.7,-0.8Z" color="#412ebe"/>
<path d="M94.2,501.5l2.7,1.1l1.8,-0.4l-2.8,-0.7Z" color="#412dbc"/>
<path d="M92.4,500.8l2.8,1.2l1.7,0.6l-2.7,-1.1Z" color="#422fc2"/>
<path d="M90.7,499.2l2.7,1.6l1.8,1.2l-2.8,-1.2Z" color="#4433cd"/>
<path d="M88.9,496.9l2.8,1.9l1.7,2l-2.7,-1.6Z" color="#4639da"/>
<path d="M87.2,493.5l2.7,2.7l1.8,2.6l-2.8,-1.9Z" color="#4743e7"/>
<path d="M85.4,488.3l2.8,3.4l1.7,4.5l-2.7,-2.7Z" color="#4850f3"/>
<path d="M83.7,482.4l2.7,4.6l1.8,4.7l-2.8,-3.4Z" color="#4561fc"/>
<path d="M81.9,476.5l2.8,4.9l1.7,5.6l-2.7,-4.6Z" color="#3975fe"/>
<path d="M80.2,473.1l2.7,5.1l1.8,3.2l-2.8,-4.9Z" color="#2e85f8"/>
<path d="M78.4,471l2.8,5.2l1.7,2l-2.7,-5.1Z" color="#2c8ef1"/>
<path d="M173.9,428.8l2.9,5.5l1.8,0.6l-2.9,-5.3Z" color="#2d8af4"/>
<path d="M172.2,427.9l2.9,5.5l1.7,0.9l-2.9,-5.5Z" color="#2c8ef1"/>
<path d="M170.4,428.8l2.9,5.6l1.8,-1l-2.9,-5.5Z" color="#2b90ef"/>
<path d="M168.7,431.7l2.9,5.6l1.7,-2.9l-2.9,-5.6Z" color="#2c8ef2"/>
<path d="M166.9,434.8l2.9,5.3l1.8,-2.8l-2.9,-5.6Z" color="#2d88f6"/>
<path d="M165.2,439.5l2.9,4.8l1.7,-4.2l-2.9,-5.3Z" color="#2f80fa"/>
<path d="M163.4,444.4l2.9,4.3l1.8,-4.4l-2.9,-4.8Z" color="#3975fe"/>
<path d="M161.7,448.9l2.9,3.8l1.7,-4l-2.9,-4.3Z" color="#426afe"/>
<path d="M159.9,453.8l2.9,3.1l1.8,-4.2l-2.9,-3.8Z" color="#465ffb"/>
<path d="M158.2,458.9l2.9,2.4l1.7,-4.4l-2.9,-3.1Z" color="#4854f5"/>
<path d="M156.4,463.5l2.9,2l1.8,-4.2l-2.9,-2.4Z" color="#484aed"/>
<path d="M154.7,467.3l2.9,1.6l1.7,-3.4l-2.9,-2Z" color="#4740e4"/>
<path d="M152.9,470.1l2.9,1.3l1.8,-2.5l-2.9,-1.6Z" color="#463adb"/>
<path d="M151.2,472l2.9,1.1l1.7,-1.7l-2.9,-1.3Z" color="#4537d5"/>
<path d="M149.4,472.7l2.9,1l1.8,-0.6l-2.9,-1.1Z" color="#4536d3"/>
<path d="M147.7,472.9l2.9,0.6l1.7,0.2l-2.9,-1Z" color="#4537d6"/>
<path d="M145.9,472l2.9,1l1.8,0.5l-2.9,-0.6Z" color="#463adb"/>
<path d="M144.2,466.8l2.9,1.1l1.7,5.1l-2.9,-1Z" color="#4745e9"/>
<path d="M142.4,464.1l2.9,1.1l1.8,2.7l-2.9,-1.1Z" color="#4852f4"/>
<path d="M140.7,461l2.9,1.5l1.7,2.7l-2.9,-1.1Z" color="#465dfa"/>
<path d="M138.9,454.9l2.9,2.2l1.8,5.4l-2.9,-1.5Z" color="#406cfe"/>
<path d="M137.2,449.8l2.9,2.2l1.7,5.1l-2.9,-2.2Z" color="#3080fb"/>
<path d="M135.4,445.7l2.9,2.4l1.8,3.9l-2.9,-2.2Z" color="#2c8ef1"/>
<path d="M133.7,441.1l2.9,2.9l1.7,4.1l-2.9,-2.4Z" color="#259be8"/>
<path d="M131.9,436.5l2.9,3.2l1.8,4.3l-2.9,-2.9Z" color="#1ea8e1"/>
<path d="M130.2,432.1l2.9,3.6l1.7,4l-2.9,-3.2Z" color="#0fb2d4"/>
<path d="M128.4,427.2l2.9,4.1l1.8,4.4l-2.9,-3.6Z" color="#02bac4"/>
<path d="M126.7,422.7l2.9,4.6l1.7,4l-2.9,-4.1Z" color="#20c1b1"/>
<path d="M124.9,421.1l2.9,4.8l1.8,1.4l-2.9,-4.6Z" color="#2fc5a3"/>
<path d="M123.2,421.7l2.9,5.1l1.7,-0.9l-2.9,-4.8Z" color="#32c69e"/>
<path d="M121.4,424.8l2.9,5.3l1.8,-3.3l-2.9,-5.1Z" color="#2fc5a3"/>
<path d="M119.7,428.2l2.9,5.2l1.7,-3.3l-2.9,-5.3Z" color="#27c2ac"/>
<path d="M117.9,435.6l2.9,4.3l1.8,-6.5l-2.9,-5.2Z" color="#0dbdbb"/>
<path d="M116.2,442.4l2.9,3.3l1.7,-5.8l-2.9,-4.3Z" color="#06b5cf"/>
<path d="M114.4,449.9l2.9,3.6l1.8,-7.8l-2.9,-3.3Z" color="#1caadf"/>
<path d="M112.7,458.4l2.9,3.1l1.7,-8l-2.9,-3.6Z" color="#2699e9"/>
<path d="M110.9,466.3l2.9,2.2l1.8,-7l-2.9,-3.1Z" color="#2e87f7"/>
<path d="M109.2,473.4l2.9,2.4l1.7,-7.3l-2.9,-2.2Z" color="#3a73fe"/>
<path d="M107.4,480.7l2.9,1.4l1.8,-6.3l-2.9,-2.4Z" color="#4561fc"/>
<path d="M105.7,487.1l2.9,1.7l1.7,-6.7l-2.9,-1.4Z" color="#4850f3"/>
<path d="M103.9,492.2l2.9,1l1.8,-4.4l-2.9,-1.7Z" color="#4742e6"/>
<path d="M102.2,497.2l2.9,1.1l1.7,-5.1l-2.9,-1Z" color="#4537d6"/>
<path d="M100.4,500l2.9,0.8l1.8,-2.5l-2.9,-1.1Z" color="#4331c6"/>
<path d="M98.7,502.2l2.9,0.7l1.7,-2.1l-2.9,-0.8Z" color="#412dbd"/>
<path d="M96.9,502.6l2.9,1.2l1.8,-0.9l-2.9,-0.7Z" color="#412cba"/>
<path d="M95.2,502l2.9,1.2l1.7,0.6l-2.9,-1.2Z" color="#422ebf"/>
<path d="M93.4,500.8l2.9,1.5l1.8,0.9l-2.9,-1.2Z" color="#4332c8"/>
<path d="M91.7,498.8l2.9,1.8l1.7,1.7l-2.9,-1.5Z" color="#4537d5"/>
<path d="M89.9,496.2l2.9,2.5l1.8,1.9l-2.9,-1.8Z" color="#473ee1"/>
<path d="M88.2,491.7l2.9,3.4l1.7,3.6l-2.9,-2.5Z" color="#484aed"/>
<path d="M86.4,487l2.9,4.1l1.8,4l-2.9,-3.4Z" color="#4758f8"/>
<path d="M84.7,481.4l2.9,5.4l1.7,4.3l-2.9,-4.1Z" color="#4368fe"/>
<path d="M82.9,478.2l2.9,5.3l1.8,3.3l-2.9,-5.4Z" color="#3677fe"/>
<path d="M81.2,476.2l2.9,5.1l1.7,2.2l-2.9,-5.3Z" color="#2f82f9"/>
<path d="M176.8,434.3l3.1,5.1l1.7,0.4l-3,-4.9Z" color="#317dfc"/>
<path d="M175.1,433.4l3,5.4l1.8,0.6l-3.1,-5.1Z" color="#2f82fa"/>
<path d="M173.3,434.4l3.1,5.3l1.7,-0.9l-3,-5.4Z" color="#2e84f9"/>
<path d="M171.6,437.3l3,5.2l1.8,-2.8l-3.1,-5.3Z" color="#2f81fa"/>
<path d="M169.8,440.1l3.1,5.1l1.7,-2.7l-3,-5.2Z" color="#337bfc"/>
<path d="M168.1,444.3l3,4.5l1.8,-3.6l-3.1,-5.1Z" color="#3b73fe"/>
<path d="M166.3,448.7l3.1,4.1l1.7,-4l-3,-4.5Z" color="#4269fe"/>
<path d="M164.6,452.7l3,3.7l1.8,-3.6l-3.1,-4.1Z" color="#4660fb"/>
<path d="M162.8,456.9l3.1,3.1l1.7,-3.6l-3,-3.7Z" color="#4757f7"/>
<path d="M161.1,461.3l3,2.3l1.8,-3.6l-3.1,-3.1Z" color="#484ef1"/>
<path d="M159.3,465.5l3.1,1.9l1.7,-3.8l-3,-2.3Z" color="#4745e9"/>
<path d="M157.6,468.9l3,1.5l1.8,-3l-3.1,-1.9Z" color="#463de0"/>
<path d="M155.8,471.4l3.1,1.4l1.7,-2.4l-3,-1.5Z" color="#4538d8"/>
<path d="M154.1,473.1l3,1.2l1.8,-1.5l-3.1,-1.4Z" color="#4535d2"/>
<path d="M152.3,473.7l3.1,0.9l1.7,-0.3l-3,-1.2Z" color="#4435d1"/>
<path d="M150.6,473.5l3,0.6l1.8,0.5l-3.1,-0.9Z" color="#4537d5"/>
<path d="M148.8,473l3.1,1.1l1.7,0l-3,-0.6Z" color="#463adb"/>
<path d="M147.1,467.9l3,1.1l1.8,5.1l-3.1,-1.1Z" color="#4744e8"/>
<path d="M145.3,465.2l3.1,1.1l1.7,2.7l-3,-1.1Z" color="#4851f4"/>
<path d="M143.6,462.5l3,1.4l1.8,2.4l-3.1,-1.1Z" color="#475bf9"/>
<path d="M141.8,457.1l3.1,2.1l1.7,4.7l-3,-1.4Z" color="#4369fe"/>
<path d="M140.1,452l3,2.3l1.8,4.9l-3.1,-2.1Z" color="#337bfc"/>
<path d="M138.3,448.1l3.1,2.3l1.7,3.9l-3,-2.3Z" color="#2d8af4"/>
<path d="M136.6,444l3,2.8l1.8,3.6l-3.1,-2.3Z" color="#2796eb"/>
<path d="M134.8,439.7l3.1,3l1.7,4.1l-3,-2.8Z" color="#22a2e4"/>
<path d="M133.1,435.7l3,3.1l1.8,3.9l-3.1,-3Z" color="#18addb"/>
<path d="M131.3,431.3l3.1,4l1.7,3.5l-3,-3.1Z" color="#05b6ce"/>
<path d="M129.6,427.3l3,4.9l1.8,3.1l-3.1,-4Z" color="#09bcbe"/>
<path d="M127.8,425.9l3.1,5.4l1.7,0.9l-3,-4.9Z" color="#1dc0b3"/>
<path d="M126.1,426.8l3,5.5l1.8,-1l-3.1,-5.4Z" color="#22c1af"/>
<path d="M124.3,430.1l3.1,5.4l1.7,-3.2l-3,-5.5Z" color="#1bc0b4"/>
<path d="M122.6,433.4l3,5.1l1.8,-3l-3.1,-5.4Z" color="#0cbdbc"/>
<path d="M120.8,439.9l3.1,3.7l1.7,-5.1l-3,-5.1Z" color="#01b8c9"/>
<path d="M119.1,445.7l3,3.4l1.8,-5.5l-3.1,-3.7Z" color="#13b0d7"/>
<path d="M117.3,453.5l3.1,3.7l1.7,-8.1l-3,-3.4Z" color="#21a3e3"/>
<path d="M115.6,461.5l3,2.7l1.8,-7l-3.1,-3.7Z" color="#2a92ee"/>
<path d="M113.8,468.5l3.1,2.4l1.7,-6.7l-3,-2.7Z" color="#2f81fa"/>
<path d="M112.1,475.8l3,2.2l1.8,-7.1l-3.1,-2.4Z" color="#3f6eff"/>
<path d="M110.3,482.1l3.1,1.3l1.7,-5.4l-3,-2.2Z" color="#465dfb"/>
<path d="M108.6,488.8l3,1.5l1.8,-6.9l-3.1,-1.3Z" color="#484ef1"/>
<path d="M106.8,493.2l3.1,1l1.7,-3.9l-3,-1.5Z" color="#4740e4"/>
<path d="M105.1,498.3l3,1.2l1.8,-5.3l-3.1,-1Z" color="#4536d4"/>
<path d="M103.3,500.8l3.1,0.9l1.7,-2.2l-3,-1.2Z" color="#4230c4"/>
<path d="M101.6,502.9l3,0.7l1.8,-1.9l-3.1,-0.9Z" color="#412dbd"/>
<path d="M99.8,503.8l3.1,1.1l1.7,-1.3l-3,-0.7Z" color="#412cb9"/>
<path d="M98.1,503.2l3,1.3l1.8,0.4l-3.1,-1.1Z" color="#412dbc"/>
<path d="M96.3,502.3l3.1,1.4l1.7,0.8l-3,-1.3Z" color="#4330c4"/>
<path d="M94.6,500.6l3,1.7l1.8,1.4l-3.1,-1.4Z" color="#4435d0"/>
<path d="M92.8,498.7l3.1,2.3l1.7,1.3l-3,-1.7Z" color="#463adc"/>
<path d="M91.1,495.1l3,3.1l1.8,2.8l-3.1,-2.3Z" color="#4743e7"/>
<path d="M89.3,491.1l3.1,3.8l1.7,3.3l-3,-3.1Z" color="#4850f2"/>
<path d="M87.6,486.8l3,4.8l1.8,3.3l-3.1,-3.8Z" color="#465dfa"/>
<path d="M85.8,483.5l3.1,5.2l1.7,2.9l-3,-4.8Z" color="#4269fe"/>
<path d="M84.1,481.3l3,5l1.8,2.4l-3.1,-5.2Z" color="#3974fe"/>
<path d="M179.9,439.4l3.2,5l1.7,0.2l-3.2,-4.8Z" color="#3e70ff"/>
<path d="M178.1,438.8l3.2,5.2l1.8,0.4l-3.2,-5Z" color="#3a74fe"/>
<path d="M176.4,439.7l3.2,5.1l1.7,-0.8l-3.2,-5.2Z" color="#3876fe"/>
<path d="M174.6,442.5l3.2,4.9l1.8,-2.6l-3.2,-5.1Z" color="#3b73fe"/>
<path d="M172.9,445.2l3.2,4.8l1.7,-2.6l-3.2,-4.9Z" color="#3f6dfe"/>
<path d="M171.1,448.8l3.2,4.4l1.8,-3.2l-3.2,-4.8Z" color="#4367fd"/>
<path d="M169.4,452.8l3.2,4.1l1.7,-3.7l-3.2,-4.4Z" color="#465ffb"/>
<path d="M167.6,456.4l3.2,3.7l1.8,-3.2l-3.2,-4.1Z" color="#4757f7"/>
<path d="M165.9,460l3.2,3l1.7,-2.9l-3.2,-3.7Z" color="#4850f2"/>
<path d="M164.1,463.6l3.2,2.3l1.8,-2.9l-3.2,-3Z" color="#4849ed"/>
<path d="M162.4,467.4l3.2,1.9l1.7,-3.4l-3.2,-2.3Z" color="#4741e5"/>
<path d="M160.6,470.4l3.2,1.5l1.8,-2.6l-3.2,-1.9Z" color="#463bdc"/>
<path d="M158.9,472.8l3.2,1.5l1.7,-2.4l-3.2,-1.5Z" color="#4536d5"/>
<path d="M157.1,474.3l3.2,1.3l1.8,-1.3l-3.2,-1.5Z" color="#4434cf"/>
<path d="M155.4,474.6l3.2,1.1l1.7,-0.1l-3.2,-1.3Z" color="#4434cf"/>
<path d="M153.6,474.1l3.2,0.7l1.8,0.9l-3.2,-1.1Z" color="#4537d5"/>
<path d="M151.9,474.1l3.2,1l1.7,-0.3l-3.2,-0.7Z" color="#4639da"/>
<path d="M150.1,469l3.2,1.1l1.8,5l-3.2,-1Z" color="#4742e7"/>
<path d="M148.4,466.3l3.2,1.1l1.7,2.7l-3.2,-1.1Z" color="#4850f3"/>
<path d="M146.6,463.9l3.2,1.3l1.8,2.2l-3.2,-1.1Z" color="#475af9"/>
<path d="M144.9,459.2l3.2,2l1.7,4l-3.2,-1.3Z" color="#4466fd"/>
<path d="M143.1,454.3l3.2,2.2l1.8,4.7l-3.2,-2Z" color="#3777fe"/>
<path d="M141.4,450.4l3.2,2.3l1.7,3.8l-3.2,-2.2Z" color="#2e86f7"/>
<path d="M139.6,446.8l3.2,2.7l1.8,3.2l-3.2,-2.3Z" color="#2b92ee"/>
<path d="M137.9,442.7l3.2,3.1l1.7,3.7l-3.2,-2.7Z" color="#249de7"/>
<path d="M136.1,438.8l3.2,2.9l1.8,4.1l-3.2,-3.1Z" color="#1da8e0"/>
<path d="M134.4,435.3l3.2,3.6l1.7,2.8l-3.2,-2.9Z" color="#11b1d6"/>
<path d="M132.6,432.2l3.2,4.7l1.8,2l-3.2,-3.6Z" color="#01b7ca"/>
<path d="M130.9,431.3l3.2,5.3l1.7,0.3l-3.2,-4.7Z" color="#03bbc2"/>
<path d="M129.1,432.3l3.2,5.4l1.8,-1.1l-3.2,-5.3Z" color="#06bcc0"/>
<path d="M127.4,435.5l3.2,4.9l1.7,-2.7l-3.2,-5.4Z" color="#02bac4"/>
<path d="M125.6,438.5l3.2,4.5l1.8,-2.6l-3.2,-4.9Z" color="#02b7cb"/>
<path d="M123.9,443.6l3.2,3.5l1.7,-4.1l-3.2,-4.5Z" color="#0db3d4"/>
<path d="M122.1,449.1l3.2,4.4l1.8,-6.4l-3.2,-3.5Z" color="#1caadf"/>
<path d="M120.4,457.2l3.2,3.5l1.7,-7.2l-3.2,-4.4Z" color="#259ce7"/>
<path d="M118.6,464.2l3.2,2.7l1.8,-6.2l-3.2,-3.5Z" color="#2d8cf3"/>
<path d="M116.9,470.9l3.2,2.5l1.7,-6.5l-3.2,-2.7Z" color="#327cfc"/>
<path d="M115.1,478l3.2,1.8l1.8,-6.4l-3.2,-2.5Z" color="#426afe"/>
<path d="M113.4,483.4l3.2,1.3l1.7,-4.9l-3.2,-1.8Z" color="#475bf9"/>
<path d="M111.6,490.3l3.2,1.6l1.8,-7.2l-3.2,-1.3Z" color="#484cef"/>
<path d="M109.9,494.2l3.2,1l1.7,-3.3l-3.2,-1.6Z" color="#473fe2"/>
<path d="M108.1,499.5l3.2,1.2l1.8,-5.5l-3.2,-1Z" color="#4535d2"/>
<path d="M106.4,501.7l3.2,0.8l1.7,-1.8l-3.2,-1.2Z" color="#422fc3"/>
<path d="M104.6,503.6l3.2,0.7l1.8,-1.8l-3.2,-0.8Z" color="#412dbc"/>
<path d="M102.9,504.9l3.2,1.1l1.7,-1.7l-3.2,-0.7Z" color="#402bb8"/>
<path d="M101.1,504.5l3.2,1.4l1.8,0.1l-3.2,-1.1Z" color="#412cb9"/>
<path d="M99.4,503.7l3.2,1.5l1.7,0.7l-3.2,-1.4Z" color="#422fc1"/>
<path d="M97.6,502.3l3.2,1.7l1.8,1.2l-3.2,-1.5Z" color="#4433cb"/>
<path d="M95.9,501l3.2,2.1l1.7,0.9l-3.2,-1.7Z" color="#4537d6"/>
<path d="M94.1,498.2l3.2,2.9l1.8,2l-3.2,-2.1Z" color="#463ee1"/>
<path d="M92.4,494.9l3.2,3.6l1.7,2.6l-3.2,-2.9Z" color="#4848ec"/>
<path d="M90.6,491.6l3.2,4.2l1.8,2.7l-3.2,-3.6Z" color="#4853f5"/>
<path d="M88.9,488.7l3.2,4.8l1.7,2.3l-3.2,-4.2Z" color="#465efb"/>
<path d="M87.1,486.3l3.2,4.9l1.8,2.3l-3.2,-4.8Z" color="#4367fd"/>
<path d="M183.1,444.4l3.4,4.6l1.7,0.1l-3.4,-4.5Z" color="#4564fd"/>
<path d="M181.3,444l3.4,4.9l1.8,0.1l-3.4,-4.6Z" color="#4367fd"/>
<path d="M179.6,444.8l3.4,4.8l1.7,-0.7l-3.4,-4.9Z" color="#4269fe"/>
<path d="M177.8,447.4l3.4,4.7l1.8,-2.5l-3.4,-4.8Z" color="#4466fd"/>
<path d="M176.1,450l3.4,4.6l1.7,-2.5l-3.4,-4.7Z" color="#4561fc"/>
<path d="M174.3,453.2l3.4,4.4l1.8,-3l-3.4,-4.6Z" color="#475cfa"/>
<path d="M172.6,456.9l3.4,4l1.7,-3.3l-3.4,-4.4Z" color="#4755f6"/>
<path d="M170.8,460.1l3.4,3.5l1.8,-2.7l-3.4,-4Z" color="#484ef1"/>
<path d="M169.1,463l3.4,2.8l1.7,-2.2l-3.4,-3.5Z" color="#4848ec"/>
<path d="M167.3,465.9l3.4,2.2l1.8,-2.3l-3.4,-2.8Z" color="#4743e7"/>
<path d="M165.6,469.3l3.4,1.8l1.7,-3l-3.4,-2.2Z" color="#463ee1"/>
<path d="M163.8,471.9l3.4,1.6l1.8,-2.4l-3.4,-1.8Z" color="#4538d8"/>
<path d="M162.1,474.3l3.4,1.6l1.7,-2.4l-3.4,-1.6Z" color="#4435d0"/>
<path d="M160.3,475.6l3.4,1.3l1.8,-1l-3.4,-1.6Z" color="#4433cb"/>
<path d="M158.6,475.7l3.4,1.1l1.7,0.1l-3.4,-1.3Z" color="#4433cd"/>
<path d="M156.8,474.8l3.4,0.7l1.8,1.3l-3.4,-1.1Z" color="#4536d4"/>
<path d="M155.1,475.1l3.4,1.1l1.7,-0.7l-3.4,-0.7Z" color="#4639d9"/>
<path d="M153.3,470.1l3.4,1.1l1.8,5l-3.4,-1.1Z" color="#4742e6"/>
<path d="M151.6,467.4l3.4,1.2l1.7,2.6l-3.4,-1.1Z" color="#484ff2"/>
<path d="M149.8,465.2l3.4,1.2l1.8,2.2l-3.4,-1.2Z" color="#4758f8"/>
<path d="M148.1,461.2l3.4,1.9l1.7,3.3l-3.4,-1.2Z" color="#4563fd"/>
<path d="M146.3,456.5l3.4,2.2l1.8,4.4l-3.4,-1.9Z" color="#3b72fe"/>
<path d="M144.6,452.7l3.4,2.4l1.7,3.6l-3.4,-2.2Z" color="#2f82fa"/>
<path d="M142.8,449.5l3.4,2.6l1.8,3l-3.4,-2.4Z" color="#2d8df2"/>
<path d="M141.1,445.8l3.4,3.2l1.7,3.1l-3.4,-2.6Z" color="#2798ea"/>
<path d="M139.3,441.7l3.4,3.1l1.8,4.2l-3.4,-3.2Z" color="#21a3e3"/>
<path d="M137.6,438.9l3.4,3.4l1.7,2.5l-3.4,-3.1Z" color="#19acdc"/>
<path d="M135.8,436.9l3.4,4.4l1.8,1l-3.4,-3.4Z" color="#0fb2d4"/>
<path d="M134.1,436.6l3.4,4.7l1.7,0l-3.4,-4.4Z" color="#07b5cf"/>
<path d="M132.3,437.7l3.4,4.8l1.8,-1.2l-3.4,-4.7Z" color="#06b5ce"/>
<path d="M130.6,440.4l3.4,4.5l1.7,-2.4l-3.4,-4.8Z" color="#0ab4d1"/>
<path d="M128.8,443l3.4,4.1l1.8,-2.2l-3.4,-4.5Z" color="#12b1d6"/>
<path d="M127.1,447.1l3.4,4l1.7,-4l-3.4,-4.1Z" color="#19acdc"/>
<path d="M125.3,453.5l3.4,5.3l1.8,-7.7l-3.4,-4Z" color="#22a2e4"/>
<path d="M123.6,460.7l3.4,3l1.7,-4.9l-3.4,-5.3Z" color="#2994ed"/>
<path d="M121.8,466.9l3.4,3.1l1.8,-6.3l-3.4,-3Z" color="#2e86f8"/>
<path d="M120.1,473.4l3.4,2.4l1.7,-5.8l-3.4,-3.1Z" color="#3876fe"/>
<path d="M118.3,479.8l3.4,1.6l1.8,-5.6l-3.4,-2.4Z" color="#4466fd"/>
<path d="M116.6,484.7l3.4,1.3l1.7,-4.6l-3.4,-1.6Z" color="#4759f8"/>
<path d="M114.8,491.9l3.4,1.5l1.8,-7.4l-3.4,-1.3Z" color="#484aee"/>
<path d="M113.1,495.2l3.4,1.1l1.7,-2.9l-3.4,-1.5Z" color="#463de0"/>
<path d="M111.3,500.7l3.4,1.3l1.8,-5.7l-3.4,-1.1Z" color="#4435d0"/>
<path d="M109.6,502.5l3.4,0.9l1.7,-1.4l-3.4,-1.3Z" color="#422fc1"/>
<path d="M107.8,504.3l3.4,0.7l1.8,-1.6l-3.4,-0.9Z" color="#412dbc"/>
<path d="M106.1,506l3.4,1l1.7,-2l-3.4,-0.7Z" color="#402bb7"/>
<path d="M104.3,505.9l3.4,1.3l1.8,-0.2l-3.4,-1Z" color="#402bb7"/>
<path d="M102.6,505.2l3.4,1.5l1.7,0.5l-3.4,-1.3Z" color="#412dbd"/>
<path d="M100.8,504l3.4,1.6l1.8,1.1l-3.4,-1.5Z" color="#4331c7"/>
<path d="M99.1,503.1l3.4,2l1.7,0.5l-3.4,-1.6Z" color="#4435d0"/>
<path d="M97.3,501.1l3.4,2.7l1.8,1.3l-3.4,-2Z" color="#4639da"/>
<path d="M95.6,498.5l3.4,3.4l1.7,1.9l-3.4,-2.7Z" color="#4741e5"/>
<path d="M93.8,495.8l3.4,3.9l1.8,2.2l-3.4,-3.4Z" color="#484aee"/>
<path d="M92.1,493.5l3.4,4.3l1.7,1.9l-3.4,-3.9Z" color="#4853f5"/>
<path d="M90.3,491.2l3.4,4.7l1.8,1.9l-3.4,-4.3Z" color="#475cfa"/>
<path d="M186.5,449l3.5,4.5l1.7,-0.1l-3.5,-4.3Z" color="#4759f8"/>
<path d="M184.7,448.9l3.5,4.5l1.8,0.1l-3.5,-4.5Z" color="#475cfa"/>
<path d="M183,449.6l3.5,4.7l1.7,-0.9l-3.5,-4.5Z" color="#465dfa"/>
<path d="M181.2,452.1l3.5,4.6l1.8,-2.4l-3.5,-4.7Z" color="#475bf9"/>
<path d="M179.5,454.6l3.5,4.6l1.7,-2.5l-3.5,-4.6Z" color="#4756f7"/>
<path d="M177.7,457.6l3.5,4.2l1.8,-2.6l-3.5,-4.6Z" color="#4851f3"/>
<path d="M176,460.9l3.5,3.6l1.7,-2.7l-3.5,-4.2Z" color="#484bef"/>
<path d="M174.2,463.6l3.5,3l1.8,-2.1l-3.5,-3.6Z" color="#4746ea"/>
<path d="M172.5,465.8l3.5,2.6l1.7,-1.8l-3.5,-3Z" color="#4742e6"/>
<path d="M170.7,468.1l3.5,2.3l1.8,-2l-3.5,-2.6Z" color="#473fe2"/>
<path d="M169,471.1l3.5,1.7l1.7,-2.4l-3.5,-2.3Z" color="#463adc"/>
<path d="M167.2,473.5l3.5,1.7l1.8,-2.4l-3.5,-1.7Z" color="#4536d4"/>
<path d="M165.5,475.9l3.5,2l1.7,-2.7l-3.5,-1.7Z" color="#4433cb"/>
<path d="M163.7,476.9l3.5,1.5l1.8,-0.5l-3.5,-2Z" color="#4331c6"/>
<path d="M162,476.8l3.5,1.2l1.7,0.4l-3.5,-1.5Z" color="#4332ca"/>
<path d="M160.2,475.5l3.5,0.7l1.8,1.8l-3.5,-1.2Z" color="#4536d3"/>
<path d="M158.5,476.2l3.5,1l1.7,-1l-3.5,-0.7Z" color="#4539d9"/>
<path d="M156.7,471.2l3.5,1.2l1.8,4.8l-3.5,-1Z" color="#4741e5"/>
<path d="M155,468.6l3.5,1.2l1.7,2.6l-3.5,-1.2Z" color="#484ef1"/>
<path d="M153.2,466.4l3.5,1.2l1.8,2.2l-3.5,-1.2Z" color="#4757f7"/>
<path d="M151.5,463.1l3.5,1.9l1.7,2.6l-3.5,-1.2Z" color="#4561fc"/>
<path d="M149.7,458.7l3.5,2l1.8,4.3l-3.5,-1.9Z" color="#3f6fff"/>
<path d="M148,455.1l3.5,2.3l1.7,3.3l-3.5,-2Z" color="#317dfb"/>
<path d="M146.2,452.1l3.5,2.6l1.8,2.7l-3.5,-2.3Z" color="#2d89f5"/>
<path d="M144.5,449l3.5,3.2l1.7,2.5l-3.5,-2.6Z" color="#2a92ee"/>
<path d="M142.7,444.8l3.5,3.9l1.8,3.5l-3.5,-3.2Z" color="#259de7"/>
<path d="M141,442.3l3.5,3.5l1.7,2.9l-3.5,-3.9Z" color="#1ea7e1"/>
<path d="M139.2,441.3l3.5,4.2l1.8,0.3l-3.5,-3.5Z" color="#1aacdd"/>
<path d="M137.5,441.3l3.5,4.4l1.7,-0.2l-3.5,-4.2Z" color="#16aeda"/>
<path d="M135.7,442.5l3.5,4.4l1.8,-1.2l-3.5,-4.4Z" color="#16afd9"/>
<path d="M134,444.9l3.5,4.1l1.7,-2.1l-3.5,-4.4Z" color="#19addc"/>
<path d="M132.2,447.1l3.5,4.1l1.8,-2.2l-3.5,-4.1Z" color="#1baade"/>
<path d="M130.5,451.1l3.5,5.5l1.7,-5.4l-3.5,-4.1Z" color="#20a4e3"/>
<path d="M128.7,458.8l3.5,3.8l1.8,-6l-3.5,-5.5Z" color="#2698ea"/>
<path d="M127,463.7l3.5,2.7l1.7,-3.8l-3.5,-3.8Z" color="#2d8cf3"/>
<path d="M125.2,470l3.5,2.9l1.8,-6.5l-3.5,-2.7Z" color="#3080fb"/>
<path d="M123.5,475.8l3.5,2.3l1.7,-5.2l-3.5,-2.9Z" color="#3e70ff"/>
<path d="M121.7,481.4l3.5,1.4l1.8,-4.7l-3.5,-2.3Z" color="#4562fc"/>
<path d="M120,486l3.5,1.3l1.7,-4.5l-3.5,-1.4Z" color="#4757f7"/>
<path d="M118.2,493.4l3.5,1.5l1.8,-7.6l-3.5,-1.3Z" color="#4848ec"/>
<path d="M116.5,496.3l3.5,1l1.7,-2.4l-3.5,-1.5Z" color="#463cde"/>
<path d="M114.7,502l3.5,1.2l1.8,-5.9l-3.5,-1Z" color="#4434ce"/>
<path d="M113,503.4l3.5,0.8l1.7,-1l-3.5,-1.2Z" color="#422ebf"/>
<path d="M111.2,505l3.5,0.7l1.8,-1.5l-3.5,-0.8Z" color="#412dbd"/>
<path d="M109.5,507l3.5,0.9l1.7,-2.2l-3.5,-0.7Z" color="#402bb7"/>
<path d="M107.7,507.2l3.5,1.3l1.8,-0.6l-3.5,-0.9Z" color="#402ab5"/>
<path d="M106,506.7l3.5,1.5l1.7,0.3l-3.5,-1.3Z" color="#412cb9"/>
<path d="M104.2,505.6l3.5,1.7l1.8,0.9l-3.5,-1.5Z" color="#422fc2"/>
<path d="M102.5,505.1l3.5,1.9l1.7,0.3l-3.5,-1.7Z" color="#4433cb"/>
<path d="M100.7,503.8l3.5,2.5l1.8,0.7l-3.5,-1.9Z" color="#4536d3"/>
<path d="M99,501.9l3.5,3.1l1.7,1.3l-3.5,-2.5Z" color="#463bdd"/>
<path d="M97.2,499.7l3.5,3.6l1.8,1.7l-3.5,-3.1Z" color="#4743e7"/>
<path d="M95.5,497.8l3.5,4.1l1.7,1.4l-3.5,-3.6Z" color="#484aee"/>
<path d="M93.7,495.9l3.5,4.5l1.8,1.5l-3.5,-4.1Z" color="#4852f4"/>
<path d="M190,453.5l3.6,4.3l1.8,-0.2l-3.7,-4.2Z" color="#484ff2"/>
<path d="M188.2,453.4l3.7,4.5l1.7,-0.1l-3.6,-4.3Z" color="#4851f4"/>
<path d="M186.5,454.3l3.6,4.6l1.8,-1l-3.7,-4.5Z" color="#4852f4"/>
<path d="M184.7,456.7l3.7,4.5l1.7,-2.3l-3.6,-4.6Z" color="#4850f3"/>
<path d="M183,459.2l3.6,4.1l1.8,-2.1l-3.7,-4.5Z" color="#484cef"/>
<path d="M181.2,461.8l3.7,3.6l1.7,-2.1l-3.6,-4.1Z" color="#4848ec"/>
<path d="M179.5,464.5l3.6,2.9l1.8,-2l-3.7,-3.6Z" color="#4743e7"/>
<path d="M177.7,466.6l3.7,2.5l1.7,-1.7l-3.6,-2.9Z" color="#4740e3"/>
<path d="M176,468.4l3.6,2.3l1.8,-1.6l-3.7,-2.5Z" color="#463de0"/>
<path d="M174.2,470.4l3.7,2.1l1.7,-1.8l-3.6,-2.3Z" color="#463adc"/>
<path d="M172.5,472.8l3.6,1.9l1.8,-2.2l-3.7,-2.1Z" color="#4537d6"/>
<path d="M170.7,475.2l3.7,2.2l1.7,-2.7l-3.6,-1.9Z" color="#4434ce"/>
<path d="M169,477.9l3.6,1.5l1.8,-2l-3.7,-2.2Z" color="#4330c5"/>
<path d="M167.2,478.4l3.7,1.6l1.7,-0.6l-3.6,-1.5Z" color="#422fc2"/>
<path d="M165.5,478l3.6,1.3l1.8,0.7l-3.7,-1.6Z" color="#4331c7"/>
<path d="M163.7,476.2l3.7,0.8l1.7,2.3l-3.6,-1.3Z" color="#4536d2"/>
<path d="M162,477.2l3.6,0.9l1.8,-1.1l-3.7,-0.8Z" color="#4539d9"/>
<path d="M160.2,472.4l3.7,1.1l1.7,4.6l-3.6,-0.9Z" color="#4740e4"/>
<path d="M158.5,469.8l3.6,1.3l1.8,2.4l-3.7,-1.1Z" color="#484df0"/>
<path d="M156.7,467.6l3.7,1.2l1.7,2.3l-3.6,-1.3Z" color="#4756f7"/>
<path d="M155,465l3.6,1.7l1.8,2.1l-3.7,-1.2Z" color="#465ffb"/>
<path d="M153.2,460.7l3.7,1.7l1.7,4.3l-3.6,-1.7Z" color="#416bfe"/>
<path d="M151.5,457.4l3.6,2.2l1.8,2.8l-3.7,-1.7Z" color="#347afd"/>
<path d="M149.7,454.7l3.7,2.6l1.7,2.3l-3.6,-2.2Z" color="#2e84f8"/>
<path d="M148,452.2l3.6,3l1.8,2.1l-3.7,-2.6Z" color="#2d8df2"/>
<path d="M146.2,448.7l3.7,4.6l1.7,1.9l-3.6,-3Z" color="#2896ec"/>
<path d="M144.5,445.8l3.6,4.1l1.8,3.4l-3.7,-4.6Z" color="#249fe5"/>
<path d="M142.7,445.5l3.7,4.2l1.7,0.2l-3.6,-4.1Z" color="#20a5e2"/>
<path d="M141,445.7l3.6,4.2l1.8,-0.2l-3.7,-4.2Z" color="#1ea7e1"/>
<path d="M139.2,446.9l3.7,4.1l1.7,-1.1l-3.6,-4.2Z" color="#1ea7e1"/>
<path d="M137.5,449l3.6,4.1l1.8,-2.1l-3.7,-4.1Z" color="#1fa6e2"/>
<path d="M135.7,451.2l3.7,4.6l1.7,-2.7l-3.6,-4.1Z" color="#22a2e4"/>
<path d="M134,456.6l3.6,4.6l1.8,-5.4l-3.7,-4.6Z" color="#259be8"/>
<path d="M132.2,462.6l3.7,2.7l1.7,-4.1l-3.6,-4.6Z" color="#2c90f0"/>
<path d="M130.5,466.4l3.6,3.3l1.8,-4.4l-3.7,-2.7Z" color="#2e86f7"/>
<path d="M128.7,472.9l3.7,2l1.7,-5.2l-3.6,-3.3Z" color="#347afd"/>
<path d="M127,478.1l3.6,2.1l1.8,-5.3l-3.7,-2Z" color="#416bfe"/>
<path d="M125.2,482.8l3.7,1.4l1.7,-4l-3.6,-2.1Z" color="#4660fb"/>
<path d="M123.5,487.3l3.6,1.4l1.8,-4.5l-3.7,-1.4Z" color="#4755f6"/>
<path d="M121.7,494.9l3.7,1.5l1.7,-7.7l-3.6,-1.4Z" color="#4746ea"/>
<path d="M120,497.3l3.6,1l1.8,-1.9l-3.7,-1.5Z" color="#463bdc"/>
<path d="M118.2,503.2l3.7,1.1l1.7,-6l-3.6,-1Z" color="#4433cd"/>
<path d="M116.5,504.2l3.6,0.7l1.8,-0.6l-3.7,-1.1Z" color="#422ebf"/>
<path d="M114.7,505.7l3.7,0.7l1.7,-1.5l-3.6,-0.7Z" color="#412dbd"/>
<path d="M113,507.9l3.6,0.8l1.8,-2.3l-3.7,-0.7Z" color="#402bb7"/>
<path d="M111.2,508.5l3.7,1.2l1.7,-1l-3.6,-0.8Z" color="#402ab3"/>
<path d="M109.5,508.2l3.6,1.5l1.8,0l-3.7,-1.2Z" color="#402bb6"/>
<path d="M107.7,507.3l3.7,1.7l1.7,0.7l-3.6,-1.5Z" color="#412ebe"/>
<path d="M106,507l3.6,1.8l1.8,0.2l-3.7,-1.7Z" color="#4331c6"/>
<path d="M104.2,506.3l3.7,2.2l1.7,0.3l-3.6,-1.8Z" color="#4433cc"/>
<path d="M102.5,505l3.6,2.9l1.8,0.6l-3.7,-2.2Z" color="#4537d5"/>
<path d="M100.7,503.3l3.7,3.4l1.7,1.2l-3.6,-2.9Z" color="#463cde"/>
<path d="M99,501.9l3.6,3.7l1.8,1.1l-3.7,-3.4Z" color="#4742e6"/>
<path d="M97.2,500.4l3.7,4.2l1.7,1l-3.6,-3.7Z" color="#4848ec"/>
<path d="M193.6,457.8l3.8,3.9l1.8,-0.3l-3.8,-3.8Z" color="#4746ea"/>
<path d="M191.9,457.9l3.8,4.1l1.7,-0.3l-3.8,-3.9Z" color="#4848ec"/>
<path d="M190.1,458.9l3.8,4.2l1.8,-1.1l-3.8,-4.1Z" color="#4848ec"/>
<path d="M188.4,461.2l3.8,3.8l1.7,-1.9l-3.8,-4.2Z" color="#4746eb"/>
<path d="M186.6,463.3l3.8,3.3l1.8,-1.6l-3.8,-3.8Z" color="#4743e7"/>
<path d="M184.9,465.4l3.8,2.8l1.7,-1.6l-3.8,-3.3Z" color="#4740e4"/>
<path d="M183.1,467.4l3.8,2.4l1.8,-1.6l-3.8,-2.8Z" color="#463de0"/>
<path d="M181.4,469.1l3.8,2.2l1.7,-1.5l-3.8,-2.4Z" color="#463bdd"/>
<path d="M179.6,470.7l3.8,2.2l1.8,-1.6l-3.8,-2.2Z" color="#4639da"/>
<path d="M177.9,472.5l3.8,2.2l1.7,-1.8l-3.8,-2.2Z" color="#4537d6"/>
<path d="M176.1,474.7l3.8,2.2l1.8,-2.2l-3.8,-2.2Z" color="#4434d0"/>
<path d="M174.4,477.4l3.8,2.4l1.7,-2.9l-3.8,-2.2Z" color="#4331c7"/>
<path d="M172.6,479.4l3.8,0.9l1.8,-0.5l-3.8,-2.4Z" color="#422fc0"/>
<path d="M170.9,480l3.8,1.5l1.7,-1.2l-3.8,-0.9Z" color="#422ebf"/>
<path d="M169.1,479.3l3.8,1.8l1.8,0.4l-3.8,-1.5Z" color="#4230c3"/>
<path d="M167.4,477l3.8,0.7l1.7,3.4l-3.8,-1.8Z" color="#4435d1"/>
<path d="M165.6,478.1l3.8,0.8l1.8,-1.2l-3.8,-0.7Z" color="#4639d9"/>
<path d="M163.9,473.5l3.8,1.1l1.7,4.3l-3.8,-0.8Z" color="#4740e3"/>
<path d="M162.1,471.1l3.8,1.4l1.8,2.1l-3.8,-1.1Z" color="#484cef"/>
<path d="M160.4,468.8l3.8,1.2l1.7,2.5l-3.8,-1.4Z" color="#4755f6"/>
<path d="M158.6,466.7l3.8,1.7l1.8,1.6l-3.8,-1.2Z" color="#465dfb"/>
<path d="M156.9,462.4l3.8,1.7l1.7,4.3l-3.8,-1.7Z" color="#4269fe"/>
<path d="M155.1,459.6l3.8,2.2l1.8,2.3l-3.8,-1.7Z" color="#3776fe"/>
<path d="M153.4,457.3l3.8,2.2l1.7,2.3l-3.8,-2.2Z" color="#2f80fa"/>
<path d="M151.6,455.2l3.8,2.8l1.8,1.5l-3.8,-2.2Z" color="#2d88f6"/>
<path d="M149.9,453.3l3.8,3.3l1.7,1.4l-3.8,-2.8Z" color="#2c8ff0"/>
<path d="M148.1,449.9l3.8,5l1.8,1.7l-3.8,-3.3Z" color="#2797eb"/>
<path d="M146.4,449.7l3.8,4.5l1.7,0.7l-3.8,-5Z" color="#259ce7"/>
<path d="M144.6,449.9l3.8,4l1.8,0.3l-3.8,-4.5Z" color="#249fe5"/>
<path d="M142.9,451l3.8,3.9l1.7,-1l-3.8,-4Z" color="#23a0e5"/>
<path d="M141.1,453.1l3.8,4.1l1.8,-2.3l-3.8,-3.9Z" color="#249ee6"/>
<path d="M139.4,455.8l3.8,4.2l1.7,-2.8l-3.8,-4.1Z" color="#269ae8"/>
<path d="M137.6,461.2l3.8,3.2l1.8,-4.4l-3.8,-4.2Z" color="#2a93ee"/>
<path d="M135.9,465.3l3.8,2.5l1.7,-3.4l-3.8,-3.2Z" color="#2d8af5"/>
<path d="M134.1,469.7l3.8,3.4l1.8,-5.3l-3.8,-2.5Z" color="#3080fa"/>
<path d="M132.4,474.9l3.8,1.8l1.7,-3.6l-3.8,-3.4Z" color="#3974fe"/>
<path d="M130.6,480.2l3.8,1.8l1.8,-5.3l-3.8,-1.8Z" color="#4368fe"/>
<path d="M128.9,484.2l3.8,1.3l1.7,-3.5l-3.8,-1.8Z" color="#465dfa"/>
<path d="M127.1,488.7l3.8,1.4l1.8,-4.6l-3.8,-1.3Z" color="#4854f5"/>
<path d="M125.4,496.4l3.8,1.5l1.7,-7.8l-3.8,-1.4Z" color="#4744e9"/>
<path d="M123.6,498.3l3.8,0.9l1.8,-1.3l-3.8,-1.5Z" color="#463adb"/>
<path d="M121.9,504.3l3.8,0.8l1.7,-5.9l-3.8,-0.9Z" color="#4433cc"/>
<path d="M120.1,504.9l3.8,0.8l1.8,-0.6l-3.8,-0.8Z" color="#422ebf"/>
<path d="M118.4,506.4l3.8,0.7l1.7,-1.4l-3.8,-0.8Z" color="#412ebe"/>
<path d="M116.6,508.7l3.8,0.8l1.8,-2.4l-3.8,-0.7Z" color="#402bb8"/>
<path d="M114.9,509.7l3.8,1.2l1.7,-1.4l-3.8,-0.8Z" color="#3f29b2"/>
<path d="M113.1,509.7l3.8,1.5l1.8,-0.3l-3.8,-1.2Z" color="#402ab3"/>
<path d="M111.4,509l3.8,1.7l1.7,0.5l-3.8,-1.5Z" color="#412cb9"/>
<path d="M109.6,508.8l3.8,1.9l1.8,0l-3.8,-1.7Z" color="#422fc0"/>
<path d="M107.9,508.5l3.8,2l1.7,0.2l-3.8,-1.9Z" color="#4331c6"/>
<path d="M106.1,507.9l3.8,2.4l1.8,0.2l-3.8,-2Z" color="#4433cd"/>
<path d="M104.4,506.7l3.8,3.1l1.7,0.5l-3.8,-2.4Z" color="#4536d5"/>
<path d="M102.6,505.6l3.8,3.5l1.8,0.7l-3.8,-3.1Z" color="#463bdc"/>
<path d="M100.9,504.6l3.8,3.8l1.7,0.7l-3.8,-3.5Z" color="#473fe3"/>
<path d="M197.4,461.7l4,3.5l1.8,-0.4l-4,-3.4Z" color="#463ee1"/>
<path d="M195.7,462l4,3.5l1.7,-0.3l-4,-3.5Z" color="#4740e3"/>
<path d="M193.9,463.1l4,3.3l1.8,-0.9l-4,-3.5Z" color="#4740e4"/>
<path d="M192.2,465l4,2.9l1.7,-1.5l-4,-3.3Z" color="#473fe2"/>
<path d="M190.4,466.6l4,2.7l1.8,-1.4l-4,-2.9Z" color="#463ddf"/>
<path d="M188.7,468.2l4,2.5l1.7,-1.4l-4,-2.7Z" color="#463bdc"/>
<path d="M186.9,469.8l4,2.1l1.8,-1.2l-4,-2.5Z" color="#4639da"/>
<path d="M185.2,471.3l4,2.1l1.7,-1.5l-4,-2.1Z" color="#4538d7"/>
<path d="M183.4,472.9l4,2.2l1.8,-1.7l-4,-2.1Z" color="#4536d3"/>
<path d="M181.7,474.7l4,2.4l1.7,-2l-4,-2.2Z" color="#4434cf"/>
<path d="M179.9,476.9l4,2.8l1.8,-2.6l-4,-2.4Z" color="#4331c7"/>
<path d="M178.2,479.8l4,1.6l1.7,-1.7l-4,-2.8Z" color="#422ebf"/>
<path d="M176.4,480.3l4,0.8l1.8,0.3l-4,-1.6Z" color="#412dbd"/>
<path d="M174.7,481.5l4,1.2l1.7,-1.6l-4,-0.8Z" color="#412ebe"/>
<path d="M172.9,481.1l4,1.4l1.8,0.2l-4,-1.2Z" color="#422ebf"/>
<path d="M171.2,477.7l4,0.8l1.7,4l-4,-1.4Z" color="#4434cf"/>
<path d="M169.4,478.9l4,0.7l1.8,-1.1l-4,-0.8Z" color="#4639da"/>
<path d="M167.7,474.6l4,0.7l1.7,4.3l-4,-0.7Z" color="#4740e3"/>
<path d="M165.9,472.5l4,1.5l1.8,1.3l-4,-0.7Z" color="#484bef"/>
<path d="M164.2,470l4,1.1l1.7,2.9l-4,-1.5Z" color="#4854f5"/>
<path d="M162.4,468.4l4,1.6l1.8,1.1l-4,-1.1Z" color="#475cfa"/>
<path d="M160.7,464.1l4,1.6l1.7,4.3l-4,-1.6Z" color="#4367fd"/>
<path d="M158.9,461.8l4,2l1.8,1.9l-4,-1.6Z" color="#3a73fe"/>
<path d="M157.2,459.5l4,2.2l1.7,2.1l-4,-2Z" color="#327cfc"/>
<path d="M155.4,458l4,2.1l1.8,1.6l-4,-2.2Z" color="#2e84f8"/>
<path d="M153.7,456.6l4,2.7l1.7,0.8l-4,-2.1Z" color="#2d8af4"/>
<path d="M151.9,454.9l4,3.5l1.8,0.9l-4,-2.7Z" color="#2c90f0"/>
<path d="M150.2,454.2l4,3.7l1.7,0.5l-4,-3.5Z" color="#2994ed"/>
<path d="M148.4,453.9l4,3.6l1.8,0.4l-4,-3.7Z" color="#2798ea"/>
<path d="M146.7,454.9l4,3.5l1.7,-0.9l-4,-3.6Z" color="#2699e9"/>
<path d="M144.9,457.2l4,3.6l1.8,-2.4l-4,-3.5Z" color="#2797eb"/>
<path d="M143.2,460l4,3.7l1.7,-2.9l-4,-3.6Z" color="#2a93ee"/>
<path d="M141.4,464.4l4,2.6l1.8,-3.3l-4,-3.7Z" color="#2d8cf3"/>
<path d="M139.7,467.8l4,2.9l1.7,-3.7l-4,-2.6Z" color="#2e84f8"/>
<path d="M137.9,473.1l4,2l1.8,-4.4l-4,-2.9Z" color="#337afd"/>
<path d="M136.2,476.7l4,1.7l1.7,-3.3l-4,-2Z" color="#3d70ff"/>
<path d="M134.4,482l4,1.7l1.8,-5.3l-4,-1.7Z" color="#4465fd"/>
<path d="M132.7,485.5l4,1.4l1.7,-3.2l-4,-1.7Z" color="#475bfa"/>
<path d="M130.9,490.1l4,1.5l1.8,-4.7l-4,-1.4Z" color="#4852f4"/>
<path d="M129.2,497.9l4,1.1l1.7,-7.4l-4,-1.5Z" color="#4743e7"/>
<path d="M127.4,499.2l4,0.9l1.8,-1.1l-4,-1.1Z" color="#4639da"/>
<path d="M125.7,505.1l4,0.5l1.7,-5.5l-4,-0.9Z" color="#4433cd"/>
<path d="M123.9,505.7l4,0.7l1.8,-0.8l-4,-0.5Z" color="#422ec0"/>
<path d="M122.2,507.1l4,0.7l1.7,-1.4l-4,-0.7Z" color="#422ebf"/>
<path d="M120.4,509.5l4,0.7l1.8,-2.4l-4,-0.7Z" color="#412cb9"/>
<path d="M118.7,510.9l4,1l1.7,-1.7l-4,-0.7Z" color="#3f29b2"/>
<path d="M116.9,511.2l4,1.4l1.8,-0.7l-4,-1Z" color="#3f29b1"/>
<path d="M115.2,510.7l4,1.8l1.7,0.1l-4,-1.4Z" color="#402ab5"/>
<path d="M113.4,510.7l4,1.8l1.8,0l-4,-1.8Z" color="#412dbb"/>
<path d="M111.7,510.5l4,1.9l1.7,0.1l-4,-1.8Z" color="#422fc0"/>
<path d="M109.9,510.3l4,2.1l1.8,0l-4,-1.9Z" color="#4331c6"/>
<path d="M108.2,509.8l4,2.6l1.7,0l-4,-2.1Z" color="#4433cc"/>
<path d="M106.4,509.1l4,3.1l1.8,0.2l-4,-2.6Z" color="#4535d2"/>
<path d="M104.7,508.4l4,3.5l1.7,0.3l-4,-3.1Z" color="#4539d9"/>
<path d="M201.4,465.2l4.1,3.1l1.7,-0.4l-4,-3.1Z" color="#4538d7"/>
<path d="M199.7,465.5l4,3.1l1.8,-0.3l-4.1,-3.1Z" color="#4639da"/>
<path d="M197.9,466.4l4.1,3l1.7,-0.8l-4,-3.1Z" color="#463adb"/>
<path d="M196.2,467.9l4,2.7l1.8,-1.2l-4.1,-3Z" color="#4639da"/>
<path d="M194.4,469.3l4.1,2.5l1.7,-1.2l-4,-2.7Z" color="#4538d7"/>
<path d="M192.7,470.7l4,2.2l1.8,-1.1l-4.1,-2.5Z" color="#4537d6"/>
<path d="M190.9,471.9l4.1,2.1l1.7,-1.1l-4,-2.2Z" color="#4536d4"/>
<path d="M189.2,473.4l4,2.2l1.8,-1.6l-4.1,-2.1Z" color="#4435d1"/>
<path d="M187.4,475.1l4.1,2.5l1.7,-2l-4,-2.2Z" color="#4433cc"/>
<path d="M185.7,477.1l4,2.9l1.8,-2.4l-4.1,-2.5Z" color="#4331c6"/>
<path d="M183.9,479.7l4.1,2.4l1.7,-2.1l-4,-2.9Z" color="#412ebe"/>
<path d="M182.2,481.4l4,0.9l1.8,-0.2l-4.1,-2.4Z" color="#412cb9"/>
<path d="M180.4,481.1l4.1,0.8l1.7,0.4l-4,-0.9Z" color="#412dbd"/>
<path d="M178.7,482.7l4,0.8l1.8,-1.6l-4.1,-0.8Z" color="#412ebe"/>
<path d="M176.9,482.5l4.1,0.4l1.7,0.6l-4,-0.8Z" color="#422ebf"/>
<path d="M175.2,478.5l4,0.7l1.8,3.7l-4.1,-0.4Z" color="#4435d0"/>
<path d="M173.4,479.6l4.1,0.6l1.7,-1l-4,-0.7Z" color="#463adb"/>
<path d="M171.7,475.3l4,0.7l1.8,4.2l-4.1,-0.6Z" color="#4740e4"/>
<path d="M169.9,474l4.1,1.4l1.7,0.6l-4,-0.7Z" color="#484aee"/>
<path d="M168.2,471.1l4,1.1l1.8,3.2l-4.1,-1.4Z" color="#4853f4"/>
<path d="M166.4,470l4.1,1.7l1.7,0.5l-4,-1.1Z" color="#475af9"/>
<path d="M164.7,465.7l4,1.6l1.8,4.4l-4.1,-1.7Z" color="#4464fd"/>
<path d="M162.9,463.8l4.1,1.8l1.7,1.7l-4,-1.6Z" color="#3d70ff"/>
<path d="M161.2,461.7l4,2.2l1.8,1.7l-4.1,-1.8Z" color="#3579fd"/>
<path d="M159.4,460.1l4.1,1.6l1.7,2.2l-4,-2.2Z" color="#2f81fa"/>
<path d="M157.7,459.3l4,2.3l1.8,0.1l-4.1,-1.6Z" color="#2e87f7"/>
<path d="M155.9,458.4l4.1,2.9l1.7,0.3l-4,-2.3Z" color="#2d8bf4"/>
<path d="M154.2,457.9l4,3.3l1.8,0.1l-4.1,-2.9Z" color="#2c8ef1"/>
<path d="M152.4,457.5l4.1,3.3l1.7,0.4l-4,-3.3Z" color="#2b91ef"/>
<path d="M150.7,458.4l4,3.3l1.8,-0.9l-4.1,-3.3Z" color="#2a93ee"/>
<path d="M148.9,460.8l4.1,3.4l1.7,-2.5l-4,-3.3Z" color="#2b91ef"/>
<path d="M147.2,463.7l4,3.1l1.8,-2.6l-4.1,-3.4Z" color="#2d8cf3"/>
<path d="M145.4,467l4.1,2.5l1.7,-2.7l-4,-3.1Z" color="#2e86f7"/>
<path d="M143.7,470.7l4,2.8l1.8,-4l-4.1,-2.5Z" color="#307ffb"/>
<path d="M141.9,475.1l4.1,1.7l1.7,-3.3l-4,-2.8Z" color="#3876fe"/>
<path d="M140.2,478.4l4,1.6l1.8,-3.2l-4.1,-1.7Z" color="#3f6efe"/>
<path d="M138.4,483.7l4.1,1.6l1.7,-5.3l-4,-1.6Z" color="#4563fd"/>
<path d="M136.7,486.9l4,1.4l1.8,-3l-4.1,-1.6Z" color="#475af9"/>
<path d="M134.9,491.6l4.1,1.3l1.7,-4.6l-4,-1.4Z" color="#4851f3"/>
<path d="M133.2,499l4,0.7l1.8,-6.8l-4.1,-1.3Z" color="#4742e6"/>
<path d="M131.4,500.1l4.1,0.8l1.7,-1.2l-4,-0.7Z" color="#4639da"/>
<path d="M129.7,505.6l4,0.3l1.8,-5l-4.1,-0.8Z" color="#4434cf"/>
<path d="M127.9,506.4l4.1,0.6l1.7,-1.1l-4,-0.3Z" color="#422fc2"/>
<path d="M126.2,507.8l4,0.7l1.8,-1.5l-4.1,-0.6Z" color="#422ec0"/>
<path d="M124.4,510.2l4.1,0.7l1.7,-2.4l-4,-0.7Z" color="#412cba"/>
<path d="M122.7,511.9l4,0.9l1.8,-1.9l-4.1,-0.7Z" color="#4029b2"/>
<path d="M120.9,512.6l4.1,1.3l1.7,-1.1l-4,-0.9Z" color="#3f29af"/>
<path d="M119.2,512.5l4,1.7l1.8,-0.3l-4.1,-1.3Z" color="#3f29b2"/>
<path d="M117.4,512.5l4.1,1.8l1.7,-0.1l-4,-1.7Z" color="#402bb6"/>
<path d="M115.7,512.4l4,2l1.8,-0.1l-4.1,-1.8Z" color="#412dbb"/>
<path d="M113.9,512.4l4.1,2.1l1.7,-0.1l-4,-2Z" color="#422ebf"/>
<path d="M112.2,512.4l4,2.2l1.8,-0.1l-4.1,-2.1Z" color="#4230c4"/>
<path d="M110.4,512.2l4.1,2.5l1.7,-0.1l-4,-2.2Z" color="#4332c9"/>
<path d="M108.7,511.9l4,2.9l1.8,-0.1l-4.1,-2.5Z" color="#4434ce"/>
<path d="M205.5,468.3l4.2,2.6l1.8,-0.5l-4.3,-2.5Z" color="#4434cd"/>
<path d="M203.7,468.6l4.3,2.8l1.7,-0.5l-4.2,-2.6Z" color="#4434d0"/>
<path d="M202,469.4l4.2,2.6l1.8,-0.6l-4.3,-2.8Z" color="#4435d2"/>
<path d="M200.2,470.6l4.3,2.4l1.7,-1l-4.2,-2.6Z" color="#4435d1"/>
<path d="M198.5,471.8l4.2,2.3l1.8,-1.1l-4.3,-2.4Z" color="#4434d0"/>
<path d="M196.7,472.9l4.3,2.3l1.7,-1.1l-4.2,-2.3Z" color="#4434ce"/>
<path d="M195,474l4.2,2.3l1.8,-1.1l-4.3,-2.3Z" color="#4433cd"/>
<path d="M193.2,475.6l4.3,2.6l1.7,-1.9l-4.2,-2.3Z" color="#4332ca"/>
<path d="M191.5,477.6l4.2,2.9l1.8,-2.3l-4.3,-2.6Z" color="#4230c4"/>
<path d="M189.7,480l4.3,2.6l1.7,-2.1l-4.2,-2.9Z" color="#412dbc"/>
<path d="M188,482.1l4.2,1.3l1.8,-0.8l-4.3,-2.6Z" color="#402bb6"/>
<path d="M186.2,482.3l4.3,0.7l1.7,0.4l-4.2,-1.3Z" color="#402bb7"/>
<path d="M184.5,481.9l4.2,0.7l1.8,0.4l-4.3,-0.7Z" color="#412ebe"/>
<path d="M182.7,483.5l4.3,0.5l1.7,-1.4l-4.2,-0.7Z" color="#422ebf"/>
<path d="M181,482.9l4.2,0l1.8,1.1l-4.3,-0.5Z" color="#422fc2"/>
<path d="M179.2,479.2l4.3,0.7l1.7,3l-4.2,0Z" color="#4536d2"/>
<path d="M177.5,480.2l4.2,0.4l1.8,-0.7l-4.3,-0.7Z" color="#463bdc"/>
<path d="M175.7,476l4.3,0.7l1.7,3.9l-4.2,-0.4Z" color="#4741e5"/>
<path d="M174,475.4l4.2,1.2l1.8,0.1l-4.3,-0.7Z" color="#484aee"/>
<path d="M172.2,472.2l4.3,1.1l1.7,3.3l-4.2,-1.2Z" color="#4852f4"/>
<path d="M170.5,471.7l4.2,1.7l1.8,-0.1l-4.3,-1.1Z" color="#4759f8"/>
<path d="M168.7,467.3l4.3,1.6l1.7,4.5l-4.2,-1.7Z" color="#4562fc"/>
<path d="M167,465.6l4.2,1.7l1.8,1.6l-4.3,-1.6Z" color="#3f6eff"/>
<path d="M165.2,463.9l4.3,2.2l1.7,1.2l-4.2,-1.7Z" color="#3876fe"/>
<path d="M163.5,461.7l4.2,1.7l1.8,2.7l-4.3,-2.2Z" color="#317efb"/>
<path d="M161.7,461.6l4.3,1.9l1.7,-0.1l-4.2,-1.7Z" color="#2e84f8"/>
<path d="M160,461.3l4.2,2.4l1.8,-0.2l-4.3,-1.9Z" color="#2e87f7"/>
<path d="M158.2,461.2l4.3,2.7l1.7,-0.2l-4.2,-2.4Z" color="#2d89f5"/>
<path d="M156.5,460.8l4.2,3.2l1.8,-0.1l-4.3,-2.7Z" color="#2d8bf3"/>
<path d="M154.7,461.7l4.3,3.1l1.7,-0.8l-4.2,-3.2Z" color="#2d8df2"/>
<path d="M153,464.2l4.2,2.8l1.8,-2.2l-4.3,-3.1Z" color="#2d8bf4"/>
<path d="M151.2,466.8l4.3,2.2l1.7,-2l-4.2,-2.8Z" color="#2e87f7"/>
<path d="M149.5,469.5l4.2,2.2l1.8,-2.7l-4.3,-2.2Z" color="#2f82f9"/>
<path d="M147.7,473.5l4.3,2.3l1.7,-4.1l-4.2,-2.2Z" color="#337bfd"/>
<path d="M146,476.8l4.2,1.5l1.8,-2.5l-4.3,-2.3Z" color="#3b72fe"/>
<path d="M144.2,480l4.3,1.5l1.7,-3.2l-4.2,-1.5Z" color="#416cfe"/>
<path d="M142.5,485.3l4.2,1.6l1.8,-5.4l-4.3,-1.5Z" color="#4561fc"/>
<path d="M140.7,488.3l4.3,1.3l1.7,-2.7l-4.2,-1.6Z" color="#4758f8"/>
<path d="M139,492.9l4.2,1.2l1.8,-4.5l-4.3,-1.3Z" color="#4850f2"/>
<path d="M137.2,499.7l4.3,0.4l1.7,-6l-4.2,-1.2Z" color="#4743e7"/>
<path d="M135.5,500.9l4.2,0.7l1.8,-1.5l-4.3,-0.4Z" color="#463adb"/>
<path d="M133.7,505.9l4.3,0.2l1.7,-4.5l-4.2,-0.7Z" color="#4435d1"/>
<path d="M132,507l4.2,0.7l1.8,-1.6l-4.3,-0.2Z" color="#4330c5"/>
<path d="M130.2,508.5l4.3,0.6l1.7,-1.4l-4.2,-0.7Z" color="#422fc1"/>
<path d="M128.5,510.9l4.2,0.6l1.8,-2.4l-4.3,-0.6Z" color="#412dbb"/>
<path d="M126.7,512.8l4.3,0.8l1.7,-2.1l-4.2,-0.6Z" color="#402ab4"/>
<path d="M125,513.9l4.2,1.2l1.8,-1.5l-4.3,-0.8Z" color="#3f28af"/>
<path d="M123.2,514.2l4.3,1.5l1.7,-0.6l-4.2,-1.2Z" color="#3f28af"/>
<path d="M121.5,514.3l4.2,1.8l1.8,-0.4l-4.3,-1.5Z" color="#3f29b2"/>
<path d="M119.7,514.4l4.3,1.9l1.7,-0.2l-4.2,-1.8Z" color="#402bb6"/>
<path d="M118,514.5l4.2,2.1l1.8,-0.3l-4.3,-1.9Z" color="#412cba"/>
<path d="M116.2,514.6l4.3,2.2l1.7,-0.2l-4.2,-2.1Z" color="#412ebd"/>
<path d="M114.5,514.7l4.2,2.3l1.8,-0.2l-4.3,-2.2Z" color="#422fc1"/>
<path d="M112.7,514.8l4.3,2.3l1.7,-0.1l-4.2,-2.3Z" color="#4331c5"/>
<path d="M209.7,470.9l4.4,2.5l1.8,-0.6l-4.4,-2.4Z" color="#4330c5"/>
<path d="M208,471.4l4.4,2.5l1.7,-0.5l-4.4,-2.5Z" color="#4331c7"/>
<path d="M206.2,472l4.4,2.4l1.8,-0.5l-4.4,-2.5Z" color="#4332c9"/>
<path d="M204.5,473l4.4,2.5l1.7,-1.1l-4.4,-2.4Z" color="#4332c9"/>
<path d="M202.7,474.1l4.4,2.5l1.8,-1.1l-4.4,-2.5Z" color="#4331c8"/>
<path d="M201,475.2l4.4,2.5l1.7,-1.1l-4.4,-2.5Z" color="#4331c7"/>
<path d="M199.2,476.3l4.4,2.6l1.8,-1.2l-4.4,-2.5Z" color="#4330c5"/>
<path d="M197.5,478.2l4.4,2.8l1.7,-2.1l-4.4,-2.6Z" color="#422fc1"/>
<path d="M195.7,480.5l4.4,2.5l1.8,-2l-4.4,-2.8Z" color="#412cba"/>
<path d="M194,482.6l4.4,1.4l1.7,-1l-4.4,-2.5Z" color="#402ab4"/>
<path d="M192.2,483.4l4.4,0.7l1.8,-0.1l-4.4,-1.4Z" color="#402ab3"/>
<path d="M190.5,483l4.4,0.7l1.7,0.4l-4.4,-0.7Z" color="#402bb8"/>
<path d="M188.7,482.6l4.4,0.7l1.8,0.4l-4.4,-0.7Z" color="#422ebf"/>
<path d="M187,484l4.4,0.2l1.7,-0.9l-4.4,-0.7Z" color="#422fc2"/>
<path d="M185.2,482.9l4.4,0.1l1.8,1.2l-4.4,-0.2Z" color="#4331c7"/>
<path d="M183.5,479.9l4.4,0.8l1.7,2.3l-4.4,-0.1Z" color="#4537d5"/>
<path d="M181.7,480.6l4.4,0.5l1.8,-0.4l-4.4,-0.8Z" color="#463cde"/>
<path d="M180,476.7l4.4,0.7l1.7,3.7l-4.4,-0.5Z" color="#4743e7"/>
<path d="M178.2,476.6l4.4,0.7l1.8,0.1l-4.4,-0.7Z" color="#484bee"/>
<path d="M176.5,473.3l4.4,0.9l1.7,3.1l-4.4,-0.7Z" color="#4852f4"/>
<path d="M174.7,473.4l4.4,1.4l1.8,-0.6l-4.4,-0.9Z" color="#4758f8"/>
<path d="M173,468.9l4.4,1.6l1.7,4.3l-4.4,-1.4Z" color="#4661fc"/>
<path d="M171.2,467.3l4.4,1.7l1.8,1.5l-4.4,-1.6Z" color="#406cfe"/>
<path d="M169.5,466.1l4.4,2.2l1.7,0.7l-4.4,-1.7Z" color="#3b73fe"/>
<path d="M167.7,463.4l4.4,2.1l1.8,2.8l-4.4,-2.2Z" color="#337bfc"/>
<path d="M166,463.5l4.4,1.8l1.7,0.2l-4.4,-2.1Z" color="#2f82fa"/>
<path d="M164.2,463.7l4.4,1.9l1.8,-0.3l-4.4,-1.8Z" color="#2e84f9"/>
<path d="M162.5,463.9l4.4,2.2l1.7,-0.5l-4.4,-1.9Z" color="#2e85f8"/>
<path d="M160.7,464l4.4,2.5l1.8,-0.4l-4.4,-2.2Z" color="#2e87f7"/>
<path d="M159,464.8l4.4,2.5l1.7,-0.8l-4.4,-2.5Z" color="#2d88f6"/>
<path d="M157.2,467l4.4,2.1l1.8,-1.8l-4.4,-2.5Z" color="#2e86f7"/>
<path d="M155.5,469l4.4,2l1.7,-1.9l-4.4,-2.1Z" color="#2e83f9"/>
<path d="M153.7,471.7l4.4,2.1l1.8,-2.8l-4.4,-2Z" color="#307ffb"/>
<path d="M152,475.8l4.4,2l1.7,-4l-4.4,-2.1Z" color="#3777fe"/>
<path d="M150.2,478.3l4.4,1.4l1.8,-1.9l-4.4,-2Z" color="#3d70ff"/>
<path d="M148.5,481.5l4.4,1.6l1.7,-3.4l-4.4,-1.4Z" color="#426afe"/>
<path d="M146.7,486.9l4.4,1.5l1.8,-5.3l-4.4,-1.6Z" color="#4660fb"/>
<path d="M145,489.6l4.4,1.4l1.7,-2.6l-4.4,-1.5Z" color="#4757f7"/>
<path d="M143.2,494.1l4.4,1l1.8,-4.1l-4.4,-1.4Z" color="#484ff2"/>
<path d="M141.5,500.1l4.4,0.1l1.7,-5.1l-4.4,-1Z" color="#4743e8"/>
<path d="M139.7,501.6l4.4,0.7l1.8,-2.1l-4.4,-0.1Z" color="#463bde"/>
<path d="M138,506.1l4.4,0.3l1.7,-4.1l-4.4,-0.7Z" color="#4536d3"/>
<path d="M136.2,507.7l4.4,0.6l1.8,-1.9l-4.4,-0.3Z" color="#4331c8"/>
<path d="M134.5,509.1l4.4,0.7l1.7,-1.5l-4.4,-0.6Z" color="#4230c3"/>
<path d="M132.7,511.5l4.4,0.6l1.8,-2.3l-4.4,-0.7Z" color="#412dbd"/>
<path d="M131,513.6l4.4,0.7l1.7,-2.2l-4.4,-0.6Z" color="#402ab5"/>
<path d="M129.2,515.1l4.4,0.9l1.8,-1.7l-4.4,-0.7Z" color="#3f29af"/>
<path d="M127.5,515.7l4.4,1.3l1.7,-1l-4.4,-0.9Z" color="#3f28ad"/>
<path d="M125.7,516.1l4.4,1.6l1.8,-0.7l-4.4,-1.3Z" color="#3f28ae"/>
<path d="M124,516.3l4.4,1.8l1.7,-0.4l-4.4,-1.6Z" color="#3f29b1"/>
<path d="M122.2,516.6l4.4,1.9l1.8,-0.4l-4.4,-1.8Z" color="#402ab4"/>
<path d="M120.5,516.8l4.4,2.1l1.7,-0.4l-4.4,-1.9Z" color="#402bb7"/>
<path d="M118.7,517l4.4,2.2l1.8,-0.3l-4.4,-2.1Z" color="#412cba"/>
<path d="M117,517.1l4.4,2.4l1.7,-0.3l-4.4,-2.2Z" color="#412ebe"/>
<path d="M214.1,473.4l4.5,2.4l1.8,-0.7l-4.5,-2.3Z" color="#412dbd"/>
<path d="M212.4,473.9l4.5,2.4l1.7,-0.5l-4.5,-2.4Z" color="#422ebf"/>
<path d="M210.6,474.4l4.5,2.6l1.8,-0.7l-4.5,-2.4Z" color="#422fc0"/>
<path d="M208.9,475.5l4.5,2.5l1.7,-1l-4.5,-2.6Z" color="#422fc1"/>
<path d="M207.1,476.6l4.5,2.6l1.8,-1.2l-4.5,-2.5Z" color="#422ebf"/>
<path d="M205.4,477.7l4.5,2.6l1.7,-1.1l-4.5,-2.6Z" color="#412ebe"/>
<path d="M203.6,478.9l4.5,2.7l1.8,-1.3l-4.5,-2.6Z" color="#412dbc"/>
<path d="M201.9,481l4.5,2.4l1.7,-1.8l-4.5,-2.7Z" color="#402bb8"/>
<path d="M200.1,483l4.5,1.4l1.8,-1l-4.5,-2.4Z" color="#4029b3"/>
<path d="M198.4,484l4.5,0.8l1.7,-0.4l-4.5,-1.4Z" color="#3f29b1"/>
<path d="M196.6,484.1l4.5,0.6l1.8,0.1l-4.5,-0.8Z" color="#402ab4"/>
<path d="M194.9,483.7l4.5,0.6l1.7,0.4l-4.5,-0.6Z" color="#412cba"/>
<path d="M193.1,483.3l4.5,0.7l1.8,0.3l-4.5,-0.6Z" color="#422fc1"/>
<path d="M191.4,484.2l4.5,0.1l1.7,-0.3l-4.5,-0.7Z" color="#4330c5"/>
<path d="M189.6,483l4.5,0.4l1.8,0.9l-4.5,-0.1Z" color="#4433cb"/>
<path d="M187.9,480.7l4.5,0.7l1.7,2l-4.5,-0.4Z" color="#4538d8"/>
<path d="M186.1,481.1l4.5,0.4l1.8,-0.1l-4.5,-0.7Z" color="#463de0"/>
<path d="M184.4,477.4l4.5,0.5l1.7,3.6l-4.5,-0.4Z" color="#4744e8"/>
<path d="M182.6,477.3l4.5,0.3l1.8,0.3l-4.5,-0.5Z" color="#484cf0"/>
<path d="M180.9,474.2l4.5,0.9l1.7,2.5l-4.5,-0.3Z" color="#4853f5"/>
<path d="M179.1,474.8l4.5,1.2l1.8,-0.9l-4.5,-0.9Z" color="#4758f8"/>
<path d="M177.4,470.5l4.5,1.5l1.7,4l-4.5,-1.2Z" color="#465ffb"/>
<path d="M175.6,469l4.5,1.6l1.8,1.4l-4.5,-1.5Z" color="#426afe"/>
<path d="M173.9,468.3l4.5,2.1l1.7,0.2l-4.5,-1.6Z" color="#3e70ff"/>
<path d="M172.1,465.5l4.5,2.3l1.8,2.6l-4.5,-2.1Z" color="#3677fe"/>
<path d="M170.4,465.3l4.5,2l1.7,0.5l-4.5,-2.3Z" color="#307ffb"/>
<path d="M168.6,465.6l4.5,2l1.8,-0.3l-4.5,-2Z" color="#2f81fa"/>
<path d="M166.9,466.1l4.5,1.9l1.7,-0.4l-4.5,-2Z" color="#2e83f9"/>
<path d="M165.1,466.5l4.5,1.9l1.8,-0.4l-4.5,-1.9Z" color="#2e84f9"/>
<path d="M163.4,467.3l4.5,2l1.7,-0.9l-4.5,-1.9Z" color="#2e84f8"/>
<path d="M161.6,469.1l4.5,2.1l1.8,-1.9l-4.5,-2Z" color="#2e83f9"/>
<path d="M159.9,471l4.5,2l1.7,-1.8l-4.5,-2.1Z" color="#2f80fa"/>
<path d="M158.1,473.8l4.5,2l1.8,-2.8l-4.5,-2Z" color="#327cfc"/>
<path d="M156.4,477.8l4.5,1.8l1.7,-3.8l-4.5,-2Z" color="#3a74fe"/>
<path d="M154.6,479.7l4.5,1.2l1.8,-1.3l-4.5,-1.8Z" color="#3f6eff"/>
<path d="M152.9,483.1l4.5,1.5l1.7,-3.7l-4.5,-1.2Z" color="#4369fe"/>
<path d="M151.1,488.4l4.5,1.2l1.8,-5l-4.5,-1.5Z" color="#465efb"/>
<path d="M149.4,491l4.5,1.2l1.7,-2.6l-4.5,-1.2Z" color="#4756f6"/>
<path d="M147.6,495.1l4.5,0.6l1.8,-3.5l-4.5,-1.2Z" color="#484ff2"/>
<path d="M145.9,500.2l4.5,0.2l1.7,-4.7l-4.5,-0.6Z" color="#4745e9"/>
<path d="M144.1,502.3l4.5,0.6l1.8,-2.5l-4.5,-0.2Z" color="#463de0"/>
<path d="M142.4,506.4l4.5,0.4l1.7,-3.9l-4.5,-0.6Z" color="#4537d6"/>
<path d="M140.6,508.3l4.5,0.6l1.8,-2.1l-4.5,-0.4Z" color="#4332cb"/>
<path d="M138.9,509.8l4.5,0.7l1.7,-1.6l-4.5,-0.6Z" color="#4331c5"/>
<path d="M137.1,512.1l4.5,0.6l1.8,-2.2l-4.5,-0.7Z" color="#422ebf"/>
<path d="M135.4,514.3l4.5,0.5l1.7,-2.1l-4.5,-0.6Z" color="#402bb8"/>
<path d="M133.6,516l4.5,0.8l1.8,-2l-4.5,-0.5Z" color="#3f29b1"/>
<path d="M131.9,517l4.5,1.1l1.7,-1.3l-4.5,-0.8Z" color="#3f28ad"/>
<path d="M130.1,517.7l4.5,1.4l1.8,-1l-4.5,-1.1Z" color="#3e28ac"/>
<path d="M128.4,518.1l4.5,1.6l1.7,-0.6l-4.5,-1.4Z" color="#3f28ad"/>
<path d="M126.6,518.5l4.5,1.8l1.8,-0.6l-4.5,-1.6Z" color="#3f29af"/>
<path d="M124.9,518.9l4.5,1.9l1.7,-0.5l-4.5,-1.8Z" color="#3f29b2"/>
<path d="M123.1,519.2l4.5,2.1l1.8,-0.5l-4.5,-1.9Z" color="#402ab4"/>
<path d="M121.4,519.5l4.5,2.2l1.7,-0.4l-4.5,-2.1Z" color="#402bb7"/>
<path d="M218.6,475.8l4.6,2.2l1.8,-0.7l-4.6,-2.2Z" color="#402bb6"/>
<path d="M216.9,476.3l4.6,2.4l1.7,-0.7l-4.6,-2.2Z" color="#402bb7"/>
<path d="M215.1,477l4.6,2.5l1.8,-0.8l-4.6,-2.4Z" color="#412cb8"/>
<path d="M213.4,478l4.6,2.5l1.7,-1l-4.6,-2.5Z" color="#412cb8"/>
<path d="M211.6,479.2l4.6,2.4l1.8,-1.1l-4.6,-2.5Z" color="#402bb7"/>
<path d="M209.9,480.3l4.6,2.4l1.7,-1.1l-4.6,-2.4Z" color="#402ab5"/>
<path d="M208.1,481.6l4.6,2.4l1.8,-1.3l-4.6,-2.4Z" color="#402ab3"/>
<path d="M206.4,483.4l4.6,1.5l1.7,-0.9l-4.6,-2.4Z" color="#3f29b0"/>
<path d="M204.6,484.4l4.6,0.8l1.8,-0.3l-4.6,-1.5Z" color="#3f29af"/>
<path d="M202.9,484.8l4.6,0.5l1.7,-0.1l-4.6,-0.8Z" color="#3f29b2"/>
<path d="M201.1,484.7l4.6,0.4l1.8,0.2l-4.6,-0.5Z" color="#402bb7"/>
<path d="M199.4,484.3l4.6,0.5l1.7,0.3l-4.6,-0.4Z" color="#412dbd"/>
<path d="M197.6,484l4.6,0.6l1.8,0.2l-4.6,-0.5Z" color="#4230c4"/>
<path d="M195.9,484.3l4.6,0.2l1.7,0.1l-4.6,-0.6Z" color="#4332c9"/>
<path d="M194.1,483.4l4.6,0.3l1.8,0.8l-4.6,-0.2Z" color="#4434cf"/>
<path d="M192.4,481.4l4.6,0.7l1.7,1.6l-4.6,-0.3Z" color="#4639da"/>
<path d="M190.6,481.5l4.6,0.3l1.8,0.3l-4.6,-0.7Z" color="#473ee1"/>
<path d="M188.9,477.9l4.6,0.6l1.7,3.3l-4.6,-0.3Z" color="#4746ea"/>
<path d="M187.1,477.6l4.6,0.2l1.8,0.7l-4.6,-0.6Z" color="#484ef1"/>
<path d="M185.4,475.1l4.6,0.8l1.7,1.9l-4.6,-0.2Z" color="#4854f5"/>
<path d="M183.6,476l4.6,0.6l1.8,-0.7l-4.6,-0.8Z" color="#4759f8"/>
<path d="M181.9,472l4.6,1.2l1.7,3.4l-4.6,-0.6Z" color="#465ffb"/>
<path d="M180.1,470.6l4.6,1.2l1.8,1.4l-4.6,-1.2Z" color="#4269fe"/>
<path d="M178.4,470.4l4.6,1.9l1.7,-0.5l-4.6,-1.2Z" color="#3f6efe"/>
<path d="M176.6,467.8l4.6,2.2l1.8,2.3l-4.6,-1.9Z" color="#3a74fe"/>
<path d="M174.9,467.3l4.6,2.1l1.7,0.6l-4.6,-2.2Z" color="#327bfc"/>
<path d="M173.1,467.6l4.6,2.3l1.8,-0.5l-4.6,-2.1Z" color="#317efb"/>
<path d="M171.4,468l4.6,2.2l1.7,-0.3l-4.6,-2.3Z" color="#3080fb"/>
<path d="M169.6,468.4l4.6,2.1l1.8,-0.3l-4.6,-2.2Z" color="#2f81fa"/>
<path d="M167.9,469.3l4.6,1.9l1.7,-0.7l-4.6,-2.1Z" color="#2f82fa"/>
<path d="M166.1,471.2l4.6,2.2l1.8,-2.2l-4.6,-1.9Z" color="#3080fa"/>
<path d="M164.4,473l4.6,1.8l1.7,-1.4l-4.6,-2.2Z" color="#317dfc"/>
<path d="M162.6,475.8l4.6,1.7l1.8,-2.7l-4.6,-1.8Z" color="#3479fd"/>
<path d="M160.9,479.6l4.6,1.5l1.7,-3.6l-4.6,-1.7Z" color="#3c72ff"/>
<path d="M159.1,480.9l4.6,1.1l1.8,-0.9l-4.6,-1.5Z" color="#406dfe"/>
<path d="M157.4,484.6l4.6,1.4l1.7,-4l-4.6,-1.1Z" color="#4368fe"/>
<path d="M155.6,489.6l4.6,1l1.8,-4.6l-4.6,-1.4Z" color="#465efb"/>
<path d="M153.9,492.2l4.6,0.7l1.7,-2.3l-4.6,-1Z" color="#4756f6"/>
<path d="M152.1,495.7l4.6,0.5l1.8,-3.3l-4.6,-0.7Z" color="#4850f2"/>
<path d="M150.4,500.4l4.6,0.1l1.7,-4.3l-4.6,-0.5Z" color="#4747eb"/>
<path d="M148.6,502.9l4.6,0.5l1.8,-2.9l-4.6,-0.1Z" color="#473fe2"/>
<path d="M146.9,506.8l4.6,0.3l1.7,-3.7l-4.6,-0.5Z" color="#4539d9"/>
<path d="M145.1,508.9l4.6,0.6l1.8,-2.4l-4.6,-0.3Z" color="#4434ce"/>
<path d="M143.4,510.5l4.6,0.6l1.7,-1.6l-4.6,-0.6Z" color="#4331c8"/>
<path d="M141.6,512.7l4.6,0.5l1.8,-2.1l-4.6,-0.6Z" color="#422fc2"/>
<path d="M139.9,514.8l4.6,0.4l1.7,-2l-4.6,-0.5Z" color="#412dbb"/>
<path d="M138.1,516.8l4.6,0.5l1.8,-2.1l-4.6,-0.4Z" color="#402ab4"/>
<path d="M136.4,518.1l4.6,0.7l1.7,-1.5l-4.6,-0.5Z" color="#3f28af"/>
<path d="M134.6,519.1l4.6,1l1.8,-1.3l-4.6,-0.7Z" color="#3e28ac"/>
<path d="M132.9,519.7l4.6,1.4l1.7,-1l-4.6,-1Z" color="#3e27ab"/>
<path d="M131.1,520.3l4.6,1.6l1.8,-0.8l-4.6,-1.4Z" color="#3e27ac"/>
<path d="M129.4,520.8l4.6,1.8l1.7,-0.7l-4.6,-1.6Z" color="#3f28ad"/>
<path d="M127.6,521.3l4.6,1.9l1.8,-0.6l-4.6,-1.8Z" color="#3f28af"/>
<path d="M125.9,521.7l4.6,2.1l1.7,-0.6l-4.6,-1.9Z" color="#3f29b1"/>
<path d="M223.2,478l4.8,2.1l1.8,-0.8l-4.8,-2Z" color="#3f29b0"/>
<path d="M221.5,478.7l4.8,2.2l1.7,-0.8l-4.8,-2.1Z" color="#3f29b1"/>
<path d="M219.7,479.5l4.8,2.2l1.8,-0.8l-4.8,-2.2Z" color="#3f29b1"/>
<path d="M218,480.5l4.8,2.2l1.7,-1l-4.8,-2.2Z" color="#3f29b1"/>
<path d="M216.2,481.6l4.8,2.1l1.8,-1l-4.8,-2.2Z" color="#3f29b0"/>
<path d="M214.5,482.7l4.8,1.9l1.7,-0.9l-4.8,-2.1Z" color="#3f28ae"/>
<path d="M212.7,484l4.8,1.4l1.8,-0.8l-4.8,-1.9Z" color="#3f28ae"/>
<path d="M211,484.9l4.8,0.7l1.7,-0.2l-4.8,-1.4Z" color="#3f28ae"/>
<path d="M209.2,485.2l4.8,0.4l1.8,0l-4.8,-0.7Z" color="#3f29b1"/>
<path d="M207.5,485.3l4.8,0.3l1.7,0l-4.8,-0.4Z" color="#402ab5"/>
<path d="M205.7,485.1l4.8,0.3l1.8,0.2l-4.8,-0.3Z" color="#412cbb"/>
<path d="M204,484.8l4.8,0.4l1.7,0.2l-4.8,-0.3Z" color="#422fc1"/>
<path d="M202.2,484.6l4.8,0.6l1.8,0l-4.8,-0.4Z" color="#4331c7"/>
<path d="M200.5,484.5l4.8,0.2l1.7,0.5l-4.8,-0.6Z" color="#4433cd"/>
<path d="M198.7,483.7l4.8,0.3l1.8,0.7l-4.8,-0.2Z" color="#4536d4"/>
<path d="M197,482.1l4.8,0.8l1.7,1.1l-4.8,-0.3Z" color="#463bdc"/>
<path d="M195.2,481.8l4.8,0.1l1.8,1l-4.8,-0.8Z" color="#4740e4"/>
<path d="M193.5,478.5l4.8,0.5l1.7,2.9l-4.8,-0.1Z" color="#4848ec"/>
<path d="M191.7,477.8l4.8,0.3l1.8,0.9l-4.8,-0.5Z" color="#4850f2"/>
<path d="M190,475.9l4.8,0.7l1.7,1.5l-4.8,-0.3Z" color="#4756f6"/>
<path d="M188.2,476.6l4.8,0.3l1.8,-0.3l-4.8,-0.7Z" color="#475af9"/>
<path d="M186.5,473.2l4.8,0.5l1.7,3.2l-4.8,-0.3Z" color="#4660fc"/>
<path d="M184.7,471.8l4.8,0.9l1.8,1l-4.8,-0.5Z" color="#426afe"/>
<path d="M183,472.3l4.8,1l1.7,-0.6l-4.8,-0.9Z" color="#406dfe"/>
<path d="M181.2,470l4.8,1.7l1.8,1.6l-4.8,-1Z" color="#3b72ff"/>
<path d="M179.5,469.4l4.8,1.7l1.7,0.6l-4.8,-1.7Z" color="#3579fd"/>
<path d="M177.7,469.9l4.8,2l1.8,-0.8l-4.8,-1.7Z" color="#327bfc"/>
<path d="M176,470.2l4.8,2.2l1.7,-0.5l-4.8,-2Z" color="#327cfc"/>
<path d="M174.2,470.5l4.8,2.2l1.8,-0.3l-4.8,-2.2Z" color="#317efb"/>
<path d="M172.5,471.2l4.8,1.8l1.7,-0.3l-4.8,-2.2Z" color="#307ffb"/>
<path d="M170.7,473.4l4.8,1.9l1.8,-2.3l-4.8,-1.8Z" color="#317efb"/>
<path d="M169,474.8l4.8,1.5l1.7,-1l-4.8,-1.9Z" color="#337bfc"/>
<path d="M167.2,477.5l4.8,1.1l1.8,-2.3l-4.8,-1.5Z" color="#3678fd"/>
<path d="M165.5,481.1l4.8,1l1.7,-3.5l-4.8,-1.1Z" color="#3d71ff"/>
<path d="M163.7,482l4.8,1l1.8,-0.9l-4.8,-1Z" color="#406dfe"/>
<path d="M162,486l4.8,0.5l1.7,-3.5l-4.8,-1Z" color="#4368fe"/>
<path d="M160.2,490.6l4.8,0.6l1.8,-4.7l-4.8,-0.5Z" color="#465efb"/>
<path d="M158.5,492.9l4.8,0.6l1.7,-2.3l-4.8,-0.6Z" color="#4757f7"/>
<path d="M156.7,496.2l4.8,0.3l1.8,-3l-4.8,-0.6Z" color="#4852f4"/>
<path d="M155,500.5l4.8,0l1.7,-4l-4.8,-0.3Z" color="#4849ed"/>
<path d="M153.2,503.4l4.8,0.5l1.8,-3.4l-4.8,0Z" color="#4741e5"/>
<path d="M151.5,507.1l4.8,0.3l1.7,-3.5l-4.8,-0.5Z" color="#463adc"/>
<path d="M149.7,509.5l4.8,0.5l1.8,-2.6l-4.8,-0.3Z" color="#4435d1"/>
<path d="M148,511.1l4.8,0.7l1.7,-1.8l-4.8,-0.5Z" color="#4332ca"/>
<path d="M146.2,513.2l4.8,0.4l1.8,-1.8l-4.8,-0.7Z" color="#4330c5"/>
<path d="M144.5,515.2l4.8,0.4l1.7,-2l-4.8,-0.4Z" color="#422ebf"/>
<path d="M142.7,517.3l4.8,0.3l1.8,-2l-4.8,-0.4Z" color="#402bb8"/>
<path d="M141,518.8l4.8,0.4l1.7,-1.6l-4.8,-0.3Z" color="#4029b2"/>
<path d="M139.2,520.1l4.8,0.7l1.8,-1.6l-4.8,-0.4Z" color="#3f28ae"/>
<path d="M137.5,521.1l4.8,1.1l1.7,-1.4l-4.8,-0.7Z" color="#3e27ab"/>
<path d="M135.7,521.9l4.8,1.2l1.8,-0.9l-4.8,-1.1Z" color="#3e27aa"/>
<path d="M134,522.6l4.8,1.4l1.7,-0.9l-4.8,-1.2Z" color="#3e27ab"/>
<path d="M132.2,523.2l4.8,1.6l1.8,-0.8l-4.8,-1.4Z" color="#3e27ab"/>
<path d="M130.5,523.8l4.8,1.7l1.7,-0.7l-4.8,-1.6Z" color="#3e28ac"/>
<path d="M228,480.1l4.9,1.6l1.8,-0.8l-4.9,-1.6Z" color="#3e27ac"/>
<path d="M226.3,480.9l4.9,1.6l1.7,-0.8l-4.9,-1.6Z" color="#3e27ac"/>
<path d="M224.5,481.7l4.9,1.7l1.8,-0.9l-4.9,-1.6Z" color="#3e27ac"/>
<path d="M222.8,482.7l4.9,1.5l1.7,-0.8l-4.9,-1.7Z" color="#3e27ac"/>
<path d="M221,483.7l4.9,1.3l1.8,-0.8l-4.9,-1.5Z" color="#3e27ac"/>
<path d="M219.3,484.6l4.9,1l1.7,-0.6l-4.9,-1.3Z" color="#3e27ac"/>
<path d="M217.5,485.4l4.9,0.4l1.8,-0.2l-4.9,-1Z" color="#3f28ad"/>
<path d="M215.8,485.6l4.9,0.2l1.7,0l-4.9,-0.4Z" color="#3f29b1"/>
<path d="M214,485.6l4.9,0.2l1.8,0l-4.9,-0.2Z" color="#402ab5"/>
<path d="M212.3,485.6l4.9,0l1.7,0.2l-4.9,-0.2Z" color="#412cba"/>
<path d="M210.5,485.4l4.9,0.2l1.8,0l-4.9,0Z" color="#422ec0"/>
<path d="M208.8,485.2l4.9,0.4l1.7,0l-4.9,-0.2Z" color="#4330c5"/>
<path d="M207,485.2l4.9,0.3l1.8,0.1l-4.9,-0.4Z" color="#4332ca"/>
<path d="M205.3,484.7l4.9,0l1.7,0.8l-4.9,-0.3Z" color="#4435d1"/>
<path d="M203.5,484l4.9,0.2l1.8,0.5l-4.9,0Z" color="#4538d8"/>
<path d="M201.8,482.9l4.9,0.6l1.7,0.7l-4.9,-0.2Z" color="#463cdf"/>
<path d="M200,481.9l4.9,-0.3l1.8,1.9l-4.9,-0.6Z" color="#4742e6"/>
<path d="M198.3,479l4.9,0.4l1.7,2.2l-4.9,0.3Z" color="#484aee"/>
<path d="M196.5,478.1l4.9,0.4l1.8,0.9l-4.9,-0.4Z" color="#4852f4"/>
<path d="M194.8,476.6l4.9,0.6l1.7,1.3l-4.9,-0.4Z" color="#4758f8"/>
<path d="M193,476.9l4.9,0.2l1.8,0.1l-4.9,-0.6Z" color="#475cfa"/>
<path d="M191.3,473.7l4.9,0.3l1.7,3.1l-4.9,-0.2Z" color="#4563fc"/>
<path d="M189.5,472.7l4.9,0.6l1.8,0.7l-4.9,-0.3Z" color="#416bfe"/>
<path d="M187.8,473.3l4.9,0.1l1.7,-0.1l-4.9,-0.6Z" color="#3f6fff"/>
<path d="M186,471.7l4.9,0.8l1.8,0.9l-4.9,-0.1Z" color="#3b73fe"/>
<path d="M184.3,471.1l4.9,1.1l1.7,0.3l-4.9,-0.8Z" color="#3678fd"/>
<path d="M182.5,471.9l4.9,1.1l1.8,-0.8l-4.9,-1.1Z" color="#337afd"/>
<path d="M180.8,472.4l4.9,1.1l1.7,-0.5l-4.9,-1.1Z" color="#337bfc"/>
<path d="M179,472.7l4.9,1.2l1.8,-0.4l-4.9,-1.1Z" color="#327cfc"/>
<path d="M177.3,473l4.9,1.1l1.7,-0.2l-4.9,-1.2Z" color="#317efb"/>
<path d="M175.5,475.3l4.9,0.9l1.8,-2.1l-4.9,-1.1Z" color="#327dfc"/>
<path d="M173.8,476.3l4.9,0.9l1.7,-1l-4.9,-0.9Z" color="#337afd"/>
<path d="M172,478.6l4.9,0.4l1.8,-1.8l-4.9,-0.9Z" color="#3578fd"/>
<path d="M170.3,482.1l4.9,0.5l1.7,-3.6l-4.9,-0.4Z" color="#3b72ff"/>
<path d="M168.5,483l4.9,0.7l1.8,-1.1l-4.9,-0.5Z" color="#3f6efe"/>
<path d="M166.8,486.5l4.9,0.4l1.7,-3.2l-4.9,-0.7Z" color="#426afe"/>
<path d="M165,491.2l4.9,0.4l1.8,-4.7l-4.9,-0.4Z" color="#4660fc"/>
<path d="M163.3,493.5l4.9,0.4l1.7,-2.3l-4.9,-0.4Z" color="#4759f8"/>
<path d="M161.5,496.5l4.9,0.3l1.8,-2.9l-4.9,-0.4Z" color="#4854f5"/>
<path d="M159.8,500.5l4.9,-0.3l1.7,-3.4l-4.9,-0.3Z" color="#484cf0"/>
<path d="M158,503.9l4.9,0.2l1.8,-3.9l-4.9,0.3Z" color="#4744e8"/>
<path d="M156.3,507.4l4.9,0.1l1.7,-3.4l-4.9,-0.2Z" color="#463cdf"/>
<path d="M154.5,510l4.9,0.3l1.8,-2.8l-4.9,-0.1Z" color="#4537d5"/>
<path d="M152.8,511.8l4.9,0.4l1.7,-1.9l-4.9,-0.3Z" color="#4434ce"/>
<path d="M151,513.6l4.9,0.4l1.8,-1.8l-4.9,-0.4Z" color="#4332c9"/>
<path d="M149.3,515.6l4.9,0.2l1.7,-1.8l-4.9,-0.4Z" color="#4230c3"/>
<path d="M147.5,517.6l4.9,0.1l1.8,-1.9l-4.9,-0.2Z" color="#412dbd"/>
<path d="M145.8,519.2l4.9,0.2l1.7,-1.7l-4.9,-0.1Z" color="#402bb7"/>
<path d="M144,520.8l4.9,0.2l1.8,-1.6l-4.9,-0.2Z" color="#402ab3"/>
<path d="M142.3,522.2l4.9,0.4l1.7,-1.6l-4.9,-0.2Z" color="#3f28af"/>
<path d="M140.5,523.1l4.9,0.7l1.8,-1.2l-4.9,-0.4Z" color="#3e27ac"/>
<path d="M138.8,524l4.9,0.8l1.7,-1l-4.9,-0.7Z" color="#3e27ab"/>
<path d="M137,524.8l4.9,1l1.8,-1l-4.9,-0.8Z" color="#3e27ab"/>
<path d="M135.3,525.5l4.9,1.3l1.7,-1l-4.9,-1Z" color="#3e27aa"/>
<path d="M232.9,481.7l5,0.9l1.8,-0.9l-5,-0.8Z" color="#3e27ab"/>
<path d="M231.2,482.5l5,0.9l1.7,-0.8l-5,-0.9Z" color="#3e27ab"/>
<path d="M229.4,483.4l5,0.8l1.8,-0.8l-5,-0.9Z" color="#3e27ab"/>
<path d="M227.7,484.2l5,0.5l1.7,-0.5l-5,-0.8Z" color="#3e27ac"/>
<path d="M225.9,485l5,0.2l1.8,-0.5l-5,-0.5Z" color="#3f28ad"/>
<path d="M224.2,485.6l5,-0.1l1.7,-0.3l-5,-0.2Z" color="#3f28af"/>
<path d="M222.4,485.8l5,-0.2l1.8,-0.1l-5,0.1Z" color="#3f29b2"/>
<path d="M220.7,485.8l5,-0.2l1.7,0l-5,0.2Z" color="#402bb7"/>
<path d="M218.9,485.8l5,-0.1l1.8,-0.1l-5,0.2Z" color="#412dbc"/>
<path d="M217.2,485.6l5,0l1.7,0.1l-5,0.1Z" color="#422fc1"/>
<path d="M215.4,485.6l5,0l1.8,0l-5,0Z" color="#4331c6"/>
<path d="M213.7,485.6l5,0.1l1.7,-0.1l-5,0Z" color="#4332cb"/>
<path d="M211.9,485.5l5,-0.2l1.8,0.4l-5,-0.1Z" color="#4434d0"/>
<path d="M210.2,484.7l5,-0.1l1.7,0.7l-5,0.2Z" color="#4538d7"/>
<path d="M208.4,484.2l5,-0.1l1.8,0.5l-5,0.1Z" color="#463bdd"/>
<path d="M206.7,483.5l5,-0.3l1.7,0.9l-5,0.1Z" color="#473fe3"/>
<path d="M204.9,481.6l5,-0.5l1.8,2.1l-5,0.3Z" color="#4746ea"/>
<path d="M203.2,479.4l5,0.3l1.7,1.4l-5,0.5Z" color="#484ef1"/>
<path d="M201.4,478.5l5,0.2l1.8,1l-5,-0.3Z" color="#4854f5"/>
<path d="M199.7,477.2l5,0.4l1.7,1.1l-5,-0.2Z" color="#475af9"/>
<path d="M197.9,477.1l5,-0.1l1.8,0.6l-5,-0.4Z" color="#465efb"/>
<path d="M196.2,474l5,0.1l1.7,2.9l-5,0.1Z" color="#4466fd"/>
<path d="M194.4,473.3l5,0.3l1.8,0.5l-5,-0.1Z" color="#3f6efe"/>
<path d="M192.7,473.4l5,-0.1l1.7,0.3l-5,-0.3Z" color="#3c71ff"/>
<path d="M190.9,472.5l5,0.4l1.8,0.4l-5,0.1Z" color="#3875fe"/>
<path d="M189.2,472.2l5,0.6l1.7,0.1l-5,-0.4Z" color="#3479fd"/>
<path d="M187.4,473l5,0.2l1.8,-0.4l-5,-0.6Z" color="#327bfc"/>
<path d="M185.7,473.5l5,0.1l1.7,-0.4l-5,-0.2Z" color="#327cfc"/>
<path d="M183.9,473.9l5,0l1.8,-0.3l-5,-0.1Z" color="#317efb"/>
<path d="M182.2,474.1l5,0.4l1.7,-0.6l-5,0Z" color="#307ffb"/>
<path d="M180.4,476.2l5,0.1l1.8,-1.8l-5,-0.4Z" color="#317efb"/>
<path d="M178.7,477.2l5,0.3l1.7,-1.2l-5,-0.1Z" color="#327cfc"/>
<path d="M176.9,479l5,0.2l1.8,-1.7l-5,-0.3Z" color="#337afd"/>
<path d="M175.2,482.6l5,0.1l1.7,-3.5l-5,-0.2Z" color="#3975fe"/>
<path d="M173.4,483.7l5,0.5l1.8,-1.5l-5,-0.1Z" color="#3e70ff"/>
<path d="M171.7,486.9l5,0.2l1.7,-2.9l-5,-0.5Z" color="#416cfe"/>
<path d="M169.9,491.6l5,0.2l1.8,-4.7l-5,-0.2Z" color="#4563fc"/>
<path d="M168.2,493.9l5,0.2l1.7,-2.3l-5,-0.2Z" color="#475bf9"/>
<path d="M166.4,496.8l5,0.2l1.8,-2.9l-5,-0.2Z" color="#4756f7"/>
<path d="M164.7,500.2l5,-0.3l1.7,-2.9l-5,-0.2Z" color="#4850f2"/>
<path d="M162.9,504.1l5,-0.6l1.8,-3.6l-5,0.3Z" color="#4848ec"/>
<path d="M161.2,507.5l5,-0.1l1.7,-3.9l-5,0.6Z" color="#4740e4"/>
<path d="M159.4,510.3l5,-0.2l1.8,-2.7l-5,0.1Z" color="#463ada"/>
<path d="M157.7,512.2l5,0.1l1.7,-2.2l-5,0.2Z" color="#4536d3"/>
<path d="M155.9,514l5,0.2l1.8,-1.9l-5,-0.1Z" color="#4433cd"/>
<path d="M154.2,515.8l5,0.1l1.7,-1.7l-5,-0.2Z" color="#4331c8"/>
<path d="M152.4,517.7l5,0l1.8,-1.8l-5,-0.1Z" color="#422fc3"/>
<path d="M150.7,519.4l5,-0.1l1.7,-1.6l-5,0Z" color="#412ebd"/>
<path d="M148.9,521l5,-0.1l1.8,-1.6l-5,0.1Z" color="#412cb9"/>
<path d="M147.2,522.6l5,-0.1l1.7,-1.6l-5,0.1Z" color="#402ab5"/>
<path d="M145.4,523.8l5,0l1.8,-1.3l-5,0.1Z" color="#3f29b1"/>
<path d="M143.7,524.8l5,0.2l1.7,-1.2l-5,0Z" color="#3f29af"/>
<path d="M141.9,525.8l5,0.3l1.8,-1.1l-5,-0.2Z" color="#3f28ae"/>
<path d="M140.2,526.8l5,0.4l1.7,-1.1l-5,-0.3Z" color="#3f28ad"/>
<path d="M237.9,482.6l5.2,-0.4l1.8,-0.8l-5.2,0.3Z" color="#3f29b0"/>
<path d="M236.2,483.4l5.2,-0.4l1.7,-0.8l-5.2,0.4Z" color="#3f29b1"/>
<path d="M234.4,484.2l5.2,-0.5l1.8,-0.7l-5.2,0.4Z" color="#3f29b1"/>
<path d="M232.7,484.7l5.2,-0.5l1.7,-0.5l-5.2,0.5Z" color="#3f29b2"/>
<path d="M230.9,485.2l5.2,-0.6l1.8,-0.4l-5.2,0.5Z" color="#402ab5"/>
<path d="M229.2,485.5l5.2,-0.7l1.7,-0.2l-5.2,0.6Z" color="#402bb8"/>
<path d="M227.4,485.6l5.2,-0.6l1.8,-0.2l-5.2,0.7Z" color="#412dbb"/>
<path d="M225.7,485.6l5.2,-0.4l1.7,-0.2l-5.2,0.6Z" color="#422ebf"/>
<path d="M223.9,485.7l5.2,-0.2l1.8,-0.3l-5.2,0.4Z" color="#4230c3"/>
<path d="M222.2,485.6l5.2,-0.2l1.7,0.1l-5.2,0.2Z" color="#4331c8"/>
<path d="M220.4,485.6l5.2,-0.4l1.8,0.2l-5.2,0.2Z" color="#4433cd"/>
<path d="M218.7,485.7l5.2,-0.7l1.7,0.2l-5.2,0.4Z" color="#4535d2"/>
<path d="M216.9,485.3l5.2,-0.7l1.8,0.4l-5.2,0.7Z" color="#4538d7"/>
<path d="M215.2,484.6l5.2,-0.6l1.7,0.6l-5.2,0.7Z" color="#463bde"/>
<path d="M213.4,484.1l5.2,-1l1.8,0.9l-5.2,0.6Z" color="#4740e3"/>
<path d="M211.7,483.2l5.2,-1.6l1.7,1.5l-5.2,1Z" color="#4745e9"/>
<path d="M209.9,481.1l5.2,-0.8l1.8,1.3l-5.2,1.6Z" color="#484cef"/>
<path d="M208.2,479.7l5.2,0l1.7,0.6l-5.2,0.8Z" color="#4852f4"/>
<path d="M206.4,478.7l5.2,0l1.8,1l-5.2,0Z" color="#4757f7"/>
<path d="M204.7,477.6l5.2,0.4l1.7,0.7l-5.2,0Z" color="#475cfa"/>
<path d="M202.9,477l5.2,-0.7l1.8,1.7l-5.2,-0.4Z" color="#4562fc"/>
<path d="M201.2,474.1l5.2,0l1.7,2.2l-5.2,0.7Z" color="#426afe"/>
<path d="M199.4,473.6l5.2,0.1l1.8,0.4l-5.2,0Z" color="#3d71ff"/>
<path d="M197.7,473.3l5.2,0l1.7,0.4l-5.2,-0.1Z" color="#3975fe"/>
<path d="M195.9,472.9l5.2,0.2l1.8,0.2l-5.2,0Z" color="#3579fd"/>
<path d="M194.2,472.8l5.2,0.1l1.7,0.2l-5.2,-0.2Z" color="#327cfc"/>
<path d="M192.4,473.2l5.2,-0.2l1.8,-0.1l-5.2,-0.1Z" color="#317efb"/>
<path d="M190.7,473.6l5.2,-0.2l1.7,-0.4l-5.2,0.2Z" color="#3080fb"/>
<path d="M188.9,473.9l5.2,0.1l1.8,-0.6l-5.2,0.2Z" color="#2f81fa"/>
<path d="M187.2,474.5l5.2,0.3l1.7,-0.8l-5.2,-0.1Z" color="#2f82fa"/>
<path d="M185.4,476.3l5.2,-0.1l1.8,-1.4l-5.2,-0.3Z" color="#2f81fa"/>
<path d="M183.7,477.5l5.2,0.1l1.7,-1.4l-5.2,0.1Z" color="#307ffb"/>
<path d="M181.9,479.2l5.2,0.1l1.8,-1.7l-5.2,-0.1Z" color="#317dfc"/>
<path d="M180.2,482.7l5.2,-0.1l1.7,-3.3l-5.2,-0.1Z" color="#3678fd"/>
<path d="M178.4,484.2l5.2,0.4l1.8,-2l-5.2,0.1Z" color="#3b73fe"/>
<path d="M176.7,487.1l5.2,0.2l1.7,-2.7l-5.2,-0.4Z" color="#3f6eff"/>
<path d="M174.9,491.8l5.2,0l1.8,-4.5l-5.2,-0.2Z" color="#4466fd"/>
<path d="M173.2,494.1l5.2,0.1l1.7,-2.4l-5.2,0Z" color="#465efb"/>
<path d="M171.4,497l5.2,-0.1l1.8,-2.7l-5.2,-0.1Z" color="#4759f8"/>
<path d="M169.7,499.9l5.2,-0.5l1.7,-2.5l-5.2,0.1Z" color="#4854f5"/>
<path d="M167.9,503.5l5.2,-1.3l1.8,-2.8l-5.2,0.5Z" color="#484ef1"/>
<path d="M166.2,507.4l5.2,-1.2l1.7,-4l-5.2,1.3Z" color="#4746ea"/>
<path d="M164.4,510.1l5.2,-0.6l1.8,-3.3l-5.2,1.2Z" color="#473ee1"/>
<path d="M162.7,512.3l5.2,-0.6l1.7,-2.2l-5.2,0.6Z" color="#4639da"/>
<path d="M160.9,514.2l5.2,-0.4l1.8,-2.1l-5.2,0.6Z" color="#4536d4"/>
<path d="M159.2,515.9l5.2,-0.1l1.7,-2l-5.2,0.4Z" color="#4434cf"/>
<path d="M157.4,517.7l5.2,-0.1l1.8,-1.8l-5.2,0.1Z" color="#4332c9"/>
<path d="M155.7,519.3l5.2,-0.3l1.7,-1.4l-5.2,0.1Z" color="#4330c5"/>
<path d="M153.9,520.9l5.2,-0.3l1.8,-1.6l-5.2,0.3Z" color="#422fc1"/>
<path d="M152.2,522.5l5.2,-0.4l1.7,-1.5l-5.2,0.3Z" color="#412dbd"/>
<path d="M150.4,523.8l5.2,-0.4l1.8,-1.3l-5.2,0.4Z" color="#412cb9"/>
<path d="M148.7,525l5.2,-0.4l1.7,-1.2l-5.2,0.4Z" color="#402bb7"/>
<path d="M146.9,526.1l5.2,-0.3l1.8,-1.2l-5.2,0.4Z" color="#402ab5"/>
<path d="M145.2,527.2l5.2,-0.3l1.7,-1.1l-5.2,0.3Z" color="#402ab4"/>
<path d="M243.1,482.2l5.3,-1.1l1.7,-0.7l-5.2,1Z" color="#412dbb"/>
<path d="M241.4,483l5.2,-1.1l1.8,-0.8l-5.3,1.1Z" color="#412dbc"/>
<path d="M239.6,483.7l5.3,-1.1l1.7,-0.7l-5.2,1.1Z" color="#412dbd"/>
<path d="M237.9,484.2l5.2,-0.9l1.8,-0.7l-5.3,1.1Z" color="#412ebe"/>
<path d="M236.1,484.6l5.3,-1l1.7,-0.3l-5.2,0.9Z" color="#422ec0"/>
<path d="M234.4,484.8l5.2,-0.9l1.8,-0.3l-5.3,1Z" color="#4230c3"/>
<path d="M232.6,485l5.3,-0.7l1.7,-0.4l-5.2,0.9Z" color="#4331c6"/>
<path d="M230.9,485.2l5.2,-0.6l1.8,-0.3l-5.3,0.7Z" color="#4332ca"/>
<path d="M229.1,485.5l5.3,-0.7l1.7,-0.2l-5.2,0.6Z" color="#4433cd"/>
<path d="M227.4,485.4l5.2,-0.9l1.8,0.3l-5.3,0.7Z" color="#4435d1"/>
<path d="M225.6,485.2l5.3,-1.1l1.7,0.4l-5.2,0.9Z" color="#4537d7"/>
<path d="M223.9,485l5.2,-1.2l1.8,0.3l-5.3,1.1Z" color="#463adc"/>
<path d="M222.1,484.6l5.3,-1.3l1.7,0.5l-5.2,1.2Z" color="#463ee0"/>
<path d="M220.4,484l5.2,-1.9l1.8,1.2l-5.3,1.3Z" color="#4742e6"/>
<path d="M218.6,483.1l5.3,-2.1l1.7,1.1l-5.2,1.9Z" color="#4747eb"/>
<path d="M216.9,481.6l5.2,-1.6l1.8,1l-5.3,2.1Z" color="#484df0"/>
<path d="M215.1,480.3l5.3,-0.7l1.7,0.4l-5.2,1.6Z" color="#4852f4"/>
<path d="M213.4,479.7l5.2,-0.6l1.8,0.5l-5.3,0.7Z" color="#4757f7"/>
<path d="M211.6,478.7l5.3,-0.5l1.7,0.9l-5.2,0.6Z" color="#475bfa"/>
<path d="M209.9,478l5.2,-1l1.8,1.2l-5.3,0.5Z" color="#4660fc"/>
<path d="M208.1,476.3l5.3,-1.4l1.7,2.1l-5.2,1Z" color="#4367fd"/>
<path d="M206.4,474.1l5.2,-0.2l1.8,1l-5.3,1.4Z" color="#3e6fff"/>
<path d="M204.6,473.7l5.3,-0.1l1.7,0.3l-5.2,0.2Z" color="#3975fe"/>
<path d="M202.9,473.3l5.2,-0.2l1.8,0.5l-5.3,0.1Z" color="#3579fd"/>
<path d="M201.1,473.1l5.3,-0.2l1.7,0.2l-5.2,0.2Z" color="#327cfc"/>
<path d="M199.4,472.9l5.2,-0.1l1.8,0.1l-5.3,0.2Z" color="#307ffb"/>
<path d="M197.6,473l5.3,-0.1l1.7,-0.1l-5.2,0.1Z" color="#2f82fa"/>
<path d="M195.9,473.4l5.2,0l1.8,-0.5l-5.3,0.1Z" color="#2e83f9"/>
<path d="M194.1,474l5.3,0.1l1.7,-0.7l-5.2,0Z" color="#2e84f8"/>
<path d="M192.4,474.8l5.2,0.3l1.8,-1l-5.3,-0.1Z" color="#2e85f8"/>
<path d="M190.6,476.2l5.3,0.1l1.7,-1.2l-5.2,-0.3Z" color="#2e84f8"/>
<path d="M188.9,477.6l5.2,0.1l1.8,-1.4l-5.3,-0.1Z" color="#2f83f9"/>
<path d="M187.1,479.3l5.3,0l1.7,-1.6l-5.2,-0.1Z" color="#2f81fa"/>
<path d="M185.4,482.6l5.2,-0.7l1.8,-2.6l-5.3,0Z" color="#327cfc"/>
<path d="M183.6,484.6l5.3,0.1l1.7,-2.8l-5.2,0.7Z" color="#3777fe"/>
<path d="M181.9,487.3l5.2,-0.2l1.8,-2.4l-5.3,-0.1Z" color="#3c71ff"/>
<path d="M180.1,491.8l5.3,-0.8l1.7,-3.9l-5.2,0.2Z" color="#426afe"/>
<path d="M178.4,494.2l5.2,-0.4l1.8,-2.8l-5.3,0.8Z" color="#4562fc"/>
<path d="M176.6,496.9l5.3,-0.6l1.7,-2.5l-5.2,0.4Z" color="#465dfa"/>
<path d="M174.9,499.4l5.2,-0.7l1.8,-2.4l-5.3,0.6Z" color="#4758f8"/>
<path d="M173.1,502.2l5.3,-1.3l1.7,-2.2l-5.2,0.7Z" color="#4854f5"/>
<path d="M171.4,506.2l5.2,-2.5l1.8,-2.8l-5.3,1.3Z" color="#484ef1"/>
<path d="M169.6,509.5l5.3,-2.2l1.7,-3.6l-5.2,2.5Z" color="#4746ea"/>
<path d="M167.9,511.7l5.2,-1.2l1.8,-3.2l-5.3,2.2Z" color="#4740e3"/>
<path d="M166.1,513.8l5.3,-1.1l1.7,-2.2l-5.2,1.2Z" color="#463bdd"/>
<path d="M164.4,515.8l5.2,-1l1.8,-2.1l-5.3,1.1Z" color="#4538d8"/>
<path d="M162.6,517.6l5.3,-0.7l1.7,-2.1l-5.2,1Z" color="#4536d2"/>
<path d="M160.9,519l5.2,-0.5l1.8,-1.6l-5.3,0.7Z" color="#4434ce"/>
<path d="M159.1,520.6l5.3,-0.5l1.7,-1.6l-5.2,0.5Z" color="#4332ca"/>
<path d="M157.4,522.1l5.2,-0.7l1.8,-1.3l-5.3,0.5Z" color="#4331c6"/>
<path d="M155.6,523.4l5.3,-0.7l1.7,-1.3l-5.2,0.7Z" color="#4230c3"/>
<path d="M153.9,524.6l5.2,-0.7l1.8,-1.2l-5.3,0.7Z" color="#422fc1"/>
<path d="M152.1,525.8l5.3,-0.8l1.7,-1.1l-5.2,0.7Z" color="#422ebf"/>
<path d="M150.4,526.9l5.2,-0.7l1.8,-1.2l-5.3,0.8Z" color="#412ebd"/>
<path d="M248.4,481.1l5.4,-1l1.7,-0.8l-5.4,1.1Z" color="#4332c8"/>
<path d="M246.6,481.9l5.4,-1.1l1.8,-0.7l-5.4,1Z" color="#4332c9"/>
<path d="M244.9,482.6l5.4,-1.1l1.7,-0.7l-5.4,1.1Z" color="#4332ca"/>
<path d="M243.1,483.3l5.4,-1.1l1.8,-0.7l-5.4,1.1Z" color="#4332ca"/>
<path d="M241.4,483.6l5.4,-0.9l1.7,-0.5l-5.4,1.1Z" color="#4433cc"/>
<path d="M239.6,483.9l5.4,-0.9l1.8,-0.3l-5.4,0.9Z" color="#4434cf"/>
<path d="M237.9,484.3l5.4,-1.1l1.7,-0.2l-5.4,0.9Z" color="#4435d2"/>
<path d="M236.1,484.6l5.4,-1.3l1.8,-0.1l-5.4,1.1Z" color="#4537d5"/>
<path d="M234.4,484.8l5.4,-1.6l1.7,0.1l-5.4,1.3Z" color="#4538d8"/>
<path d="M232.6,484.5l5.4,-1.6l1.8,0.3l-5.4,1.6Z" color="#463bdd"/>
<path d="M230.9,484.1l5.4,-1.9l1.7,0.7l-5.4,1.6Z" color="#473ee2"/>
<path d="M229.1,483.8l5.4,-2.6l1.8,1l-5.4,1.9Z" color="#4742e6"/>
<path d="M227.4,483.3l5.4,-3l1.7,0.9l-5.4,2.6Z" color="#4747eb"/>
<path d="M225.6,482.1l5.4,-2.3l1.8,0.5l-5.4,3Z" color="#484bef"/>
<path d="M223.9,481l5.4,-1.6l1.7,0.4l-5.4,2.3Z" color="#4850f3"/>
<path d="M222.1,480l5.4,-1l1.8,0.4l-5.4,1.6Z" color="#4755f6"/>
<path d="M220.4,479.6l5.4,-1.2l1.7,0.6l-5.4,1Z" color="#4759f8"/>
<path d="M218.6,479.1l5.4,-1.6l1.8,0.9l-5.4,1.2Z" color="#465dfa"/>
<path d="M216.9,478.2l5.4,-2.4l1.7,1.7l-5.4,1.6Z" color="#4563fc"/>
<path d="M215.1,477l5.4,-2.6l1.8,1.4l-5.4,2.4Z" color="#4269fe"/>
<path d="M213.4,474.9l5.4,-1.5l1.7,1l-5.4,2.6Z" color="#3e70ff"/>
<path d="M211.6,473.9l5.4,-0.9l1.8,0.4l-5.4,1.5Z" color="#3876fe"/>
<path d="M209.9,473.6l5.4,-1l1.7,0.4l-5.4,0.9Z" color="#337afd"/>
<path d="M208.1,473.1l5.4,-0.9l1.8,0.4l-5.4,1Z" color="#317efb"/>
<path d="M206.4,472.9l5.4,-1.1l1.7,0.4l-5.4,0.9Z" color="#2f82fa"/>
<path d="M204.6,472.8l5.4,-1l1.8,0l-5.4,1.1Z" color="#2e85f8"/>
<path d="M202.9,472.9l5.4,-0.8l1.7,-0.3l-5.4,1Z" color="#2e87f7"/>
<path d="M201.1,473.4l5.4,-0.7l1.8,-0.6l-5.4,0.8Z" color="#2d88f6"/>
<path d="M199.4,474.1l5.4,-0.7l1.7,-0.7l-5.4,0.7Z" color="#2d89f5"/>
<path d="M197.6,475.1l5.4,-0.5l1.8,-1.2l-5.4,0.7Z" color="#2d89f6"/>
<path d="M195.9,476.3l5.4,-0.4l1.7,-1.3l-5.4,0.5Z" color="#2d88f6"/>
<path d="M194.1,477.7l5.4,-0.4l1.8,-1.4l-5.4,0.4Z" color="#2e86f7"/>
<path d="M192.4,479.3l5.4,-0.3l1.7,-1.7l-5.4,0.4Z" color="#2e84f8"/>
<path d="M190.6,481.9l5.4,-1.2l1.8,-1.7l-5.4,0.3Z" color="#2f82fa"/>
<path d="M188.9,484.7l5.4,-1.3l1.7,-2.7l-5.4,1.2Z" color="#317dfc"/>
<path d="M187.1,487.1l5.4,-0.7l1.8,-3l-5.4,1.3Z" color="#3777fe"/>
<path d="M185.4,491l5.4,-1.8l1.7,-2.8l-5.4,0.7Z" color="#3d70ff"/>
<path d="M183.6,493.8l5.4,-1.7l1.8,-2.9l-5.4,1.8Z" color="#4269fe"/>
<path d="M181.9,496.3l5.4,-1.2l1.7,-3l-5.4,1.7Z" color="#4563fd"/>
<path d="M180.1,498.7l5.4,-1.1l1.8,-2.5l-5.4,1.2Z" color="#465efb"/>
<path d="M178.4,500.9l5.4,-1l1.7,-2.3l-5.4,1.1Z" color="#475af9"/>
<path d="M176.6,503.7l5.4,-1.6l1.8,-2.2l-5.4,1Z" color="#4756f6"/>
<path d="M174.9,507.3l5.4,-3.3l1.7,-1.9l-5.4,1.6Z" color="#4851f3"/>
<path d="M173.1,510.5l5.4,-3.9l1.8,-2.6l-5.4,3.3Z" color="#484bef"/>
<path d="M171.4,512.7l5.4,-3l1.7,-3.1l-5.4,3.9Z" color="#4745e9"/>
<path d="M169.6,514.8l5.4,-2.1l1.8,-3l-5.4,3Z" color="#4740e4"/>
<path d="M167.9,516.9l5.4,-1.8l1.7,-2.4l-5.4,2.1Z" color="#463cdf"/>
<path d="M166.1,518.5l5.4,-1.5l1.8,-1.9l-5.4,1.8Z" color="#4639d9"/>
<path d="M164.4,520.1l5.4,-1.3l1.7,-1.8l-5.4,1.5Z" color="#4537d5"/>
<path d="M162.6,521.4l5.4,-1l1.8,-1.6l-5.4,1.3Z" color="#4435d2"/>
<path d="M160.9,522.7l5.4,-0.9l1.7,-1.4l-5.4,1Z" color="#4434cf"/>
<path d="M159.1,523.9l5.4,-1l1.8,-1.1l-5.4,0.9Z" color="#4433cd"/>
<path d="M157.4,525l5.4,-1l1.7,-1.1l-5.4,1Z" color="#4433cb"/>
<path d="M155.6,526.2l5.4,-1l1.8,-1.2l-5.4,1Z" color="#4332c9"/>
<path d="M253.8,480.1l5.5,-1.4l1.8,-0.8l-5.6,1.4Z" color="#4537d6"/>
<path d="M252,480.8l5.6,-1.3l1.7,-0.8l-5.5,1.4Z" color="#4537d6"/>
<path d="M250.3,481.5l5.5,-1.3l1.8,-0.7l-5.6,1.3Z" color="#4537d7"/>
<path d="M248.5,482.2l5.6,-1.6l1.7,-0.4l-5.5,1.3Z" color="#4538d7"/>
<path d="M246.8,482.7l5.5,-1.7l1.8,-0.4l-5.6,1.6Z" color="#4539d9"/>
<path d="M245,483l5.6,-1.6l1.7,-0.4l-5.5,1.7Z" color="#463adb"/>
<path d="M243.3,483.2l5.5,-2l1.8,0.2l-5.6,1.6Z" color="#463cde"/>
<path d="M241.5,483.3l5.6,-2.6l1.7,0.5l-5.5,2Z" color="#473ee2"/>
<path d="M239.8,483.2l5.5,-3.2l1.8,0.7l-5.6,2.6Z" color="#4742e6"/>
<path d="M238,482.9l5.6,-3.4l1.7,0.5l-5.5,3.2Z" color="#4745e9"/>
<path d="M236.3,482.2l5.5,-3.1l1.8,0.4l-5.6,3.4Z" color="#4849ed"/>
<path d="M234.5,481.2l5.6,-2.5l1.7,0.4l-5.5,3.1Z" color="#484df1"/>
<path d="M232.8,480.3l5.5,-1.6l1.8,0l-5.6,2.5Z" color="#4851f4"/>
<path d="M231,479.8l5.6,-1.2l1.7,0.1l-5.5,1.6Z" color="#4755f6"/>
<path d="M229.3,479.4l5.5,-1.4l1.8,0.6l-5.6,1.2Z" color="#4758f8"/>
<path d="M227.5,479l5.6,-2.2l1.7,1.2l-5.5,1.4Z" color="#475dfa"/>
<path d="M225.8,478.4l5.5,-3.1l1.8,1.5l-5.6,2.2Z" color="#4562fc"/>
<path d="M224,477.5l5.6,-3.7l1.7,1.5l-5.5,3.1Z" color="#4368fe"/>
<path d="M222.3,475.8l5.5,-2.9l1.8,0.9l-5.6,3.7Z" color="#3f6eff"/>
<path d="M220.5,474.4l5.6,-2l1.7,0.5l-5.5,2.9Z" color="#3974fe"/>
<path d="M218.8,473.4l5.5,-1.6l1.8,0.6l-5.6,2Z" color="#347afd"/>
<path d="M217,473l5.6,-1.8l1.7,0.6l-5.5,1.6Z" color="#307efb"/>
<path d="M215.3,472.6l5.5,-2.3l1.8,0.9l-5.6,1.8Z" color="#2f82f9"/>
<path d="M213.5,472.2l5.6,-2.6l1.7,0.7l-5.5,2.3Z" color="#2e87f7"/>
<path d="M211.8,471.8l5.5,-2.3l1.8,0.1l-5.6,2.6Z" color="#2d8af5"/>
<path d="M210,471.8l5.6,-2l1.7,-0.3l-5.5,2.3Z" color="#2d8cf3"/>
<path d="M208.3,472.1l5.5,-1.9l1.8,-0.4l-5.6,2Z" color="#2c8ef1"/>
<path d="M206.5,472.7l5.6,-1.8l1.7,-0.7l-5.5,1.9Z" color="#2c8ff1"/>
<path d="M204.8,473.4l5.5,-1.7l1.8,-0.8l-5.6,1.8Z" color="#2c8ff0"/>
<path d="M203,474.6l5.6,-1.7l1.7,-1.2l-5.5,1.7Z" color="#2c8ff1"/>
<path d="M201.3,475.9l5.5,-1.7l1.8,-1.3l-5.6,1.7Z" color="#2c8ef1"/>
<path d="M199.5,477.3l5.6,-1.5l1.7,-1.6l-5.5,1.7Z" color="#2d8cf3"/>
<path d="M197.8,479l5.5,-1.3l1.8,-1.9l-5.6,1.5Z" color="#2d8af4"/>
<path d="M196,480.7l5.6,-1l1.7,-2l-5.5,1.3Z" color="#2d88f6"/>
<path d="M194.3,483.4l5.5,-1.6l1.8,-2.1l-5.6,1Z" color="#2e84f8"/>
<path d="M192.5,486.4l5.6,-2.5l1.7,-2.1l-5.5,1.6Z" color="#307ffb"/>
<path d="M190.8,489.2l5.5,-2.5l1.8,-2.8l-5.6,2.5Z" color="#347afd"/>
<path d="M189,492.1l5.6,-2.5l1.7,-2.9l-5.5,2.5Z" color="#3a74fe"/>
<path d="M187.3,495.1l5.5,-2.6l1.8,-2.9l-5.6,2.5Z" color="#406dfe"/>
<path d="M185.5,497.6l5.6,-2.2l1.7,-2.9l-5.5,2.6Z" color="#4367fd"/>
<path d="M183.8,499.9l5.5,-1.7l1.8,-2.8l-5.6,2.2Z" color="#4562fc"/>
<path d="M182,502.1l5.6,-1.4l1.7,-2.5l-5.5,1.7Z" color="#465dfb"/>
<path d="M180.3,504l5.5,-1.3l1.8,-2l-5.6,1.4Z" color="#475af9"/>
<path d="M178.5,506.6l5.6,-2l1.7,-1.9l-5.5,1.3Z" color="#4756f7"/>
<path d="M176.8,509.7l5.5,-3.2l1.8,-1.9l-5.6,2Z" color="#4852f4"/>
<path d="M175,512.7l5.6,-4.3l1.7,-1.9l-5.5,3.2Z" color="#484df0"/>
<path d="M173.3,515.1l5.5,-4.2l1.8,-2.5l-5.6,4.3Z" color="#4848ec"/>
<path d="M171.5,517l5.6,-3.3l1.7,-2.8l-5.5,4.2Z" color="#4744e8"/>
<path d="M169.8,518.8l5.5,-2.7l1.8,-2.4l-5.6,3.3Z" color="#4740e4"/>
<path d="M168,520.4l5.6,-2.1l1.7,-2.2l-5.5,2.7Z" color="#463ddf"/>
<path d="M166.3,521.8l5.5,-2l1.8,-1.5l-5.6,2.1Z" color="#463bdc"/>
<path d="M164.5,522.9l5.6,-2l1.7,-1.1l-5.5,2Z" color="#4639da"/>
<path d="M162.8,524l5.5,-2l1.8,-1.1l-5.6,2Z" color="#4539d9"/>
<path d="M161,525.2l5.6,-2.1l1.7,-1.1l-5.5,2Z" color="#4538d8"/>
<path d="M259.3,478.7l5.7,-2.9l1.7,-0.7l-5.6,2.8Z" color="#4740e4"/>
<path d="M257.6,479.5l5.6,-2.9l1.8,-0.8l-5.7,2.9Z" color="#4740e4"/>
<path d="M255.8,480.2l5.7,-3.2l1.7,-0.4l-5.6,2.9Z" color="#4741e5"/>
<path d="M254.1,480.6l5.6,-3.5l1.8,-0.1l-5.7,3.2Z" color="#4742e6"/>
<path d="M252.3,481l5.7,-3.8l1.7,-0.1l-5.6,3.5Z" color="#4744e8"/>
<path d="M250.6,481.4l5.6,-4.1l1.8,-0.1l-5.7,3.8Z" color="#4745ea"/>
<path d="M248.8,481.2l5.7,-4.1l1.7,0.2l-5.6,4.1Z" color="#4848ec"/>
<path d="M247.1,480.7l5.6,-3.7l1.8,0.1l-5.7,4.1Z" color="#484bef"/>
<path d="M245.3,480l5.7,-2.8l1.7,-0.2l-5.6,3.7Z" color="#484ef1"/>
<path d="M243.6,479.5l5.6,-2.1l1.8,-0.2l-5.7,2.8Z" color="#4851f3"/>
<path d="M241.8,479.1l5.7,-1.6l1.7,-0.1l-5.6,2.1Z" color="#4854f5"/>
<path d="M240.1,478.7l5.6,-1.3l1.8,0.1l-5.7,1.6Z" color="#4757f7"/>
<path d="M238.3,478.7l5.7,-1.5l1.7,0.2l-5.6,1.3Z" color="#475af9"/>
<path d="M236.6,478.6l5.6,-3.2l1.8,1.8l-5.7,1.5Z" color="#465efb"/>
<path d="M234.8,478l5.7,-4.7l1.7,2.1l-5.6,3.2Z" color="#4564fd"/>
<path d="M233.1,476.8l5.6,-4.4l1.8,0.9l-5.7,4.7Z" color="#426afe"/>
<path d="M231.3,475.3l5.7,-3.4l1.7,0.5l-5.6,4.4Z" color="#3e70ff"/>
<path d="M229.6,473.8l5.6,-2.5l1.8,0.6l-5.7,3.4Z" color="#3876fe"/>
<path d="M227.8,472.9l5.7,-2.2l1.7,0.6l-5.6,2.5Z" color="#337bfc"/>
<path d="M226.1,472.4l5.6,-2.5l1.8,0.8l-5.7,2.2Z" color="#3080fb"/>
<path d="M224.3,471.8l5.7,-2.8l1.7,0.9l-5.6,2.5Z" color="#2e84f8"/>
<path d="M222.6,471.2l5.6,-3.2l1.8,1l-5.7,2.8Z" color="#2d89f6"/>
<path d="M220.8,470.3l5.7,-3.3l1.7,1l-5.6,3.2Z" color="#2d8df2"/>
<path d="M219.1,469.6l5.6,-3.1l1.8,0.5l-5.7,3.3Z" color="#2b92ef"/>
<path d="M217.3,469.5l5.7,-2.8l1.7,-0.2l-5.6,3.1Z" color="#2994ed"/>
<path d="M215.6,469.8l5.6,-2.7l1.8,-0.4l-5.7,2.8Z" color="#2896eb"/>
<path d="M213.8,470.2l5.7,-2.6l1.7,-0.5l-5.6,2.7Z" color="#2797eb"/>
<path d="M212.1,470.9l5.6,-2.5l1.8,-0.8l-5.7,2.6Z" color="#2798ea"/>
<path d="M210.3,471.7l5.7,-2.4l1.7,-0.9l-5.6,2.5Z" color="#2798ea"/>
<path d="M208.6,472.9l5.6,-2.6l1.8,-1l-5.7,2.4Z" color="#2798ea"/>
<path d="M206.8,474.2l5.7,-2.6l1.7,-1.3l-5.6,2.6Z" color="#2797eb"/>
<path d="M205.1,475.8l5.6,-2.5l1.8,-1.7l-5.7,2.6Z" color="#2895ec"/>
<path d="M203.3,477.7l5.7,-2.6l1.7,-1.8l-5.6,2.5Z" color="#2a93ee"/>
<path d="M201.6,479.7l5.6,-2.5l1.8,-2.1l-5.7,2.6Z" color="#2c90f0"/>
<path d="M199.8,481.8l5.7,-2.5l1.7,-2.1l-5.6,2.5Z" color="#2d8df2"/>
<path d="M198.1,483.9l5.6,-2.2l1.8,-2.4l-5.7,2.5Z" color="#2d89f5"/>
<path d="M196.3,486.7l5.7,-2.4l1.7,-2.6l-5.6,2.2Z" color="#2e85f8"/>
<path d="M194.6,489.6l5.6,-2.9l1.8,-2.4l-5.7,2.4Z" color="#3080fb"/>
<path d="M192.8,492.5l5.7,-3.1l1.7,-2.7l-5.6,2.9Z" color="#347afd"/>
<path d="M191.1,495.4l5.6,-3l1.8,-3l-5.7,3.1Z" color="#3a73fe"/>
<path d="M189.3,498.2l5.7,-3l1.7,-2.8l-5.6,3Z" color="#406dfe"/>
<path d="M187.6,500.7l5.6,-2.9l1.8,-2.6l-5.7,3Z" color="#4368fd"/>
<path d="M185.8,502.7l5.7,-2.3l1.7,-2.6l-5.6,2.9Z" color="#4563fc"/>
<path d="M184.1,504.6l5.6,-1.8l1.8,-2.4l-5.7,2.3Z" color="#465ffb"/>
<path d="M182.3,506.5l5.7,-1.5l1.7,-2.2l-5.6,1.8Z" color="#475bfa"/>
<path d="M180.6,508.4l5.6,-1.6l1.8,-1.8l-5.7,1.5Z" color="#4758f8"/>
<path d="M178.8,510.9l5.7,-2.5l1.7,-1.6l-5.6,1.6Z" color="#4755f6"/>
<path d="M177.1,513.7l5.6,-3.5l1.8,-1.8l-5.7,2.5Z" color="#4851f4"/>
<path d="M175.3,516.1l5.7,-4.3l1.7,-1.6l-5.6,3.5Z" color="#484ef1"/>
<path d="M173.6,518.3l5.6,-4.9l1.8,-1.6l-5.7,4.3Z" color="#484aee"/>
<path d="M171.8,519.8l5.7,-4.6l1.7,-1.8l-5.6,4.9Z" color="#4848ec"/>
<path d="M170.1,520.9l5.6,-4l1.8,-1.7l-5.7,4.6Z" color="#4746ea"/>
<path d="M168.3,522l5.7,-3.7l1.7,-1.4l-5.6,4Z" color="#4744e8"/>
<path d="M166.6,523.1l5.6,-3.4l1.8,-1.4l-5.7,3.7Z" color="#4743e7"/>
<path d="M265,475.8l5.8,-4.2l1.7,-0.8l-5.8,4.3Z" color="#484ef1"/>
<path d="M263.2,476.6l5.8,-4.3l1.8,-0.7l-5.8,4.2Z" color="#484ef1"/>
<path d="M261.5,477l5.8,-4l1.7,-0.7l-5.8,4.3Z" color="#484ff2"/>
<path d="M259.7,477.1l5.8,-3.6l1.8,-0.5l-5.8,4Z" color="#4850f3"/>
<path d="M258,477.2l5.8,-3.3l1.7,-0.4l-5.8,3.6Z" color="#4852f4"/>
<path d="M256.2,477.3l5.8,-2.9l1.8,-0.5l-5.8,3.3Z" color="#4853f5"/>
<path d="M254.5,477.1l5.8,-2.3l1.7,-0.4l-5.8,2.9Z" color="#4755f6"/>
<path d="M252.7,477l5.8,-1.8l1.8,-0.4l-5.8,2.3Z" color="#4757f7"/>
<path d="M251,477.2l5.8,-1.8l1.7,-0.2l-5.8,1.8Z" color="#4759f8"/>
<path d="M249.2,477.4l5.8,-2.9l1.8,0.9l-5.8,1.8Z" color="#475cfa"/>
<path d="M247.5,477.5l5.8,-4.8l1.7,1.8l-5.8,2.9Z" color="#4660fb"/>
<path d="M245.7,477.4l5.8,-6l1.8,1.3l-5.8,4.8Z" color="#4465fd"/>
<path d="M244,477.2l5.8,-6.7l1.7,0.9l-5.8,6Z" color="#4269fe"/>
<path d="M242.2,475.4l5.8,-5.2l1.8,0.3l-5.8,6.7Z" color="#3f6eff"/>
<path d="M240.5,473.3l5.8,-3.2l1.7,0.1l-5.8,5.2Z" color="#3974fe"/>
<path d="M238.7,472.4l5.8,-2.7l1.8,0.4l-5.8,3.2Z" color="#347afd"/>
<path d="M237,471.9l5.8,-2.8l1.7,0.6l-5.8,2.7Z" color="#317efb"/>
<path d="M235.2,471.3l5.8,-3l1.8,0.8l-5.8,2.8Z" color="#2f82f9"/>
<path d="M233.5,470.7l5.8,-3.6l1.7,1.2l-5.8,3Z" color="#2e87f7"/>
<path d="M231.7,469.9l5.8,-3.9l1.8,1.1l-5.8,3.6Z" color="#2d8cf3"/>
<path d="M230,469l5.8,-4.1l1.7,1.1l-5.8,3.9Z" color="#2b91ef"/>
<path d="M228.2,468l5.8,-4.1l1.8,1l-5.8,4.1Z" color="#2895ec"/>
<path d="M226.5,467l5.8,-4l1.7,0.9l-5.8,4.1Z" color="#269ae9"/>
<path d="M224.7,466.5l5.8,-3.9l1.8,0.4l-5.8,4Z" color="#249ee6"/>
<path d="M223,466.7l5.8,-3.7l1.7,-0.4l-5.8,3.9Z" color="#23a0e5"/>
<path d="M221.2,467.1l5.8,-3.7l1.8,-0.4l-5.8,3.7Z" color="#23a1e4"/>
<path d="M219.5,467.6l5.8,-3.7l1.7,-0.5l-5.8,3.7Z" color="#22a2e4"/>
<path d="M217.7,468.4l5.8,-3.4l1.8,-1.1l-5.8,3.7Z" color="#22a2e4"/>
<path d="M216,469.3l5.8,-3.3l1.7,-1l-5.8,3.4Z" color="#22a2e4"/>
<path d="M214.2,470.3l5.8,-3.3l1.8,-1l-5.8,3.3Z" color="#22a2e4"/>
<path d="M212.5,471.6l5.8,-3.3l1.7,-1.3l-5.8,3.3Z" color="#22a1e4"/>
<path d="M210.7,473.3l5.8,-3.4l1.8,-1.6l-5.8,3.3Z" color="#23a0e5"/>
<path d="M209,475.1l5.8,-3.5l1.7,-1.7l-5.8,3.4Z" color="#249ee6"/>
<path d="M207.2,477.2l5.8,-3.6l1.8,-2l-5.8,3.5Z" color="#259be8"/>
<path d="M205.5,479.3l5.8,-3.6l1.7,-2.1l-5.8,3.6Z" color="#2798ea"/>
<path d="M203.7,481.7l5.8,-3.8l1.8,-2.2l-5.8,3.6Z" color="#2995ec"/>
<path d="M202,484.3l5.8,-3.8l1.7,-2.6l-5.8,3.8Z" color="#2b90ef"/>
<path d="M200.2,486.7l5.8,-3.4l1.8,-2.8l-5.8,3.8Z" color="#2d8cf3"/>
<path d="M198.5,489.4l5.8,-3l1.7,-3.1l-5.8,3.4Z" color="#2e87f7"/>
<path d="M196.7,492.4l5.8,-3.6l1.8,-2.4l-5.8,3Z" color="#2f81fa"/>
<path d="M195,495.2l5.8,-4.2l1.7,-2.2l-5.8,3.6Z" color="#327cfc"/>
<path d="M193.2,497.8l5.8,-4.3l1.8,-2.5l-5.8,4.2Z" color="#3777fe"/>
<path d="M191.5,500.4l5.8,-4.2l1.7,-2.7l-5.8,4.3Z" color="#3c71ff"/>
<path d="M189.7,502.8l5.8,-3.9l1.8,-2.7l-5.8,4.2Z" color="#406cfe"/>
<path d="M188,505l5.8,-3.6l1.7,-2.5l-5.8,3.9Z" color="#4367fd"/>
<path d="M186.2,506.8l5.8,-3.1l1.8,-2.3l-5.8,3.6Z" color="#4563fd"/>
<path d="M184.5,508.4l5.8,-2.3l1.7,-2.4l-5.8,3.1Z" color="#4660fb"/>
<path d="M182.7,510.2l5.8,-1.9l1.8,-2.2l-5.8,2.3Z" color="#475cfa"/>
<path d="M181,511.8l5.8,-1.7l1.7,-1.8l-5.8,1.9Z" color="#4759f9"/>
<path d="M179.2,513.4l5.8,-2l1.8,-1.3l-5.8,1.7Z" color="#4757f7"/>
<path d="M177.5,515.2l5.8,-2.4l1.7,-1.4l-5.8,2Z" color="#4755f6"/>
<path d="M175.7,516.9l5.8,-2.9l1.8,-1.2l-5.8,2.4Z" color="#4854f5"/>
<path d="M174,518.3l5.8,-3.1l1.7,-1.2l-5.8,2.9Z" color="#4852f4"/>
<path d="M172.2,519.7l5.8,-3.4l1.8,-1.1l-5.8,3.1Z" color="#4851f3"/>
<path d="M270.8,471.6l5.9,-4.1l1.7,-0.7l-5.9,4Z" color="#465efb"/>
<path d="M269,472.3l5.9,-4.1l1.8,-0.7l-5.9,4.1Z" color="#465efb"/>
<path d="M267.3,473l5.9,-4.2l1.7,-0.6l-5.9,4.1Z" color="#465efb"/>
<path d="M265.5,473.5l5.9,-4.4l1.8,-0.3l-5.9,4.2Z" color="#465ffb"/>
<path d="M263.8,473.9l5.9,-5.2l1.7,0.4l-5.9,4.4Z" color="#4561fc"/>
<path d="M262,474.4l5.9,-6.1l1.8,0.4l-5.9,5.2Z" color="#4564fd"/>
<path d="M260.3,474.8l5.9,-6.8l1.7,0.3l-5.9,6.1Z" color="#4466fd"/>
<path d="M258.5,475.2l5.9,-7.4l1.8,0.2l-5.9,6.8Z" color="#4368fe"/>
<path d="M256.8,475.4l5.9,-7.8l1.7,0.2l-5.9,7.4Z" color="#416bfe"/>
<path d="M255,474.5l5.9,-6.8l1.8,-0.1l-5.9,7.8Z" color="#3f6eff"/>
<path d="M253.3,472.7l5.9,-4.9l1.7,-0.1l-5.9,6.8Z" color="#3b73fe"/>
<path d="M251.5,471.4l5.9,-3.7l1.8,0.1l-5.9,4.9Z" color="#3678fe"/>
<path d="M249.8,470.5l5.9,-2.9l1.7,0.1l-5.9,3.7Z" color="#327cfc"/>
<path d="M248,470.2l5.9,-2.9l1.8,0.3l-5.9,2.9Z" color="#3080fa"/>
<path d="M246.3,470.1l5.9,-3.7l1.7,0.9l-5.9,2.9Z" color="#2e84f9"/>
<path d="M244.5,469.7l5.9,-4.6l1.8,1.3l-5.9,3.7Z" color="#2d88f6"/>
<path d="M242.8,469.1l5.9,-5.1l1.7,1.1l-5.9,4.6Z" color="#2d8cf3"/>
<path d="M241,468.3l5.9,-5.2l1.8,0.9l-5.9,5.1Z" color="#2b91ef"/>
<path d="M239.3,467.1l5.9,-5.2l1.7,1.2l-5.9,5.2Z" color="#2896ec"/>
<path d="M237.5,466l5.9,-5.2l1.8,1.1l-5.9,5.2Z" color="#269be8"/>
<path d="M235.8,464.9l5.9,-5.2l1.7,1.1l-5.9,5.2Z" color="#249fe5"/>
<path d="M234,463.9l5.9,-5.2l1.8,1l-5.9,5.2Z" color="#20a4e3"/>
<path d="M232.3,463l5.9,-5.2l1.7,0.9l-5.9,5.2Z" color="#1da8e0"/>
<path d="M230.5,462.6l5.9,-4.9l1.8,0.1l-5.9,5.2Z" color="#1babde"/>
<path d="M228.8,463l5.9,-5l1.7,-0.3l-5.9,4.9Z" color="#19addc"/>
<path d="M227,463.4l5.9,-5.1l1.8,-0.3l-5.9,5Z" color="#18aedb"/>
<path d="M225.3,463.9l5.9,-5.2l1.7,-0.4l-5.9,5.1Z" color="#16afd9"/>
<path d="M223.5,465l5.9,-5.2l1.8,-1.1l-5.9,5.2Z" color="#16afd9"/>
<path d="M221.8,466l5.9,-5.1l1.7,-1.1l-5.9,5.2Z" color="#16aeda"/>
<path d="M220,467l5.9,-5l1.8,-1.1l-5.9,5.1Z" color="#17aeda"/>
<path d="M218.3,468.3l5.9,-4.9l1.7,-1.4l-5.9,5Z" color="#18addb"/>
<path d="M216.5,469.9l5.9,-4.9l1.8,-1.6l-5.9,4.9Z" color="#1aacdd"/>
<path d="M214.8,471.6l5.9,-4.9l1.7,-1.7l-5.9,4.9Z" color="#1baade"/>
<path d="M213,473.6l5.9,-5.1l1.8,-1.8l-5.9,4.9Z" color="#1da8e0"/>
<path d="M211.3,475.7l5.9,-5.1l1.7,-2.1l-5.9,5.1Z" color="#1fa6e2"/>
<path d="M209.5,477.9l5.9,-5l1.8,-2.3l-5.9,5.1Z" color="#21a2e4"/>
<path d="M207.8,480.5l5.9,-5.3l1.7,-2.3l-5.9,5Z" color="#249fe5"/>
<path d="M206,483.3l5.9,-5.7l1.8,-2.4l-5.9,5.3Z" color="#259be8"/>
<path d="M204.3,486.4l5.9,-6.3l1.7,-2.5l-5.9,5.7Z" color="#2796eb"/>
<path d="M202.5,488.8l5.9,-5.9l1.8,-2.8l-5.9,6.3Z" color="#2b92ef"/>
<path d="M200.8,491l5.9,-5.3l1.7,-2.8l-5.9,5.9Z" color="#2d8df2"/>
<path d="M199,493.5l5.9,-5.1l1.8,-2.7l-5.9,5.3Z" color="#2d89f6"/>
<path d="M197.3,496.2l5.9,-5.1l1.7,-2.7l-5.9,5.1Z" color="#2e84f9"/>
<path d="M195.5,498.9l5.9,-5.4l1.8,-2.4l-5.9,5.1Z" color="#307efb"/>
<path d="M193.8,501.4l5.9,-5.7l1.7,-2.2l-5.9,5.4Z" color="#347afd"/>
<path d="M192,503.7l5.9,-5.4l1.8,-2.6l-5.9,5.7Z" color="#3975fe"/>
<path d="M190.3,506.1l5.9,-5.6l1.7,-2.2l-5.9,5.4Z" color="#3d70ff"/>
<path d="M188.5,508.3l5.9,-5.8l1.8,-2l-5.9,5.6Z" color="#416cfe"/>
<path d="M186.8,510.1l5.9,-5.5l1.7,-2.1l-5.9,5.8Z" color="#4368fe"/>
<path d="M185,511.4l5.9,-5.1l1.8,-1.7l-5.9,5.5Z" color="#4466fd"/>
<path d="M183.3,512.8l5.9,-4.8l1.7,-1.7l-5.9,5.1Z" color="#4564fd"/>
<path d="M181.5,514l5.9,-4.2l1.8,-1.8l-5.9,4.8Z" color="#4562fc"/>
<path d="M179.8,515.2l5.9,-3.9l1.7,-1.5l-5.9,4.2Z" color="#4660fb"/>
<path d="M178,516.3l5.9,-3.6l1.8,-1.4l-5.9,3.9Z" color="#465ffb"/>
<path d="M276.7,467.5l6,-6.8l1.7,-0.7l-6,6.8Z" color="#3b72ff"/>
<path d="M274.9,468.2l6,-6.9l1.8,-0.6l-6,6.8Z" color="#3b73fe"/>
<path d="M273.2,468.8l6,-6.8l1.7,-0.7l-6,6.9Z" color="#3a73fe"/>
<path d="M271.4,469.1l6,-6.5l1.8,-0.6l-6,6.8Z" color="#3a74fe"/>
<path d="M269.7,468.7l6,-5.7l1.7,-0.4l-6,6.5Z" color="#3876fe"/>
<path d="M267.9,468.3l6,-5.1l1.8,-0.2l-6,5.7Z" color="#3579fd"/>
<path d="M266.2,468l6,-4.6l1.7,-0.2l-6,5.1Z" color="#327cfc"/>
<path d="M264.4,467.8l6,-4.3l1.8,-0.1l-6,4.6Z" color="#307ffb"/>
<path d="M262.7,467.6l6,-4.1l1.7,0l-6,4.3Z" color="#2f81fa"/>
<path d="M260.9,467.7l6,-4.6l1.8,0.4l-6,4.1Z" color="#2e84f8"/>
<path d="M259.2,467.8l6,-5.6l1.7,0.9l-6,4.6Z" color="#2e87f7"/>
<path d="M257.4,467.7l6,-6.2l1.8,0.7l-6,5.6Z" color="#2d8af4"/>
<path d="M255.7,467.6l6,-6.6l1.7,0.5l-6,6.2Z" color="#2c8ef2"/>
<path d="M253.9,467.3l6,-7.3l1.8,1l-6,6.6Z" color="#2b91ef"/>
<path d="M252.2,466.4l6,-7.5l1.7,1.1l-6,7.3Z" color="#2895ec"/>
<path d="M250.4,465.1l6,-7.1l1.8,0.9l-6,7.5Z" color="#269ae8"/>
<path d="M248.7,464l6,-6.8l1.7,0.8l-6,7.1Z" color="#249fe6"/>
<path d="M246.9,463.1l6,-6.9l1.8,1l-6,6.8Z" color="#21a3e3"/>
<path d="M245.2,461.9l6,-6.8l1.7,1.1l-6,6.9Z" color="#1ea7e1"/>
<path d="M243.4,460.8l6,-6.9l1.8,1.2l-6,6.8Z" color="#1aacdd"/>
<path d="M241.7,459.7l6,-6.9l1.7,1.1l-6,6.9Z" color="#14b0d8"/>
<path d="M239.9,458.7l6,-6.9l1.8,1l-6,6.9Z" color="#0cb3d3"/>
<path d="M238.2,457.8l6,-6.7l1.7,0.7l-6,6.9Z" color="#04b6cd"/>
<path d="M236.4,457.7l6,-6.7l1.8,0.1l-6,6.7Z" color="#01b8c9"/>
<path d="M234.7,458l6,-7l1.7,0l-6,6.7Z" color="#01b9c6"/>
<path d="M232.9,458.3l6,-7l1.8,-0.3l-6,7Z" color="#02bac4"/>
<path d="M231.2,458.7l6,-6.9l1.7,-0.5l-6,7Z" color="#03bbc3"/>
<path d="M229.4,459.8l6,-7.2l1.8,-0.8l-6,6.9Z" color="#03bbc2"/>
<path d="M227.7,460.9l6,-7.2l1.7,-1.1l-6,7.2Z" color="#03bbc3"/>
<path d="M225.9,462l6,-7.1l1.8,-1.2l-6,7.2Z" color="#02bac4"/>
<path d="M224.2,463.4l6,-7.1l1.7,-1.4l-6,7.1Z" color="#01bac5"/>
<path d="M222.4,465l6,-6.9l1.8,-1.8l-6,7.1Z" color="#01b9c7"/>
<path d="M220.7,466.7l6,-6.8l1.7,-1.8l-6,6.9Z" color="#01b7ca"/>
<path d="M218.9,468.5l6,-6.7l1.8,-1.9l-6,6.8Z" color="#05b6cd"/>
<path d="M217.2,470.6l6,-6.7l1.7,-2.1l-6,6.7Z" color="#09b4d1"/>
<path d="M215.4,472.9l6,-6.8l1.8,-2.2l-6,6.7Z" color="#0fb2d5"/>
<path d="M213.7,475.2l6,-6.7l1.7,-2.4l-6,6.8Z" color="#15afd9"/>
<path d="M211.9,477.6l6,-6.8l1.8,-2.3l-6,6.7Z" color="#19acdc"/>
<path d="M210.2,480.1l6,-6.8l1.7,-2.5l-6,6.8Z" color="#1da9e0"/>
<path d="M208.4,482.9l6,-7.1l1.8,-2.5l-6,6.8Z" color="#20a5e2"/>
<path d="M206.7,485.7l6,-7.5l1.7,-2.4l-6,7.1Z" color="#23a1e4"/>
<path d="M204.9,488.4l6,-7.6l1.8,-2.6l-6,7.5Z" color="#259ce7"/>
<path d="M203.2,491.1l6,-7.7l1.7,-2.6l-6,7.6Z" color="#2798ea"/>
<path d="M201.4,493.5l6,-7.4l1.8,-2.7l-6,7.7Z" color="#2994ed"/>
<path d="M199.7,495.7l6,-6.9l1.7,-2.7l-6,7.4Z" color="#2c8ff0"/>
<path d="M197.9,498.3l6,-7.2l1.8,-2.3l-6,6.9Z" color="#2d8bf4"/>
<path d="M196.2,500.5l6,-7.5l1.7,-1.9l-6,7.2Z" color="#2d87f7"/>
<path d="M194.4,502.5l6,-7.1l1.8,-2.4l-6,7.5Z" color="#2e84f9"/>
<path d="M192.7,504.6l6,-6.8l1.7,-2.4l-6,7.1Z" color="#3080fa"/>
<path d="M190.9,506.3l6,-6.4l1.8,-2.1l-6,6.8Z" color="#327cfc"/>
<path d="M189.2,508l6,-6.3l1.7,-1.8l-6,6.4Z" color="#3479fd"/>
<path d="M187.4,509.8l6,-6.6l1.8,-1.5l-6,6.3Z" color="#3776fe"/>
<path d="M185.7,511.3l6,-6.7l1.7,-1.4l-6,6.6Z" color="#3974fe"/>
<path d="M183.9,512.7l6,-6.8l1.8,-1.3l-6,6.7Z" color="#3b72fe"/>
<path d="M282.7,460.7l6.1,-8.6l1.8,-0.4l-6.2,8.3Z" color="#2d8cf3"/>
<path d="M280.9,461.3l6.2,-8.9l1.7,-0.3l-6.1,8.6Z" color="#2d8df2"/>
<path d="M279.2,462l6.1,-9.4l1.8,-0.2l-6.2,8.9Z" color="#2c8ef1"/>
<path d="M277.4,462.6l6.2,-9.7l1.7,-0.3l-6.1,9.4Z" color="#2c8ff0"/>
<path d="M275.7,463l6.1,-10.1l1.8,0l-6.2,9.7Z" color="#2b91ef"/>
<path d="M273.9,463.2l6.2,-10.3l1.7,0l-6.1,10.1Z" color="#2a93ee"/>
<path d="M272.2,463.4l6.1,-10.5l1.8,0l-6.2,10.3Z" color="#2995ec"/>
<path d="M270.4,463.5l6.2,-10.5l1.7,-0.1l-6.1,10.5Z" color="#2796eb"/>
<path d="M268.7,463.5l6.1,-10.5l1.8,0l-6.2,10.5Z" color="#2698ea"/>
<path d="M266.9,463.1l6.2,-10.2l1.7,0.1l-6.1,10.5Z" color="#259be8"/>
<path d="M265.2,462.2l6.1,-9.7l1.8,0.4l-6.2,10.2Z" color="#249ee6"/>
<path d="M263.4,461.5l6.2,-9.4l1.7,0.4l-6.1,9.7Z" color="#22a1e4"/>
<path d="M261.7,461l6.1,-9.5l1.8,0.6l-6.2,9.4Z" color="#20a5e2"/>
<path d="M259.9,460l6.2,-9.5l1.7,1l-6.1,9.5Z" color="#1da8e0"/>
<path d="M258.2,458.9l6.1,-9.3l1.8,0.9l-6.2,9.5Z" color="#19acdc"/>
<path d="M256.4,458l6.2,-9.5l1.7,1.1l-6.1,9.3Z" color="#14b0d8"/>
<path d="M254.7,457.2l6.1,-10l1.8,1.3l-6.2,9.5Z" color="#0bb3d2"/>
<path d="M252.9,456.2l6.2,-10.5l1.7,1.5l-6.1,10Z" color="#03b7cc"/>
<path d="M251.2,455.1l6.1,-10.6l1.8,1.2l-6.2,10.5Z" color="#01bac5"/>
<path d="M249.4,453.9l6.2,-10.3l1.7,0.9l-6.1,10.6Z" color="#08bcbf"/>
<path d="M247.7,452.8l6.1,-9.8l1.8,0.6l-6.2,10.3Z" color="#13beb8"/>
<path d="M245.9,451.8l6.2,-8.9l1.7,0.1l-6.1,9.8Z" color="#1dc0b3"/>
<path d="M244.2,451.1l6.1,-8.2l1.8,0l-6.2,8.9Z" color="#24c2ae"/>
<path d="M242.4,451l6.2,-8.2l1.7,0.1l-6.1,8.2Z" color="#29c3aa"/>
<path d="M240.7,451l6.1,-8.3l1.8,0.1l-6.2,8.2Z" color="#2cc4a6"/>
<path d="M238.9,451.3l6.2,-8.6l1.7,0l-6.1,8.3Z" color="#2fc5a3"/>
<path d="M237.2,451.8l6.1,-8.8l1.8,-0.3l-6.2,8.6Z" color="#30c5a1"/>
<path d="M235.4,452.6l6.2,-8.6l1.7,-1l-6.1,8.8Z" color="#31c6a0"/>
<path d="M233.7,453.7l6.1,-8.4l1.8,-1.3l-6.2,8.6Z" color="#30c5a1"/>
<path d="M231.9,454.9l6.2,-8.4l1.7,-1.2l-6.1,8.4Z" color="#2fc5a3"/>
<path d="M230.2,456.3l6.1,-8.6l1.8,-1.2l-6.2,8.4Z" color="#2ec4a4"/>
<path d="M228.4,458.1l6.2,-8.8l1.7,-1.6l-6.1,8.6Z" color="#2cc4a7"/>
<path d="M226.7,459.9l6.1,-8.9l1.8,-1.7l-6.2,8.8Z" color="#29c3aa"/>
<path d="M224.9,461.8l6.2,-8.9l1.7,-1.9l-6.1,8.9Z" color="#25c2ae"/>
<path d="M223.2,463.9l6.1,-8.6l1.8,-2.4l-6.2,8.9Z" color="#1ec0b2"/>
<path d="M221.4,466.1l6.2,-8.2l1.7,-2.6l-6.1,8.6Z" color="#15bfb7"/>
<path d="M219.7,468.5l6.1,-8l1.8,-2.6l-6.2,8.2Z" color="#0bbdbd"/>
<path d="M217.9,470.8l6.2,-7.8l1.7,-2.5l-6.1,8Z" color="#03bbc2"/>
<path d="M216.2,473.3l6.1,-8l1.8,-2.3l-6.2,7.8Z" color="#01b9c8"/>
<path d="M214.4,475.8l6.2,-8.2l1.7,-2.3l-6.1,8Z" color="#04b6cd"/>
<path d="M212.7,478.2l6.1,-8.5l1.8,-2.1l-6.2,8.2Z" color="#09b4d1"/>
<path d="M210.9,480.8l6.2,-9.2l1.7,-1.9l-6.1,8.5Z" color="#11b2d5"/>
<path d="M209.2,483.4l6.1,-9.8l1.8,-2l-6.2,9.2Z" color="#16afd9"/>
<path d="M207.4,486.1l6.2,-10.3l1.7,-2.2l-6.1,9.8Z" color="#1aacdd"/>
<path d="M205.7,488.8l6.1,-10.7l1.8,-2.3l-6.2,10.3Z" color="#1da8e0"/>
<path d="M203.9,491.1l6.2,-10.3l1.7,-2.7l-6.1,10.7Z" color="#20a4e3"/>
<path d="M202.2,493l6.1,-9.6l1.8,-2.6l-6.2,10.3Z" color="#23a1e4"/>
<path d="M200.4,495.4l6.2,-9.4l1.7,-2.6l-6.1,9.6Z" color="#249de6"/>
<path d="M198.7,497.8l6.1,-9.1l1.8,-2.7l-6.2,9.4Z" color="#2699e9"/>
<path d="M196.9,499.9l6.2,-8.8l1.7,-2.4l-6.1,9.1Z" color="#2895ec"/>
<path d="M195.2,501.7l6.1,-8.8l1.8,-1.8l-6.2,8.8Z" color="#2a92ee"/>
<path d="M193.4,503.2l6.2,-8.5l1.7,-1.8l-6.1,8.8Z" color="#2c90f0"/>
<path d="M191.7,504.6l6.1,-8.1l1.8,-1.8l-6.2,8.5Z" color="#2c8ef1"/>
<path d="M189.9,505.9l6.2,-7.6l1.7,-1.8l-6.1,8.1Z" color="#2d8cf3"/>
<path d="M288.8,452.1l6.2,-10l1.8,-0.5l-6.2,10.1Z" color="#1ea7e1"/>
<path d="M287.1,452.4l6.2,-9.9l1.7,-0.4l-6.2,10Z" color="#1da8e0"/>
<path d="M285.3,452.6l6.3,-9.7l1.7,-0.4l-6.2,9.9Z" color="#1da9e0"/>
<path d="M283.6,452.9l6.2,-9.6l1.8,-0.4l-6.3,9.7Z" color="#1caadf"/>
<path d="M281.8,452.9l6.2,-9.2l1.8,-0.4l-6.2,9.6Z" color="#1aabdd"/>
<path d="M280.1,452.9l6.2,-8.9l1.7,-0.3l-6.2,9.2Z" color="#19addc"/>
<path d="M278.3,452.9l6.3,-9.3l1.7,0.4l-6.2,8.9Z" color="#16aeda"/>
<path d="M276.6,453l6.2,-9.9l1.8,0.5l-6.3,9.3Z" color="#13b0d7"/>
<path d="M274.8,453l6.2,-10.4l1.8,0.5l-6.2,9.9Z" color="#0eb2d4"/>
<path d="M273.1,452.9l6.2,-10.9l1.7,0.6l-6.2,10.4Z" color="#08b4d0"/>
<path d="M271.3,452.5l6.3,-11l1.7,0.5l-6.2,10.9Z" color="#04b6cd"/>
<path d="M269.6,452.1l6.2,-11.2l1.8,0.6l-6.3,11Z" color="#01b8c8"/>
<path d="M267.8,451.5l6.2,-11.1l1.8,0.5l-6.2,11.2Z" color="#02bac4"/>
<path d="M266.1,450.5l6.2,-10.7l1.7,0.6l-6.2,11.1Z" color="#08bcbe"/>
<path d="M264.3,449.6l6.3,-10.8l1.7,1l-6.2,10.7Z" color="#13beb8"/>
<path d="M262.6,448.5l6.2,-10.6l1.8,0.9l-6.3,10.8Z" color="#1ec0b2"/>
<path d="M260.8,447.2l6.2,-10.1l1.8,0.8l-6.2,10.6Z" color="#28c2ab"/>
<path d="M259.1,445.7l6.2,-9.5l1.7,0.9l-6.2,10.1Z" color="#2ec5a3"/>
<path d="M257.3,444.5l6.3,-9.2l1.7,0.9l-6.2,9.5Z" color="#34c79b"/>
<path d="M255.6,443.6l6.2,-9.2l1.8,0.9l-6.3,9.2Z" color="#3ac993"/>
<path d="M253.8,443l6.2,-9.2l1.8,0.6l-6.2,9.2Z" color="#41ca8c"/>
<path d="M252.1,442.9l6.2,-9.5l1.7,0.4l-6.2,9.2Z" color="#48cb86"/>
<path d="M250.3,442.9l6.3,-9.8l1.7,0.3l-6.2,9.5Z" color="#4fcc80"/>
<path d="M248.6,442.8l6.2,-10.1l1.8,0.4l-6.3,9.8Z" color="#56cc7b"/>
<path d="M246.8,442.7l6.2,-10.5l1.8,0.5l-6.2,10.1Z" color="#5dcc74"/>
<path d="M245.1,442.7l6.2,-10.9l1.7,0.4l-6.2,10.5Z" color="#64cd6e"/>
<path d="M243.3,443l6.3,-11.2l1.7,0l-6.2,10.9Z" color="#6bcd69"/>
<path d="M241.6,444l6.2,-10.6l1.8,-1.6l-6.3,11.2Z" color="#6ccd69"/>
<path d="M239.8,445.3l6.2,-10.3l1.8,-1.6l-6.2,10.6Z" color="#68cd6c"/>
<path d="M238.1,446.5l6.2,-9.9l1.7,-1.6l-6.2,10.3Z" color="#64cd6f"/>
<path d="M236.3,447.7l6.3,-9.5l1.7,-1.6l-6.2,9.9Z" color="#60cd72"/>
<path d="M234.6,449.3l6.2,-9.4l1.8,-1.7l-6.3,9.5Z" color="#5ccc76"/>
<path d="M232.8,451l6.2,-9.5l1.8,-1.6l-6.2,9.4Z" color="#57cc7a"/>
<path d="M231.1,452.9l6.2,-9.8l1.7,-1.6l-6.2,9.5Z" color="#51cc7f"/>
<path d="M229.3,455.3l6.3,-10.6l1.7,-1.6l-6.2,9.8Z" color="#4bcb84"/>
<path d="M227.6,457.9l6.2,-11.5l1.8,-1.7l-6.3,10.6Z" color="#44ca8a"/>
<path d="M225.8,460.5l6.2,-12.2l1.8,-1.9l-6.2,11.5Z" color="#3dc990"/>
<path d="M224.1,463l6.2,-12l1.7,-2.7l-6.2,12.2Z" color="#37c898"/>
<path d="M222.3,465.3l6.3,-11.4l1.7,-2.9l-6.2,12Z" color="#32c69f"/>
<path d="M220.6,467.6l6.2,-10.9l1.8,-2.8l-6.3,11.4Z" color="#2dc4a6"/>
<path d="M218.8,469.7l6.2,-10.2l1.8,-2.8l-6.2,10.9Z" color="#26c2ac"/>
<path d="M217.1,471.6l6.2,-9.3l1.7,-2.8l-6.2,10.2Z" color="#1fc0b2"/>
<path d="M215.3,473.6l6.3,-8.8l1.7,-2.5l-6.2,9.3Z" color="#16bfb7"/>
<path d="M213.6,475.8l6.2,-9.1l1.8,-1.9l-6.3,8.8Z" color="#0dbdbc"/>
<path d="M211.8,478.1l6.2,-9.5l1.8,-1.9l-6.2,9.1Z" color="#07bcc0"/>
<path d="M210.1,480.8l6.2,-10.3l1.7,-1.9l-6.2,9.5Z" color="#02bac4"/>
<path d="M208.3,483.4l6.3,-11l1.7,-1.9l-6.2,10.3Z" color="#01b8c9"/>
<path d="M206.6,486l6.2,-11.7l1.8,-1.9l-6.3,11Z" color="#05b6ce"/>
<path d="M204.8,488.7l6.2,-12.5l1.8,-1.9l-6.2,11.7Z" color="#0bb4d2"/>
<path d="M203.1,491.1l6.2,-13.1l1.7,-1.8l-6.2,12.5Z" color="#12b1d6"/>
<path d="M201.3,492.9l6.3,-13l1.7,-1.9l-6.2,13.1Z" color="#16afd9"/>
<path d="M199.6,494.7l6.2,-12.8l1.8,-2l-6.3,13Z" color="#19addc"/>
<path d="M197.8,496.5l6.2,-12.7l1.8,-1.9l-6.2,12.8Z" color="#1babde"/>
<path d="M196.1,498.3l6.2,-12.6l1.7,-1.9l-6.2,12.7Z" color="#1da9e0"/>
</g>
<path d="M61.3,509.9L61.3,360.5M61.3,509.9L202.3,542M202.3,542L296.8,496.1M61.3,509.9L58.2,511.4M61.3,485L58.2,486.5M61.3,460.1L58.2,461.6M61.3,435.2L58.2,436.7M61.3,410.3L58.2,411.8M61.3,385.4L58.2,386.9M61.3,360.5L58.2,362M61.3,509.9L58.4,511.3M82.5,514.7L81.1,515.4M94.9,517.6L93.5,518.3M103.7,519.6L102.3,520.3M110.6,521.1L109.1,521.8M116.2,522.4L114.7,523.1M120.9,523.5L119.4,524.2M125,524.4L123.5,525.1M128.6,525.2L127.1,525.9M131.8,525.9L128.9,527.3M153,530.8L151.6,531.5M165.4,533.6L164,534.3M174.2,535.6L172.8,536.3M181.1,537.2L179.6,537.9M186.7,538.4L185.2,539.1M191.4,539.5L189.9,540.2M195.5,540.4L194,541.1M199.1,541.3L197.6,542M202.3,542L199.4,543.4M202.3,542L205.6,542.8M232.4,527.4L235.7,528.1M262.5,512.8L265.8,513.5M292.5,498.2L295.9,498.9" fill="none" stroke="#555555" stroke-width="0.7"/>
<g font-size="10.1" fill="#333333">
<text x="53.6" y="513.3" text-anchor="end">0</text>
<text x="53.6" y="488.4" text-anchor="end">0.5</text>
<text x="53.6" y="463.5" text-anchor="end">1</text>
<text x="53.6" y="438.6" text-anchor="end">1.5</text>
<text x="53.6" y="413.7" text-anchor="end">2</text>
<text x="53.6" y="388.8" text-anchor="end">2.5</text>
<text x="53.6" y="363.9" text-anchor="end">3</text>
<text x="38.1" y="527.4">10<tspan font-size="8.1" dy="-4.5">-1</tspan></text>
<text x="110.8" y="542.7">10<tspan font-size="8.1" dy="-4.5">0</tspan></text>
<text x="179.9" y="558.6">10<tspan font-size="8.1" dy="-4.5">1</tspan></text>
<text x="210" y="553.8" text-anchor="middle">0</text>
<text x="240.3" y="539.2" text-anchor="middle">2</text>
<text x="271" y="524.6" text-anchor="middle">4</text>
<text x="301.6" y="510" text-anchor="middle">6</text>
<text x="335.8" y="500.9">0.5</text>
<text x="335.8" y="455.6">1</text>
<text x="335.8" y="410.4">1.5</text>
<text x="335.8" y="365.2">2</text>
<text x="335.8" y="319.9">2.5</text>
</g>
<text x="26.2" y="573.6" font-size="11.14" fill="#333333">Eccentricity ratio <tspan font-style="italic">e</tspan><tspan font-size="8.9" dy="4.2">1</tspan><tspan dy="-4.2">/ </tspan><tspan font-style="italic">e</tspan><tspan font-size="8.9" dy="4.2">2</tspan></text>
<text x="207.3" y="575.5" font-size="11.29" fill="#333333">Initial phase difference (rad)</text>
<text x="23.6" y="429" font-size="11.93" fill="#333333" text-anchor="middle" transform="rotate(-90 23.6 429)">RMS of acceleration (m/s<tspan font-size="9.5" dy="-5.4">2</tspan><tspan dy="5.4">)</tspan></text>
<text x="261.1" y="602.5" font-size="17.5" fill="#1a1a1a" text-anchor="middle">(c)</text>
<rect x="318.5" y="315.8" width="13.8" height="225.4" fill="url(#gp)" stroke="#303030" stroke-width="0.6"/>
<path d="M332.3,497.4h-2.2M332.3,452.2h-2.2M332.3,407h-2.2M332.3,361.8h-2.2M332.3,316.5h-2.2" stroke="#303030" stroke-width="0.6" fill="none"/>
<rect x="391.2" y="308.6" width="241.8" height="228.9" fill="#000080"/>
<path d="M391.2,308.6L484.2,308.6L488.9,319L489.4,321.1L485.7,335.7L484.5,338.8L482.4,340.9L469.7,351.3L465.4,354.4L452.8,360.6L442.4,364.8L440.7,365.8L440.8,366.9L441.9,367.5L456.5,372.4L460.2,373.1L469.2,374L483.8,372.8L498.7,370L502.5,368.9L509.2,366.3L515,364.7L523.8,361.5L528.1,359.6L531.6,357.2L545.2,347.1L546.9,345L556.5,328.4L557.4,326.3L559.5,308.6L633,308.6L633,537.5L559.4,537.5L555.8,525L552.8,518.8L550.1,514.7L543.8,507.3L533.5,500.5L528.7,498L517,493.4L510.1,491.4L503.1,488.6L498.9,487.6L490.6,486.5L476,485.8L463.4,485.5L429.8,486.5L420.5,487.3L391.2,490.8ZM391.2,495.9L391.2,495L394.6,495.9L421.8,505.2L441.2,510.4L446.9,512.5L464.3,523.1L472.1,529.4L478.4,535.4L480.1,537.5L391.2,537.5Z" fill="#0000b2" fill-rule="evenodd"/>
<path d="M391.2,308.6L465.3,308.6L468.3,319L467.6,321.1L460.4,332.5L447.8,347.6L444.9,350.2L439,352.7L410.8,362.7L391.2,370ZM578.6,308.6L633,308.6L633,537.5L576.1,537.5L574.3,525L573.4,521.9L565.1,508.4L554.5,495.9L548.4,490.7L545.3,488.6L534.7,484.4L511.5,479.2L502.4,478L485.8,476.9L469.2,476.7L456.3,477.2L441.1,478.2L423.2,480.3L403.9,483L391.2,483.8L391.2,379.5L431.6,382.5L453.6,383.5L467.2,383.8L493.6,382.7L507.3,381.4L524.4,378.3L531.7,376.2L538.2,373.1L550.2,364.8L560.8,353.4L564.8,348.7L572.6,336.7L574.2,333.6L578.2,319ZM391.2,504.2L391.2,504L408.1,508.4L431.2,517.2L441.9,521.8L446.8,524.4L454.6,529.5L460.9,535.4L462.6,537.5L391.2,537.5Z" fill="#0000e6" fill-rule="evenodd"/>
<path d="M391.2,308.6L453.2,308.6L456.3,318L456.5,320L448.8,332.5L437.2,344L435.1,345.7L426.3,350.1L406.7,357.5L391.2,364.3ZM588.8,308.6L633,308.6L633,537.5L587.2,537.5L584.5,527.1L578.7,513.6L567.1,498L554,485.1L540.3,477.2L534.5,475.2L514,470.8L505.3,470L495.5,470L476,471.2L431.2,475.3L421.4,476.5L404.7,479.2L391.2,480.1L391.2,383.5L404.3,384.6L431.8,387.7L472.1,390.4L490.6,391.2L503.3,390.4L517.6,388.7L527.6,386.6L539.4,382.9L546.2,379.7L558.3,371L563.8,365.3L574,353.3L583.6,335.7L587.7,321.1ZM391.2,508.4L391.2,507.6L397.2,509.4L422.4,518.7L429.5,521.9L437.4,526.1L440.7,528.1L449.4,535.4L451.4,537.5L391.2,537.5Z" fill="#001aff" fill-rule="evenodd"/>
<path d="M391.2,308.6L443.4,308.6L446.8,318L447,320L445.5,323.2L440,332.1L426.6,344L422.4,346.3L391.2,359.3ZM600.7,308.6L633,308.6L633,537.5L600.7,537.5L598.9,526.2L595.9,515.7L585.2,498L575.7,486.5L562.8,475.1L552.1,467.8L547.6,465.7L544.2,464.7L532.6,462.6L513.1,461.2L496.5,461.5L479,462.5L462.8,464.7L402.9,475.4L391.2,477L391.2,387.2L415.9,391.8L443.1,396L476,399.7L491.6,400.9L509.2,401.5L520.9,400.8L529.7,399.6L544,396L546.8,395L550.7,392.9L561.4,385.6L580.3,367.3L584.2,362.6L593,347.9L595,342.8L599.8,324.2ZM391.2,511.5L391.2,510.9L413.6,519.2L427.3,525.5L432.1,528.5L440.2,535.4L442.2,537.5L391.2,537.5Z" fill="#004dff" fill-rule="evenodd"/>
<path d="M391.2,308.6L435.1,308.6L438.8,318L438.9,320L432.5,331.5L419.4,342.9L414.6,345.6L391.2,356.3ZM607.3,308.6L633,308.6L633,537.5L607.3,537.5L603.2,516.7L602.2,513.6L595,497.6L584.2,482.2L581.3,479L563.8,463.4L559.9,460.9L546.9,454.3L540.9,452.2L530.6,449.9L518.9,448.5L508.2,448.5L496.5,449.7L472.5,455.3L426.5,467.8L401.2,473L391.2,474.4L391.2,390.1L435.1,398.8L466.6,404.3L495.9,411.6L502.4,412.9L511.1,414.1L518,414.6L523.8,414.3L528.7,413.1L541,408.5L545.6,406.4L553,401.9L560.8,396.6L565.6,392.9L579.9,378.3L592,360.6L600.8,341.9L606.2,324.2ZM391.2,514.6L391.2,513.8L410.7,521.2L419.4,525L425,528.1L427.8,530.2L434.4,537.5L391.2,537.5Z" fill="#0080ff" fill-rule="evenodd"/>
<path d="M391.2,308.6L428.1,308.6L432.1,319L431.5,321.1L426.6,330.4L424.7,332.5L415,340.9L410.4,344L391.2,353.5ZM616,308.6L633,308.6L633,537.5L616.5,537.5L614.2,527.1L609.9,513.6L602.8,496.5L600.8,492.6L590.1,474.8L572.1,456.3L559.5,442.8L554.7,433.5L554.2,431.4L555.4,427.2L557.4,422L563.9,412.6L589.2,384.6L598.9,371.4L601.1,367.9L608.6,351.9L610,348.1L614.9,327.3ZM391.2,392.9L395.1,393.6L442.8,405.4L468.2,413.7L479,418.6L482.9,421L493,433.5L493.2,434.5L492.4,435.5L475.9,445.9L449.3,457.4L442.6,459.5L391.2,472.2ZM391.2,516.7L392.2,516.8L410.5,524L416.6,527.1L420.1,529.2L422.4,531L427.4,537.5L391.2,537.5Z" fill="#00b2ff" fill-rule="evenodd"/>
<path d="M391.2,308.6L422.2,308.6L426,319L425.4,321.1L422.2,328.4L420,331.5L408,341.9L391.2,350.8ZM621.6,308.6L633,308.6L633,537.5L622.2,537.5L618.5,519.8L612.7,503.2L609.6,495.9L604.5,485.5L598.1,474L586.2,456.3L578.8,443.9L576.3,437.6L575.3,431.4L575.8,422L578.1,413.7L579.7,409.5L598.9,384.6L607.5,370L610.5,363.7L615.3,349.2L619.6,328.4ZM391.2,396L391.2,395.2L443,411.6L448.7,413.8L457.5,418.3L463.9,422L472.5,432.4L472.8,433.5L472.5,434.5L466.2,441.8L463.9,443.9L443.9,453.6L432,458.4L391.2,470.3ZM391.2,519.8L391.2,518.9L404.9,524.5L410,527.1L416.5,531.5L419.1,534.4L421.2,537.5L391.2,537.5Z" fill="#00e5ff" fill-rule="evenodd"/>
<path d="M391.2,308.6L417,308.6L420.7,319L420.3,321.1L417.2,328.4L415,331.5L404.4,340.9L391.2,348.1ZM626.8,308.6L633,308.6L633,537.5L626.9,537.5L623.6,519.8L618.4,502.8L610.6,484.2L593.9,450.1L589.8,438.7L589.4,436.6L588.7,423L591.5,408.5L606.9,384.6L616.6,363.7L620.3,350.2L622.4,339.8L624.7,326.3ZM391.2,398.1L391.2,397.6L430.2,412.4L445.6,417.8L450.4,419.9L454.1,422L455.3,423L456.5,425.1L458.8,433.5L458,435.5L452.6,444.9L446.2,449.1L439.7,452.2L412.7,461.5L391.2,468.5ZM391.2,521.9L391.2,521.2L402.2,526.1L406,528.1L411.6,532.3L415.8,537.5L391.2,537.5Z" fill="#1affe5" fill-rule="evenodd"/>
<path d="M391.2,308.6L412.3,308.6L416.3,319L415.9,321.1L412.8,328.4L410.6,331.5L401.7,339.8L391.2,345.4ZM632.4,308.6L633,308.6L633,537.5L631.2,537.5L630.3,532.3L629.3,529.2L624.7,509.4L617.2,485.5L614.6,478.2L605.9,458.4L602.6,449.1L599.6,437.6L598.3,423L601.2,407.4L610.5,390.8L614.7,382.5L623,360.6L626.9,347.1L628.5,339.8L628.6,336.7L630,329.4ZM391.2,400.2L394.2,401.2L435.1,419.4L441.9,422.8L445.4,425.1L446.6,427.2L448.2,433.5L447.5,435.5L441.9,444.9L436,448.5L428.5,452.2L391.2,466.7ZM391.2,524L391.2,523.4L402.8,529.2L407.4,533.3L411.1,537.5L391.2,537.5Z" fill="#4dffb2" fill-rule="evenodd"/>
<path d="M391.2,308.6L408,308.6L412,319L411.2,322.1L408.6,328.4L407.4,330.4L398.8,338.8L391.2,342.8ZM633,342.9L633,523.2L621.4,479.2L613.2,458.4L610.4,450.1L607.6,437.6L606.5,423L607.4,415.8L609.1,407.4L620.3,381.9L625.7,367.9L628.2,360.6ZM391.2,403.3L391.2,402.5L435.5,425.1L437.6,427.2L439.9,433.5L439.2,435.5L434.2,443.9L431.8,445.9L412.5,455.3L391.2,464.7ZM391.2,526.1L391.2,525.6L399.6,530.2L405,535.4L406.6,537.5L391.2,537.5Z" fill="#80ff80" fill-rule="evenodd"/>
<path d="M391.2,308.6L403.8,308.6L407.8,319L407.4,321.1L405.1,327.3L403.5,330.4L394.1,338.8L391.2,340.3ZM632.7,361.7L633,360.8L633,499.2L626.2,475.8L617.1,451.1L614.3,439.7L613.1,426.2L614.1,414.7L615.9,407.4L619,397L627.9,373.1L630.8,367.9ZM391.2,405.4L391.2,405L428.7,426.2L430.8,428.3L433.3,433.5L432.7,435.5L427.5,443.9L426.6,444.9L422.8,447L411.3,452.2L391.2,462.8ZM391.2,528.1L394.1,529.5L398.2,532.3L402.4,537.5L391.2,537.5Z" fill="#b3ff4c" fill-rule="evenodd"/>
<path d="M391.2,308.6L400.2,308.6L404,319L403.6,321.1L400.4,329.4L398.7,331.5L391.2,337.5ZM632.4,377.3L633,376.3L633,481.8L623.3,453.2L620.7,440.7L619.4,426.2L619.5,422L620.3,415.8L624.9,396L629.1,384.3ZM391.2,408.5L391.2,407.5L421.2,426.2L423.7,428.3L426.5,433.5L426,435.5L423.3,440.7L421.9,442.8L420.5,444.2L417.6,445.9L406.8,451.2L391.2,460.9ZM391.2,531.3L391.2,530.4L394.4,532.3L396.5,534.4L398.6,537.5L391.2,537.5Z" fill="#e5ff1a" fill-rule="evenodd"/>
<path d="M391.2,308.6L396.9,308.6L400.4,319L400,321.1L396.7,329.4L395,331.5L391.2,334.6ZM632.4,391.8L633,390.8L633,469.1L629.9,459.5L628.4,453.2L625,423L625.2,421L629.6,402.2L630.4,397ZM391.2,410.6L391.2,410.1L393.6,411.6L415.8,427.2L416.8,428.3L418,430.3L419.4,433.5L419.5,434.5L417.7,440.7L416.5,442.2L414.1,443.9L405.8,448.1L391.2,458.9ZM391.2,533.3L391.2,532.9L393.1,534.4L395.4,537.5L391.2,537.5Z" fill="#ffe500" fill-rule="evenodd"/>
<path d="M391.2,308.6L393.2,308.6L395.7,314.8L396.9,319L396.5,321.1L394.4,326.3L392.5,329.4L391.2,330.6ZM632.9,409.5L633,443.8L632,438.7L630,423L630.1,421ZM391.2,413.7L391.2,412.9L392.5,413.7L409.3,427.2L410.3,428.3L411.5,430.3L412.3,432.4L412.6,434.5L410.6,439.7L409.3,441.8L401.5,447L394.2,454.3L391.2,456.7ZM391.2,536.5L392.1,537.5L391.2,537.5Z" fill="#ffb300" fill-rule="evenodd"/>
<path d="M391.2,313.8L391.2,313L392.4,314.8L393.7,319L392.7,323.2L391.2,325.7ZM391.2,416.8L391.2,415.8L392.6,416.8L404.4,428.3L405.6,430.3L406.6,433.5L405.8,435.5L402.1,440.7L392.4,453.2L391.2,454.3Z" fill="#ff8000" fill-rule="evenodd"/>
<path d="M391.2,418.9L392.2,419.5L399.6,428.3L401.6,431.4L402.3,433.5L401.7,435.5L391.2,451.6Z" fill="#ff4c00" fill-rule="evenodd"/>
<path d="M391.2,422L391.2,421.4L392.8,423L398.3,431.4L399.3,433.5L399.3,434.5L398.3,436.6L391.2,448.9Z" fill="#ff1a00" fill-rule="evenodd"/>
<path d="M391.2,424.1L391.2,423.8L392.2,425L397.2,433.5L396.8,435.5L391.2,445.9Z" fill="#e50000" fill-rule="evenodd"/>
<path d="M391.2,426.2L394.1,430.7L395.4,433.5L395,435.5L391.2,442.5Z" fill="#b30000" fill-rule="evenodd"/>
<path d="M391.2,429.3L392.6,431.4L393.5,433.5L393,435.5L391.2,438.7Z" fill="#800000" fill-rule="evenodd"/>
<mask id="m391" maskUnits="userSpaceOnUse" x="0" y="0" width="685" height="608"><rect x="0" y="0" width="685" height="608" fill="#fff"/><g fill="#000"><rect x="417.8" y="334.6" width="34.5" height="7" transform="rotate(-41.6 435.1 338.1)"/><rect x="436.9" y="338.6" width="34.5" height="7" transform="rotate(-50.6 454.2 342.1)"/><rect x="534.1" y="358.5" width="34.5" height="7" transform="rotate(-43.9 551.4 362)"/><rect x="541.2" y="382.1" width="34.5" height="7" transform="rotate(-36.3 558.5 385.6)"/><rect x="556.1" y="394.3" width="34.5" height="7" transform="rotate(-47.1 573.4 397.8)"/><rect x="591.9" y="371.3" width="34.5" height="7" transform="rotate(-63.3 609.1 374.8)"/><rect x="610.1" y="366.9" width="24.5" height="7" transform="rotate(-69.8 622.4 370.4)"/><rect x="604.9" y="447.2" width="29.5" height="7" transform="rotate(74.3 619.7 450.7)"/><rect x="409.3" y="378.3" width="34.5" height="7" transform="rotate(3.4 426.5 381.8)"/><rect x="414.8" y="389.9" width="34.5" height="7" transform="rotate(8.3 432.1 393.4)"/><rect x="412.4" y="397.3" width="34.5" height="7" transform="rotate(12.8 429.7 400.8)"/><rect x="420.1" y="409.7" width="34.5" height="7" transform="rotate(19.6 437.3 413.2)"/><rect x="412.6" y="414.1" width="24.5" height="7" transform="rotate(25.9 424.9 417.6)"/><rect x="403.9" y="418.8" width="29.5" height="7" transform="rotate(30.6 418.7 422.3)"/><rect x="400.2" y="425.6" width="29.5" height="7" transform="rotate(56.1 415 429.1)"/><rect x="446.9" y="450.2" width="34.5" height="7" transform="rotate(-20.8 464.1 453.7)"/><rect x="447.9" y="462" width="34.5" height="7" transform="rotate(-9 465.2 465.5)"/><rect x="422.4" y="475.3" width="34.5" height="7" transform="rotate(-6.2 439.7 478.8)"/><rect x="405.8" y="509.9" width="34.5" height="7" transform="rotate(21.2 423.1 513.4)"/><rect x="544.4" y="502" width="34.5" height="7" transform="rotate(50.9 561.7 505.5)"/><rect x="565.8" y="494.9" width="34.5" height="7" transform="rotate(53 583.1 498.4)"/><rect x="580.5" y="488.8" width="34.5" height="7" transform="rotate(59.5 597.8 492.3)"/><rect x="597.6" y="495.5" width="34.5" height="7" transform="rotate(66.9 614.9 499)"/></g></mask>
<path d="M466.6,308.6L469.6,318L469.5,320L462,332.5L448.2,349.2L445.8,350.8L440.9,352.8L410.1,363.7L395.1,369.5L391.2,370.6M391.2,379.1L420.2,381.4L436.8,382.5L461.2,383.5L467.2,383.5L491.2,382.5L502,381.4L523.3,377.3L531.6,375L533.6,374.1L537.3,372.1L546.9,365.8L549.6,363.7L560.8,351.8L563.8,348.2L571.6,336.3L573,333.6L577,319L577.4,308.6M391.2,503.4L409.7,508.4L432.1,517L442.9,521.5L447.4,524L455.4,529.2L459.5,532.8L463.9,537.5M574.9,537.5L572.7,522.9L570.6,519L563.2,507.3L553.1,495.9L546.8,490.7L543.4,488.6L533.5,485L523.8,483.1L506.9,479.2L500.1,478.2L486.6,477.2L476,476.9L461.3,477.2L445.2,478.2L427,480.3L413.5,482.4L411.7,483L409,483.4L391.2,484.2M445.1,308.6L448.4,318L448.7,320L447.7,322.1L442.8,330.4L440.1,333.6L429.2,343.3L426.3,345.3L421.4,347.6L391.2,360M391.2,386.6L414.6,390.8L442.6,395L478.5,399.1L494.5,400.5L509.2,400.9L519.5,400.2L533.9,397L541.1,395L549.2,391.1L558.5,385.6L573.5,372L580.1,365.8L582.3,363.1L591.1,349L593,345L598.3,324.2L599.1,308.6M391.2,510.3L416.9,519.8L429.2,525.8L431.6,527.1L434.1,528.9L441.8,535.4L443.8,537.5M599.1,537.5L597.5,527.1L594.1,515.7L591.1,510.6L582.8,498L572.9,486.5L559.9,475.5L549.2,469.1L541.1,465.7L531.9,463.6L524.5,462.6L514,461.8L502.4,461.8L486.9,462.6L470.3,464.7L425.1,472L400,476.5L391.2,477.5M429.9,308.6L433.3,316.9L433.9,319L433.7,320L429,329.4L427.5,331.5L414.1,342.9L391.2,354.3M391.2,392L444.9,404.3L466.3,410.4L482.3,413.7L485.9,414.7L489.7,416.9L497.3,423L505.6,433.5L505.7,434.5L504.4,435.5L500.8,437.6L484.8,445.7L454.5,457.4L443,460.5L391.2,472.7M391.2,515.8L412.4,524L418.5,527.1L423.3,530.2L427.9,535.4L429.3,537.5M614.1,537.5L611.2,524L606.7,508.8L599.3,494.8L588.5,477.2L567.7,457.4L558.9,451.1L553.7,447L540.5,435.5L539.8,434.5L540,433.5L541.3,431.4L547.2,423L549.4,421L557.9,414.2L574.5,396.6L585.6,384.6L597.2,368.9L605.7,352.2L607.3,348.1L612.5,327.3L613.8,308.6M418.8,308.6L422.5,319L422.1,321.1L418.5,329.4L416.7,331.5L405.8,341.1L402.9,342.9L391.2,349.1M391.2,396.7L450,417.8L454.5,419.9L458.1,422L459.2,423L460.4,425.1L462.4,430.3L463.3,433.5L462.4,435.5L458.5,441.8L456.1,444.9L452.9,447L445,451.1L427.3,457.7L391.2,469.2M391.2,520.4L402.9,525.4L407.9,528.1L413.6,532.3L416.3,535.4L417.7,537.5M625.2,537.5L622,519.8L616.3,502.1L608.3,484.4L589.5,449.1L585.4,438.7L584.9,436.6L584.3,423L586.7,411.6L587.7,408.5L596.5,396L604.1,384.6L614.1,364.8L618,351.3L618.9,347.1L622.7,327.3L624.9,308.6M409.9,308.6L414,319L413.5,321.1L410,329.4L408.4,331.5L400.9,338.8L397.5,340.9L391.2,344M391.2,401.3L439,424.6L440.8,426.2L441.4,427.2L443.4,433.5L442.7,435.5L438.4,442.8L436.8,444.9L435.3,445.9L416.2,455.3L391.2,465.6M391.2,524.6L398,527.9L401,529.7L407,535.4L408.7,537.5M633,533.7L626.9,508.4L618.6,479.2L610,458.4L607.2,450.1L604.2,437.6L602.9,423L603.3,419.9L605.7,407.4L614.5,389.7L619.3,378.8L625.9,360.6L630,346.1L632,336.7L633,334M402.1,308.6L405.8,318L405.9,320L403,328.4L401.7,330.4L393.1,337.9L391.2,339.1M391.2,406.1L425.2,426.2L427.6,428.3L429.5,431.4L430.3,433.5L430.2,434.5L425.2,442.8L423.5,444.9L421.8,445.9L408.8,451.9L391.2,461.9M633,488.9L632,486.8L626.6,469.9L620.1,452.2L617.1,439.7L616,426.2L616.8,415.8L621.8,396L630.1,373.6L633,368.6M391.2,529.1L396.4,532.3L398.4,534.4L400.6,537.5M395.6,308.6L399,318L399.1,320L395.3,329.4L393.5,331.5L391.2,333.4M391.2,411.1L413.4,427.2L415.1,429.3L416.6,432.4L417.1,434.5L415.8,439.7L414.7,441.8L413.4,442.8L404.9,447.2L391.2,458.2M633,463.6L630.3,452.2L626.9,422L632.1,399.1L633,396.3M391.2,534L392.8,535.4L394.2,537.5M391.2,314.7L392.2,316.3L393,319L392.3,322.1L391.2,324.3M391.2,416.6L392.8,417.8L403,428.3L404.3,430.3L405.2,433.5L405,434.5L403.7,436.6L392.5,452.2L391.2,453.6M391.2,421.9L392.4,423L397.9,431.4L398.9,433.5L398.5,435.5L392.8,445.9L391.2,448.4M391.2,426.4L394.1,431L395.3,433.5L394.8,435.5L391.2,442.1" fill="none" stroke="#000" stroke-width="0.55" mask="url(#m391)"/>
<g font-family="Liberation Sans" font-size="9.0" text-anchor="middle" fill="#000"><text x="435.1" y="341.4" transform="rotate(-41.6 435.1 338.1)">0.46933</text><text x="454.2" y="345.4" transform="rotate(-50.6 454.2 342.1)">0.24277</text><text x="551.4" y="365.3" transform="rotate(-43.9 551.4 362)">0.24277</text><text x="558.5" y="388.9" transform="rotate(-36.3 558.5 385.6)">0.46933</text><text x="573.4" y="401.1" transform="rotate(-47.1 573.4 397.8)">0.69589</text><text x="609.1" y="378.1" transform="rotate(-63.3 609.1 374.8)">0.92245</text><text x="622.4" y="373.7" transform="rotate(-69.8 622.4 370.4)">1.149</text><text x="619.7" y="454" transform="rotate(74.3 619.7 450.7)">1.3756</text><text x="426.5" y="385.1" transform="rotate(3.4 426.5 381.8)">0.24277</text><text x="432.1" y="396.7" transform="rotate(8.3 432.1 393.4)">0.46933</text><text x="429.7" y="404.1" transform="rotate(12.8 429.7 400.8)">0.69589</text><text x="437.3" y="416.5" transform="rotate(19.6 437.3 413.2)">0.92245</text><text x="424.9" y="420.9" transform="rotate(25.9 424.9 417.6)">1.149</text><text x="418.7" y="425.6" transform="rotate(30.6 418.7 422.3)">1.3756</text><text x="415" y="432.4" transform="rotate(56.1 415 429.1)">1.6021</text><text x="464.1" y="457" transform="rotate(-20.8 464.1 453.7)">0.69589</text><text x="465.2" y="468.8" transform="rotate(-9 465.2 465.5)">0.46933</text><text x="439.7" y="482.1" transform="rotate(-6.2 439.7 478.8)">0.24277</text><text x="423.1" y="516.7" transform="rotate(21.2 423.1 513.4)">0.24277</text><text x="561.7" y="508.8" transform="rotate(50.9 561.7 505.5)">0.24277</text><text x="583.1" y="501.7" transform="rotate(53 583.1 498.4)">0.46933</text><text x="597.8" y="495.6" transform="rotate(59.5 597.8 492.3)">0.69589</text><text x="614.9" y="502.3" transform="rotate(66.9 614.9 499)">0.92245</text></g>
<rect x="391.2" y="308.6" width="241.8" height="228.9" fill="none" stroke="#303030" stroke-width="0.7"/>
<g font-size="10.6" fill="#333333">
<text x="387" y="541.1" text-anchor="end">0</text>
<text x="387" y="504.7" text-anchor="end">1</text>
<text x="387" y="468.2" text-anchor="end">2</text>
<text x="387" y="431.8" text-anchor="end">3</text>
<text x="387" y="395.4" text-anchor="end">4</text>
<text x="387" y="358.9" text-anchor="end">5</text>
<text x="387" y="322.5" text-anchor="end">6</text>
<text x="391.2" y="556.3" text-anchor="middle">10<tspan font-size="8.5" dy="-4.8">-1</tspan></text>
<text x="512.1" y="556.3" text-anchor="middle">10<tspan font-size="8.5" dy="-4.8">0</tspan></text>
<text x="633" y="556.3" text-anchor="middle">10<tspan font-size="8.5" dy="-4.8">1</tspan></text>
<text x="662" y="519.2">0.2</text>
<text x="662" y="500.3">0.4</text>
<text x="662" y="481.4">0.6</text>
<text x="662" y="462.5">0.8</text>
<text x="662" y="443.6">1</text>
<text x="662" y="424.7">1.2</text>
<text x="662" y="405.7">1.4</text>
<text x="662" y="386.8">1.6</text>
<text x="662" y="367.9">1.8</text>
<text x="662" y="349">2</text>
<text x="662" y="330.1">2.2</text>
</g>
<path d="M391.2,537.5h2.5M633,537.5h-2.5M391.2,501.1h2.5M633,501.1h-2.5M391.2,464.6h2.5M633,464.6h-2.5M391.2,428.2h2.5M633,428.2h-2.5M391.2,391.8h2.5M633,391.8h-2.5M391.2,355.3h2.5M633,355.3h-2.5M391.2,318.9h2.5M633,318.9h-2.5M391.2,537.5v-2.5M391.2,308.6v2.5M427.6,537.5v-1.3M427.6,308.6v1.3M448.9,537.5v-1.3M448.9,308.6v1.3M464,537.5v-1.3M464,308.6v1.3M475.7,537.5v-1.3M475.7,308.6v1.3M485.3,537.5v-1.3M485.3,308.6v1.3M493.4,537.5v-1.3M493.4,308.6v1.3M500.4,537.5v-1.3M500.4,308.6v1.3M506.6,537.5v-1.3M506.6,308.6v1.3M512.1,537.5v-2.5M512.1,308.6v2.5M548.5,537.5v-1.3M548.5,308.6v1.3M569.8,537.5v-1.3M569.8,308.6v1.3M584.9,537.5v-1.3M584.9,308.6v1.3M596.6,537.5v-1.3M596.6,308.6v1.3M606.2,537.5v-1.3M606.2,308.6v1.3M614.3,537.5v-1.3M614.3,308.6v1.3M621.3,537.5v-1.3M621.3,308.6v1.3M627.5,537.5v-1.3M627.5,308.6v1.3M633,537.5v-2.5M633,308.6v2.5" stroke="#303030" stroke-width="0.6" fill="none"/>
<text x="368.4" y="423" font-size="12.66" fill="#333333" text-anchor="middle" transform="rotate(-90 368.4 423)">Initial phase difference (rad)</text>
<text x="453.4" y="577.3" font-size="11.8" fill="#333333">Eccentricity ratio <tspan font-style="italic">e</tspan><tspan font-size="9.4" dy="4.5">1</tspan><tspan dy="-4.5">/ </tspan><tspan font-style="italic">e</tspan><tspan font-size="9.4" dy="4.5">2</tspan></text>
<text x="426.1" y="602.5" font-size="17.5" fill="#1a1a1a" text-anchor="middle">(d)</text>
<rect x="641.2" y="308.6" width="16.7" height="224.4" fill="url(#gj)" stroke="#303030" stroke-width="0.6"/>
<path d="M657.9,515.6h-2.2M657.9,496.7h-2.2M657.9,477.8h-2.2M657.9,458.9h-2.2M657.9,440h-2.2M657.9,421.1h-2.2M657.9,402.2h-2.2M657.9,383.3h-2.2M657.9,364.3h-2.2M657.9,345.4h-2.2M657.9,326.5h-2.2" stroke="#303030" stroke-width="0.6" fill="none"/>
</svg></body></html>
